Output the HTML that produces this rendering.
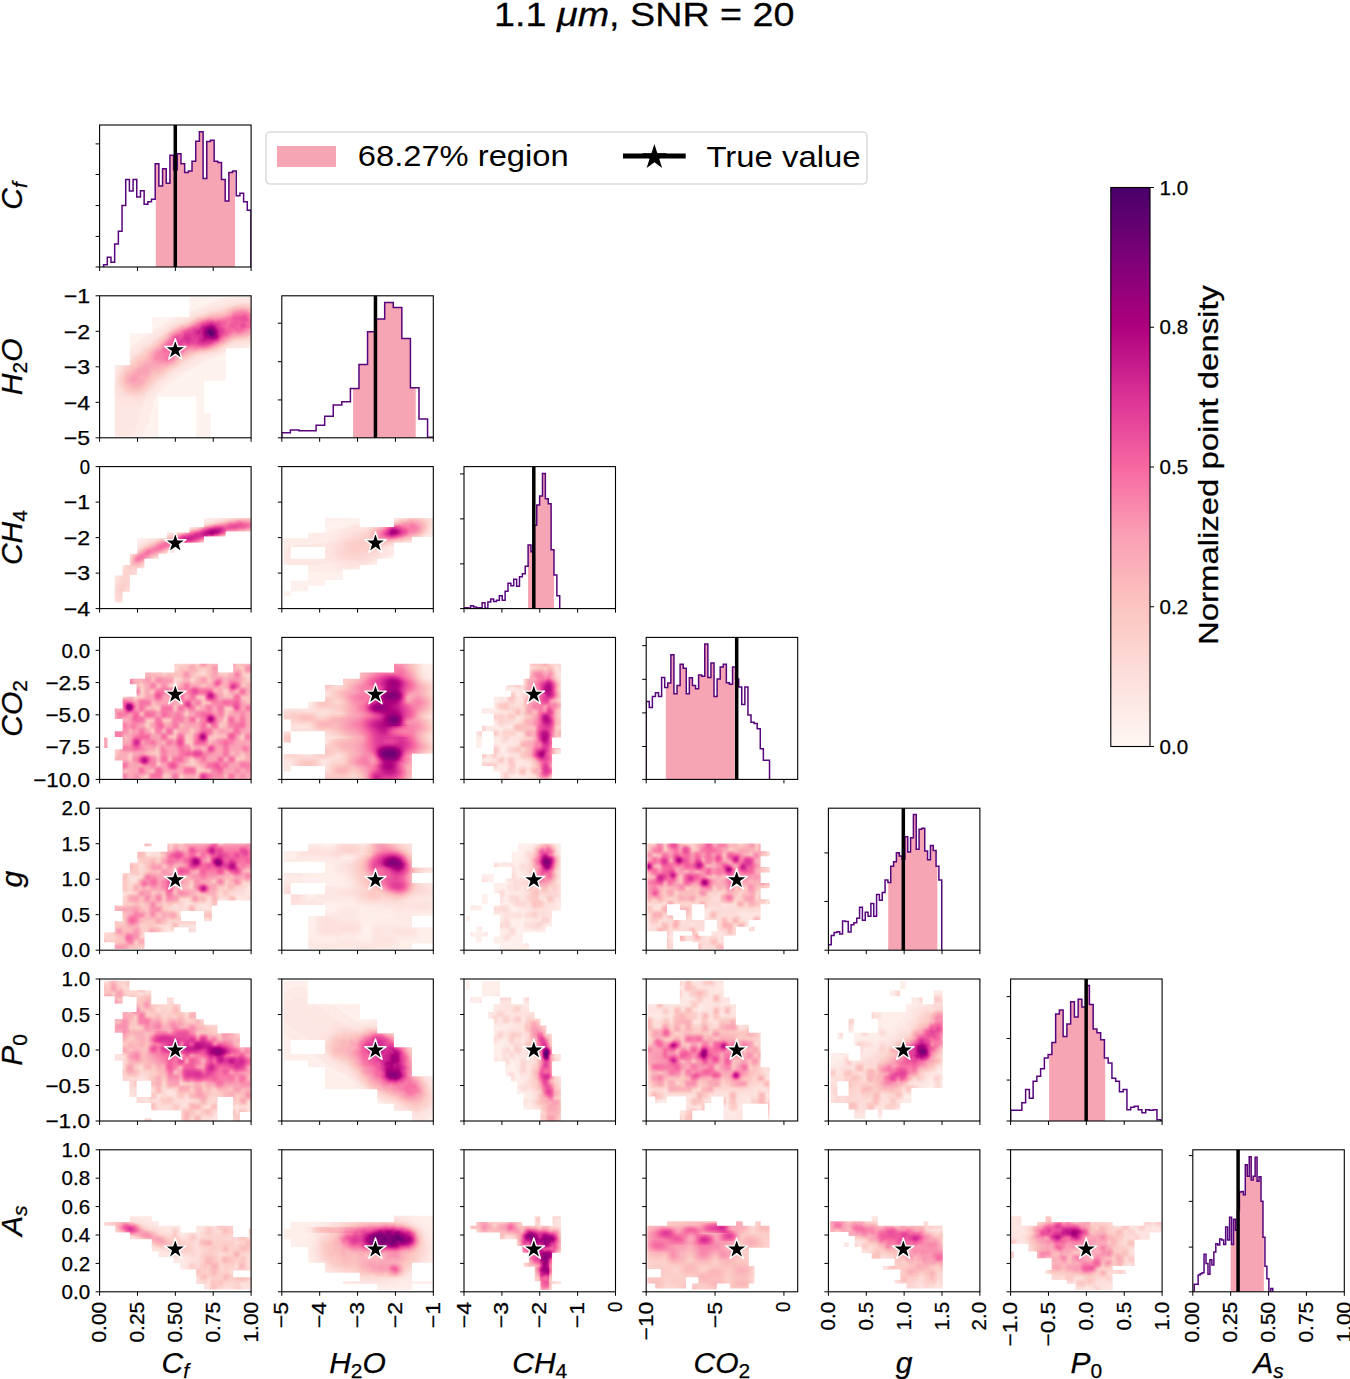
<!DOCTYPE html>
<html><head><meta charset="utf-8"><style>
html,body{margin:0;padding:0;background:#fff;width:1350px;height:1379px;overflow:hidden;}
svg{display:block;font-family:"Liberation Sans", sans-serif;}
</style></head><body>
<svg width="1350" height="1379" viewBox="0 0 1350 1379">
<defs><filter id="b1" x="-50%" y="-50%" width="200%" height="200%"><feGaussianBlur stdDeviation="1.5"/></filter>
<filter id="b2" x="-50%" y="-50%" width="200%" height="200%"><feGaussianBlur stdDeviation="3"/></filter>
<filter id="b3" x="-50%" y="-50%" width="200%" height="200%"><feGaussianBlur stdDeviation="5"/></filter>
<filter id="b5" x="-50%" y="-50%" width="200%" height="200%"><feGaussianBlur stdDeviation="2.2"/></filter>
<filter id="b4" x="-50%" y="-50%" width="200%" height="200%"><feGaussianBlur stdDeviation="8"/></filter>
<clipPath id="m10"><rect x="114.75" y="365.12" width="15.15" height="71.56"/><rect x="129.9" y="333.26" width="22.44" height="103.43"/><rect x="152.34" y="317.04" width="6.17" height="119.64"/><rect x="158.52" y="317.04" width="30.86" height="79.39"/><rect x="189.38" y="296.92" width="6.73" height="99.51"/><rect x="196.11" y="296.92" width="7.86" height="139.76"/><rect x="203.97" y="296.92" width="6.73" height="83.86"/><rect x="203.97" y="412.64" width="6.73" height="24.04"/><rect x="210.7" y="296.92" width="15.15" height="83.86"/><rect x="225.85" y="296.92" width="25.25" height="51.43"/></clipPath>
<filter id="cm10" filterUnits="userSpaceOnUse" x="97.6" y="293.8" width="155.5" height="146" color-interpolation-filters="sRGB"><feTurbulence type="fractalNoise" baseFrequency="0.12" numOctaves="2" seed="10" result="n"/><feColorMatrix in="n" type="matrix" values="1 0 0 0 0  1 0 0 0 0  1 0 0 0 0  0 0 0 0 1" result="ng0"/><feComponentTransfer in="ng0" result="ng"><feFuncR type="linear" slope="3" intercept="-1"/><feFuncG type="linear" slope="3" intercept="-1"/><feFuncB type="linear" slope="3" intercept="-1"/></feComponentTransfer><feComposite in="SourceGraphic" in2="ng" operator="arithmetic" k1="0.1" k2="0.95" k3="0" k4="0" result="m"/><feComponentTransfer in="m"><feFuncR type="table" tableValues="1.0000 0.9922 0.9882 0.9804 0.9686 0.8667 0.6824 0.4784 0.2863"/><feFuncG type="table" tableValues="0.9686 0.8784 0.7725 0.6235 0.4078 0.2039 0.0039 0.0039 0.0000"/><feFuncB type="table" tableValues="0.9529 0.8667 0.7529 0.7098 0.6314 0.5922 0.4941 0.4667 0.4157"/><feFuncA type="identity"/></feComponentTransfer></filter>
<clipPath id="m20"><rect x="114.75" y="575.62" width="7.86" height="26.83"/><rect x="122.61" y="564.99" width="7.29" height="26.83"/><rect x="129.9" y="553.81" width="7.29" height="21.24"/><rect x="137.19" y="538.16" width="7.29" height="30.19"/><rect x="144.49" y="538.16" width="14.03" height="20.69"/><rect x="158.52" y="538.16" width="8.42" height="15.65"/><rect x="166.93" y="532.57" width="6.73" height="20.13"/><rect x="173.67" y="532.57" width="15.71" height="10.06"/><rect x="189.38" y="526.98" width="14.59" height="15.65"/><rect x="203.97" y="518.03" width="21.88" height="18.45"/><rect x="225.85" y="518.03" width="25.25" height="13.42"/></clipPath>
<filter id="cm20" filterUnits="userSpaceOnUse" x="97.6" y="464.6" width="155.5" height="146" color-interpolation-filters="sRGB"><feTurbulence type="fractalNoise" baseFrequency="0.12" numOctaves="2" seed="20" result="n"/><feColorMatrix in="n" type="matrix" values="1 0 0 0 0  1 0 0 0 0  1 0 0 0 0  0 0 0 0 1" result="ng0"/><feComponentTransfer in="ng0" result="ng"><feFuncR type="linear" slope="3" intercept="-1"/><feFuncG type="linear" slope="3" intercept="-1"/><feFuncB type="linear" slope="3" intercept="-1"/></feComponentTransfer><feComposite in="SourceGraphic" in2="ng" operator="arithmetic" k1="0.1" k2="0.95" k3="0" k4="0" result="m"/><feComponentTransfer in="m"><feFuncR type="table" tableValues="1.0000 0.9922 0.9882 0.9804 0.9686 0.8667 0.6824 0.4784 0.2863"/><feFuncG type="table" tableValues="0.9686 0.8784 0.7725 0.6235 0.4078 0.2039 0.0039 0.0039 0.0000"/><feFuncB type="table" tableValues="0.9529 0.8667 0.7529 0.7098 0.6314 0.5922 0.4941 0.4667 0.4157"/><feFuncA type="identity"/></feComponentTransfer></filter>
<clipPath id="m21"><rect x="283.48" y="538.16" width="41.52" height="8.94"/><rect x="283.48" y="547.1" width="7.29" height="17.89"/><rect x="290.78" y="558.84" width="34.23" height="6.15"/><rect x="308.17" y="532.57" width="16.83" height="5.59"/><rect x="308.17" y="564.99" width="16.83" height="20.69"/><rect x="290.78" y="580.65" width="17.39" height="10.62"/><rect x="283.48" y="591.27" width="7.29" height="5.03"/><rect x="325.01" y="518.03" width="17.96" height="62.06"/><rect x="342.96" y="518.03" width="16.83" height="51.43"/><rect x="359.79" y="526.98" width="17.39" height="38.02"/><rect x="377.19" y="526.98" width="16.83" height="31.87"/><rect x="394.02" y="518.03" width="17.96" height="24.6"/><rect x="411.98" y="518.03" width="21.32" height="19.01"/></clipPath>
<filter id="cm21" filterUnits="userSpaceOnUse" x="279.8" y="464.6" width="155.5" height="146" color-interpolation-filters="sRGB"><feTurbulence type="fractalNoise" baseFrequency="0.12" numOctaves="2" seed="21" result="n"/><feColorMatrix in="n" type="matrix" values="1 0 0 0 0  1 0 0 0 0  1 0 0 0 0  0 0 0 0 1" result="ng0"/><feComponentTransfer in="ng0" result="ng"><feFuncR type="linear" slope="3" intercept="-1"/><feFuncG type="linear" slope="3" intercept="-1"/><feFuncB type="linear" slope="3" intercept="-1"/></feComponentTransfer><feComposite in="SourceGraphic" in2="ng" operator="arithmetic" k1="0.1" k2="0.95" k3="0" k4="0" result="m"/><feComponentTransfer in="m"><feFuncR type="table" tableValues="1.0000 0.9922 0.9882 0.9804 0.9686 0.8667 0.6824 0.4784 0.2863"/><feFuncG type="table" tableValues="0.9686 0.8784 0.7725 0.6235 0.4078 0.2039 0.0039 0.0039 0.0000"/><feFuncB type="table" tableValues="0.9529 0.8667 0.7529 0.7098 0.6314 0.5922 0.4941 0.4667 0.4157"/><feFuncA type="identity"/></feComponentTransfer></filter>
<clipPath id="m30"><rect x="174.23" y="663.68" width="43.77" height="9.5"/><rect x="233.14" y="663.68" width="17.96" height="9.5"/><rect x="145.05" y="672.62" width="106.05" height="106.78"/><rect x="129.9" y="678.77" width="15.15" height="5.59"/><rect x="136.63" y="684.36" width="8.42" height="95.04"/><rect x="122.61" y="696.66" width="14.03" height="82.74"/><rect x="114.75" y="708.4" width="7.86" height="10.62"/><rect x="114.75" y="731.32" width="7.86" height="5.59"/><rect x="104.09" y="737.47" width="3.37" height="10.62"/><rect x="114.75" y="749.21" width="7.86" height="11.18"/></clipPath>
<filter id="cm30" filterUnits="userSpaceOnUse" x="97.6" y="635.4" width="155.5" height="146" color-interpolation-filters="sRGB"><feComponentTransfer in="SourceGraphic"><feFuncR type="table" tableValues="1.0000 0.9922 0.9882 0.9804 0.9686 0.8667 0.6824 0.4784 0.2863"/><feFuncG type="table" tableValues="0.9686 0.8784 0.7725 0.6235 0.4078 0.2039 0.0039 0.0039 0.0000"/><feFuncB type="table" tableValues="0.9529 0.8667 0.7529 0.7098 0.6314 0.5922 0.4941 0.4667 0.4157"/><feFuncA type="identity"/></feComponentTransfer></filter>
<clipPath id="m31"><rect x="394.02" y="663.68" width="39.28" height="90.01"/><rect x="359.79" y="672.62" width="34.23" height="106.78"/><rect x="342.96" y="678.77" width="16.83" height="100.63"/><rect x="325.01" y="684.92" width="17.96" height="94.48"/><rect x="308.17" y="701.69" width="16.83" height="17.89"/><rect x="283.48" y="708.4" width="24.69" height="11.18"/><rect x="290.78" y="719.58" width="34.23" height="11.74"/><rect x="283.48" y="731.32" width="7.29" height="11.18"/><rect x="283.48" y="754.24" width="41.52" height="11.74"/><rect x="283.48" y="765.98" width="7.29" height="5.59"/><rect x="394.02" y="753.68" width="17.96" height="25.72"/></clipPath>
<filter id="cm31" filterUnits="userSpaceOnUse" x="279.8" y="635.4" width="155.5" height="146" color-interpolation-filters="sRGB"><feComponentTransfer in="SourceGraphic"><feFuncR type="table" tableValues="1.0000 0.9922 0.9882 0.9804 0.9686 0.8667 0.6824 0.4784 0.2863"/><feFuncG type="table" tableValues="0.9686 0.8784 0.7725 0.6235 0.4078 0.2039 0.0039 0.0039 0.0000"/><feFuncB type="table" tableValues="0.9529 0.8667 0.7529 0.7098 0.6314 0.5922 0.4941 0.4667 0.4157"/><feFuncA type="identity"/></feComponentTransfer></filter>
<clipPath id="m32"><rect x="529.65" y="663.68" width="31.42" height="73.8"/><rect x="523.48" y="678.77" width="6.17" height="100.63"/><rect x="505.52" y="684.92" width="17.96" height="6.15"/><rect x="511.13" y="691.07" width="12.34" height="88.33"/><rect x="493.74" y="696.66" width="17.39" height="74.91"/><rect x="499.91" y="771.57" width="11.22" height="7.83"/><rect x="481.96" y="708.4" width="11.78" height="5.03"/><rect x="481.96" y="725.73" width="11.78" height="5.59"/><rect x="476.34" y="731.32" width="5.61" height="16.77"/><rect x="481.96" y="754.24" width="11.78" height="11.74"/><rect x="529.65" y="737.47" width="22.44" height="41.93"/><rect x="552.09" y="748.09" width="8.98" height="6.15"/></clipPath>
<filter id="cm32" filterUnits="userSpaceOnUse" x="462" y="635.4" width="155.5" height="146" color-interpolation-filters="sRGB"><feComponentTransfer in="SourceGraphic"><feFuncR type="table" tableValues="1.0000 0.9922 0.9882 0.9804 0.9686 0.8667 0.6824 0.4784 0.2863"/><feFuncG type="table" tableValues="0.9686 0.8784 0.7725 0.6235 0.4078 0.2039 0.0039 0.0039 0.0000"/><feFuncB type="table" tableValues="0.9529 0.8667 0.7529 0.7098 0.6314 0.5922 0.4941 0.4667 0.4157"/><feFuncA type="identity"/></feComponentTransfer></filter>
<clipPath id="m40"><rect x="167.49" y="843.42" width="83.61" height="57.02"/><rect x="137.19" y="851.81" width="30.3" height="10.62"/><rect x="129.9" y="862.43" width="37.59" height="10.62"/><rect x="122.61" y="873.05" width="94.83" height="32.43"/><rect x="114.75" y="905.48" width="97.07" height="5.59"/><rect x="122.61" y="911.07" width="58.36" height="10.06"/><rect x="203.97" y="905.48" width="7.86" height="15.65"/><rect x="114.75" y="921.13" width="81.36" height="6.15"/><rect x="114.75" y="927.28" width="58.92" height="5.03"/><rect x="188.82" y="927.28" width="7.29" height="5.03"/><rect x="104.09" y="932.31" width="40.4" height="10.06"/><rect x="114.75" y="942.37" width="29.74" height="6.71"/><rect x="144.49" y="843.42" width="7.29" height="2.8"/></clipPath>
<filter id="cm40" filterUnits="userSpaceOnUse" x="97.6" y="806.2" width="155.5" height="146" color-interpolation-filters="sRGB"><feComponentTransfer in="SourceGraphic"><feFuncR type="table" tableValues="1.0000 0.9922 0.9882 0.9804 0.9686 0.8667 0.6824 0.4784 0.2863"/><feFuncG type="table" tableValues="0.9686 0.8784 0.7725 0.6235 0.4078 0.2039 0.0039 0.0039 0.0000"/><feFuncB type="table" tableValues="0.9529 0.8667 0.7529 0.7098 0.6314 0.5922 0.4941 0.4667 0.4157"/><feFuncA type="identity"/></feComponentTransfer></filter>
<clipPath id="m41"><rect x="325.01" y="843.42" width="86.97" height="105.66"/><rect x="308.17" y="843.42" width="16.83" height="18.45"/><rect x="283.48" y="851.25" width="24.69" height="10.62"/><rect x="283.48" y="873.05" width="41.52" height="10.06"/><rect x="283.48" y="883.11" width="7.29" height="11.18"/><rect x="290.78" y="894.29" width="34.23" height="10.62"/><rect x="308.17" y="916.1" width="16.83" height="32.98"/><rect x="411.98" y="867.46" width="21.32" height="5.59"/><rect x="411.98" y="883.11" width="21.32" height="32.98"/><rect x="411.98" y="927.28" width="21.32" height="16.21"/></clipPath>
<filter id="cm41" filterUnits="userSpaceOnUse" x="279.8" y="806.2" width="155.5" height="146" color-interpolation-filters="sRGB"><feComponentTransfer in="SourceGraphic"><feFuncR type="table" tableValues="1.0000 0.9922 0.9882 0.9804 0.9686 0.8667 0.6824 0.4784 0.2863"/><feFuncG type="table" tableValues="0.9686 0.8784 0.7725 0.6235 0.4078 0.2039 0.0039 0.0039 0.0000"/><feFuncB type="table" tableValues="0.9529 0.8667 0.7529 0.7098 0.6314 0.5922 0.4941 0.4667 0.4157"/><feFuncA type="identity"/></feComponentTransfer></filter>
<clipPath id="m42"><rect x="517.87" y="843.42" width="43.21" height="67.09"/><rect x="511.69" y="851.81" width="6.17" height="80.5"/><rect x="505.52" y="878.64" width="6.17" height="53.67"/><rect x="493.74" y="883.11" width="11.78" height="10.06"/><rect x="499.91" y="893.18" width="5.61" height="57.02"/><rect x="493.74" y="905.48" width="6.17" height="10.06"/><rect x="493.74" y="936.78" width="6.17" height="6.71"/><rect x="517.87" y="910.51" width="34.23" height="16.21"/><rect x="517.87" y="926.72" width="28.06" height="5.59"/><rect x="499.91" y="932.31" width="23.01" height="17.89"/><rect x="522.92" y="943.49" width="6.17" height="6.71"/><rect x="493.74" y="862.43" width="17.96" height="4.47"/><rect x="481.96" y="874.17" width="11.78" height="7.83"/><rect x="481.96" y="894.29" width="5.61" height="10.06"/><rect x="470.17" y="905.48" width="11.78" height="5.03"/><rect x="466.24" y="916.1" width="3.93" height="5.03"/><rect x="470.17" y="932.31" width="17.39" height="4.47"/><rect x="476.34" y="926.72" width="5.61" height="15.65"/></clipPath>
<filter id="cm42" filterUnits="userSpaceOnUse" x="462" y="806.2" width="155.5" height="146" color-interpolation-filters="sRGB"><feTurbulence type="fractalNoise" baseFrequency="0.12" numOctaves="2" seed="42" result="n"/><feColorMatrix in="n" type="matrix" values="1 0 0 0 0  1 0 0 0 0  1 0 0 0 0  0 0 0 0 1" result="ng0"/><feComponentTransfer in="ng0" result="ng"><feFuncR type="linear" slope="3" intercept="-1"/><feFuncG type="linear" slope="3" intercept="-1"/><feFuncB type="linear" slope="3" intercept="-1"/></feComponentTransfer><feComposite in="SourceGraphic" in2="ng" operator="arithmetic" k1="0.1" k2="0.95" k3="0" k4="0" result="m"/><feComponentTransfer in="m"><feFuncR type="table" tableValues="1.0000 0.9922 0.9882 0.9804 0.9686 0.8667 0.6824 0.4784 0.2863"/><feFuncG type="table" tableValues="0.9686 0.8784 0.7725 0.6235 0.4078 0.2039 0.0039 0.0039 0.0000"/><feFuncB type="table" tableValues="0.9529 0.8667 0.7529 0.7098 0.6314 0.5922 0.4941 0.4667 0.4157"/><feFuncA type="identity"/></feComponentTransfer></filter>
<clipPath id="m43"><rect x="647.32" y="843.42" width="113.34" height="60.94"/><rect x="760.67" y="851.25" width="8.98" height="5.03"/><rect x="760.67" y="866.9" width="8.98" height="5.59"/><rect x="760.67" y="883.11" width="8.98" height="5.03"/><rect x="760.67" y="899.33" width="8.98" height="5.03"/><rect x="647.32" y="904.36" width="19.64" height="26.83"/><rect x="666.96" y="915.54" width="6.17" height="15.65"/><rect x="673.13" y="920.01" width="31.42" height="11.18"/><rect x="679.87" y="904.36" width="6.17" height="5.59"/><rect x="686.04" y="904.36" width="6.17" height="15.65"/><rect x="704.56" y="904.36" width="56.11" height="15.65"/><rect x="716.9" y="920.01" width="31.98" height="6.71"/><rect x="716.9" y="926.72" width="19.08" height="8.94"/><rect x="711.29" y="931.19" width="5.61" height="4.47"/><rect x="666.96" y="931.19" width="6.17" height="18"/><rect x="679.87" y="935.66" width="12.34" height="5.59"/><rect x="692.21" y="931.19" width="6.17" height="11.18"/><rect x="698.38" y="935.66" width="25.25" height="13.53"/><rect x="748.88" y="926.72" width="5.61" height="4.47"/></clipPath>
<filter id="cm43" filterUnits="userSpaceOnUse" x="644.2" y="806.2" width="155.5" height="146" color-interpolation-filters="sRGB"><feComponentTransfer in="SourceGraphic"><feFuncR type="table" tableValues="1.0000 0.9922 0.9882 0.9804 0.9686 0.8667 0.6824 0.4784 0.2863"/><feFuncG type="table" tableValues="0.9686 0.8784 0.7725 0.6235 0.4078 0.2039 0.0039 0.0039 0.0000"/><feFuncB type="table" tableValues="0.9529 0.8667 0.7529 0.7098 0.6314 0.5922 0.4941 0.4667 0.4157"/><feFuncA type="identity"/></feComponentTransfer></filter>
<clipPath id="m50"><rect x="104.09" y="980.68" width="25.25" height="15.65"/><rect x="114.75" y="990.18" width="7.86" height="13.42"/><rect x="129.34" y="990.18" width="7.29" height="6.71"/><rect x="136.63" y="990.18" width="14.59" height="21.8"/><rect x="122.61" y="1011.98" width="28.62" height="7.27"/><rect x="114.75" y="1019.25" width="36.47" height="13.42"/><rect x="122.61" y="1032.67" width="28.62" height="21.24"/><rect x="114.75" y="1053.91" width="36.47" height="6.71"/><rect x="122.61" y="1060.62" width="28.62" height="20.13"/><rect x="129.34" y="1080.75" width="7.29" height="16.21"/><rect x="136.63" y="1096.96" width="14.59" height="6.15"/><rect x="151.22" y="1004.16" width="15.71" height="106.22"/><rect x="166.93" y="997.45" width="6.73" height="112.93"/><rect x="173.67" y="1004.16" width="7.29" height="106.22"/><rect x="180.96" y="1011.98" width="15.15" height="109.02"/><rect x="196.11" y="1019.25" width="7.86" height="101.75"/><rect x="203.97" y="1024.84" width="13.47" height="96.16"/><rect x="217.43" y="1033.23" width="15.71" height="63.73"/><rect x="233.14" y="1033.23" width="6.73" height="87.77"/><rect x="239.88" y="1047.2" width="11.22" height="64.85"/><rect x="144.49" y="1118.2" width="6.73" height="2.8"/></clipPath>
<filter id="cm50" filterUnits="userSpaceOnUse" x="97.6" y="977" width="155.5" height="146" color-interpolation-filters="sRGB"><feComponentTransfer in="SourceGraphic"><feFuncR type="table" tableValues="1.0000 0.9922 0.9882 0.9804 0.9686 0.8667 0.6824 0.4784 0.2863"/><feFuncG type="table" tableValues="0.9686 0.8784 0.7725 0.6235 0.4078 0.2039 0.0039 0.0039 0.0000"/><feFuncB type="table" tableValues="0.9529 0.8667 0.7529 0.7098 0.6314 0.5922 0.4941 0.4667 0.4157"/><feFuncA type="identity"/></feComponentTransfer></filter>
<clipPath id="m51"><rect x="283.48" y="980.68" width="24.13" height="59.26"/><rect x="283.48" y="1039.94" width="7.29" height="13.98"/><rect x="283.48" y="1053.91" width="41.52" height="6.71"/><rect x="308.17" y="1060.62" width="16.83" height="6.71"/><rect x="307.61" y="1004.16" width="17.39" height="35.78"/><rect x="325.01" y="1004.16" width="34.79" height="84.98"/><rect x="359.79" y="1019.25" width="17.39" height="69.88"/><rect x="377.19" y="1033.23" width="16.83" height="70.44"/><rect x="394.02" y="1047.2" width="17.96" height="63.73"/><rect x="411.98" y="1076.28" width="21.32" height="44.72"/></clipPath>
<filter id="cm51" filterUnits="userSpaceOnUse" x="279.8" y="977" width="155.5" height="146" color-interpolation-filters="sRGB"><feTurbulence type="fractalNoise" baseFrequency="0.12" numOctaves="2" seed="51" result="n"/><feColorMatrix in="n" type="matrix" values="1 0 0 0 0  1 0 0 0 0  1 0 0 0 0  0 0 0 0 1" result="ng0"/><feComponentTransfer in="ng0" result="ng"><feFuncR type="linear" slope="3" intercept="-1"/><feFuncG type="linear" slope="3" intercept="-1"/><feFuncB type="linear" slope="3" intercept="-1"/></feComponentTransfer><feComposite in="SourceGraphic" in2="ng" operator="arithmetic" k1="0.1" k2="0.95" k3="0" k4="0" result="m"/><feComponentTransfer in="m"><feFuncR type="table" tableValues="1.0000 0.9922 0.9882 0.9804 0.9686 0.8667 0.6824 0.4784 0.2863"/><feFuncG type="table" tableValues="0.9686 0.8784 0.7725 0.6235 0.4078 0.2039 0.0039 0.0039 0.0000"/><feFuncB type="table" tableValues="0.9529 0.8667 0.7529 0.7098 0.6314 0.5922 0.4941 0.4667 0.4157"/><feFuncA type="identity"/></feComponentTransfer></filter>
<clipPath id="m52"><rect x="488.13" y="1011.98" width="46.57" height="6.71"/><rect x="493.74" y="1004.16" width="35.35" height="7.83"/><rect x="499.91" y="997.45" width="11.22" height="6.71"/><rect x="523.48" y="997.45" width="5.61" height="6.71"/><rect x="493.74" y="1018.69" width="46.57" height="6.71"/><rect x="493.74" y="1025.4" width="52.74" height="8.39"/><rect x="493.74" y="1033.79" width="58.36" height="20.13"/><rect x="493.74" y="1053.91" width="67.33" height="7.27"/><rect x="505.52" y="1061.18" width="46.57" height="15.09"/><rect x="511.13" y="1076.28" width="49.94" height="5.59"/><rect x="516.74" y="1081.87" width="44.33" height="12.3"/><rect x="523.48" y="1094.17" width="37.59" height="15.65"/><rect x="540.31" y="1109.82" width="20.76" height="11.18"/><rect x="481.96" y="981.24" width="17.96" height="15.09"/><rect x="466.24" y="981.24" width="3.37" height="8.94"/><rect x="470.17" y="996.89" width="11.78" height="6.15"/></clipPath>
<filter id="cm52" filterUnits="userSpaceOnUse" x="462" y="977" width="155.5" height="146" color-interpolation-filters="sRGB"><feTurbulence type="fractalNoise" baseFrequency="0.12" numOctaves="2" seed="52" result="n"/><feColorMatrix in="n" type="matrix" values="1 0 0 0 0  1 0 0 0 0  1 0 0 0 0  0 0 0 0 1" result="ng0"/><feComponentTransfer in="ng0" result="ng"><feFuncR type="linear" slope="3" intercept="-1"/><feFuncG type="linear" slope="3" intercept="-1"/><feFuncB type="linear" slope="3" intercept="-1"/></feComponentTransfer><feComposite in="SourceGraphic" in2="ng" operator="arithmetic" k1="0.1" k2="0.95" k3="0" k4="0" result="m"/><feComponentTransfer in="m"><feFuncR type="table" tableValues="1.0000 0.9922 0.9882 0.9804 0.9686 0.8667 0.6824 0.4784 0.2863"/><feFuncG type="table" tableValues="0.9686 0.8784 0.7725 0.6235 0.4078 0.2039 0.0039 0.0039 0.0000"/><feFuncB type="table" tableValues="0.9529 0.8667 0.7529 0.7098 0.6314 0.5922 0.4941 0.4667 0.4157"/><feFuncA type="identity"/></feComponentTransfer></filter>
<clipPath id="m53"><rect x="679.87" y="980.68" width="43.77" height="23.48"/><rect x="723.63" y="997.45" width="6.17" height="6.71"/><rect x="647.88" y="1004.16" width="88.09" height="92.24"/><rect x="735.98" y="1024.84" width="12.91" height="71.56"/><rect x="748.88" y="1032.67" width="11.78" height="63.73"/><rect x="760.67" y="1067.33" width="8.98" height="36.34"/><rect x="742.71" y="1096.4" width="26.93" height="7.27"/><rect x="655.18" y="1096.4" width="11.78" height="6.71"/><rect x="686.04" y="1096.4" width="18.52" height="13.98"/><rect x="704.56" y="1096.4" width="6.73" height="6.71"/><rect x="723.63" y="1096.4" width="19.08" height="23.59"/><rect x="679.87" y="1110.38" width="12.34" height="9.62"/><rect x="767.96" y="1103.67" width="1.68" height="16.32"/></clipPath>
<filter id="cm53" filterUnits="userSpaceOnUse" x="644.2" y="977" width="155.5" height="146" color-interpolation-filters="sRGB"><feComponentTransfer in="SourceGraphic"><feFuncR type="table" tableValues="1.0000 0.9922 0.9882 0.9804 0.9686 0.8667 0.6824 0.4784 0.2863"/><feFuncG type="table" tableValues="0.9686 0.8784 0.7725 0.6235 0.4078 0.2039 0.0039 0.0039 0.0000"/><feFuncB type="table" tableValues="0.9529 0.8667 0.7529 0.7098 0.6314 0.5922 0.4941 0.4667 0.4157"/><feFuncA type="identity"/></feComponentTransfer></filter>
<clipPath id="m54"><rect x="933.89" y="990.18" width="8.98" height="13.98"/><rect x="911.44" y="997.45" width="11.22" height="6.71"/><rect x="905.83" y="1004.16" width="37.03" height="83.86"/><rect x="871.61" y="1011.98" width="34.23" height="6.71"/><rect x="877.78" y="1018.69" width="28.06" height="13.98"/><rect x="848.6" y="1018.69" width="5.61" height="13.98"/><rect x="837.38" y="1032.67" width="5.61" height="6.71"/><rect x="854.21" y="1032.67" width="51.62" height="13.42"/><rect x="860.38" y="1046.09" width="45.45" height="14.54"/><rect x="830.64" y="1053.35" width="17.96" height="7.27"/><rect x="830.64" y="1060.62" width="75.19" height="20.69"/><rect x="830.64" y="1081.31" width="6.73" height="21.8"/><rect x="848.6" y="1081.31" width="57.23" height="21.8"/><rect x="837.38" y="1095.84" width="11.22" height="7.27"/><rect x="905.83" y="1088.02" width="5.61" height="15.09"/><rect x="848.6" y="1103.11" width="51.62" height="6.71"/><rect x="854.21" y="1109.82" width="11.22" height="8.94"/><rect x="877.78" y="1109.82" width="4.49" height="8.94"/><rect x="889.56" y="990.18" width="10.66" height="6.15"/><rect x="900.22" y="981.24" width="5.61" height="7.83"/></clipPath>
<filter id="cm54" filterUnits="userSpaceOnUse" x="826.4" y="977" width="155.5" height="146" color-interpolation-filters="sRGB"><feTurbulence type="fractalNoise" baseFrequency="0.12" numOctaves="2" seed="54" result="n"/><feColorMatrix in="n" type="matrix" values="1 0 0 0 0  1 0 0 0 0  1 0 0 0 0  0 0 0 0 1" result="ng0"/><feComponentTransfer in="ng0" result="ng"><feFuncR type="linear" slope="3" intercept="-1"/><feFuncG type="linear" slope="3" intercept="-1"/><feFuncB type="linear" slope="3" intercept="-1"/></feComponentTransfer><feComposite in="SourceGraphic" in2="ng" operator="arithmetic" k1="0.1" k2="0.95" k3="0" k4="0" result="m"/><feComponentTransfer in="m"><feFuncR type="table" tableValues="1.0000 0.9922 0.9882 0.9804 0.9686 0.8667 0.6824 0.4784 0.2863"/><feFuncG type="table" tableValues="0.9686 0.8784 0.7725 0.6235 0.4078 0.2039 0.0039 0.0039 0.0000"/><feFuncB type="table" tableValues="0.9529 0.8667 0.7529 0.7098 0.6314 0.5922 0.4941 0.4667 0.4157"/><feFuncA type="identity"/></feComponentTransfer></filter>
<clipPath id="m60"><rect x="104.09" y="1221.92" width="11.22" height="3.91"/><rect x="115.31" y="1221.92" width="14.59" height="10.62"/><rect x="129.9" y="1216.33" width="21.88" height="22.92"/><rect x="151.78" y="1221.36" width="6.73" height="30.19"/><rect x="158.52" y="1225.83" width="21.88" height="31.31"/><rect x="180.4" y="1232.54" width="15.71" height="36.9"/><rect x="173.67" y="1257.14" width="6.73" height="5.59"/><rect x="196.11" y="1225.83" width="37.03" height="58.14"/><rect x="203.97" y="1283.97" width="29.18" height="5.59"/><rect x="233.14" y="1237.01" width="17.96" height="33.54"/><rect x="233.14" y="1277.26" width="17.96" height="12.3"/><rect x="248.86" y="1228.63" width="2.24" height="8.39"/></clipPath>
<filter id="cm60" filterUnits="userSpaceOnUse" x="97.6" y="1147.8" width="155.5" height="146" color-interpolation-filters="sRGB"><feTurbulence type="fractalNoise" baseFrequency="0.12" numOctaves="2" seed="60" result="n"/><feColorMatrix in="n" type="matrix" values="1 0 0 0 0  1 0 0 0 0  1 0 0 0 0  0 0 0 0 1" result="ng0"/><feComponentTransfer in="ng0" result="ng"><feFuncR type="linear" slope="3" intercept="-1"/><feFuncG type="linear" slope="3" intercept="-1"/><feFuncB type="linear" slope="3" intercept="-1"/></feComponentTransfer><feComposite in="SourceGraphic" in2="ng" operator="arithmetic" k1="0.1" k2="0.95" k3="0" k4="0" result="m"/><feComponentTransfer in="m"><feFuncR type="table" tableValues="1.0000 0.9922 0.9882 0.9804 0.9686 0.8667 0.6824 0.4784 0.2863"/><feFuncG type="table" tableValues="0.9686 0.8784 0.7725 0.6235 0.4078 0.2039 0.0039 0.0039 0.0000"/><feFuncB type="table" tableValues="0.9529 0.8667 0.7529 0.7098 0.6314 0.5922 0.4941 0.4667 0.4157"/><feFuncA type="identity"/></feComponentTransfer></filter>
<clipPath id="m61"><rect x="283.48" y="1228.63" width="7.29" height="10.62"/><rect x="290.78" y="1221.92" width="17.39" height="25.16"/><rect x="308.17" y="1221.92" width="16.83" height="40.81"/><rect x="325.01" y="1221.92" width="34.79" height="50.87"/><rect x="359.79" y="1221.92" width="34.23" height="59.26"/><rect x="394.02" y="1215.77" width="39.28" height="46.96"/><rect x="394.02" y="1262.73" width="17.96" height="18.45"/><rect x="342.96" y="1281.18" width="90.34" height="2.8"/><rect x="377.19" y="1283.97" width="34.79" height="6.15"/></clipPath>
<filter id="cm61" filterUnits="userSpaceOnUse" x="279.8" y="1147.8" width="155.5" height="146" color-interpolation-filters="sRGB"><feTurbulence type="fractalNoise" baseFrequency="0.12" numOctaves="2" seed="61" result="n"/><feColorMatrix in="n" type="matrix" values="1 0 0 0 0  1 0 0 0 0  1 0 0 0 0  0 0 0 0 1" result="ng0"/><feComponentTransfer in="ng0" result="ng"><feFuncR type="linear" slope="3" intercept="-1"/><feFuncG type="linear" slope="3" intercept="-1"/><feFuncB type="linear" slope="3" intercept="-1"/></feComponentTransfer><feComposite in="SourceGraphic" in2="ng" operator="arithmetic" k1="0.1" k2="0.95" k3="0" k4="0" result="m"/><feComponentTransfer in="m"><feFuncR type="table" tableValues="1.0000 0.9922 0.9882 0.9804 0.9686 0.8667 0.6824 0.4784 0.2863"/><feFuncG type="table" tableValues="0.9686 0.8784 0.7725 0.6235 0.4078 0.2039 0.0039 0.0039 0.0000"/><feFuncB type="table" tableValues="0.9529 0.8667 0.7529 0.7098 0.6314 0.5922 0.4941 0.4667 0.4157"/><feFuncA type="identity"/></feComponentTransfer></filter>
<clipPath id="m62"><rect x="470.17" y="1225.83" width="6.17" height="3.35"/><rect x="476.34" y="1221.92" width="46.01" height="10.62"/><rect x="499.91" y="1232.54" width="22.44" height="6.71"/><rect x="516.74" y="1239.25" width="5.61" height="6.71"/><rect x="522.36" y="1225.83" width="38.72" height="26.83"/><rect x="534.7" y="1216.33" width="5.61" height="9.5"/><rect x="552.66" y="1216.33" width="8.42" height="9.5"/><rect x="529.09" y="1252.67" width="23.01" height="13.98"/><rect x="523.48" y="1262.73" width="5.61" height="3.91"/><rect x="534.7" y="1266.64" width="17.39" height="14.54"/><rect x="540.31" y="1281.18" width="20.76" height="2.8"/><rect x="540.31" y="1283.97" width="11.78" height="6.15"/></clipPath>
<filter id="cm62" filterUnits="userSpaceOnUse" x="462" y="1147.8" width="155.5" height="146" color-interpolation-filters="sRGB"><feTurbulence type="fractalNoise" baseFrequency="0.12" numOctaves="2" seed="62" result="n"/><feColorMatrix in="n" type="matrix" values="1 0 0 0 0  1 0 0 0 0  1 0 0 0 0  0 0 0 0 1" result="ng0"/><feComponentTransfer in="ng0" result="ng"><feFuncR type="linear" slope="3" intercept="-1"/><feFuncG type="linear" slope="3" intercept="-1"/><feFuncB type="linear" slope="3" intercept="-1"/></feComponentTransfer><feComposite in="SourceGraphic" in2="ng" operator="arithmetic" k1="0.1" k2="0.95" k3="0" k4="0" result="m"/><feComponentTransfer in="m"><feFuncR type="table" tableValues="1.0000 0.9922 0.9882 0.9804 0.9686 0.8667 0.6824 0.4784 0.2863"/><feFuncG type="table" tableValues="0.9686 0.8784 0.7725 0.6235 0.4078 0.2039 0.0039 0.0039 0.0000"/><feFuncB type="table" tableValues="0.9529 0.8667 0.7529 0.7098 0.6314 0.5922 0.4941 0.4667 0.4157"/><feFuncA type="identity"/></feComponentTransfer></filter>
<clipPath id="m63"><rect x="666.96" y="1221.36" width="49.94" height="4.47"/><rect x="735.98" y="1221.36" width="6.73" height="4.47"/><rect x="755.06" y="1221.36" width="5.61" height="4.47"/><rect x="647.32" y="1225.83" width="122.32" height="21.8"/><rect x="647.32" y="1247.63" width="101.56" height="18.45"/><rect x="647.32" y="1266.08" width="107.17" height="2.8"/><rect x="660.79" y="1268.88" width="93.71" height="8.39"/><rect x="647.32" y="1277.26" width="38.72" height="6.15"/><rect x="698.38" y="1277.26" width="56.11" height="6.15"/><rect x="655.18" y="1283.41" width="30.86" height="5.03"/><rect x="692.21" y="1283.41" width="24.69" height="6.15"/><rect x="729.81" y="1283.41" width="19.08" height="5.03"/></clipPath>
<filter id="cm63" filterUnits="userSpaceOnUse" x="644.2" y="1147.8" width="155.5" height="146" color-interpolation-filters="sRGB"><feComponentTransfer in="SourceGraphic"><feFuncR type="table" tableValues="1.0000 0.9922 0.9882 0.9804 0.9686 0.8667 0.6824 0.4784 0.2863"/><feFuncG type="table" tableValues="0.9686 0.8784 0.7725 0.6235 0.4078 0.2039 0.0039 0.0039 0.0000"/><feFuncB type="table" tableValues="0.9529 0.8667 0.7529 0.7098 0.6314 0.5922 0.4941 0.4667 0.4157"/><feFuncA type="identity"/></feComponentTransfer></filter>
<clipPath id="m64"><rect x="830.08" y="1221.36" width="47.69" height="10.62"/><rect x="877.78" y="1225.83" width="65.09" height="6.15"/><rect x="848.6" y="1231.98" width="94.27" height="3.91"/><rect x="854.77" y="1235.89" width="88.09" height="11.18"/><rect x="844.11" y="1242.6" width="4.49" height="4.47"/><rect x="861.51" y="1247.08" width="81.36" height="6.15"/><rect x="871.61" y="1253.23" width="71.26" height="5.59"/><rect x="894.61" y="1258.82" width="48.26" height="7.27"/><rect x="882.83" y="1266.08" width="60.04" height="3.35"/><rect x="900.22" y="1269.44" width="42.64" height="10.62"/><rect x="894.61" y="1280.06" width="48.26" height="3.35"/><rect x="906.39" y="1283.41" width="36.47" height="5.03"/><rect x="871.61" y="1216.33" width="6.17" height="5.03"/><rect x="923.79" y="1221.36" width="4.49" height="4.47"/></clipPath>
<filter id="cm64" filterUnits="userSpaceOnUse" x="826.4" y="1147.8" width="155.5" height="146" color-interpolation-filters="sRGB"><feTurbulence type="fractalNoise" baseFrequency="0.12" numOctaves="2" seed="64" result="n"/><feColorMatrix in="n" type="matrix" values="1 0 0 0 0  1 0 0 0 0  1 0 0 0 0  0 0 0 0 1" result="ng0"/><feComponentTransfer in="ng0" result="ng"><feFuncR type="linear" slope="3" intercept="-1"/><feFuncG type="linear" slope="3" intercept="-1"/><feFuncB type="linear" slope="3" intercept="-1"/></feComponentTransfer><feComposite in="SourceGraphic" in2="ng" operator="arithmetic" k1="0.1" k2="0.95" k3="0" k4="0" result="m"/><feComponentTransfer in="m"><feFuncR type="table" tableValues="1.0000 0.9922 0.9882 0.9804 0.9686 0.8667 0.6824 0.4784 0.2863"/><feFuncG type="table" tableValues="0.9686 0.8784 0.7725 0.6235 0.4078 0.2039 0.0039 0.0039 0.0000"/><feFuncB type="table" tableValues="0.9529 0.8667 0.7529 0.7098 0.6314 0.5922 0.4941 0.4667 0.4157"/><feFuncA type="identity"/></feComponentTransfer></filter>
<clipPath id="m65"><rect x="1010.6" y="1216.33" width="10.66" height="9.5"/><rect x="1045.39" y="1216.33" width="6.17" height="5.59"/><rect x="1036.97" y="1221.92" width="75.75" height="3.91"/><rect x="1143.58" y="1221.92" width="18.52" height="3.91"/><rect x="1010.6" y="1225.83" width="151.5" height="6.71"/><rect x="1010.6" y="1232.54" width="139.16" height="7.27"/><rect x="1010.6" y="1239.81" width="124.01" height="3.91"/><rect x="1028.56" y="1243.72" width="106.05" height="7.83"/><rect x="1010.6" y="1251.55" width="3.37" height="6.71"/><rect x="1036.97" y="1251.55" width="97.63" height="6.71"/><rect x="1051.56" y="1258.26" width="83.04" height="7.83"/><rect x="1051.56" y="1266.08" width="61.16" height="3.91"/><rect x="1045.39" y="1270" width="80.8" height="3.91"/><rect x="1051.56" y="1273.91" width="61.16" height="6.15"/><rect x="1066.71" y="1280.06" width="46.01" height="3.91"/><rect x="1075.13" y="1283.97" width="37.59" height="6.15"/></clipPath>
<filter id="cm65" filterUnits="userSpaceOnUse" x="1008.6" y="1147.8" width="155.5" height="146" color-interpolation-filters="sRGB"><feTurbulence type="fractalNoise" baseFrequency="0.12" numOctaves="2" seed="65" result="n"/><feColorMatrix in="n" type="matrix" values="1 0 0 0 0  1 0 0 0 0  1 0 0 0 0  0 0 0 0 1" result="ng0"/><feComponentTransfer in="ng0" result="ng"><feFuncR type="linear" slope="3" intercept="-1"/><feFuncG type="linear" slope="3" intercept="-1"/><feFuncB type="linear" slope="3" intercept="-1"/></feComponentTransfer><feComposite in="SourceGraphic" in2="ng" operator="arithmetic" k1="0.1" k2="0.95" k3="0" k4="0" result="m"/><feComponentTransfer in="m"><feFuncR type="table" tableValues="1.0000 0.9922 0.9882 0.9804 0.9686 0.8667 0.6824 0.4784 0.2863"/><feFuncG type="table" tableValues="0.9686 0.8784 0.7725 0.6235 0.4078 0.2039 0.0039 0.0039 0.0000"/><feFuncB type="table" tableValues="0.9529 0.8667 0.7529 0.7098 0.6314 0.5922 0.4941 0.4667 0.4157"/><feFuncA type="identity"/></feComponentTransfer></filter>
<clipPath id="hc0"><rect x="99.6" y="125" width="151.5" height="142"/></clipPath>
<clipPath id="hc1"><rect x="281.8" y="295.8" width="151.5" height="142"/></clipPath>
<clipPath id="hc2"><rect x="464" y="466.6" width="151.5" height="142"/></clipPath>
<clipPath id="hc3"><rect x="646.2" y="637.4" width="151.5" height="142"/></clipPath>
<clipPath id="hc4"><rect x="828.4" y="808.2" width="151.5" height="142"/></clipPath>
<clipPath id="hc5"><rect x="1010.6" y="979" width="151.5" height="142"/></clipPath>
<clipPath id="hc6"><rect x="1192.8" y="1149.8" width="151.5" height="142"/></clipPath>
<linearGradient id="cbg" x1="0" y1="1" x2="0" y2="0"><stop offset="0" stop-color="#fff7f3"/><stop offset="0.12" stop-color="#fde0dd"/><stop offset="0.25" stop-color="#fcc5c0"/><stop offset="0.38" stop-color="#fa9fb5"/><stop offset="0.5" stop-color="#f768a1"/><stop offset="0.62" stop-color="#dd3497"/><stop offset="0.75" stop-color="#ae017e"/><stop offset="0.88" stop-color="#7a0177"/><stop offset="1" stop-color="#49006a"/></linearGradient></defs>
<rect width="1350" height="1379" fill="#fff"/>
<g clip-path="url(#m10)"><g filter="url(#cm10)">
<rect x="97.6" y="293.8" width="155.5" height="146" fill="#060606"/>
<path d="M119.8 424.38 L133.27 380.78 L150.1 365.12 L162.44 356.18 L175.91 347.23 L189.38 339.41 L206.21 332.7 L223.04 325.99 L251.1 318.16" fill="none" stroke="#191919" stroke-width="42.64" stroke-linecap="round" stroke-linejoin="round" filter="url(#b4)"/>
<path d="M133.27 380.78 L150.1 365.12 L162.44 356.18 L175.91 347.23 L189.38 339.41 L206.21 332.7 L223.04 325.99 L251.1 320.4" fill="none" stroke="#616161" stroke-width="23.57" stroke-linecap="round" stroke-linejoin="round" filter="url(#b4)"/>
<ellipse cx="135.51" cy="380.78" rx="7.86" ry="7.83" fill="#616161" filter="url(#b3)" transform="rotate(0 135.51 380.78)"/>
<ellipse cx="166.93" cy="353.94" rx="12.34" ry="8.94" fill="#808080" filter="url(#b3)" transform="rotate(-30 166.93 353.94)"/>
<ellipse cx="180.4" cy="340.52" rx="13.47" ry="10.06" fill="#999999" filter="url(#b3)" transform="rotate(-30 180.4 340.52)"/>
<ellipse cx="207.33" cy="333.82" rx="22.44" ry="13.42" fill="#a6a6a6" filter="url(#b3)" transform="rotate(-15 207.33 333.82)"/>
<ellipse cx="239.88" cy="322.63" rx="14.59" ry="12.3" fill="#8c8c8c" filter="url(#b3)" transform="rotate(-10 239.88 322.63)"/>
<ellipse cx="210.14" cy="332.7" rx="6.73" ry="6.15" fill="#f2f2f2" filter="url(#b2)" transform="rotate(0 210.14 332.7)"/>
</g></g>
<g clip-path="url(#m20)"><g filter="url(#cm20)">
<rect x="97.6" y="464.6" width="155.5" height="146" fill="#080808"/>
<path d="M118.68 595.18 L133.27 563.88 L150.1 550.46 L166.93 544.31 L194.99 537.04 L212.94 531.45 L234.27 526.42 L251.1 524.18" fill="none" stroke="#333333" stroke-width="17.96" stroke-linecap="round" stroke-linejoin="round" filter="url(#b3)"/>
<path d="M136.63 560.52 L150.1 551.58 L166.93 544.31 L194.99 536.48 L212.94 531.45 L234.27 525.86 L251.1 524.74" fill="none" stroke="#8c8c8c" stroke-width="7.86" stroke-linecap="round" stroke-linejoin="round" filter="url(#b2)"/>
<ellipse cx="191.62" cy="537.6" rx="14.59" ry="3.58" fill="#c7c7c7" filter="url(#b2)" transform="rotate(-12 191.62 537.6)"/>
<ellipse cx="214.07" cy="531.45" rx="12.34" ry="3.35" fill="#e6e6e6" filter="url(#b2)" transform="rotate(-8 214.07 531.45)"/>
<ellipse cx="237.63" cy="525.86" rx="10.1" ry="2.8" fill="#9e9e9e" filter="url(#b2)" transform="rotate(-5 237.63 525.86)"/>
</g></g>
<g clip-path="url(#m21)"><g filter="url(#cm21)">
<rect x="279.8" y="464.6" width="155.5" height="146" fill="#080808"/>
<path d="M293.02 556.05 L326.69 553.81 L360.36 544.87 L394.02 532.57 L427.69 524.74" fill="none" stroke="#151515" stroke-width="31.42" stroke-linecap="round" stroke-linejoin="round" filter="url(#b4)"/>
<ellipse cx="360.36" cy="547.1" rx="24.69" ry="14.54" fill="#383838" filter="url(#b4)" transform="rotate(-15 360.36 547.1)"/>
<ellipse cx="397.39" cy="531.45" rx="25.81" ry="6.71" fill="#9e9e9e" filter="url(#b3)" transform="rotate(-8 397.39 531.45)"/>
<ellipse cx="414.22" cy="525.86" rx="13.47" ry="5.03" fill="#737373" filter="url(#b3)" transform="rotate(-5 414.22 525.86)"/>
<ellipse cx="394.02" cy="532.01" rx="6.73" ry="3.91" fill="#e6e6e6" filter="url(#b2)" transform="rotate(-5 394.02 532.01)"/>
</g></g>
<g clip-path="url(#m30)"><g filter="url(#cm30)">
<rect x="97.6" y="635.4" width="155.5" height="146" fill="#4c4c4c"/>
<rect x="122.61" y="684.36" width="128.49" height="95.04" fill="#5c5c5c" filter="url(#b4)"/>
<ellipse cx="187.13" cy="670.94" rx="33.67" ry="6.71" fill="#404040" filter="url(#b3)" transform="rotate(0 187.13 670.94)"/>
<g filter="url(#b1)">
<path fill="#fff" fill-opacity="0.22" d="M110.82 637.4h5.61v5.68h-5.61zM116.43 637.4h5.61v5.68h-5.61zM122.04 637.4h5.61v5.68h-5.61zM138.88 637.4h5.61v5.68h-5.61zM200.6 637.4h5.61v5.68h-5.61zM155.71 643.08h5.61v5.68h-5.61zM194.99 643.08h5.61v5.68h-5.61zM155.71 648.76h5.61v5.68h-5.61zM217.43 648.76h5.61v5.68h-5.61zM245.49 648.76h5.61v5.68h-5.61zM161.32 654.44h5.61v5.68h-5.61zM172.54 654.44h5.61v5.68h-5.61zM200.6 660.12h5.61v5.68h-5.61zM110.82 665.8h5.61v5.68h-5.61zM133.27 671.48h5.61v5.68h-5.61zM183.77 671.48h5.61v5.68h-5.61zM234.27 671.48h5.61v5.68h-5.61zM116.43 677.16h5.61v5.68h-5.61zM183.77 682.84h5.61v5.68h-5.61zM234.27 682.84h5.61v5.68h-5.61zM189.38 688.52h5.61v5.68h-5.61zM200.6 688.52h5.61v5.68h-5.61zM206.21 688.52h5.61v5.68h-5.61zM239.88 688.52h5.61v5.68h-5.61zM99.6 694.2h5.61v5.68h-5.61zM178.16 694.2h5.61v5.68h-5.61zM206.21 694.2h5.61v5.68h-5.61zM211.82 694.2h5.61v5.68h-5.61zM234.27 694.2h5.61v5.68h-5.61zM116.43 699.88h5.61v5.68h-5.61zM223.04 699.88h5.61v5.68h-5.61zM234.27 699.88h5.61v5.68h-5.61zM245.49 705.56h5.61v5.68h-5.61zM116.43 711.24h5.61v5.68h-5.61zM133.27 711.24h5.61v5.68h-5.61zM144.49 711.24h5.61v5.68h-5.61zM161.32 711.24h5.61v5.68h-5.61zM200.6 711.24h5.61v5.68h-5.61zM189.38 716.92h5.61v5.68h-5.61zM228.66 716.92h5.61v5.68h-5.61zM105.21 722.6h5.61v5.68h-5.61zM110.82 722.6h5.61v5.68h-5.61zM239.88 722.6h5.61v5.68h-5.61zM110.82 728.28h5.61v5.68h-5.61zM166.93 728.28h5.61v5.68h-5.61zM234.27 728.28h5.61v5.68h-5.61zM116.43 733.96h5.61v5.68h-5.61zM138.88 733.96h5.61v5.68h-5.61zM144.49 733.96h5.61v5.68h-5.61zM161.32 733.96h5.61v5.68h-5.61zM178.16 733.96h5.61v5.68h-5.61zM200.6 733.96h5.61v5.68h-5.61zM228.66 733.96h5.61v5.68h-5.61zM178.16 739.64h5.61v5.68h-5.61zM194.99 739.64h5.61v5.68h-5.61zM223.04 739.64h5.61v5.68h-5.61zM133.27 745.32h5.61v5.68h-5.61zM194.99 751h5.61v5.68h-5.61zM105.21 756.68h5.61v5.68h-5.61zM138.88 756.68h5.61v5.68h-5.61zM161.32 756.68h5.61v5.68h-5.61zM178.16 756.68h5.61v5.68h-5.61zM217.43 756.68h5.61v5.68h-5.61zM228.66 756.68h5.61v5.68h-5.61zM116.43 762.36h5.61v5.68h-5.61zM122.04 762.36h5.61v5.68h-5.61zM211.82 762.36h5.61v5.68h-5.61zM110.82 768.04h5.61v5.68h-5.61zM138.88 768.04h5.61v5.68h-5.61zM183.77 768.04h5.61v5.68h-5.61zM189.38 768.04h5.61v5.68h-5.61zM217.43 768.04h5.61v5.68h-5.61zM150.1 773.72h5.61v5.68h-5.61zM155.71 773.72h5.61v5.68h-5.61zM172.54 773.72h5.61v5.68h-5.61zM206.21 773.72h5.61v5.68h-5.61zM228.66 773.72h5.61v5.68h-5.61z"/>
<path fill="#fff" fill-opacity="0.12" d="M127.66 637.4h5.61v5.68h-5.61zM150.1 637.4h5.61v5.68h-5.61zM183.77 637.4h5.61v5.68h-5.61zM223.04 637.4h5.61v5.68h-5.61zM234.27 643.08h5.61v5.68h-5.61zM245.49 643.08h5.61v5.68h-5.61zM144.49 648.76h5.61v5.68h-5.61zM150.1 648.76h5.61v5.68h-5.61zM228.66 648.76h5.61v5.68h-5.61zM99.6 654.44h5.61v5.68h-5.61zM110.82 654.44h5.61v5.68h-5.61zM150.1 654.44h5.61v5.68h-5.61zM166.93 654.44h5.61v5.68h-5.61zM133.27 660.12h5.61v5.68h-5.61zM138.88 660.12h5.61v5.68h-5.61zM138.88 665.8h5.61v5.68h-5.61zM144.49 665.8h5.61v5.68h-5.61zM189.38 665.8h5.61v5.68h-5.61zM99.6 671.48h5.61v5.68h-5.61zM110.82 671.48h5.61v5.68h-5.61zM211.82 671.48h5.61v5.68h-5.61zM144.49 677.16h5.61v5.68h-5.61zM161.32 677.16h5.61v5.68h-5.61zM166.93 677.16h5.61v5.68h-5.61zM200.6 677.16h5.61v5.68h-5.61zM217.43 677.16h5.61v5.68h-5.61zM228.66 677.16h5.61v5.68h-5.61zM234.27 677.16h5.61v5.68h-5.61zM122.04 682.84h5.61v5.68h-5.61zM161.32 682.84h5.61v5.68h-5.61zM122.04 688.52h5.61v5.68h-5.61zM155.71 688.52h5.61v5.68h-5.61zM178.16 688.52h5.61v5.68h-5.61zM183.77 688.52h5.61v5.68h-5.61zM194.99 688.52h5.61v5.68h-5.61zM155.71 694.2h5.61v5.68h-5.61zM105.21 699.88h5.61v5.68h-5.61zM183.77 699.88h5.61v5.68h-5.61zM194.99 699.88h5.61v5.68h-5.61zM211.82 699.88h5.61v5.68h-5.61zM217.43 699.88h5.61v5.68h-5.61zM189.38 705.56h5.61v5.68h-5.61zM166.93 711.24h5.61v5.68h-5.61zM194.99 711.24h5.61v5.68h-5.61zM206.21 711.24h5.61v5.68h-5.61zM217.43 711.24h5.61v5.68h-5.61zM239.88 711.24h5.61v5.68h-5.61zM116.43 716.92h5.61v5.68h-5.61zM172.54 716.92h5.61v5.68h-5.61zM178.16 716.92h5.61v5.68h-5.61zM200.6 716.92h5.61v5.68h-5.61zM206.21 716.92h5.61v5.68h-5.61zM211.82 716.92h5.61v5.68h-5.61zM228.66 722.6h5.61v5.68h-5.61zM122.04 728.28h5.61v5.68h-5.61zM155.71 728.28h5.61v5.68h-5.61zM133.27 733.96h5.61v5.68h-5.61zM194.99 733.96h5.61v5.68h-5.61zM105.21 739.64h5.61v5.68h-5.61zM116.43 739.64h5.61v5.68h-5.61zM144.49 739.64h5.61v5.68h-5.61zM217.43 739.64h5.61v5.68h-5.61zM228.66 739.64h5.61v5.68h-5.61zM127.66 745.32h5.61v5.68h-5.61zM138.88 745.32h5.61v5.68h-5.61zM183.77 745.32h5.61v5.68h-5.61zM161.32 751h5.61v5.68h-5.61zM178.16 751h5.61v5.68h-5.61zM133.27 756.68h5.61v5.68h-5.61zM150.1 756.68h5.61v5.68h-5.61zM150.1 762.36h5.61v5.68h-5.61zM172.54 762.36h5.61v5.68h-5.61zM211.82 768.04h5.61v5.68h-5.61zM234.27 768.04h5.61v5.68h-5.61zM245.49 768.04h5.61v5.68h-5.61zM133.27 773.72h5.61v5.68h-5.61zM200.6 773.72h5.61v5.68h-5.61zM211.82 773.72h5.61v5.68h-5.61zM217.43 773.72h5.61v5.68h-5.61zM239.88 773.72h5.61v5.68h-5.61z"/>
<path fill="#000" fill-opacity="0.45" d="M161.32 637.4h5.61v5.68h-5.61zM217.43 637.4h5.61v5.68h-5.61zM99.6 643.08h5.61v5.68h-5.61zM200.6 643.08h5.61v5.68h-5.61zM217.43 643.08h5.61v5.68h-5.61zM189.38 648.76h5.61v5.68h-5.61zM105.21 654.44h5.61v5.68h-5.61zM155.71 654.44h5.61v5.68h-5.61zM178.16 660.12h5.61v5.68h-5.61zM245.49 660.12h5.61v5.68h-5.61zM172.54 665.8h5.61v5.68h-5.61zM122.04 671.48h5.61v5.68h-5.61zM200.6 671.48h5.61v5.68h-5.61zM245.49 671.48h5.61v5.68h-5.61zM172.54 677.16h5.61v5.68h-5.61zM189.38 677.16h5.61v5.68h-5.61zM166.93 682.84h5.61v5.68h-5.61zM172.54 682.84h5.61v5.68h-5.61zM105.21 688.52h5.61v5.68h-5.61zM110.82 688.52h5.61v5.68h-5.61zM138.88 688.52h5.61v5.68h-5.61zM223.04 688.52h5.61v5.68h-5.61zM105.21 694.2h5.61v5.68h-5.61zM122.04 694.2h5.61v5.68h-5.61zM133.27 694.2h5.61v5.68h-5.61zM138.88 694.2h5.61v5.68h-5.61zM194.99 694.2h5.61v5.68h-5.61zM200.6 694.2h5.61v5.68h-5.61zM178.16 699.88h5.61v5.68h-5.61zM155.71 705.56h5.61v5.68h-5.61zM172.54 705.56h5.61v5.68h-5.61zM228.66 705.56h5.61v5.68h-5.61zM105.21 711.24h5.61v5.68h-5.61zM138.88 711.24h5.61v5.68h-5.61zM161.32 716.92h5.61v5.68h-5.61zM223.04 716.92h5.61v5.68h-5.61zM144.49 722.6h5.61v5.68h-5.61zM161.32 722.6h5.61v5.68h-5.61zM206.21 722.6h5.61v5.68h-5.61zM150.1 728.28h5.61v5.68h-5.61zM172.54 728.28h5.61v5.68h-5.61zM183.77 733.96h5.61v5.68h-5.61zM239.88 733.96h5.61v5.68h-5.61zM183.77 739.64h5.61v5.68h-5.61zM155.71 745.32h5.61v5.68h-5.61zM110.82 751h5.61v5.68h-5.61zM200.6 751h5.61v5.68h-5.61zM166.93 756.68h5.61v5.68h-5.61zM189.38 756.68h5.61v5.68h-5.61zM155.71 762.36h5.61v5.68h-5.61zM189.38 762.36h5.61v5.68h-5.61zM194.99 768.04h5.61v5.68h-5.61zM206.21 768.04h5.61v5.68h-5.61zM178.16 773.72h5.61v5.68h-5.61z"/>
<path fill="#000" fill-opacity="0.25" d="M172.54 637.4h5.61v5.68h-5.61zM105.21 643.08h5.61v5.68h-5.61zM178.16 643.08h5.61v5.68h-5.61zM138.88 648.76h5.61v5.68h-5.61zM194.99 654.44h5.61v5.68h-5.61zM239.88 654.44h5.61v5.68h-5.61zM166.93 660.12h5.61v5.68h-5.61zM172.54 660.12h5.61v5.68h-5.61zM211.82 660.12h5.61v5.68h-5.61zM217.43 660.12h5.61v5.68h-5.61zM223.04 660.12h5.61v5.68h-5.61zM234.27 660.12h5.61v5.68h-5.61zM99.6 665.8h5.61v5.68h-5.61zM122.04 665.8h5.61v5.68h-5.61zM133.27 665.8h5.61v5.68h-5.61zM161.32 665.8h5.61v5.68h-5.61zM200.6 665.8h5.61v5.68h-5.61zM239.88 665.8h5.61v5.68h-5.61zM155.71 671.48h5.61v5.68h-5.61zM161.32 671.48h5.61v5.68h-5.61zM194.99 671.48h5.61v5.68h-5.61zM217.43 671.48h5.61v5.68h-5.61zM223.04 671.48h5.61v5.68h-5.61zM239.88 671.48h5.61v5.68h-5.61zM150.1 677.16h5.61v5.68h-5.61zM206.21 677.16h5.61v5.68h-5.61zM116.43 682.84h5.61v5.68h-5.61zM217.43 682.84h5.61v5.68h-5.61zM228.66 682.84h5.61v5.68h-5.61zM211.82 688.52h5.61v5.68h-5.61zM116.43 694.2h5.61v5.68h-5.61zM223.04 694.2h5.61v5.68h-5.61zM228.66 694.2h5.61v5.68h-5.61zM245.49 694.2h5.61v5.68h-5.61zM150.1 699.88h5.61v5.68h-5.61zM189.38 699.88h5.61v5.68h-5.61zM245.49 699.88h5.61v5.68h-5.61zM144.49 705.56h5.61v5.68h-5.61zM150.1 705.56h5.61v5.68h-5.61zM183.77 705.56h5.61v5.68h-5.61zM99.6 716.92h5.61v5.68h-5.61zM133.27 716.92h5.61v5.68h-5.61zM178.16 722.6h5.61v5.68h-5.61zM223.04 722.6h5.61v5.68h-5.61zM127.66 728.28h5.61v5.68h-5.61zM211.82 728.28h5.61v5.68h-5.61zM122.04 733.96h5.61v5.68h-5.61zM189.38 733.96h5.61v5.68h-5.61zM217.43 733.96h5.61v5.68h-5.61zM223.04 733.96h5.61v5.68h-5.61zM138.88 739.64h5.61v5.68h-5.61zM161.32 739.64h5.61v5.68h-5.61zM206.21 739.64h5.61v5.68h-5.61zM110.82 745.32h5.61v5.68h-5.61zM161.32 745.32h5.61v5.68h-5.61zM189.38 745.32h5.61v5.68h-5.61zM200.6 745.32h5.61v5.68h-5.61zM144.49 751h5.61v5.68h-5.61zM228.66 751h5.61v5.68h-5.61zM155.71 756.68h5.61v5.68h-5.61zM183.77 762.36h5.61v5.68h-5.61zM194.99 762.36h5.61v5.68h-5.61zM138.88 773.72h5.61v5.68h-5.61zM166.93 773.72h5.61v5.68h-5.61zM194.99 773.72h5.61v5.68h-5.61zM223.04 773.72h5.61v5.68h-5.61z"/>
<path fill="#000" fill-opacity="0.36" d="M122.04 643.08h5.61v5.68h-5.61zM183.77 643.08h5.61v5.68h-5.61zM211.82 643.08h5.61v5.68h-5.61zM116.43 648.76h5.61v5.68h-5.61zM122.04 648.76h5.61v5.68h-5.61zM127.66 648.76h5.61v5.68h-5.61zM206.21 648.76h5.61v5.68h-5.61zM138.88 654.44h5.61v5.68h-5.61zM189.38 654.44h5.61v5.68h-5.61zM234.27 654.44h5.61v5.68h-5.61zM105.21 660.12h5.61v5.68h-5.61zM127.66 660.12h5.61v5.68h-5.61zM155.71 660.12h5.61v5.68h-5.61zM161.32 660.12h5.61v5.68h-5.61zM183.77 660.12h5.61v5.68h-5.61zM189.38 660.12h5.61v5.68h-5.61zM194.99 660.12h5.61v5.68h-5.61zM150.1 665.8h5.61v5.68h-5.61zM166.93 665.8h5.61v5.68h-5.61zM178.16 677.16h5.61v5.68h-5.61zM245.49 677.16h5.61v5.68h-5.61zM99.6 682.84h5.61v5.68h-5.61zM138.88 682.84h5.61v5.68h-5.61zM155.71 682.84h5.61v5.68h-5.61zM200.6 682.84h5.61v5.68h-5.61zM239.88 682.84h5.61v5.68h-5.61zM150.1 688.52h5.61v5.68h-5.61zM234.27 688.52h5.61v5.68h-5.61zM239.88 694.2h5.61v5.68h-5.61zM200.6 699.88h5.61v5.68h-5.61zM206.21 699.88h5.61v5.68h-5.61zM194.99 705.56h5.61v5.68h-5.61zM223.04 705.56h5.61v5.68h-5.61zM110.82 711.24h5.61v5.68h-5.61zM183.77 711.24h5.61v5.68h-5.61zM223.04 711.24h5.61v5.68h-5.61zM144.49 716.92h5.61v5.68h-5.61zM150.1 716.92h5.61v5.68h-5.61zM166.93 716.92h5.61v5.68h-5.61zM194.99 716.92h5.61v5.68h-5.61zM217.43 722.6h5.61v5.68h-5.61zM99.6 728.28h5.61v5.68h-5.61zM161.32 728.28h5.61v5.68h-5.61zM189.38 728.28h5.61v5.68h-5.61zM228.66 728.28h5.61v5.68h-5.61zM105.21 733.96h5.61v5.68h-5.61zM166.93 733.96h5.61v5.68h-5.61zM172.54 733.96h5.61v5.68h-5.61zM206.21 733.96h5.61v5.68h-5.61zM211.82 733.96h5.61v5.68h-5.61zM189.38 739.64h5.61v5.68h-5.61zM116.43 745.32h5.61v5.68h-5.61zM206.21 745.32h5.61v5.68h-5.61zM127.66 751h5.61v5.68h-5.61zM150.1 751h5.61v5.68h-5.61zM155.71 751h5.61v5.68h-5.61zM189.38 751h5.61v5.68h-5.61zM239.88 751h5.61v5.68h-5.61zM99.6 756.68h5.61v5.68h-5.61zM127.66 756.68h5.61v5.68h-5.61zM223.04 756.68h5.61v5.68h-5.61zM234.27 756.68h5.61v5.68h-5.61zM239.88 756.68h5.61v5.68h-5.61zM138.88 762.36h5.61v5.68h-5.61zM217.43 762.36h5.61v5.68h-5.61zM122.04 768.04h5.61v5.68h-5.61zM150.1 768.04h5.61v5.68h-5.61zM200.6 768.04h5.61v5.68h-5.61zM144.49 773.72h5.61v5.68h-5.61zM161.32 773.72h5.61v5.68h-5.61z"/>
<path fill="#fff" fill-opacity="0.18" d="M133.27 643.08h5.61v5.68h-5.61zM138.88 643.08h5.61v5.68h-5.61zM144.49 643.08h5.61v5.68h-5.61zM239.88 643.08h5.61v5.68h-5.61zM105.21 648.76h5.61v5.68h-5.61zM161.32 648.76h5.61v5.68h-5.61zM166.93 648.76h5.61v5.68h-5.61zM133.27 654.44h5.61v5.68h-5.61zM245.49 654.44h5.61v5.68h-5.61zM228.66 660.12h5.61v5.68h-5.61zM155.71 665.8h5.61v5.68h-5.61zM211.82 665.8h5.61v5.68h-5.61zM245.49 665.8h5.61v5.68h-5.61zM105.21 677.16h5.61v5.68h-5.61zM110.82 677.16h5.61v5.68h-5.61zM127.66 677.16h5.61v5.68h-5.61zM155.71 677.16h5.61v5.68h-5.61zM127.66 682.84h5.61v5.68h-5.61zM150.1 682.84h5.61v5.68h-5.61zM99.6 688.52h5.61v5.68h-5.61zM116.43 688.52h5.61v5.68h-5.61zM127.66 688.52h5.61v5.68h-5.61zM133.27 688.52h5.61v5.68h-5.61zM161.32 688.52h5.61v5.68h-5.61zM166.93 688.52h5.61v5.68h-5.61zM189.38 694.2h5.61v5.68h-5.61zM122.04 699.88h5.61v5.68h-5.61zM138.88 699.88h5.61v5.68h-5.61zM144.49 699.88h5.61v5.68h-5.61zM228.66 699.88h5.61v5.68h-5.61zM110.82 705.56h5.61v5.68h-5.61zM138.88 705.56h5.61v5.68h-5.61zM161.32 705.56h5.61v5.68h-5.61zM166.93 705.56h5.61v5.68h-5.61zM178.16 705.56h5.61v5.68h-5.61zM206.21 705.56h5.61v5.68h-5.61zM217.43 705.56h5.61v5.68h-5.61zM122.04 711.24h5.61v5.68h-5.61zM150.1 711.24h5.61v5.68h-5.61zM138.88 716.92h5.61v5.68h-5.61zM155.71 716.92h5.61v5.68h-5.61zM239.88 716.92h5.61v5.68h-5.61zM99.6 722.6h5.61v5.68h-5.61zM122.04 722.6h5.61v5.68h-5.61zM155.71 722.6h5.61v5.68h-5.61zM172.54 722.6h5.61v5.68h-5.61zM200.6 722.6h5.61v5.68h-5.61zM211.82 722.6h5.61v5.68h-5.61zM234.27 722.6h5.61v5.68h-5.61zM116.43 728.28h5.61v5.68h-5.61zM138.88 728.28h5.61v5.68h-5.61zM200.6 728.28h5.61v5.68h-5.61zM206.21 728.28h5.61v5.68h-5.61zM99.6 733.96h5.61v5.68h-5.61zM110.82 733.96h5.61v5.68h-5.61zM245.49 733.96h5.61v5.68h-5.61zM133.27 739.64h5.61v5.68h-5.61zM150.1 739.64h5.61v5.68h-5.61zM166.93 739.64h5.61v5.68h-5.61zM200.6 739.64h5.61v5.68h-5.61zM105.21 745.32h5.61v5.68h-5.61zM122.04 745.32h5.61v5.68h-5.61zM178.16 745.32h5.61v5.68h-5.61zM223.04 745.32h5.61v5.68h-5.61zM223.04 751h5.61v5.68h-5.61zM144.49 756.68h5.61v5.68h-5.61zM172.54 756.68h5.61v5.68h-5.61zM200.6 756.68h5.61v5.68h-5.61zM99.6 762.36h5.61v5.68h-5.61zM166.93 762.36h5.61v5.68h-5.61zM206.21 762.36h5.61v5.68h-5.61zM223.04 762.36h5.61v5.68h-5.61zM239.88 762.36h5.61v5.68h-5.61zM245.49 762.36h5.61v5.68h-5.61zM105.21 768.04h5.61v5.68h-5.61zM116.43 768.04h5.61v5.68h-5.61zM155.71 768.04h5.61v5.68h-5.61zM105.21 773.72h5.61v5.68h-5.61zM122.04 773.72h5.61v5.68h-5.61z"/>
</g>
<ellipse cx="129.34" cy="707.28" rx="4.49" ry="4.47" fill="#e6e6e6" filter="url(#b5)" transform="rotate(0 129.34 707.28)"/>
<ellipse cx="135.51" cy="719.58" rx="3.37" ry="3.35" fill="#999999" filter="url(#b5)" transform="rotate(0 135.51 719.58)"/>
<ellipse cx="158.52" cy="695.54" rx="3.37" ry="3.35" fill="#999999" filter="url(#b5)" transform="rotate(0 158.52 695.54)"/>
<ellipse cx="188.26" cy="704.49" rx="3.37" ry="3.35" fill="#b2b2b2" filter="url(#b5)" transform="rotate(0 188.26 704.49)"/>
<ellipse cx="195.55" cy="691.07" rx="3.37" ry="3.35" fill="#9e9e9e" filter="url(#b5)" transform="rotate(0 195.55 691.07)"/>
<ellipse cx="210.7" cy="695.54" rx="3.37" ry="3.35" fill="#cccccc" filter="url(#b5)" transform="rotate(0 210.7 695.54)"/>
<ellipse cx="217.43" cy="683.24" rx="3.37" ry="3.35" fill="#9e9e9e" filter="url(#b5)" transform="rotate(0 217.43 683.24)"/>
<ellipse cx="232.58" cy="686.6" rx="3.37" ry="3.35" fill="#bfbfbf" filter="url(#b5)" transform="rotate(0 232.58 686.6)"/>
<ellipse cx="236.51" cy="707.28" rx="3.37" ry="3.35" fill="#a6a6a6" filter="url(#b5)" transform="rotate(0 236.51 707.28)"/>
<ellipse cx="210.7" cy="719.02" rx="3.93" ry="3.91" fill="#d1d1d1" filter="url(#b5)" transform="rotate(0 210.7 719.02)"/>
<ellipse cx="162.44" cy="725.73" rx="3.37" ry="3.35" fill="#8c8c8c" filter="url(#b5)" transform="rotate(0 162.44 725.73)"/>
<ellipse cx="202.84" cy="736.91" rx="3.93" ry="3.91" fill="#cccccc" filter="url(#b5)" transform="rotate(0 202.84 736.91)"/>
<ellipse cx="136.63" cy="742.5" rx="3.93" ry="3.91" fill="#b2b2b2" filter="url(#b5)" transform="rotate(0 136.63 742.5)"/>
<ellipse cx="179.28" cy="742.5" rx="3.37" ry="3.35" fill="#999999" filter="url(#b5)" transform="rotate(0 179.28 742.5)"/>
<ellipse cx="210.7" cy="748.65" rx="3.37" ry="3.35" fill="#b8b8b8" filter="url(#b5)" transform="rotate(0 210.7 748.65)"/>
<ellipse cx="194.99" cy="753.68" rx="13.47" ry="2.8" fill="#999999" filter="url(#b5)" transform="rotate(0 194.99 753.68)"/>
<ellipse cx="144.49" cy="760.39" rx="3.93" ry="3.91" fill="#c7c7c7" filter="url(#b5)" transform="rotate(0 144.49 760.39)"/>
<ellipse cx="173.11" cy="765.98" rx="3.37" ry="3.35" fill="#999999" filter="url(#b5)" transform="rotate(0 173.11 765.98)"/>
<ellipse cx="218.56" cy="765.98" rx="3.37" ry="3.35" fill="#999999" filter="url(#b5)" transform="rotate(0 218.56 765.98)"/>
<ellipse cx="203.41" cy="777.16" rx="3.37" ry="3.35" fill="#b2b2b2" filter="url(#b5)" transform="rotate(0 203.41 777.16)"/>
<ellipse cx="232.02" cy="735.79" rx="3.37" ry="3.35" fill="#8c8c8c" filter="url(#b5)" transform="rotate(0 232.02 735.79)"/>
<ellipse cx="162.44" cy="748.09" rx="3.37" ry="3.35" fill="#808080" filter="url(#b5)" transform="rotate(0 162.44 748.09)"/>
<ellipse cx="159.08" cy="771.57" rx="3.37" ry="3.35" fill="#808080" filter="url(#b5)" transform="rotate(0 159.08 771.57)"/>
<ellipse cx="133.27" cy="726.85" rx="3.37" ry="3.35" fill="#808080" filter="url(#b5)" transform="rotate(0 133.27 726.85)"/>
<ellipse cx="178.16" cy="715.67" rx="3.37" ry="3.35" fill="#808080" filter="url(#b5)" transform="rotate(0 178.16 715.67)"/>
<ellipse cx="245.49" cy="749.21" rx="3.37" ry="3.35" fill="#808080" filter="url(#b5)" transform="rotate(0 245.49 749.21)"/>
</g></g>
<g clip-path="url(#m31)"><g filter="url(#cm31)">
<rect x="279.8" y="635.4" width="155.5" height="146" fill="#0c0c0c"/>
<rect x="283.48" y="704.49" width="76.87" height="74.91" fill="#1d1d1d" filter="url(#b4)"/>
<ellipse cx="385.04" cy="722.38" rx="42.64" ry="69.32" fill="#5c5c5c" filter="url(#b4)" transform="rotate(0 385.04 722.38)"/>
<ellipse cx="389.53" cy="726.85" rx="20.2" ry="62.61" fill="#a8a8a8" filter="url(#b4)" transform="rotate(0 389.53 726.85)"/>
<g filter="url(#b2)">
<path fill="#000" fill-opacity="0.32" d="M298.63 659.76h16.83v4.98h-16.83zM281.8 664.75h16.83v4.98h-16.83zM365.97 669.73h16.83v4.98h-16.83zM399.63 674.72h16.83v4.98h-16.83zM416.47 679.7h16.83v4.98h-16.83zM399.63 689.67h16.83v4.98h-16.83zM281.8 709.61h16.83v4.98h-16.83zM416.47 709.61h16.83v4.98h-16.83zM365.97 714.6h16.83v4.98h-16.83zM416.47 714.6h16.83v4.98h-16.83zM416.47 729.55h16.83v4.98h-16.83zM332.3 734.54h16.83v4.98h-16.83zM382.8 734.54h16.83v4.98h-16.83zM315.47 739.52h16.83v4.98h-16.83zM365.97 754.48h16.83v4.98h-16.83zM315.47 759.46h16.83v4.98h-16.83zM365.97 759.46h16.83v4.98h-16.83z"/>
<path fill="#fff" fill-opacity="0.25" d="M332.3 659.76h16.83v4.98h-16.83zM399.63 659.76h16.83v4.98h-16.83zM332.3 664.75h16.83v4.98h-16.83zM315.47 669.73h16.83v4.98h-16.83zM332.3 669.73h16.83v4.98h-16.83zM315.47 679.7h16.83v4.98h-16.83zM365.97 679.7h16.83v4.98h-16.83zM382.8 679.7h16.83v4.98h-16.83zM399.63 679.7h16.83v4.98h-16.83zM315.47 684.69h16.83v4.98h-16.83zM281.8 689.67h16.83v4.98h-16.83zM332.3 689.67h16.83v4.98h-16.83zM349.13 694.66h16.83v4.98h-16.83zM315.47 699.64h16.83v4.98h-16.83zM382.8 699.64h16.83v4.98h-16.83zM416.47 699.64h16.83v4.98h-16.83zM382.8 709.61h16.83v4.98h-16.83zM298.63 714.6h16.83v4.98h-16.83zM315.47 719.58h16.83v4.98h-16.83zM365.97 719.58h16.83v4.98h-16.83zM315.47 724.57h16.83v4.98h-16.83zM332.3 724.57h16.83v4.98h-16.83zM365.97 724.57h16.83v4.98h-16.83zM382.8 724.57h16.83v4.98h-16.83zM382.8 729.55h16.83v4.98h-16.83zM416.47 744.51h16.83v4.98h-16.83zM349.13 759.46h16.83v4.98h-16.83zM332.3 769.43h16.83v4.98h-16.83zM382.8 769.43h16.83v4.98h-16.83zM315.47 774.42h16.83v4.98h-16.83z"/>
<path fill="#000" fill-opacity="0.22" d="M365.97 659.76h16.83v4.98h-16.83zM349.13 669.73h16.83v4.98h-16.83zM315.47 674.72h16.83v4.98h-16.83zM298.63 679.7h16.83v4.98h-16.83zM416.47 689.67h16.83v4.98h-16.83zM281.8 694.66h16.83v4.98h-16.83zM365.97 694.66h16.83v4.98h-16.83zM399.63 699.64h16.83v4.98h-16.83zM332.3 704.63h16.83v4.98h-16.83zM365.97 709.61h16.83v4.98h-16.83zM349.13 714.6h16.83v4.98h-16.83zM281.8 719.58h16.83v4.98h-16.83zM349.13 734.54h16.83v4.98h-16.83zM332.3 739.52h16.83v4.98h-16.83zM399.63 749.49h16.83v4.98h-16.83zM315.47 754.48h16.83v4.98h-16.83zM399.63 754.48h16.83v4.98h-16.83zM281.8 759.46h16.83v4.98h-16.83z"/>
<path fill="#fff" fill-opacity="0.14" d="M349.13 664.75h16.83v4.98h-16.83zM365.97 664.75h16.83v4.98h-16.83zM399.63 669.73h16.83v4.98h-16.83zM332.3 674.72h16.83v4.98h-16.83zM332.3 679.7h16.83v4.98h-16.83zM399.63 684.69h16.83v4.98h-16.83zM332.3 694.66h16.83v4.98h-16.83zM416.47 694.66h16.83v4.98h-16.83zM281.8 699.64h16.83v4.98h-16.83zM315.47 704.63h16.83v4.98h-16.83zM365.97 704.63h16.83v4.98h-16.83zM416.47 704.63h16.83v4.98h-16.83zM399.63 709.61h16.83v4.98h-16.83zM281.8 714.6h16.83v4.98h-16.83zM349.13 719.58h16.83v4.98h-16.83zM349.13 724.57h16.83v4.98h-16.83zM416.47 724.57h16.83v4.98h-16.83zM298.63 734.54h16.83v4.98h-16.83zM399.63 739.52h16.83v4.98h-16.83zM298.63 744.51h16.83v4.98h-16.83zM332.3 744.51h16.83v4.98h-16.83zM298.63 764.45h16.83v4.98h-16.83zM298.63 769.43h16.83v4.98h-16.83zM416.47 769.43h16.83v4.98h-16.83zM332.3 774.42h16.83v4.98h-16.83zM416.47 774.42h16.83v4.98h-16.83z"/>
<path fill="#000" fill-opacity="0.4" d="M416.47 664.75h16.83v4.98h-16.83zM382.8 669.73h16.83v4.98h-16.83zM365.97 684.69h16.83v4.98h-16.83zM315.47 694.66h16.83v4.98h-16.83zM399.63 694.66h16.83v4.98h-16.83zM349.13 699.64h16.83v4.98h-16.83zM332.3 714.6h16.83v4.98h-16.83zM298.63 719.58h16.83v4.98h-16.83zM399.63 719.58h16.83v4.98h-16.83zM281.8 739.52h16.83v4.98h-16.83zM315.47 744.51h16.83v4.98h-16.83zM382.8 744.51h16.83v4.98h-16.83zM332.3 749.49h16.83v4.98h-16.83zM416.47 754.48h16.83v4.98h-16.83zM382.8 764.45h16.83v4.98h-16.83zM399.63 764.45h16.83v4.98h-16.83zM281.8 774.42h16.83v4.98h-16.83z"/>
<path fill="#fff" fill-opacity="0.2" d="M281.8 669.73h16.83v4.98h-16.83zM349.13 684.69h16.83v4.98h-16.83zM416.47 684.69h16.83v4.98h-16.83zM349.13 704.63h16.83v4.98h-16.83zM382.8 704.63h16.83v4.98h-16.83zM382.8 719.58h16.83v4.98h-16.83zM281.8 734.54h16.83v4.98h-16.83zM281.8 744.51h16.83v4.98h-16.83zM399.63 744.51h16.83v4.98h-16.83zM281.8 749.49h16.83v4.98h-16.83zM315.47 749.49h16.83v4.98h-16.83zM298.63 759.46h16.83v4.98h-16.83zM332.3 764.45h16.83v4.98h-16.83zM298.63 774.42h16.83v4.98h-16.83z"/>
</g>
<ellipse cx="394.02" cy="684.36" rx="7.86" ry="5.59" fill="#cccccc" filter="url(#b2)" transform="rotate(0 394.02 684.36)"/>
<ellipse cx="392.34" cy="695.54" rx="12.34" ry="4.47" fill="#e6e6e6" filter="url(#b2)" transform="rotate(0 392.34 695.54)"/>
<ellipse cx="378.31" cy="707.84" rx="10.1" ry="4.47" fill="#d9d9d9" filter="url(#b2)" transform="rotate(0 378.31 707.84)"/>
<ellipse cx="394.02" cy="719.58" rx="7.86" ry="5.03" fill="#ebebeb" filter="url(#b2)" transform="rotate(0 394.02 719.58)"/>
<ellipse cx="389.53" cy="753.68" rx="12.34" ry="7.83" fill="#e6e6e6" filter="url(#b2)" transform="rotate(0 389.53 753.68)"/>
<ellipse cx="388.41" cy="765.98" rx="8.98" ry="4.47" fill="#cccccc" filter="url(#b2)" transform="rotate(0 388.41 765.98)"/>
<ellipse cx="376.07" cy="777.16" rx="6.73" ry="3.35" fill="#cccccc" filter="url(#b2)" transform="rotate(0 376.07 777.16)"/>
<ellipse cx="342.4" cy="719.58" rx="15.71" ry="2.46" fill="#666666" filter="url(#b2)" transform="rotate(0 342.4 719.58)"/>
<ellipse cx="344.64" cy="707.84" rx="13.47" ry="2.24" fill="#4c4c4c" filter="url(#b2)" transform="rotate(0 344.64 707.84)"/>
<ellipse cx="342.4" cy="742.5" rx="15.71" ry="2.24" fill="#525252" filter="url(#b2)" transform="rotate(0 342.4 742.5)"/>
<ellipse cx="399.63" cy="731.32" rx="12.34" ry="2.46" fill="#4c4c4c" filter="url(#b2)" transform="rotate(0 399.63 731.32)"/>
</g></g>
<g clip-path="url(#m32)"><g filter="url(#cm32)">
<rect x="462" y="635.4" width="155.5" height="146" fill="#0b0b0b"/>
<rect x="493.74" y="691.07" width="37.59" height="88.33" fill="#171717" filter="url(#b4)"/>
<ellipse cx="542.56" cy="715.67" rx="16.83" ry="58.14" fill="#525252" filter="url(#b4)" transform="rotate(0 542.56 715.67)"/>
<ellipse cx="545.92" cy="726.85" rx="6.73" ry="52.55" fill="#949494" filter="url(#b3)" transform="rotate(0 545.92 726.85)"/>
<g filter="url(#b1)">
<path fill="#000" fill-opacity="0.3" d="M475.22 659.76h5.61v5.44h-5.61zM593.06 659.76h5.61v5.44h-5.61zM587.44 670.64h5.61v5.44h-5.61zM469.61 676.08h5.61v5.44h-5.61zM587.44 676.08h5.61v5.44h-5.61zM598.67 676.08h5.61v5.44h-5.61zM475.22 681.51h5.61v5.44h-5.61zM486.44 681.51h5.61v5.44h-5.61zM503.28 681.51h5.61v5.44h-5.61zM520.11 686.95h5.61v5.44h-5.61zM514.5 692.39h5.61v5.44h-5.61zM542.56 692.39h5.61v5.44h-5.61zM581.83 692.39h5.61v5.44h-5.61zM604.28 692.39h5.61v5.44h-5.61zM520.11 697.83h5.61v5.44h-5.61zM548.17 697.83h5.61v5.44h-5.61zM565 697.83h5.61v5.44h-5.61zM593.06 697.83h5.61v5.44h-5.61zM492.06 703.27h5.61v5.44h-5.61zM542.56 703.27h5.61v5.44h-5.61zM503.28 708.7h5.61v5.44h-5.61zM542.56 708.7h5.61v5.44h-5.61zM503.28 714.14h5.61v5.44h-5.61zM581.83 714.14h5.61v5.44h-5.61zM469.61 719.58h5.61v5.44h-5.61zM469.61 725.02h5.61v5.44h-5.61zM531.33 725.02h5.61v5.44h-5.61zM604.28 725.02h5.61v5.44h-5.61zM497.67 730.46h5.61v5.44h-5.61zM520.11 730.46h5.61v5.44h-5.61zM604.28 730.46h5.61v5.44h-5.61zM525.72 735.9h5.61v5.44h-5.61zM587.44 735.9h5.61v5.44h-5.61zM497.67 741.33h5.61v5.44h-5.61zM536.94 741.33h5.61v5.44h-5.61zM565 741.33h5.61v5.44h-5.61zM576.22 741.33h5.61v5.44h-5.61zM581.83 741.33h5.61v5.44h-5.61zM480.83 746.77h5.61v5.44h-5.61zM497.67 746.77h5.61v5.44h-5.61zM520.11 746.77h5.61v5.44h-5.61zM553.78 746.77h5.61v5.44h-5.61zM503.28 752.21h5.61v5.44h-5.61zM536.94 752.21h5.61v5.44h-5.61zM542.56 752.21h5.61v5.44h-5.61zM553.78 752.21h5.61v5.44h-5.61zM559.39 752.21h5.61v5.44h-5.61zM587.44 752.21h5.61v5.44h-5.61zM503.28 757.65h5.61v5.44h-5.61zM520.11 757.65h5.61v5.44h-5.61zM565 757.65h5.61v5.44h-5.61zM514.5 763.09h5.61v5.44h-5.61zM525.72 763.09h5.61v5.44h-5.61zM503.28 768.52h5.61v5.44h-5.61zM536.94 768.52h5.61v5.44h-5.61zM514.5 773.96h5.61v5.44h-5.61z"/>
<path fill="#fff" fill-opacity="0.16" d="M486.44 659.76h5.61v5.44h-5.61zM503.28 659.76h5.61v5.44h-5.61zM525.72 659.76h5.61v5.44h-5.61zM531.33 659.76h5.61v5.44h-5.61zM598.67 659.76h5.61v5.44h-5.61zM604.28 659.76h5.61v5.44h-5.61zM464 665.2h5.61v5.44h-5.61zM486.44 665.2h5.61v5.44h-5.61zM508.89 665.2h5.61v5.44h-5.61zM536.94 670.64h5.61v5.44h-5.61zM565 670.64h5.61v5.44h-5.61zM480.83 676.08h5.61v5.44h-5.61zM497.67 676.08h5.61v5.44h-5.61zM508.89 676.08h5.61v5.44h-5.61zM609.89 676.08h5.61v5.44h-5.61zM536.94 681.51h5.61v5.44h-5.61zM565 681.51h5.61v5.44h-5.61zM480.83 686.95h5.61v5.44h-5.61zM593.06 686.95h5.61v5.44h-5.61zM486.44 692.39h5.61v5.44h-5.61zM553.78 692.39h5.61v5.44h-5.61zM570.61 692.39h5.61v5.44h-5.61zM508.89 697.83h5.61v5.44h-5.61zM497.67 703.27h5.61v5.44h-5.61zM525.72 703.27h5.61v5.44h-5.61zM559.39 703.27h5.61v5.44h-5.61zM587.44 703.27h5.61v5.44h-5.61zM609.89 703.27h5.61v5.44h-5.61zM587.44 708.7h5.61v5.44h-5.61zM604.28 708.7h5.61v5.44h-5.61zM480.83 714.14h5.61v5.44h-5.61zM492.06 714.14h5.61v5.44h-5.61zM508.89 714.14h5.61v5.44h-5.61zM576.22 714.14h5.61v5.44h-5.61zM593.06 714.14h5.61v5.44h-5.61zM525.72 719.58h5.61v5.44h-5.61zM548.17 719.58h5.61v5.44h-5.61zM480.83 725.02h5.61v5.44h-5.61zM576.22 725.02h5.61v5.44h-5.61zM480.83 730.46h5.61v5.44h-5.61zM536.94 730.46h5.61v5.44h-5.61zM570.61 730.46h5.61v5.44h-5.61zM469.61 735.9h5.61v5.44h-5.61zM525.72 741.33h5.61v5.44h-5.61zM514.5 746.77h5.61v5.44h-5.61zM531.33 746.77h5.61v5.44h-5.61zM581.83 746.77h5.61v5.44h-5.61zM593.06 746.77h5.61v5.44h-5.61zM475.22 752.21h5.61v5.44h-5.61zM492.06 752.21h5.61v5.44h-5.61zM525.72 752.21h5.61v5.44h-5.61zM576.22 752.21h5.61v5.44h-5.61zM497.67 757.65h5.61v5.44h-5.61zM508.89 757.65h5.61v5.44h-5.61zM559.39 757.65h5.61v5.44h-5.61zM587.44 757.65h5.61v5.44h-5.61zM480.83 763.09h5.61v5.44h-5.61zM492.06 763.09h5.61v5.44h-5.61zM508.89 763.09h5.61v5.44h-5.61zM593.06 763.09h5.61v5.44h-5.61zM587.44 768.52h5.61v5.44h-5.61zM593.06 768.52h5.61v5.44h-5.61zM480.83 773.96h5.61v5.44h-5.61zM503.28 773.96h5.61v5.44h-5.61zM536.94 773.96h5.61v5.44h-5.61zM570.61 773.96h5.61v5.44h-5.61zM609.89 773.96h5.61v5.44h-5.61z"/>
<path fill="#000" fill-opacity="0.17" d="M492.06 659.76h5.61v5.44h-5.61zM565 659.76h5.61v5.44h-5.61zM514.5 665.2h5.61v5.44h-5.61zM525.72 665.2h5.61v5.44h-5.61zM581.83 665.2h5.61v5.44h-5.61zM593.06 665.2h5.61v5.44h-5.61zM542.56 681.51h5.61v5.44h-5.61zM587.44 681.51h5.61v5.44h-5.61zM598.67 681.51h5.61v5.44h-5.61zM464 692.39h5.61v5.44h-5.61zM475.22 692.39h5.61v5.44h-5.61zM492.06 692.39h5.61v5.44h-5.61zM525.72 692.39h5.61v5.44h-5.61zM565 692.39h5.61v5.44h-5.61zM469.61 697.83h5.61v5.44h-5.61zM480.83 697.83h5.61v5.44h-5.61zM559.39 697.83h5.61v5.44h-5.61zM576.22 697.83h5.61v5.44h-5.61zM587.44 697.83h5.61v5.44h-5.61zM598.67 697.83h5.61v5.44h-5.61zM497.67 708.7h5.61v5.44h-5.61zM565 708.7h5.61v5.44h-5.61zM559.39 714.14h5.61v5.44h-5.61zM480.83 719.58h5.61v5.44h-5.61zM514.5 719.58h5.61v5.44h-5.61zM565 719.58h5.61v5.44h-5.61zM587.44 719.58h5.61v5.44h-5.61zM559.39 725.02h5.61v5.44h-5.61zM553.78 730.46h5.61v5.44h-5.61zM576.22 730.46h5.61v5.44h-5.61zM480.83 735.9h5.61v5.44h-5.61zM486.44 735.9h5.61v5.44h-5.61zM531.33 735.9h5.61v5.44h-5.61zM570.61 735.9h5.61v5.44h-5.61zM464 741.33h5.61v5.44h-5.61zM536.94 746.77h5.61v5.44h-5.61zM514.5 752.21h5.61v5.44h-5.61zM565 752.21h5.61v5.44h-5.61zM593.06 752.21h5.61v5.44h-5.61zM464 757.65h5.61v5.44h-5.61zM480.83 757.65h5.61v5.44h-5.61zM492.06 757.65h5.61v5.44h-5.61zM581.83 757.65h5.61v5.44h-5.61zM469.61 763.09h5.61v5.44h-5.61zM565 763.09h5.61v5.44h-5.61zM581.83 763.09h5.61v5.44h-5.61zM475.22 768.52h5.61v5.44h-5.61zM514.5 768.52h5.61v5.44h-5.61zM570.61 768.52h5.61v5.44h-5.61zM576.22 768.52h5.61v5.44h-5.61zM464 773.96h5.61v5.44h-5.61zM469.61 773.96h5.61v5.44h-5.61zM475.22 773.96h5.61v5.44h-5.61zM486.44 773.96h5.61v5.44h-5.61z"/>
<path fill="#000" fill-opacity="0.24" d="M508.89 659.76h5.61v5.44h-5.61zM570.61 659.76h5.61v5.44h-5.61zM492.06 665.2h5.61v5.44h-5.61zM520.11 665.2h5.61v5.44h-5.61zM542.56 665.2h5.61v5.44h-5.61zM565 665.2h5.61v5.44h-5.61zM576.22 665.2h5.61v5.44h-5.61zM576.22 670.64h5.61v5.44h-5.61zM475.22 676.08h5.61v5.44h-5.61zM492.06 676.08h5.61v5.44h-5.61zM531.33 676.08h5.61v5.44h-5.61zM542.56 676.08h5.61v5.44h-5.61zM464 681.51h5.61v5.44h-5.61zM486.44 686.95h5.61v5.44h-5.61zM559.39 686.95h5.61v5.44h-5.61zM581.83 686.95h5.61v5.44h-5.61zM503.28 692.39h5.61v5.44h-5.61zM475.22 697.83h5.61v5.44h-5.61zM503.28 697.83h5.61v5.44h-5.61zM553.78 697.83h5.61v5.44h-5.61zM570.61 703.27h5.61v5.44h-5.61zM486.44 708.7h5.61v5.44h-5.61zM531.33 708.7h5.61v5.44h-5.61zM570.61 708.7h5.61v5.44h-5.61zM593.06 708.7h5.61v5.44h-5.61zM464 714.14h5.61v5.44h-5.61zM486.44 714.14h5.61v5.44h-5.61zM514.5 714.14h5.61v5.44h-5.61zM520.11 714.14h5.61v5.44h-5.61zM604.28 714.14h5.61v5.44h-5.61zM492.06 719.58h5.61v5.44h-5.61zM520.11 719.58h5.61v5.44h-5.61zM503.28 725.02h5.61v5.44h-5.61zM508.89 725.02h5.61v5.44h-5.61zM553.78 725.02h5.61v5.44h-5.61zM464 730.46h5.61v5.44h-5.61zM514.5 730.46h5.61v5.44h-5.61zM587.44 730.46h5.61v5.44h-5.61zM548.17 735.9h5.61v5.44h-5.61zM565 735.9h5.61v5.44h-5.61zM576.22 735.9h5.61v5.44h-5.61zM570.61 741.33h5.61v5.44h-5.61zM503.28 746.77h5.61v5.44h-5.61zM486.44 752.21h5.61v5.44h-5.61zM508.89 752.21h5.61v5.44h-5.61zM553.78 763.09h5.61v5.44h-5.61zM609.89 763.09h5.61v5.44h-5.61zM486.44 768.52h5.61v5.44h-5.61zM520.11 773.96h5.61v5.44h-5.61z"/>
<path fill="#fff" fill-opacity="0.2" d="M520.11 659.76h5.61v5.44h-5.61zM542.56 659.76h5.61v5.44h-5.61zM604.28 665.2h5.61v5.44h-5.61zM503.28 670.64h5.61v5.44h-5.61zM514.5 670.64h5.61v5.44h-5.61zM531.33 670.64h5.61v5.44h-5.61zM548.17 670.64h5.61v5.44h-5.61zM581.83 670.64h5.61v5.44h-5.61zM464 676.08h5.61v5.44h-5.61zM486.44 676.08h5.61v5.44h-5.61zM525.72 676.08h5.61v5.44h-5.61zM514.5 681.51h5.61v5.44h-5.61zM525.72 681.51h5.61v5.44h-5.61zM531.33 681.51h5.61v5.44h-5.61zM581.83 681.51h5.61v5.44h-5.61zM469.61 686.95h5.61v5.44h-5.61zM525.72 686.95h5.61v5.44h-5.61zM565 686.95h5.61v5.44h-5.61zM609.89 686.95h5.61v5.44h-5.61zM508.89 692.39h5.61v5.44h-5.61zM548.17 692.39h5.61v5.44h-5.61zM525.72 697.83h5.61v5.44h-5.61zM503.28 703.27h5.61v5.44h-5.61zM531.33 703.27h5.61v5.44h-5.61zM553.78 703.27h5.61v5.44h-5.61zM581.83 703.27h5.61v5.44h-5.61zM593.06 703.27h5.61v5.44h-5.61zM469.61 708.7h5.61v5.44h-5.61zM475.22 708.7h5.61v5.44h-5.61zM514.5 708.7h5.61v5.44h-5.61zM525.72 708.7h5.61v5.44h-5.61zM548.17 708.7h5.61v5.44h-5.61zM475.22 714.14h5.61v5.44h-5.61zM542.56 714.14h5.61v5.44h-5.61zM598.67 714.14h5.61v5.44h-5.61zM570.61 719.58h5.61v5.44h-5.61zM514.5 725.02h5.61v5.44h-5.61zM593.06 725.02h5.61v5.44h-5.61zM492.06 730.46h5.61v5.44h-5.61zM525.72 730.46h5.61v5.44h-5.61zM542.56 730.46h5.61v5.44h-5.61zM559.39 730.46h5.61v5.44h-5.61zM565 730.46h5.61v5.44h-5.61zM604.28 735.9h5.61v5.44h-5.61zM520.11 741.33h5.61v5.44h-5.61zM553.78 741.33h5.61v5.44h-5.61zM593.06 741.33h5.61v5.44h-5.61zM604.28 741.33h5.61v5.44h-5.61zM469.61 746.77h5.61v5.44h-5.61zM492.06 746.77h5.61v5.44h-5.61zM609.89 746.77h5.61v5.44h-5.61zM464 752.21h5.61v5.44h-5.61zM480.83 752.21h5.61v5.44h-5.61zM531.33 752.21h5.61v5.44h-5.61zM609.89 752.21h5.61v5.44h-5.61zM553.78 757.65h5.61v5.44h-5.61zM609.89 757.65h5.61v5.44h-5.61zM486.44 763.09h5.61v5.44h-5.61zM542.56 763.09h5.61v5.44h-5.61zM464 768.52h5.61v5.44h-5.61zM520.11 768.52h5.61v5.44h-5.61zM531.33 768.52h5.61v5.44h-5.61zM548.17 768.52h5.61v5.44h-5.61zM581.83 768.52h5.61v5.44h-5.61zM553.78 773.96h5.61v5.44h-5.61zM559.39 773.96h5.61v5.44h-5.61z"/>
<path fill="#fff" fill-opacity="0.11" d="M536.94 659.76h5.61v5.44h-5.61zM553.78 659.76h5.61v5.44h-5.61zM559.39 659.76h5.61v5.44h-5.61zM548.17 665.2h5.61v5.44h-5.61zM559.39 665.2h5.61v5.44h-5.61zM480.83 670.64h5.61v5.44h-5.61zM497.67 670.64h5.61v5.44h-5.61zM604.28 676.08h5.61v5.44h-5.61zM469.61 681.51h5.61v5.44h-5.61zM508.89 681.51h5.61v5.44h-5.61zM548.17 681.51h5.61v5.44h-5.61zM553.78 681.51h5.61v5.44h-5.61zM531.33 686.95h5.61v5.44h-5.61zM604.28 686.95h5.61v5.44h-5.61zM469.61 692.39h5.61v5.44h-5.61zM531.33 692.39h5.61v5.44h-5.61zM536.94 697.83h5.61v5.44h-5.61zM542.56 697.83h5.61v5.44h-5.61zM604.28 697.83h5.61v5.44h-5.61zM464 703.27h5.61v5.44h-5.61zM469.61 703.27h5.61v5.44h-5.61zM480.83 703.27h5.61v5.44h-5.61zM598.67 703.27h5.61v5.44h-5.61zM576.22 708.7h5.61v5.44h-5.61zM581.83 708.7h5.61v5.44h-5.61zM497.67 714.14h5.61v5.44h-5.61zM565 714.14h5.61v5.44h-5.61zM609.89 714.14h5.61v5.44h-5.61zM464 719.58h5.61v5.44h-5.61zM497.67 719.58h5.61v5.44h-5.61zM531.33 719.58h5.61v5.44h-5.61zM559.39 719.58h5.61v5.44h-5.61zM593.06 719.58h5.61v5.44h-5.61zM604.28 719.58h5.61v5.44h-5.61zM520.11 725.02h5.61v5.44h-5.61zM536.94 725.02h5.61v5.44h-5.61zM548.17 725.02h5.61v5.44h-5.61zM475.22 730.46h5.61v5.44h-5.61zM503.28 730.46h5.61v5.44h-5.61zM508.89 730.46h5.61v5.44h-5.61zM503.28 735.9h5.61v5.44h-5.61zM559.39 735.9h5.61v5.44h-5.61zM593.06 735.9h5.61v5.44h-5.61zM531.33 741.33h5.61v5.44h-5.61zM559.39 741.33h5.61v5.44h-5.61zM598.67 741.33h5.61v5.44h-5.61zM508.89 746.77h5.61v5.44h-5.61zM525.72 746.77h5.61v5.44h-5.61zM587.44 746.77h5.61v5.44h-5.61zM520.11 752.21h5.61v5.44h-5.61zM548.17 757.65h5.61v5.44h-5.61zM593.06 757.65h5.61v5.44h-5.61zM598.67 757.65h5.61v5.44h-5.61zM475.22 763.09h5.61v5.44h-5.61zM559.39 763.09h5.61v5.44h-5.61zM508.89 768.52h5.61v5.44h-5.61zM604.28 768.52h5.61v5.44h-5.61zM542.56 773.96h5.61v5.44h-5.61zM576.22 773.96h5.61v5.44h-5.61zM593.06 773.96h5.61v5.44h-5.61zM598.67 773.96h5.61v5.44h-5.61z"/>
</g>
<ellipse cx="548.17" cy="688.83" rx="6.73" ry="10.06" fill="#bfbfbf" filter="url(#b2)" transform="rotate(0 548.17 688.83)"/>
<ellipse cx="538.07" cy="677.65" rx="4.49" ry="4.47" fill="#808080" filter="url(#b2)" transform="rotate(0 538.07 677.65)"/>
<ellipse cx="546.48" cy="720.14" rx="4.49" ry="5.59" fill="#cccccc" filter="url(#b2)" transform="rotate(0 546.48 720.14)"/>
<ellipse cx="544.8" cy="738.03" rx="5.05" ry="7.83" fill="#c7c7c7" filter="url(#b2)" transform="rotate(0 544.8 738.03)"/>
<ellipse cx="541.43" cy="754.24" rx="5.05" ry="5.03" fill="#f2f2f2" filter="url(#b2)" transform="rotate(0 541.43 754.24)"/>
<ellipse cx="545.92" cy="771.57" rx="4.49" ry="5.59" fill="#b8b8b8" filter="url(#b2)" transform="rotate(0 545.92 771.57)"/>
<ellipse cx="526.84" cy="724.61" rx="4.49" ry="4.47" fill="#4c4c4c" filter="url(#b2)" transform="rotate(0 526.84 724.61)"/>
<ellipse cx="511.13" cy="708.96" rx="4.49" ry="4.47" fill="#383838" filter="url(#b2)" transform="rotate(0 511.13 708.96)"/>
<ellipse cx="506.64" cy="720.14" rx="4.49" ry="4.47" fill="#383838" filter="url(#b2)" transform="rotate(0 506.64 720.14)"/>
</g></g>
<g clip-path="url(#m40)"><g filter="url(#cm40)">
<rect x="97.6" y="806.2" width="155.5" height="146" fill="#1f1f1f"/>
<path d="M127.66 936.78 L144.49 908.83 L166.93 886.47 L200.6 869.7 L251.1 858.51" fill="none" stroke="#474747" stroke-width="39.28" stroke-linecap="round" stroke-linejoin="round" filter="url(#b4)"/>
<rect x="167.49" y="843.42" width="83.61" height="34.1" fill="#808080" filter="url(#b4)"/>
<ellipse cx="162.44" cy="880.88" rx="16.83" ry="12.3" fill="#737373" filter="url(#b3)" transform="rotate(0 162.44 880.88)"/>
<g filter="url(#b1)">
<path fill="#fff" fill-opacity="0.22" d="M99.6 841.74h5.61v5.42h-5.61zM127.66 841.74h5.61v5.42h-5.61zM144.49 841.74h5.61v5.42h-5.61zM211.82 841.74h5.61v5.42h-5.61zM138.88 847.17h5.61v5.42h-5.61zM189.38 847.17h5.61v5.42h-5.61zM217.43 847.17h5.61v5.42h-5.61zM239.88 847.17h5.61v5.42h-5.61zM172.54 852.59h5.61v5.42h-5.61zM217.43 852.59h5.61v5.42h-5.61zM127.66 863.43h5.61v5.42h-5.61zM150.1 863.43h5.61v5.42h-5.61zM178.16 868.86h5.61v5.42h-5.61zM234.27 868.86h5.61v5.42h-5.61zM144.49 874.28h5.61v5.42h-5.61zM116.43 879.7h5.61v5.42h-5.61zM217.43 879.7h5.61v5.42h-5.61zM234.27 879.7h5.61v5.42h-5.61zM105.21 885.13h5.61v5.42h-5.61zM166.93 885.13h5.61v5.42h-5.61zM194.99 885.13h5.61v5.42h-5.61zM138.88 890.55h5.61v5.42h-5.61zM166.93 890.55h5.61v5.42h-5.61zM178.16 890.55h5.61v5.42h-5.61zM183.77 890.55h5.61v5.42h-5.61zM105.21 895.97h5.61v5.42h-5.61zM110.82 895.97h5.61v5.42h-5.61zM144.49 895.97h5.61v5.42h-5.61zM155.71 895.97h5.61v5.42h-5.61zM166.93 895.97h5.61v5.42h-5.61zM211.82 895.97h5.61v5.42h-5.61zM105.21 901.39h5.61v5.42h-5.61zM110.82 901.39h5.61v5.42h-5.61zM150.1 901.39h5.61v5.42h-5.61zM228.66 901.39h5.61v5.42h-5.61zM155.71 906.82h5.61v5.42h-5.61zM189.38 906.82h5.61v5.42h-5.61zM223.04 906.82h5.61v5.42h-5.61zM105.21 912.24h5.61v5.42h-5.61zM133.27 912.24h5.61v5.42h-5.61zM138.88 912.24h5.61v5.42h-5.61zM150.1 912.24h5.61v5.42h-5.61zM245.49 912.24h5.61v5.42h-5.61zM211.82 917.66h5.61v5.42h-5.61zM245.49 917.66h5.61v5.42h-5.61zM172.54 923.09h5.61v5.42h-5.61zM116.43 928.51h5.61v5.42h-5.61zM206.21 928.51h5.61v5.42h-5.61zM211.82 933.93h5.61v5.42h-5.61zM99.6 939.35h5.61v5.42h-5.61zM127.66 939.35h5.61v5.42h-5.61zM144.49 939.35h5.61v5.42h-5.61zM166.93 939.35h5.61v5.42h-5.61zM200.6 939.35h5.61v5.42h-5.61zM206.21 939.35h5.61v5.42h-5.61zM223.04 939.35h5.61v5.42h-5.61zM239.88 939.35h5.61v5.42h-5.61zM110.82 944.78h5.61v5.42h-5.61zM116.43 944.78h5.61v5.42h-5.61zM150.1 944.78h5.61v5.42h-5.61zM172.54 944.78h5.61v5.42h-5.61zM206.21 944.78h5.61v5.42h-5.61zM223.04 944.78h5.61v5.42h-5.61z"/>
<path fill="#000" fill-opacity="0.19" d="M105.21 841.74h5.61v5.42h-5.61zM155.71 841.74h5.61v5.42h-5.61zM133.27 847.17h5.61v5.42h-5.61zM183.77 852.59h5.61v5.42h-5.61zM178.16 858.01h5.61v5.42h-5.61zM200.6 858.01h5.61v5.42h-5.61zM217.43 858.01h5.61v5.42h-5.61zM105.21 863.43h5.61v5.42h-5.61zM183.77 863.43h5.61v5.42h-5.61zM110.82 868.86h5.61v5.42h-5.61zM150.1 868.86h5.61v5.42h-5.61zM166.93 868.86h5.61v5.42h-5.61zM239.88 868.86h5.61v5.42h-5.61zM110.82 874.28h5.61v5.42h-5.61zM133.27 874.28h5.61v5.42h-5.61zM155.71 874.28h5.61v5.42h-5.61zM223.04 874.28h5.61v5.42h-5.61zM155.71 879.7h5.61v5.42h-5.61zM99.6 885.13h5.61v5.42h-5.61zM155.71 885.13h5.61v5.42h-5.61zM172.54 885.13h5.61v5.42h-5.61zM223.04 885.13h5.61v5.42h-5.61zM155.71 890.55h5.61v5.42h-5.61zM194.99 890.55h5.61v5.42h-5.61zM99.6 895.97h5.61v5.42h-5.61zM194.99 895.97h5.61v5.42h-5.61zM217.43 895.97h5.61v5.42h-5.61zM239.88 895.97h5.61v5.42h-5.61zM161.32 901.39h5.61v5.42h-5.61zM234.27 901.39h5.61v5.42h-5.61zM144.49 906.82h5.61v5.42h-5.61zM161.32 906.82h5.61v5.42h-5.61zM200.6 906.82h5.61v5.42h-5.61zM211.82 906.82h5.61v5.42h-5.61zM122.04 917.66h5.61v5.42h-5.61zM166.93 917.66h5.61v5.42h-5.61zM110.82 923.09h5.61v5.42h-5.61zM144.49 923.09h5.61v5.42h-5.61zM161.32 923.09h5.61v5.42h-5.61zM217.43 923.09h5.61v5.42h-5.61zM234.27 923.09h5.61v5.42h-5.61zM245.49 923.09h5.61v5.42h-5.61zM138.88 928.51h5.61v5.42h-5.61zM144.49 928.51h5.61v5.42h-5.61zM194.99 928.51h5.61v5.42h-5.61zM234.27 933.93h5.61v5.42h-5.61zM155.71 944.78h5.61v5.42h-5.61zM228.66 944.78h5.61v5.42h-5.61z"/>
<path fill="#fff" fill-opacity="0.12" d="M116.43 841.74h5.61v5.42h-5.61zM245.49 841.74h5.61v5.42h-5.61zM127.66 852.59h5.61v5.42h-5.61zM223.04 852.59h5.61v5.42h-5.61zM99.6 858.01h5.61v5.42h-5.61zM138.88 858.01h5.61v5.42h-5.61zM144.49 858.01h5.61v5.42h-5.61zM161.32 858.01h5.61v5.42h-5.61zM189.38 858.01h5.61v5.42h-5.61zM228.66 858.01h5.61v5.42h-5.61zM133.27 863.43h5.61v5.42h-5.61zM144.49 863.43h5.61v5.42h-5.61zM155.71 863.43h5.61v5.42h-5.61zM206.21 863.43h5.61v5.42h-5.61zM228.66 863.43h5.61v5.42h-5.61zM116.43 868.86h5.61v5.42h-5.61zM127.66 868.86h5.61v5.42h-5.61zM133.27 868.86h5.61v5.42h-5.61zM183.77 868.86h5.61v5.42h-5.61zM200.6 868.86h5.61v5.42h-5.61zM200.6 874.28h5.61v5.42h-5.61zM99.6 879.7h5.61v5.42h-5.61zM122.04 879.7h5.61v5.42h-5.61zM138.88 879.7h5.61v5.42h-5.61zM150.1 879.7h5.61v5.42h-5.61zM194.99 879.7h5.61v5.42h-5.61zM110.82 885.13h5.61v5.42h-5.61zM122.04 885.13h5.61v5.42h-5.61zM228.66 885.13h5.61v5.42h-5.61zM110.82 890.55h5.61v5.42h-5.61zM144.49 890.55h5.61v5.42h-5.61zM189.38 890.55h5.61v5.42h-5.61zM223.04 890.55h5.61v5.42h-5.61zM99.6 901.39h5.61v5.42h-5.61zM127.66 906.82h5.61v5.42h-5.61zM166.93 912.24h5.61v5.42h-5.61zM200.6 912.24h5.61v5.42h-5.61zM234.27 912.24h5.61v5.42h-5.61zM239.88 912.24h5.61v5.42h-5.61zM110.82 917.66h5.61v5.42h-5.61zM133.27 917.66h5.61v5.42h-5.61zM161.32 917.66h5.61v5.42h-5.61zM178.16 917.66h5.61v5.42h-5.61zM183.77 917.66h5.61v5.42h-5.61zM189.38 917.66h5.61v5.42h-5.61zM105.21 923.09h5.61v5.42h-5.61zM155.71 928.51h5.61v5.42h-5.61zM217.43 928.51h5.61v5.42h-5.61zM228.66 928.51h5.61v5.42h-5.61zM194.99 933.93h5.61v5.42h-5.61zM228.66 933.93h5.61v5.42h-5.61zM138.88 939.35h5.61v5.42h-5.61zM161.32 939.35h5.61v5.42h-5.61zM183.77 939.35h5.61v5.42h-5.61zM239.88 944.78h5.61v5.42h-5.61zM245.49 944.78h5.61v5.42h-5.61z"/>
<path fill="#000" fill-opacity="0.35" d="M133.27 841.74h5.61v5.42h-5.61zM166.93 841.74h5.61v5.42h-5.61zM116.43 847.17h5.61v5.42h-5.61zM178.16 847.17h5.61v5.42h-5.61zM110.82 852.59h5.61v5.42h-5.61zM122.04 852.59h5.61v5.42h-5.61zM144.49 852.59h5.61v5.42h-5.61zM155.71 852.59h5.61v5.42h-5.61zM178.16 852.59h5.61v5.42h-5.61zM206.21 858.01h5.61v5.42h-5.61zM161.32 863.43h5.61v5.42h-5.61zM172.54 863.43h5.61v5.42h-5.61zM155.71 868.86h5.61v5.42h-5.61zM172.54 868.86h5.61v5.42h-5.61zM245.49 868.86h5.61v5.42h-5.61zM138.88 874.28h5.61v5.42h-5.61zM110.82 879.7h5.61v5.42h-5.61zM133.27 879.7h5.61v5.42h-5.61zM189.38 879.7h5.61v5.42h-5.61zM211.82 879.7h5.61v5.42h-5.61zM144.49 885.13h5.61v5.42h-5.61zM189.38 885.13h5.61v5.42h-5.61zM245.49 885.13h5.61v5.42h-5.61zM150.1 890.55h5.61v5.42h-5.61zM172.54 890.55h5.61v5.42h-5.61zM245.49 890.55h5.61v5.42h-5.61zM116.43 895.97h5.61v5.42h-5.61zM161.32 895.97h5.61v5.42h-5.61zM178.16 895.97h5.61v5.42h-5.61zM234.27 895.97h5.61v5.42h-5.61zM172.54 901.39h5.61v5.42h-5.61zM183.77 901.39h5.61v5.42h-5.61zM178.16 912.24h5.61v5.42h-5.61zM211.82 912.24h5.61v5.42h-5.61zM223.04 912.24h5.61v5.42h-5.61zM99.6 917.66h5.61v5.42h-5.61zM155.71 923.09h5.61v5.42h-5.61zM105.21 928.51h5.61v5.42h-5.61zM166.93 928.51h5.61v5.42h-5.61zM178.16 928.51h5.61v5.42h-5.61zM234.27 928.51h5.61v5.42h-5.61zM122.04 933.93h5.61v5.42h-5.61zM138.88 933.93h5.61v5.42h-5.61zM178.16 933.93h5.61v5.42h-5.61zM239.88 933.93h5.61v5.42h-5.61zM133.27 939.35h5.61v5.42h-5.61zM150.1 939.35h5.61v5.42h-5.61zM245.49 939.35h5.61v5.42h-5.61zM161.32 944.78h5.61v5.42h-5.61zM194.99 944.78h5.61v5.42h-5.61z"/>
<path fill="#fff" fill-opacity="0.18" d="M138.88 841.74h5.61v5.42h-5.61zM161.32 841.74h5.61v5.42h-5.61zM161.32 847.17h5.61v5.42h-5.61zM99.6 852.59h5.61v5.42h-5.61zM116.43 852.59h5.61v5.42h-5.61zM133.27 852.59h5.61v5.42h-5.61zM138.88 852.59h5.61v5.42h-5.61zM166.93 852.59h5.61v5.42h-5.61zM234.27 852.59h5.61v5.42h-5.61zM116.43 858.01h5.61v5.42h-5.61zM150.1 858.01h5.61v5.42h-5.61zM166.93 858.01h5.61v5.42h-5.61zM211.82 858.01h5.61v5.42h-5.61zM245.49 858.01h5.61v5.42h-5.61zM189.38 863.43h5.61v5.42h-5.61zM223.04 863.43h5.61v5.42h-5.61zM217.43 868.86h5.61v5.42h-5.61zM99.6 874.28h5.61v5.42h-5.61zM122.04 874.28h5.61v5.42h-5.61zM245.49 874.28h5.61v5.42h-5.61zM166.93 879.7h5.61v5.42h-5.61zM133.27 885.13h5.61v5.42h-5.61zM200.6 885.13h5.61v5.42h-5.61zM206.21 885.13h5.61v5.42h-5.61zM211.82 885.13h5.61v5.42h-5.61zM206.21 890.55h5.61v5.42h-5.61zM211.82 890.55h5.61v5.42h-5.61zM127.66 895.97h5.61v5.42h-5.61zM133.27 895.97h5.61v5.42h-5.61zM172.54 895.97h5.61v5.42h-5.61zM200.6 895.97h5.61v5.42h-5.61zM228.66 895.97h5.61v5.42h-5.61zM211.82 901.39h5.61v5.42h-5.61zM110.82 906.82h5.61v5.42h-5.61zM116.43 906.82h5.61v5.42h-5.61zM122.04 906.82h5.61v5.42h-5.61zM133.27 906.82h5.61v5.42h-5.61zM150.1 906.82h5.61v5.42h-5.61zM228.66 906.82h5.61v5.42h-5.61zM116.43 912.24h5.61v5.42h-5.61zM161.32 912.24h5.61v5.42h-5.61zM189.38 912.24h5.61v5.42h-5.61zM194.99 912.24h5.61v5.42h-5.61zM206.21 912.24h5.61v5.42h-5.61zM155.71 917.66h5.61v5.42h-5.61zM133.27 928.51h5.61v5.42h-5.61zM150.1 928.51h5.61v5.42h-5.61zM183.77 928.51h5.61v5.42h-5.61zM127.66 933.93h5.61v5.42h-5.61zM133.27 933.93h5.61v5.42h-5.61zM189.38 933.93h5.61v5.42h-5.61zM245.49 933.93h5.61v5.42h-5.61zM122.04 944.78h5.61v5.42h-5.61zM144.49 944.78h5.61v5.42h-5.61zM166.93 944.78h5.61v5.42h-5.61z"/>
<path fill="#000" fill-opacity="0.28" d="M178.16 841.74h5.61v5.42h-5.61zM217.43 841.74h5.61v5.42h-5.61zM166.93 847.17h5.61v5.42h-5.61zM183.77 847.17h5.61v5.42h-5.61zM194.99 852.59h5.61v5.42h-5.61zM206.21 852.59h5.61v5.42h-5.61zM122.04 858.01h5.61v5.42h-5.61zM116.43 863.43h5.61v5.42h-5.61zM178.16 863.43h5.61v5.42h-5.61zM234.27 863.43h5.61v5.42h-5.61zM189.38 868.86h5.61v5.42h-5.61zM194.99 868.86h5.61v5.42h-5.61zM223.04 868.86h5.61v5.42h-5.61zM105.21 874.28h5.61v5.42h-5.61zM161.32 874.28h5.61v5.42h-5.61zM183.77 874.28h5.61v5.42h-5.61zM217.43 874.28h5.61v5.42h-5.61zM228.66 874.28h5.61v5.42h-5.61zM223.04 879.7h5.61v5.42h-5.61zM239.88 879.7h5.61v5.42h-5.61zM245.49 879.7h5.61v5.42h-5.61zM116.43 885.13h5.61v5.42h-5.61zM122.04 890.55h5.61v5.42h-5.61zM127.66 890.55h5.61v5.42h-5.61zM133.27 890.55h5.61v5.42h-5.61zM161.32 890.55h5.61v5.42h-5.61zM183.77 895.97h5.61v5.42h-5.61zM127.66 901.39h5.61v5.42h-5.61zM138.88 901.39h5.61v5.42h-5.61zM189.38 901.39h5.61v5.42h-5.61zM200.6 901.39h5.61v5.42h-5.61zM166.93 906.82h5.61v5.42h-5.61zM172.54 906.82h5.61v5.42h-5.61zM206.21 906.82h5.61v5.42h-5.61zM245.49 906.82h5.61v5.42h-5.61zM99.6 912.24h5.61v5.42h-5.61zM183.77 912.24h5.61v5.42h-5.61zM116.43 917.66h5.61v5.42h-5.61zM194.99 917.66h5.61v5.42h-5.61zM138.88 923.09h5.61v5.42h-5.61zM194.99 923.09h5.61v5.42h-5.61zM211.82 923.09h5.61v5.42h-5.61zM228.66 923.09h5.61v5.42h-5.61zM99.6 928.51h5.61v5.42h-5.61zM110.82 933.93h5.61v5.42h-5.61zM144.49 933.93h5.61v5.42h-5.61zM155.71 933.93h5.61v5.42h-5.61zM166.93 933.93h5.61v5.42h-5.61zM122.04 939.35h5.61v5.42h-5.61zM99.6 944.78h5.61v5.42h-5.61zM189.38 944.78h5.61v5.42h-5.61z"/>
</g>
<ellipse cx="218.56" cy="862.43" rx="4.49" ry="4.47" fill="#e0e0e0" filter="url(#b5)" transform="rotate(0 218.56 862.43)"/>
<ellipse cx="196.11" cy="861.87" rx="4.49" ry="4.47" fill="#cccccc" filter="url(#b5)" transform="rotate(0 196.11 861.87)"/>
<ellipse cx="211.82" cy="850.69" rx="4.49" ry="4.47" fill="#b8b8b8" filter="url(#b5)" transform="rotate(0 211.82 850.69)"/>
<ellipse cx="232.58" cy="866.34" rx="4.49" ry="4.47" fill="#bfbfbf" filter="url(#b5)" transform="rotate(0 232.58 866.34)"/>
<ellipse cx="203.41" cy="888.7" rx="3.93" ry="3.91" fill="#c7c7c7" filter="url(#b5)" transform="rotate(0 203.41 888.7)"/>
<ellipse cx="144.49" cy="883.67" rx="3.37" ry="3.35" fill="#8c8c8c" filter="url(#b5)" transform="rotate(0 144.49 883.67)"/>
<ellipse cx="132.14" cy="920.01" rx="5.61" ry="5.59" fill="#808080" filter="url(#b5)" transform="rotate(0 132.14 920.01)"/>
<ellipse cx="128.22" cy="937.9" rx="4.49" ry="4.47" fill="#808080" filter="url(#b5)" transform="rotate(0 128.22 937.9)"/>
<ellipse cx="173.67" cy="915.54" rx="3.93" ry="3.91" fill="#666666" filter="url(#b5)" transform="rotate(0 173.67 915.54)"/>
<ellipse cx="195.55" cy="898.77" rx="3.37" ry="3.35" fill="#808080" filter="url(#b5)" transform="rotate(0 195.55 898.77)"/>
<ellipse cx="245.49" cy="852.92" rx="4.49" ry="4.47" fill="#999999" filter="url(#b5)" transform="rotate(0 245.49 852.92)"/>
<ellipse cx="180.4" cy="855.16" rx="3.93" ry="3.91" fill="#999999" filter="url(#b5)" transform="rotate(0 180.4 855.16)"/>
</g></g>
<g clip-path="url(#m41)"><g filter="url(#cm41)">
<rect x="279.8" y="806.2" width="155.5" height="146" fill="#0c0c0c"/>
<ellipse cx="386.17" cy="873.05" rx="31.42" ry="27.95" fill="#474747" filter="url(#b4)" transform="rotate(0 386.17 873.05)"/>
<ellipse cx="389.53" cy="866.34" rx="21.32" ry="16.77" fill="#999999" filter="url(#b3)" transform="rotate(0 389.53 866.34)"/>
<ellipse cx="397.39" cy="886.47" rx="13.47" ry="6.71" fill="#a8a8a8" filter="url(#b3)" transform="rotate(0 397.39 886.47)"/>
<ellipse cx="394.02" cy="864.11" rx="11.22" ry="6.71" fill="#ebebeb" filter="url(#b2)" transform="rotate(-5 394.02 864.11)"/>
<ellipse cx="378.31" cy="846.22" rx="13.47" ry="3.35" fill="#808080" filter="url(#b3)" transform="rotate(0 378.31 846.22)"/>
<ellipse cx="349.13" cy="851.25" rx="16.83" ry="3.35" fill="#383838" filter="url(#b3)" transform="rotate(0 349.13 851.25)"/>
<g filter="url(#b2)">
<path fill="#fff" fill-opacity="0.1" d="M281.8 841.74h18.94v3.87h-18.94zM376.49 841.74h18.94v3.87h-18.94zM414.36 841.74h18.94v3.87h-18.94zM338.61 845.62h18.94v3.87h-18.94zM300.74 849.49h18.94v3.87h-18.94zM319.67 853.36h18.94v3.87h-18.94zM376.49 857.24h18.94v3.87h-18.94zM281.8 888.22h18.94v3.87h-18.94zM414.36 888.22h18.94v3.87h-18.94zM281.8 892.1h18.94v3.87h-18.94zM338.61 892.1h18.94v3.87h-18.94zM414.36 892.1h18.94v3.87h-18.94zM281.8 895.97h18.94v3.87h-18.94zM357.55 895.97h18.94v3.87h-18.94zM395.42 903.72h18.94v3.87h-18.94zM319.67 919.21h18.94v3.87h-18.94zM338.61 923.09h18.94v3.87h-18.94zM376.49 926.96h18.94v3.87h-18.94zM319.67 930.83h18.94v3.87h-18.94zM395.42 930.83h18.94v3.87h-18.94zM376.49 938.58h18.94v3.87h-18.94zM319.67 946.33h18.94v3.87h-18.94z"/>
<path fill="#000" fill-opacity="0.24" d="M338.61 841.74h18.94v3.87h-18.94zM357.55 845.62h18.94v3.87h-18.94zM376.49 849.49h18.94v3.87h-18.94zM281.8 857.24h18.94v3.87h-18.94zM338.61 857.24h18.94v3.87h-18.94zM395.42 857.24h18.94v3.87h-18.94zM319.67 864.98h18.94v3.87h-18.94zM376.49 864.98h18.94v3.87h-18.94zM376.49 868.86h18.94v3.87h-18.94zM300.74 876.6h18.94v3.87h-18.94zM319.67 876.6h18.94v3.87h-18.94zM357.55 892.1h18.94v3.87h-18.94zM319.67 899.85h18.94v3.87h-18.94zM319.67 903.72h18.94v3.87h-18.94zM338.61 903.72h18.94v3.87h-18.94zM357.55 903.72h18.94v3.87h-18.94zM414.36 907.59h18.94v3.87h-18.94zM414.36 915.34h18.94v3.87h-18.94zM357.55 926.96h18.94v3.87h-18.94zM395.42 926.96h18.94v3.87h-18.94zM357.55 934.71h18.94v3.87h-18.94zM338.61 938.58h18.94v3.87h-18.94zM414.36 938.58h18.94v3.87h-18.94zM376.49 946.33h18.94v3.87h-18.94z"/>
<path fill="#000" fill-opacity="0.3" d="M357.55 841.74h18.94v3.87h-18.94zM319.67 845.62h18.94v3.87h-18.94zM395.42 845.62h18.94v3.87h-18.94zM338.61 853.36h18.94v3.87h-18.94zM414.36 864.98h18.94v3.87h-18.94zM357.55 872.73h18.94v3.87h-18.94zM319.67 884.35h18.94v3.87h-18.94zM376.49 892.1h18.94v3.87h-18.94zM300.74 895.97h18.94v3.87h-18.94zM319.67 907.59h18.94v3.87h-18.94zM300.74 911.47h18.94v3.87h-18.94zM281.8 915.34h18.94v3.87h-18.94zM300.74 919.21h18.94v3.87h-18.94zM357.55 923.09h18.94v3.87h-18.94zM300.74 926.96h18.94v3.87h-18.94zM338.61 930.83h18.94v3.87h-18.94zM414.36 930.83h18.94v3.87h-18.94zM357.55 942.45h18.94v3.87h-18.94z"/>
<path fill="#fff" fill-opacity="0.06" d="M395.42 841.74h18.94v3.87h-18.94zM300.74 853.36h18.94v3.87h-18.94zM414.36 853.36h18.94v3.87h-18.94zM414.36 857.24h18.94v3.87h-18.94zM357.55 861.11h18.94v3.87h-18.94zM281.8 864.98h18.94v3.87h-18.94zM338.61 864.98h18.94v3.87h-18.94zM338.61 868.86h18.94v3.87h-18.94zM395.42 880.48h18.94v3.87h-18.94zM281.8 899.85h18.94v3.87h-18.94zM414.36 899.85h18.94v3.87h-18.94zM338.61 911.47h18.94v3.87h-18.94zM395.42 915.34h18.94v3.87h-18.94zM281.8 934.71h18.94v3.87h-18.94zM376.49 934.71h18.94v3.87h-18.94zM281.8 942.45h18.94v3.87h-18.94zM338.61 942.45h18.94v3.87h-18.94z"/>
<path fill="#000" fill-opacity="0.17" d="M300.74 845.62h18.94v3.87h-18.94zM319.67 849.49h18.94v3.87h-18.94zM338.61 849.49h18.94v3.87h-18.94zM281.8 853.36h18.94v3.87h-18.94zM357.55 853.36h18.94v3.87h-18.94zM338.61 861.11h18.94v3.87h-18.94zM414.36 861.11h18.94v3.87h-18.94zM300.74 864.98h18.94v3.87h-18.94zM395.42 864.98h18.94v3.87h-18.94zM376.49 872.73h18.94v3.87h-18.94zM414.36 876.6h18.94v3.87h-18.94zM300.74 880.48h18.94v3.87h-18.94zM300.74 884.35h18.94v3.87h-18.94zM338.61 888.22h18.94v3.87h-18.94zM357.55 888.22h18.94v3.87h-18.94zM376.49 895.97h18.94v3.87h-18.94zM300.74 907.59h18.94v3.87h-18.94zM319.67 911.47h18.94v3.87h-18.94zM376.49 911.47h18.94v3.87h-18.94zM300.74 915.34h18.94v3.87h-18.94zM319.67 915.34h18.94v3.87h-18.94zM338.61 915.34h18.94v3.87h-18.94zM319.67 923.09h18.94v3.87h-18.94zM281.8 926.96h18.94v3.87h-18.94zM357.55 930.83h18.94v3.87h-18.94zM281.8 938.58h18.94v3.87h-18.94zM395.42 942.45h18.94v3.87h-18.94z"/>
<path fill="#fff" fill-opacity="0.08" d="M376.49 853.36h18.94v3.87h-18.94zM281.8 868.86h18.94v3.87h-18.94zM395.42 868.86h18.94v3.87h-18.94zM414.36 868.86h18.94v3.87h-18.94zM281.8 884.35h18.94v3.87h-18.94zM414.36 884.35h18.94v3.87h-18.94zM319.67 892.1h18.94v3.87h-18.94zM281.8 903.72h18.94v3.87h-18.94zM300.74 903.72h18.94v3.87h-18.94zM414.36 903.72h18.94v3.87h-18.94zM281.8 907.59h18.94v3.87h-18.94zM319.67 926.96h18.94v3.87h-18.94zM338.61 926.96h18.94v3.87h-18.94zM300.74 942.45h18.94v3.87h-18.94zM357.55 946.33h18.94v3.87h-18.94z"/>
</g>
</g></g>
<g clip-path="url(#m42)"><g filter="url(#cm42)">
<rect x="462" y="806.2" width="155.5" height="146" fill="#0b0b0b"/>
<ellipse cx="541.43" cy="886.47" rx="16.83" ry="36.9" fill="#292929" filter="url(#b4)" transform="rotate(0 541.43 886.47)"/>
<ellipse cx="544.24" cy="866.34" rx="10.1" ry="22.36" fill="#737373" filter="url(#b3)" transform="rotate(0 544.24 866.34)"/>
<ellipse cx="547.04" cy="860.75" rx="6.17" ry="14.54" fill="#b2b2b2" filter="url(#b3)" transform="rotate(0 547.04 860.75)"/>
<ellipse cx="547.04" cy="861.87" rx="3.93" ry="6.15" fill="#e6e6e6" filter="url(#b2)" transform="rotate(0 547.04 861.87)"/>
<g filter="url(#b1)">
<path fill="#fff" fill-opacity="0.1" d="M469.61 841.74h5.61v5.42h-5.61zM480.83 841.74h5.61v5.42h-5.61zM609.89 841.74h5.61v5.42h-5.61zM587.44 847.17h5.61v5.42h-5.61zM464 852.59h5.61v5.42h-5.61zM486.44 852.59h5.61v5.42h-5.61zM542.56 858.01h5.61v5.42h-5.61zM548.17 858.01h5.61v5.42h-5.61zM553.78 858.01h5.61v5.42h-5.61zM587.44 858.01h5.61v5.42h-5.61zM475.22 863.43h5.61v5.42h-5.61zM598.67 868.86h5.61v5.42h-5.61zM536.94 874.28h5.61v5.42h-5.61zM570.61 879.7h5.61v5.42h-5.61zM514.5 885.13h5.61v5.42h-5.61zM525.72 885.13h5.61v5.42h-5.61zM565 885.13h5.61v5.42h-5.61zM531.33 895.97h5.61v5.42h-5.61zM548.17 895.97h5.61v5.42h-5.61zM565 895.97h5.61v5.42h-5.61zM570.61 895.97h5.61v5.42h-5.61zM587.44 895.97h5.61v5.42h-5.61zM593.06 895.97h5.61v5.42h-5.61zM514.5 901.39h5.61v5.42h-5.61zM520.11 901.39h5.61v5.42h-5.61zM497.67 906.82h5.61v5.42h-5.61zM475.22 912.24h5.61v5.42h-5.61zM514.5 912.24h5.61v5.42h-5.61zM531.33 912.24h5.61v5.42h-5.61zM587.44 912.24h5.61v5.42h-5.61zM531.33 923.09h5.61v5.42h-5.61zM536.94 923.09h5.61v5.42h-5.61zM553.78 923.09h5.61v5.42h-5.61zM565 923.09h5.61v5.42h-5.61zM593.06 923.09h5.61v5.42h-5.61zM486.44 928.51h5.61v5.42h-5.61zM508.89 928.51h5.61v5.42h-5.61zM503.28 933.93h5.61v5.42h-5.61zM604.28 933.93h5.61v5.42h-5.61zM570.61 939.35h5.61v5.42h-5.61zM531.33 944.78h5.61v5.42h-5.61z"/>
<path fill="#000" fill-opacity="0.3" d="M503.28 841.74h5.61v5.42h-5.61zM531.33 841.74h5.61v5.42h-5.61zM514.5 847.17h5.61v5.42h-5.61zM525.72 847.17h5.61v5.42h-5.61zM565 847.17h5.61v5.42h-5.61zM609.89 847.17h5.61v5.42h-5.61zM514.5 852.59h5.61v5.42h-5.61zM553.78 852.59h5.61v5.42h-5.61zM480.83 863.43h5.61v5.42h-5.61zM497.67 863.43h5.61v5.42h-5.61zM570.61 863.43h5.61v5.42h-5.61zM593.06 863.43h5.61v5.42h-5.61zM514.5 868.86h5.61v5.42h-5.61zM525.72 874.28h5.61v5.42h-5.61zM559.39 874.28h5.61v5.42h-5.61zM604.28 874.28h5.61v5.42h-5.61zM469.61 879.7h5.61v5.42h-5.61zM508.89 879.7h5.61v5.42h-5.61zM581.83 879.7h5.61v5.42h-5.61zM609.89 879.7h5.61v5.42h-5.61zM486.44 885.13h5.61v5.42h-5.61zM503.28 885.13h5.61v5.42h-5.61zM593.06 885.13h5.61v5.42h-5.61zM480.83 890.55h5.61v5.42h-5.61zM508.89 890.55h5.61v5.42h-5.61zM576.22 890.55h5.61v5.42h-5.61zM464 895.97h5.61v5.42h-5.61zM542.56 895.97h5.61v5.42h-5.61zM581.83 901.39h5.61v5.42h-5.61zM604.28 906.82h5.61v5.42h-5.61zM609.89 906.82h5.61v5.42h-5.61zM581.83 912.24h5.61v5.42h-5.61zM536.94 917.66h5.61v5.42h-5.61zM576.22 917.66h5.61v5.42h-5.61zM598.67 917.66h5.61v5.42h-5.61zM475.22 923.09h5.61v5.42h-5.61zM508.89 923.09h5.61v5.42h-5.61zM559.39 923.09h5.61v5.42h-5.61zM576.22 923.09h5.61v5.42h-5.61zM514.5 928.51h5.61v5.42h-5.61zM531.33 928.51h5.61v5.42h-5.61zM587.44 928.51h5.61v5.42h-5.61zM492.06 933.93h5.61v5.42h-5.61zM531.33 933.93h5.61v5.42h-5.61zM553.78 933.93h5.61v5.42h-5.61zM508.89 939.35h5.61v5.42h-5.61zM520.11 939.35h5.61v5.42h-5.61zM604.28 939.35h5.61v5.42h-5.61zM497.67 944.78h5.61v5.42h-5.61zM553.78 944.78h5.61v5.42h-5.61zM570.61 944.78h5.61v5.42h-5.61z"/>
<path fill="#fff" fill-opacity="0.07" d="M508.89 841.74h5.61v5.42h-5.61zM604.28 841.74h5.61v5.42h-5.61zM480.83 847.17h5.61v5.42h-5.61zM536.94 847.17h5.61v5.42h-5.61zM548.17 847.17h5.61v5.42h-5.61zM469.61 852.59h5.61v5.42h-5.61zM525.72 852.59h5.61v5.42h-5.61zM464 858.01h5.61v5.42h-5.61zM531.33 858.01h5.61v5.42h-5.61zM464 863.43h5.61v5.42h-5.61zM508.89 863.43h5.61v5.42h-5.61zM520.11 863.43h5.61v5.42h-5.61zM542.56 863.43h5.61v5.42h-5.61zM581.83 863.43h5.61v5.42h-5.61zM609.89 863.43h5.61v5.42h-5.61zM464 868.86h5.61v5.42h-5.61zM480.83 868.86h5.61v5.42h-5.61zM497.67 868.86h5.61v5.42h-5.61zM503.28 868.86h5.61v5.42h-5.61zM508.89 868.86h5.61v5.42h-5.61zM565 868.86h5.61v5.42h-5.61zM570.61 868.86h5.61v5.42h-5.61zM531.33 874.28h5.61v5.42h-5.61zM548.17 874.28h5.61v5.42h-5.61zM514.5 879.7h5.61v5.42h-5.61zM520.11 879.7h5.61v5.42h-5.61zM525.72 879.7h5.61v5.42h-5.61zM536.94 879.7h5.61v5.42h-5.61zM604.28 879.7h5.61v5.42h-5.61zM464 885.13h5.61v5.42h-5.61zM508.89 885.13h5.61v5.42h-5.61zM553.78 885.13h5.61v5.42h-5.61zM553.78 890.55h5.61v5.42h-5.61zM570.61 890.55h5.61v5.42h-5.61zM497.67 895.97h5.61v5.42h-5.61zM525.72 895.97h5.61v5.42h-5.61zM469.61 901.39h5.61v5.42h-5.61zM536.94 901.39h5.61v5.42h-5.61zM570.61 901.39h5.61v5.42h-5.61zM570.61 906.82h5.61v5.42h-5.61zM503.28 912.24h5.61v5.42h-5.61zM508.89 912.24h5.61v5.42h-5.61zM525.72 912.24h5.61v5.42h-5.61zM553.78 912.24h5.61v5.42h-5.61zM593.06 912.24h5.61v5.42h-5.61zM609.89 912.24h5.61v5.42h-5.61zM565 917.66h5.61v5.42h-5.61zM570.61 917.66h5.61v5.42h-5.61zM604.28 917.66h5.61v5.42h-5.61zM480.83 923.09h5.61v5.42h-5.61zM525.72 923.09h5.61v5.42h-5.61zM565 928.51h5.61v5.42h-5.61zM469.61 939.35h5.61v5.42h-5.61zM475.22 944.78h5.61v5.42h-5.61zM587.44 944.78h5.61v5.42h-5.61z"/>
<path fill="#000" fill-opacity="0.17" d="M520.11 841.74h5.61v5.42h-5.61zM587.44 841.74h5.61v5.42h-5.61zM503.28 847.17h5.61v5.42h-5.61zM542.56 847.17h5.61v5.42h-5.61zM553.78 847.17h5.61v5.42h-5.61zM581.83 847.17h5.61v5.42h-5.61zM598.67 847.17h5.61v5.42h-5.61zM503.28 852.59h5.61v5.42h-5.61zM508.89 852.59h5.61v5.42h-5.61zM598.67 852.59h5.61v5.42h-5.61zM565 858.01h5.61v5.42h-5.61zM576.22 858.01h5.61v5.42h-5.61zM536.94 863.43h5.61v5.42h-5.61zM559.39 863.43h5.61v5.42h-5.61zM576.22 863.43h5.61v5.42h-5.61zM475.22 868.86h5.61v5.42h-5.61zM475.22 874.28h5.61v5.42h-5.61zM503.28 874.28h5.61v5.42h-5.61zM570.61 874.28h5.61v5.42h-5.61zM576.22 874.28h5.61v5.42h-5.61zM587.44 874.28h5.61v5.42h-5.61zM475.22 879.7h5.61v5.42h-5.61zM548.17 885.13h5.61v5.42h-5.61zM576.22 885.13h5.61v5.42h-5.61zM536.94 890.55h5.61v5.42h-5.61zM475.22 895.97h5.61v5.42h-5.61zM609.89 895.97h5.61v5.42h-5.61zM475.22 901.39h5.61v5.42h-5.61zM503.28 901.39h5.61v5.42h-5.61zM508.89 901.39h5.61v5.42h-5.61zM542.56 901.39h5.61v5.42h-5.61zM548.17 901.39h5.61v5.42h-5.61zM559.39 901.39h5.61v5.42h-5.61zM565 901.39h5.61v5.42h-5.61zM576.22 901.39h5.61v5.42h-5.61zM536.94 906.82h5.61v5.42h-5.61zM553.78 906.82h5.61v5.42h-5.61zM492.06 912.24h5.61v5.42h-5.61zM559.39 912.24h5.61v5.42h-5.61zM520.11 917.66h5.61v5.42h-5.61zM486.44 923.09h5.61v5.42h-5.61zM581.83 923.09h5.61v5.42h-5.61zM604.28 923.09h5.61v5.42h-5.61zM469.61 928.51h5.61v5.42h-5.61zM480.83 928.51h5.61v5.42h-5.61zM520.11 928.51h5.61v5.42h-5.61zM536.94 928.51h5.61v5.42h-5.61zM542.56 928.51h5.61v5.42h-5.61zM559.39 928.51h5.61v5.42h-5.61zM486.44 933.93h5.61v5.42h-5.61zM508.89 933.93h5.61v5.42h-5.61zM525.72 933.93h5.61v5.42h-5.61zM565 933.93h5.61v5.42h-5.61zM587.44 933.93h5.61v5.42h-5.61zM486.44 939.35h5.61v5.42h-5.61zM553.78 939.35h5.61v5.42h-5.61zM464 944.78h5.61v5.42h-5.61zM469.61 944.78h5.61v5.42h-5.61zM480.83 944.78h5.61v5.42h-5.61z"/>
<path fill="#000" fill-opacity="0.24" d="M525.72 841.74h5.61v5.42h-5.61zM536.94 841.74h5.61v5.42h-5.61zM469.61 847.17h5.61v5.42h-5.61zM492.06 847.17h5.61v5.42h-5.61zM508.89 847.17h5.61v5.42h-5.61zM548.17 852.59h5.61v5.42h-5.61zM475.22 858.01h5.61v5.42h-5.61zM581.83 858.01h5.61v5.42h-5.61zM553.78 868.86h5.61v5.42h-5.61zM514.5 874.28h5.61v5.42h-5.61zM542.56 874.28h5.61v5.42h-5.61zM464 879.7h5.61v5.42h-5.61zM503.28 879.7h5.61v5.42h-5.61zM559.39 879.7h5.61v5.42h-5.61zM593.06 879.7h5.61v5.42h-5.61zM531.33 885.13h5.61v5.42h-5.61zM486.44 890.55h5.61v5.42h-5.61zM503.28 890.55h5.61v5.42h-5.61zM525.72 890.55h5.61v5.42h-5.61zM604.28 890.55h5.61v5.42h-5.61zM480.83 895.97h5.61v5.42h-5.61zM492.06 895.97h5.61v5.42h-5.61zM536.94 895.97h5.61v5.42h-5.61zM553.78 895.97h5.61v5.42h-5.61zM480.83 901.39h5.61v5.42h-5.61zM486.44 901.39h5.61v5.42h-5.61zM497.67 901.39h5.61v5.42h-5.61zM587.44 901.39h5.61v5.42h-5.61zM464 906.82h5.61v5.42h-5.61zM531.33 906.82h5.61v5.42h-5.61zM548.17 906.82h5.61v5.42h-5.61zM559.39 906.82h5.61v5.42h-5.61zM520.11 912.24h5.61v5.42h-5.61zM570.61 912.24h5.61v5.42h-5.61zM598.67 912.24h5.61v5.42h-5.61zM480.83 917.66h5.61v5.42h-5.61zM548.17 917.66h5.61v5.42h-5.61zM581.83 917.66h5.61v5.42h-5.61zM520.11 923.09h5.61v5.42h-5.61zM570.61 923.09h5.61v5.42h-5.61zM475.22 928.51h5.61v5.42h-5.61zM576.22 928.51h5.61v5.42h-5.61zM593.06 928.51h5.61v5.42h-5.61zM464 933.93h5.61v5.42h-5.61zM464 939.35h5.61v5.42h-5.61zM503.28 939.35h5.61v5.42h-5.61zM598.67 939.35h5.61v5.42h-5.61zM514.5 944.78h5.61v5.42h-5.61zM559.39 944.78h5.61v5.42h-5.61z"/>
<path fill="#fff" fill-opacity="0.12" d="M570.61 841.74h5.61v5.42h-5.61zM593.06 852.59h5.61v5.42h-5.61zM480.83 858.01h5.61v5.42h-5.61zM503.28 858.01h5.61v5.42h-5.61zM492.06 863.43h5.61v5.42h-5.61zM548.17 863.43h5.61v5.42h-5.61zM598.67 863.43h5.61v5.42h-5.61zM576.22 868.86h5.61v5.42h-5.61zM508.89 874.28h5.61v5.42h-5.61zM581.83 874.28h5.61v5.42h-5.61zM480.83 879.7h5.61v5.42h-5.61zM475.22 885.13h5.61v5.42h-5.61zM604.28 885.13h5.61v5.42h-5.61zM469.61 890.55h5.61v5.42h-5.61zM497.67 890.55h5.61v5.42h-5.61zM531.33 890.55h5.61v5.42h-5.61zM587.44 890.55h5.61v5.42h-5.61zM508.89 895.97h5.61v5.42h-5.61zM514.5 895.97h5.61v5.42h-5.61zM598.67 895.97h5.61v5.42h-5.61zM531.33 901.39h5.61v5.42h-5.61zM609.89 901.39h5.61v5.42h-5.61zM492.06 906.82h5.61v5.42h-5.61zM503.28 906.82h5.61v5.42h-5.61zM587.44 906.82h5.61v5.42h-5.61zM503.28 917.66h5.61v5.42h-5.61zM542.56 917.66h5.61v5.42h-5.61zM587.44 917.66h5.61v5.42h-5.61zM497.67 923.09h5.61v5.42h-5.61zM503.28 923.09h5.61v5.42h-5.61zM598.67 923.09h5.61v5.42h-5.61zM464 928.51h5.61v5.42h-5.61zM492.06 928.51h5.61v5.42h-5.61zM536.94 933.93h5.61v5.42h-5.61zM581.83 933.93h5.61v5.42h-5.61zM525.72 939.35h5.61v5.42h-5.61zM559.39 939.35h5.61v5.42h-5.61zM486.44 944.78h5.61v5.42h-5.61zM604.28 944.78h5.61v5.42h-5.61z"/>
</g>
</g></g>
<g clip-path="url(#m43)"><g filter="url(#cm43)">
<rect x="644.2" y="806.2" width="155.5" height="146" fill="#242424"/>
<rect x="647.32" y="843.42" width="113.34" height="49.76" fill="#666666" filter="url(#b4)"/>
<g filter="url(#b1)">
<path fill="#000" fill-opacity="0.32" d="M651.61 841.74h5.41v5.42h-5.41zM738.18 841.74h5.41v5.42h-5.41zM754.41 841.74h5.41v5.42h-5.41zM678.66 847.17h5.41v5.42h-5.41zM694.9 847.17h5.41v5.42h-5.41zM657.02 852.59h5.41v5.42h-5.41zM792.29 852.59h5.41v5.42h-5.41zM667.84 858.01h5.41v5.42h-5.41zM651.61 863.43h5.41v5.42h-5.41zM657.02 863.43h5.41v5.42h-5.41zM727.36 863.43h5.41v5.42h-5.41zM732.77 863.43h5.41v5.42h-5.41zM738.18 863.43h5.41v5.42h-5.41zM673.25 868.86h5.41v5.42h-5.41zM684.07 868.86h5.41v5.42h-5.41zM727.36 868.86h5.41v5.42h-5.41zM651.61 874.28h5.41v5.42h-5.41zM673.25 874.28h5.41v5.42h-5.41zM689.49 874.28h5.41v5.42h-5.41zM711.13 874.28h5.41v5.42h-5.41zM721.95 874.28h5.41v5.42h-5.41zM732.77 885.13h5.41v5.42h-5.41zM792.29 885.13h5.41v5.42h-5.41zM705.72 890.55h5.41v5.42h-5.41zM711.13 890.55h5.41v5.42h-5.41zM721.95 890.55h5.41v5.42h-5.41zM754.41 890.55h5.41v5.42h-5.41zM667.84 895.97h5.41v5.42h-5.41zM711.13 895.97h5.41v5.42h-5.41zM646.2 901.39h5.41v5.42h-5.41zM673.25 901.39h5.41v5.42h-5.41zM694.9 901.39h5.41v5.42h-5.41zM732.77 901.39h5.41v5.42h-5.41zM765.24 901.39h5.41v5.42h-5.41zM781.47 901.39h5.41v5.42h-5.41zM689.49 906.82h5.41v5.42h-5.41zM700.31 906.82h5.41v5.42h-5.41zM705.72 906.82h5.41v5.42h-5.41zM776.06 906.82h5.41v5.42h-5.41zM694.9 912.24h5.41v5.42h-5.41zM705.72 912.24h5.41v5.42h-5.41zM749 912.24h5.41v5.42h-5.41zM781.47 912.24h5.41v5.42h-5.41zM657.02 917.66h5.41v5.42h-5.41zM678.66 917.66h5.41v5.42h-5.41zM759.82 917.66h5.41v5.42h-5.41zM646.2 923.09h5.41v5.42h-5.41zM667.84 923.09h5.41v5.42h-5.41zM743.59 923.09h5.41v5.42h-5.41zM716.54 928.51h5.41v5.42h-5.41zM667.84 933.93h5.41v5.42h-5.41zM651.61 939.35h5.41v5.42h-5.41zM694.9 939.35h5.41v5.42h-5.41zM792.29 939.35h5.41v5.42h-5.41zM754.41 944.78h5.41v5.42h-5.41zM781.47 944.78h5.41v5.42h-5.41zM792.29 944.78h5.41v5.42h-5.41z"/>
<path fill="#fff" fill-opacity="0.22" d="M657.02 841.74h5.41v5.42h-5.41zM673.25 841.74h5.41v5.42h-5.41zM705.72 841.74h5.41v5.42h-5.41zM716.54 841.74h5.41v5.42h-5.41zM721.95 841.74h5.41v5.42h-5.41zM657.02 847.17h5.41v5.42h-5.41zM705.72 847.17h5.41v5.42h-5.41zM711.13 847.17h5.41v5.42h-5.41zM776.06 847.17h5.41v5.42h-5.41zM727.36 852.59h5.41v5.42h-5.41zM781.47 852.59h5.41v5.42h-5.41zM651.61 858.01h5.41v5.42h-5.41zM684.07 858.01h5.41v5.42h-5.41zM694.9 858.01h5.41v5.42h-5.41zM743.59 858.01h5.41v5.42h-5.41zM776.06 858.01h5.41v5.42h-5.41zM684.07 863.43h5.41v5.42h-5.41zM721.95 863.43h5.41v5.42h-5.41zM749 863.43h5.41v5.42h-5.41zM651.61 868.86h5.41v5.42h-5.41zM705.72 868.86h5.41v5.42h-5.41zM749 868.86h5.41v5.42h-5.41zM657.02 874.28h5.41v5.42h-5.41zM662.43 874.28h5.41v5.42h-5.41zM792.29 874.28h5.41v5.42h-5.41zM646.2 879.7h5.41v5.42h-5.41zM651.61 879.7h5.41v5.42h-5.41zM657.02 879.7h5.41v5.42h-5.41zM759.82 879.7h5.41v5.42h-5.41zM700.31 890.55h5.41v5.42h-5.41zM792.29 890.55h5.41v5.42h-5.41zM689.49 895.97h5.41v5.42h-5.41zM743.59 895.97h5.41v5.42h-5.41zM749 895.97h5.41v5.42h-5.41zM667.84 901.39h5.41v5.42h-5.41zM700.31 901.39h5.41v5.42h-5.41zM738.18 901.39h5.41v5.42h-5.41zM749 901.39h5.41v5.42h-5.41zM770.65 901.39h5.41v5.42h-5.41zM662.43 906.82h5.41v5.42h-5.41zM694.9 906.82h5.41v5.42h-5.41zM651.61 912.24h5.41v5.42h-5.41zM657.02 912.24h5.41v5.42h-5.41zM667.84 912.24h5.41v5.42h-5.41zM776.06 912.24h5.41v5.42h-5.41zM732.77 917.66h5.41v5.42h-5.41zM770.65 917.66h5.41v5.42h-5.41zM673.25 923.09h5.41v5.42h-5.41zM721.95 923.09h5.41v5.42h-5.41zM727.36 923.09h5.41v5.42h-5.41zM738.18 923.09h5.41v5.42h-5.41zM754.41 923.09h5.41v5.42h-5.41zM765.24 923.09h5.41v5.42h-5.41zM781.47 923.09h5.41v5.42h-5.41zM657.02 928.51h5.41v5.42h-5.41zM738.18 928.51h5.41v5.42h-5.41zM678.66 933.93h5.41v5.42h-5.41zM694.9 933.93h5.41v5.42h-5.41zM759.82 933.93h5.41v5.42h-5.41zM765.24 933.93h5.41v5.42h-5.41zM770.65 933.93h5.41v5.42h-5.41zM657.02 939.35h5.41v5.42h-5.41zM727.36 939.35h5.41v5.42h-5.41zM689.49 944.78h5.41v5.42h-5.41zM694.9 944.78h5.41v5.42h-5.41zM759.82 944.78h5.41v5.42h-5.41z"/>
<path fill="#000" fill-opacity="0.4" d="M662.43 841.74h5.41v5.42h-5.41zM684.07 841.74h5.41v5.42h-5.41zM689.49 841.74h5.41v5.42h-5.41zM792.29 841.74h5.41v5.42h-5.41zM662.43 847.17h5.41v5.42h-5.41zM689.49 847.17h5.41v5.42h-5.41zM727.36 847.17h5.41v5.42h-5.41zM765.24 847.17h5.41v5.42h-5.41zM651.61 852.59h5.41v5.42h-5.41zM721.95 852.59h5.41v5.42h-5.41zM749 852.59h5.41v5.42h-5.41zM786.88 852.59h5.41v5.42h-5.41zM700.31 858.01h5.41v5.42h-5.41zM705.72 863.43h5.41v5.42h-5.41zM694.9 868.86h5.41v5.42h-5.41zM792.29 868.86h5.41v5.42h-5.41zM678.66 874.28h5.41v5.42h-5.41zM705.72 874.28h5.41v5.42h-5.41zM776.06 874.28h5.41v5.42h-5.41zM662.43 879.7h5.41v5.42h-5.41zM678.66 879.7h5.41v5.42h-5.41zM732.77 879.7h5.41v5.42h-5.41zM684.07 885.13h5.41v5.42h-5.41zM711.13 885.13h5.41v5.42h-5.41zM743.59 885.13h5.41v5.42h-5.41zM673.25 890.55h5.41v5.42h-5.41zM716.54 890.55h5.41v5.42h-5.41zM738.18 890.55h5.41v5.42h-5.41zM716.54 895.97h5.41v5.42h-5.41zM754.41 895.97h5.41v5.42h-5.41zM765.24 895.97h5.41v5.42h-5.41zM662.43 901.39h5.41v5.42h-5.41zM721.95 901.39h5.41v5.42h-5.41zM786.88 901.39h5.41v5.42h-5.41zM657.02 906.82h5.41v5.42h-5.41zM792.29 906.82h5.41v5.42h-5.41zM678.66 912.24h5.41v5.42h-5.41zM700.31 912.24h5.41v5.42h-5.41zM738.18 912.24h5.41v5.42h-5.41zM743.59 912.24h5.41v5.42h-5.41zM754.41 912.24h5.41v5.42h-5.41zM786.88 912.24h5.41v5.42h-5.41zM749 917.66h5.41v5.42h-5.41zM786.88 917.66h5.41v5.42h-5.41zM711.13 928.51h5.41v5.42h-5.41zM781.47 928.51h5.41v5.42h-5.41zM657.02 933.93h5.41v5.42h-5.41zM673.25 933.93h5.41v5.42h-5.41zM705.72 933.93h5.41v5.42h-5.41zM749 933.93h5.41v5.42h-5.41zM684.07 939.35h5.41v5.42h-5.41zM738.18 939.35h5.41v5.42h-5.41zM749 939.35h5.41v5.42h-5.41zM759.82 939.35h5.41v5.42h-5.41zM657.02 944.78h5.41v5.42h-5.41zM732.77 944.78h5.41v5.42h-5.41zM765.24 944.78h5.41v5.42h-5.41z"/>
<path fill="#fff" fill-opacity="0.12" d="M667.84 841.74h5.41v5.42h-5.41zM700.31 841.74h5.41v5.42h-5.41zM786.88 841.74h5.41v5.42h-5.41zM684.07 847.17h5.41v5.42h-5.41zM716.54 847.17h5.41v5.42h-5.41zM770.65 847.17h5.41v5.42h-5.41zM662.43 852.59h5.41v5.42h-5.41zM662.43 858.01h5.41v5.42h-5.41zM705.72 858.01h5.41v5.42h-5.41zM662.43 863.43h5.41v5.42h-5.41zM743.59 863.43h5.41v5.42h-5.41zM754.41 863.43h5.41v5.42h-5.41zM776.06 863.43h5.41v5.42h-5.41zM786.88 863.43h5.41v5.42h-5.41zM716.54 868.86h5.41v5.42h-5.41zM684.07 874.28h5.41v5.42h-5.41zM727.36 874.28h5.41v5.42h-5.41zM754.41 874.28h5.41v5.42h-5.41zM759.82 874.28h5.41v5.42h-5.41zM765.24 874.28h5.41v5.42h-5.41zM705.72 879.7h5.41v5.42h-5.41zM765.24 879.7h5.41v5.42h-5.41zM770.65 879.7h5.41v5.42h-5.41zM678.66 885.13h5.41v5.42h-5.41zM705.72 885.13h5.41v5.42h-5.41zM749 885.13h5.41v5.42h-5.41zM667.84 890.55h5.41v5.42h-5.41zM749 890.55h5.41v5.42h-5.41zM770.65 890.55h5.41v5.42h-5.41zM786.88 890.55h5.41v5.42h-5.41zM684.07 895.97h5.41v5.42h-5.41zM721.95 895.97h5.41v5.42h-5.41zM727.36 895.97h5.41v5.42h-5.41zM759.82 895.97h5.41v5.42h-5.41zM786.88 895.97h5.41v5.42h-5.41zM754.41 901.39h5.41v5.42h-5.41zM646.2 906.82h5.41v5.42h-5.41zM765.24 906.82h5.41v5.42h-5.41zM684.07 912.24h5.41v5.42h-5.41zM651.61 917.66h5.41v5.42h-5.41zM759.82 923.09h5.41v5.42h-5.41zM792.29 923.09h5.41v5.42h-5.41zM662.43 928.51h5.41v5.42h-5.41zM770.65 928.51h5.41v5.42h-5.41zM776.06 928.51h5.41v5.42h-5.41zM786.88 928.51h5.41v5.42h-5.41zM781.47 933.93h5.41v5.42h-5.41zM678.66 939.35h5.41v5.42h-5.41zM673.25 944.78h5.41v5.42h-5.41z"/>
<path fill="#fff" fill-opacity="0.18" d="M749 841.74h5.41v5.42h-5.41zM759.82 841.74h5.41v5.42h-5.41zM651.61 847.17h5.41v5.42h-5.41zM673.25 847.17h5.41v5.42h-5.41zM700.31 847.17h5.41v5.42h-5.41zM759.82 847.17h5.41v5.42h-5.41zM792.29 847.17h5.41v5.42h-5.41zM646.2 852.59h5.41v5.42h-5.41zM673.25 852.59h5.41v5.42h-5.41zM684.07 852.59h5.41v5.42h-5.41zM694.9 852.59h5.41v5.42h-5.41zM705.72 852.59h5.41v5.42h-5.41zM754.41 852.59h5.41v5.42h-5.41zM678.66 858.01h5.41v5.42h-5.41zM749 858.01h5.41v5.42h-5.41zM667.84 863.43h5.41v5.42h-5.41zM689.49 863.43h5.41v5.42h-5.41zM694.9 863.43h5.41v5.42h-5.41zM662.43 868.86h5.41v5.42h-5.41zM667.84 868.86h5.41v5.42h-5.41zM743.59 868.86h5.41v5.42h-5.41zM770.65 868.86h5.41v5.42h-5.41zM786.88 868.86h5.41v5.42h-5.41zM694.9 874.28h5.41v5.42h-5.41zM770.65 874.28h5.41v5.42h-5.41zM781.47 874.28h5.41v5.42h-5.41zM667.84 879.7h5.41v5.42h-5.41zM684.07 879.7h5.41v5.42h-5.41zM727.36 879.7h5.41v5.42h-5.41zM646.2 885.13h5.41v5.42h-5.41zM651.61 885.13h5.41v5.42h-5.41zM727.36 885.13h5.41v5.42h-5.41zM646.2 890.55h5.41v5.42h-5.41zM776.06 890.55h5.41v5.42h-5.41zM646.2 895.97h5.41v5.42h-5.41zM657.02 895.97h5.41v5.42h-5.41zM678.66 895.97h5.41v5.42h-5.41zM792.29 901.39h5.41v5.42h-5.41zM667.84 906.82h5.41v5.42h-5.41zM678.66 906.82h5.41v5.42h-5.41zM684.07 906.82h5.41v5.42h-5.41zM711.13 912.24h5.41v5.42h-5.41zM673.25 917.66h5.41v5.42h-5.41zM721.95 917.66h5.41v5.42h-5.41zM754.41 917.66h5.41v5.42h-5.41zM781.47 917.66h5.41v5.42h-5.41zM662.43 923.09h5.41v5.42h-5.41zM786.88 923.09h5.41v5.42h-5.41zM689.49 928.51h5.41v5.42h-5.41zM727.36 928.51h5.41v5.42h-5.41zM765.24 928.51h5.41v5.42h-5.41zM776.06 933.93h5.41v5.42h-5.41zM662.43 939.35h5.41v5.42h-5.41zM711.13 939.35h5.41v5.42h-5.41zM786.88 939.35h5.41v5.42h-5.41zM651.61 944.78h5.41v5.42h-5.41zM662.43 944.78h5.41v5.42h-5.41zM716.54 944.78h5.41v5.42h-5.41zM721.95 944.78h5.41v5.42h-5.41zM743.59 944.78h5.41v5.42h-5.41zM749 944.78h5.41v5.42h-5.41zM776.06 944.78h5.41v5.42h-5.41z"/>
<path fill="#000" fill-opacity="0.22" d="M781.47 841.74h5.41v5.42h-5.41zM646.2 847.17h5.41v5.42h-5.41zM732.77 847.17h5.41v5.42h-5.41zM754.41 847.17h5.41v5.42h-5.41zM786.88 847.17h5.41v5.42h-5.41zM711.13 852.59h5.41v5.42h-5.41zM743.59 852.59h5.41v5.42h-5.41zM711.13 858.01h5.41v5.42h-5.41zM721.95 858.01h5.41v5.42h-5.41zM727.36 858.01h5.41v5.42h-5.41zM738.18 858.01h5.41v5.42h-5.41zM781.47 858.01h5.41v5.42h-5.41zM711.13 863.43h5.41v5.42h-5.41zM770.65 863.43h5.41v5.42h-5.41zM781.47 868.86h5.41v5.42h-5.41zM646.2 874.28h5.41v5.42h-5.41zM716.54 874.28h5.41v5.42h-5.41zM716.54 879.7h5.41v5.42h-5.41zM738.18 879.7h5.41v5.42h-5.41zM749 879.7h5.41v5.42h-5.41zM662.43 885.13h5.41v5.42h-5.41zM667.84 885.13h5.41v5.42h-5.41zM689.49 885.13h5.41v5.42h-5.41zM694.9 885.13h5.41v5.42h-5.41zM721.95 885.13h5.41v5.42h-5.41zM765.24 885.13h5.41v5.42h-5.41zM770.65 885.13h5.41v5.42h-5.41zM662.43 890.55h5.41v5.42h-5.41zM694.9 890.55h5.41v5.42h-5.41zM732.77 895.97h5.41v5.42h-5.41zM657.02 901.39h5.41v5.42h-5.41zM727.36 901.39h5.41v5.42h-5.41zM743.59 901.39h5.41v5.42h-5.41zM759.82 901.39h5.41v5.42h-5.41zM651.61 906.82h5.41v5.42h-5.41zM711.13 906.82h5.41v5.42h-5.41zM662.43 912.24h5.41v5.42h-5.41zM673.25 912.24h5.41v5.42h-5.41zM792.29 912.24h5.41v5.42h-5.41zM646.2 917.66h5.41v5.42h-5.41zM743.59 917.66h5.41v5.42h-5.41zM657.02 923.09h5.41v5.42h-5.41zM689.49 923.09h5.41v5.42h-5.41zM749 923.09h5.41v5.42h-5.41zM776.06 923.09h5.41v5.42h-5.41zM651.61 933.93h5.41v5.42h-5.41zM662.43 933.93h5.41v5.42h-5.41zM689.49 933.93h5.41v5.42h-5.41zM716.54 933.93h5.41v5.42h-5.41zM786.88 933.93h5.41v5.42h-5.41zM716.54 939.35h5.41v5.42h-5.41zM678.66 944.78h5.41v5.42h-5.41z"/>
</g>
<ellipse cx="648.44" cy="866.34" rx="3.93" ry="3.91" fill="#d9d9d9" filter="url(#b5)" transform="rotate(0 648.44 866.34)"/>
<ellipse cx="678.74" cy="860.19" rx="3.93" ry="3.91" fill="#cccccc" filter="url(#b5)" transform="rotate(0 678.74 860.19)"/>
<ellipse cx="664.16" cy="861.31" rx="3.93" ry="3.91" fill="#a6a6a6" filter="url(#b5)" transform="rotate(0 664.16 861.31)"/>
<ellipse cx="673.13" cy="875.29" rx="3.93" ry="3.91" fill="#bfbfbf" filter="url(#b5)" transform="rotate(0 673.13 875.29)"/>
<ellipse cx="660.79" cy="878.08" rx="3.93" ry="3.91" fill="#b2b2b2" filter="url(#b5)" transform="rotate(0 660.79 878.08)"/>
<ellipse cx="691.09" cy="878.08" rx="3.93" ry="3.91" fill="#b2b2b2" filter="url(#b5)" transform="rotate(0 691.09 878.08)"/>
<ellipse cx="704.56" cy="882.55" rx="3.93" ry="3.91" fill="#d9d9d9" filter="url(#b5)" transform="rotate(0 704.56 882.55)"/>
<ellipse cx="699.51" cy="865.22" rx="3.93" ry="3.91" fill="#bfbfbf" filter="url(#b5)" transform="rotate(0 699.51 865.22)"/>
<ellipse cx="729.24" cy="869.7" rx="3.93" ry="3.91" fill="#d9d9d9" filter="url(#b5)" transform="rotate(0 729.24 869.7)"/>
<ellipse cx="735.98" cy="859.07" rx="3.93" ry="3.91" fill="#bfbfbf" filter="url(#b5)" transform="rotate(0 735.98 859.07)"/>
<ellipse cx="742.71" cy="866.9" rx="3.93" ry="3.91" fill="#bfbfbf" filter="url(#b5)" transform="rotate(0 742.71 866.9)"/>
<ellipse cx="748.32" cy="861.87" rx="3.93" ry="3.91" fill="#a6a6a6" filter="url(#b5)" transform="rotate(0 748.32 861.87)"/>
<ellipse cx="655.18" cy="893.18" rx="3.93" ry="3.91" fill="#999999" filter="url(#b5)" transform="rotate(0 655.18 893.18)"/>
<ellipse cx="685.48" cy="850.13" rx="3.93" ry="3.91" fill="#999999" filter="url(#b5)" transform="rotate(0 685.48 850.13)"/>
<ellipse cx="673.13" cy="845.1" rx="3.93" ry="3.91" fill="#999999" filter="url(#b5)" transform="rotate(0 673.13 845.1)"/>
<ellipse cx="729.24" cy="897.65" rx="3.93" ry="3.91" fill="#808080" filter="url(#b5)" transform="rotate(0 729.24 897.65)"/>
<ellipse cx="709.04" cy="845.1" rx="3.93" ry="3.91" fill="#8c8c8c" filter="url(#b5)" transform="rotate(0 709.04 845.1)"/>
<ellipse cx="718.02" cy="858.51" rx="3.93" ry="3.91" fill="#999999" filter="url(#b5)" transform="rotate(0 718.02 858.51)"/>
</g></g>
<g clip-path="url(#m50)"><g filter="url(#cm50)">
<rect x="97.6" y="977" width="155.5" height="146" fill="#242424"/>
<path d="M116.43 1012.54 L155.71 1040.5 L194.99 1057.27 L251.1 1074.04" fill="none" stroke="#575757" stroke-width="50.5" stroke-linecap="round" stroke-linejoin="round" filter="url(#b4)"/>
<ellipse cx="200.6" cy="1056.15" rx="47.13" ry="25.72" fill="#7a7a7a" filter="url(#b4)" transform="rotate(8 200.6 1056.15)"/>
<path d="M157.96 1041.61 L194.99 1047.2 L217.43 1052.8 L239.88 1061.74" fill="none" stroke="#a8a8a8" stroke-width="14.59" stroke-linecap="round" stroke-linejoin="round" filter="url(#b3)"/>
<g filter="url(#b1)">
<path fill="#000" fill-opacity="0.28" d="M99.6 979h5.61v5.68h-5.61zM183.77 979h5.61v5.68h-5.61zM194.99 979h5.61v5.68h-5.61zM150.1 984.68h5.61v5.68h-5.61zM211.82 984.68h5.61v5.68h-5.61zM110.82 990.36h5.61v5.68h-5.61zM122.04 990.36h5.61v5.68h-5.61zM194.99 990.36h5.61v5.68h-5.61zM223.04 990.36h5.61v5.68h-5.61zM228.66 990.36h5.61v5.68h-5.61zM245.49 990.36h5.61v5.68h-5.61zM116.43 996.04h5.61v5.68h-5.61zM155.71 996.04h5.61v5.68h-5.61zM183.77 996.04h5.61v5.68h-5.61zM189.38 996.04h5.61v5.68h-5.61zM194.99 1001.72h5.61v5.68h-5.61zM239.88 1001.72h5.61v5.68h-5.61zM138.88 1007.4h5.61v5.68h-5.61zM178.16 1007.4h5.61v5.68h-5.61zM189.38 1007.4h5.61v5.68h-5.61zM150.1 1013.08h5.61v5.68h-5.61zM161.32 1013.08h5.61v5.68h-5.61zM172.54 1013.08h5.61v5.68h-5.61zM200.6 1013.08h5.61v5.68h-5.61zM211.82 1018.76h5.61v5.68h-5.61zM228.66 1018.76h5.61v5.68h-5.61zM166.93 1024.44h5.61v5.68h-5.61zM144.49 1030.12h5.61v5.68h-5.61zM206.21 1030.12h5.61v5.68h-5.61zM99.6 1035.8h5.61v5.68h-5.61zM127.66 1035.8h5.61v5.68h-5.61zM144.49 1035.8h5.61v5.68h-5.61zM116.43 1041.48h5.61v5.68h-5.61zM122.04 1041.48h5.61v5.68h-5.61zM155.71 1041.48h5.61v5.68h-5.61zM234.27 1041.48h5.61v5.68h-5.61zM110.82 1047.16h5.61v5.68h-5.61zM127.66 1047.16h5.61v5.68h-5.61zM138.88 1047.16h5.61v5.68h-5.61zM144.49 1047.16h5.61v5.68h-5.61zM228.66 1052.84h5.61v5.68h-5.61zM211.82 1058.52h5.61v5.68h-5.61zM116.43 1064.2h5.61v5.68h-5.61zM122.04 1064.2h5.61v5.68h-5.61zM138.88 1064.2h5.61v5.68h-5.61zM200.6 1064.2h5.61v5.68h-5.61zM99.6 1069.88h5.61v5.68h-5.61zM200.6 1069.88h5.61v5.68h-5.61zM178.16 1075.56h5.61v5.68h-5.61zM116.43 1081.24h5.61v5.68h-5.61zM138.88 1081.24h5.61v5.68h-5.61zM200.6 1081.24h5.61v5.68h-5.61zM211.82 1081.24h5.61v5.68h-5.61zM200.6 1086.92h5.61v5.68h-5.61zM127.66 1092.6h5.61v5.68h-5.61zM172.54 1092.6h5.61v5.68h-5.61zM183.77 1092.6h5.61v5.68h-5.61zM122.04 1098.28h5.61v5.68h-5.61zM127.66 1098.28h5.61v5.68h-5.61zM144.49 1098.28h5.61v5.68h-5.61zM150.1 1098.28h5.61v5.68h-5.61zM189.38 1098.28h5.61v5.68h-5.61zM105.21 1103.96h5.61v5.68h-5.61zM200.6 1103.96h5.61v5.68h-5.61zM110.82 1109.64h5.61v5.68h-5.61zM155.71 1109.64h5.61v5.68h-5.61zM166.93 1115.32h5.61v5.68h-5.61zM178.16 1115.32h5.61v5.68h-5.61zM223.04 1115.32h5.61v5.68h-5.61z"/>
<path fill="#000" fill-opacity="0.19" d="M105.21 979h5.61v5.68h-5.61zM239.88 979h5.61v5.68h-5.61zM200.6 984.68h5.61v5.68h-5.61zM239.88 984.68h5.61v5.68h-5.61zM133.27 990.36h5.61v5.68h-5.61zM144.49 990.36h5.61v5.68h-5.61zM178.16 990.36h5.61v5.68h-5.61zM133.27 996.04h5.61v5.68h-5.61zM228.66 996.04h5.61v5.68h-5.61zM138.88 1001.72h5.61v5.68h-5.61zM178.16 1001.72h5.61v5.68h-5.61zM183.77 1001.72h5.61v5.68h-5.61zM217.43 1001.72h5.61v5.68h-5.61zM234.27 1001.72h5.61v5.68h-5.61zM245.49 1001.72h5.61v5.68h-5.61zM144.49 1007.4h5.61v5.68h-5.61zM245.49 1007.4h5.61v5.68h-5.61zM245.49 1013.08h5.61v5.68h-5.61zM110.82 1018.76h5.61v5.68h-5.61zM127.66 1018.76h5.61v5.68h-5.61zM166.93 1018.76h5.61v5.68h-5.61zM161.32 1024.44h5.61v5.68h-5.61zM183.77 1024.44h5.61v5.68h-5.61zM206.21 1024.44h5.61v5.68h-5.61zM211.82 1024.44h5.61v5.68h-5.61zM99.6 1030.12h5.61v5.68h-5.61zM150.1 1030.12h5.61v5.68h-5.61zM166.93 1030.12h5.61v5.68h-5.61zM178.16 1030.12h5.61v5.68h-5.61zM206.21 1035.8h5.61v5.68h-5.61zM99.6 1041.48h5.61v5.68h-5.61zM150.1 1041.48h5.61v5.68h-5.61zM105.21 1047.16h5.61v5.68h-5.61zM133.27 1047.16h5.61v5.68h-5.61zM155.71 1047.16h5.61v5.68h-5.61zM194.99 1047.16h5.61v5.68h-5.61zM200.6 1047.16h5.61v5.68h-5.61zM239.88 1047.16h5.61v5.68h-5.61zM110.82 1052.84h5.61v5.68h-5.61zM194.99 1052.84h5.61v5.68h-5.61zM234.27 1052.84h5.61v5.68h-5.61zM245.49 1052.84h5.61v5.68h-5.61zM116.43 1058.52h5.61v5.68h-5.61zM150.1 1064.2h5.61v5.68h-5.61zM161.32 1064.2h5.61v5.68h-5.61zM194.99 1064.2h5.61v5.68h-5.61zM245.49 1064.2h5.61v5.68h-5.61zM178.16 1069.88h5.61v5.68h-5.61zM133.27 1075.56h5.61v5.68h-5.61zM138.88 1075.56h5.61v5.68h-5.61zM245.49 1075.56h5.61v5.68h-5.61zM110.82 1081.24h5.61v5.68h-5.61zM144.49 1081.24h5.61v5.68h-5.61zM161.32 1081.24h5.61v5.68h-5.61zM189.38 1081.24h5.61v5.68h-5.61zM138.88 1086.92h5.61v5.68h-5.61zM228.66 1086.92h5.61v5.68h-5.61zM239.88 1086.92h5.61v5.68h-5.61zM166.93 1092.6h5.61v5.68h-5.61zM234.27 1092.6h5.61v5.68h-5.61zM110.82 1098.28h5.61v5.68h-5.61zM183.77 1098.28h5.61v5.68h-5.61zM223.04 1098.28h5.61v5.68h-5.61zM144.49 1103.96h5.61v5.68h-5.61zM178.16 1103.96h5.61v5.68h-5.61zM228.66 1103.96h5.61v5.68h-5.61zM234.27 1103.96h5.61v5.68h-5.61zM245.49 1103.96h5.61v5.68h-5.61zM144.49 1109.64h5.61v5.68h-5.61zM245.49 1109.64h5.61v5.68h-5.61zM99.6 1115.32h5.61v5.68h-5.61zM189.38 1115.32h5.61v5.68h-5.61z"/>
<path fill="#fff" fill-opacity="0.16" d="M110.82 979h5.61v5.68h-5.61zM127.66 979h5.61v5.68h-5.61zM211.82 979h5.61v5.68h-5.61zM178.16 984.68h5.61v5.68h-5.61zM217.43 984.68h5.61v5.68h-5.61zM228.66 984.68h5.61v5.68h-5.61zM161.32 990.36h5.61v5.68h-5.61zM234.27 990.36h5.61v5.68h-5.61zM245.49 996.04h5.61v5.68h-5.61zM127.66 1001.72h5.61v5.68h-5.61zM133.27 1007.4h5.61v5.68h-5.61zM172.54 1007.4h5.61v5.68h-5.61zM194.99 1007.4h5.61v5.68h-5.61zM200.6 1007.4h5.61v5.68h-5.61zM234.27 1007.4h5.61v5.68h-5.61zM116.43 1013.08h5.61v5.68h-5.61zM194.99 1013.08h5.61v5.68h-5.61zM206.21 1013.08h5.61v5.68h-5.61zM138.88 1018.76h5.61v5.68h-5.61zM245.49 1018.76h5.61v5.68h-5.61zM99.6 1024.44h5.61v5.68h-5.61zM189.38 1024.44h5.61v5.68h-5.61zM122.04 1030.12h5.61v5.68h-5.61zM183.77 1030.12h5.61v5.68h-5.61zM223.04 1030.12h5.61v5.68h-5.61zM228.66 1030.12h5.61v5.68h-5.61zM166.93 1035.8h5.61v5.68h-5.61zM239.88 1035.8h5.61v5.68h-5.61zM200.6 1041.48h5.61v5.68h-5.61zM206.21 1041.48h5.61v5.68h-5.61zM245.49 1041.48h5.61v5.68h-5.61zM211.82 1047.16h5.61v5.68h-5.61zM223.04 1047.16h5.61v5.68h-5.61zM127.66 1052.84h5.61v5.68h-5.61zM206.21 1052.84h5.61v5.68h-5.61zM99.6 1058.52h5.61v5.68h-5.61zM206.21 1058.52h5.61v5.68h-5.61zM239.88 1058.52h5.61v5.68h-5.61zM127.66 1064.2h5.61v5.68h-5.61zM234.27 1064.2h5.61v5.68h-5.61zM189.38 1069.88h5.61v5.68h-5.61zM194.99 1069.88h5.61v5.68h-5.61zM223.04 1069.88h5.61v5.68h-5.61zM172.54 1075.56h5.61v5.68h-5.61zM183.77 1075.56h5.61v5.68h-5.61zM211.82 1075.56h5.61v5.68h-5.61zM150.1 1081.24h5.61v5.68h-5.61zM99.6 1086.92h5.61v5.68h-5.61zM110.82 1086.92h5.61v5.68h-5.61zM116.43 1086.92h5.61v5.68h-5.61zM183.77 1086.92h5.61v5.68h-5.61zM194.99 1086.92h5.61v5.68h-5.61zM189.38 1092.6h5.61v5.68h-5.61zM116.43 1098.28h5.61v5.68h-5.61zM200.6 1098.28h5.61v5.68h-5.61zM228.66 1098.28h5.61v5.68h-5.61zM116.43 1103.96h5.61v5.68h-5.61zM138.88 1103.96h5.61v5.68h-5.61zM150.1 1103.96h5.61v5.68h-5.61zM211.82 1103.96h5.61v5.68h-5.61zM122.04 1109.64h5.61v5.68h-5.61zM206.21 1109.64h5.61v5.68h-5.61zM239.88 1109.64h5.61v5.68h-5.61zM105.21 1115.32h5.61v5.68h-5.61zM122.04 1115.32h5.61v5.68h-5.61zM155.71 1115.32h5.61v5.68h-5.61zM161.32 1115.32h5.61v5.68h-5.61z"/>
<path fill="#fff" fill-opacity="0.2" d="M133.27 979h5.61v5.68h-5.61zM144.49 979h5.61v5.68h-5.61zM110.82 984.68h5.61v5.68h-5.61zM138.88 984.68h5.61v5.68h-5.61zM155.71 984.68h5.61v5.68h-5.61zM161.32 984.68h5.61v5.68h-5.61zM245.49 984.68h5.61v5.68h-5.61zM166.93 990.36h5.61v5.68h-5.61zM200.6 990.36h5.61v5.68h-5.61zM206.21 990.36h5.61v5.68h-5.61zM217.43 990.36h5.61v5.68h-5.61zM99.6 996.04h5.61v5.68h-5.61zM105.21 996.04h5.61v5.68h-5.61zM110.82 1001.72h5.61v5.68h-5.61zM144.49 1001.72h5.61v5.68h-5.61zM110.82 1013.08h5.61v5.68h-5.61zM138.88 1013.08h5.61v5.68h-5.61zM189.38 1013.08h5.61v5.68h-5.61zM223.04 1013.08h5.61v5.68h-5.61zM228.66 1013.08h5.61v5.68h-5.61zM239.88 1013.08h5.61v5.68h-5.61zM144.49 1018.76h5.61v5.68h-5.61zM105.21 1024.44h5.61v5.68h-5.61zM161.32 1035.8h5.61v5.68h-5.61zM200.6 1035.8h5.61v5.68h-5.61zM127.66 1041.48h5.61v5.68h-5.61zM172.54 1041.48h5.61v5.68h-5.61zM122.04 1047.16h5.61v5.68h-5.61zM150.1 1047.16h5.61v5.68h-5.61zM217.43 1047.16h5.61v5.68h-5.61zM178.16 1058.52h5.61v5.68h-5.61zM217.43 1058.52h5.61v5.68h-5.61zM228.66 1058.52h5.61v5.68h-5.61zM110.82 1064.2h5.61v5.68h-5.61zM166.93 1064.2h5.61v5.68h-5.61zM105.21 1069.88h5.61v5.68h-5.61zM116.43 1069.88h5.61v5.68h-5.61zM166.93 1069.88h5.61v5.68h-5.61zM183.77 1069.88h5.61v5.68h-5.61zM99.6 1075.56h5.61v5.68h-5.61zM155.71 1075.56h5.61v5.68h-5.61zM166.93 1075.56h5.61v5.68h-5.61zM239.88 1075.56h5.61v5.68h-5.61zM105.21 1081.24h5.61v5.68h-5.61zM122.04 1081.24h5.61v5.68h-5.61zM155.71 1081.24h5.61v5.68h-5.61zM166.93 1081.24h5.61v5.68h-5.61zM172.54 1081.24h5.61v5.68h-5.61zM155.71 1086.92h5.61v5.68h-5.61zM178.16 1086.92h5.61v5.68h-5.61zM194.99 1092.6h5.61v5.68h-5.61zM245.49 1092.6h5.61v5.68h-5.61zM105.21 1098.28h5.61v5.68h-5.61zM239.88 1098.28h5.61v5.68h-5.61zM133.27 1103.96h5.61v5.68h-5.61zM189.38 1103.96h5.61v5.68h-5.61zM194.99 1103.96h5.61v5.68h-5.61zM183.77 1109.64h5.61v5.68h-5.61zM228.66 1109.64h5.61v5.68h-5.61zM116.43 1115.32h5.61v5.68h-5.61zM127.66 1115.32h5.61v5.68h-5.61zM183.77 1115.32h5.61v5.68h-5.61zM194.99 1115.32h5.61v5.68h-5.61z"/>
<path fill="#fff" fill-opacity="0.11" d="M166.93 979h5.61v5.68h-5.61zM178.16 979h5.61v5.68h-5.61zM228.66 979h5.61v5.68h-5.61zM99.6 984.68h5.61v5.68h-5.61zM172.54 984.68h5.61v5.68h-5.61zM194.99 984.68h5.61v5.68h-5.61zM116.43 990.36h5.61v5.68h-5.61zM183.77 990.36h5.61v5.68h-5.61zM239.88 990.36h5.61v5.68h-5.61zM144.49 996.04h5.61v5.68h-5.61zM150.1 996.04h5.61v5.68h-5.61zM194.99 996.04h5.61v5.68h-5.61zM217.43 996.04h5.61v5.68h-5.61zM99.6 1001.72h5.61v5.68h-5.61zM105.21 1001.72h5.61v5.68h-5.61zM172.54 1001.72h5.61v5.68h-5.61zM206.21 1001.72h5.61v5.68h-5.61zM178.16 1013.08h5.61v5.68h-5.61zM122.04 1018.76h5.61v5.68h-5.61zM178.16 1018.76h5.61v5.68h-5.61zM194.99 1018.76h5.61v5.68h-5.61zM223.04 1018.76h5.61v5.68h-5.61zM116.43 1024.44h5.61v5.68h-5.61zM122.04 1024.44h5.61v5.68h-5.61zM144.49 1024.44h5.61v5.68h-5.61zM110.82 1030.12h5.61v5.68h-5.61zM122.04 1035.8h5.61v5.68h-5.61zM155.71 1035.8h5.61v5.68h-5.61zM189.38 1035.8h5.61v5.68h-5.61zM105.21 1041.48h5.61v5.68h-5.61zM110.82 1041.48h5.61v5.68h-5.61zM161.32 1047.16h5.61v5.68h-5.61zM166.93 1047.16h5.61v5.68h-5.61zM183.77 1047.16h5.61v5.68h-5.61zM206.21 1047.16h5.61v5.68h-5.61zM245.49 1047.16h5.61v5.68h-5.61zM99.6 1052.84h5.61v5.68h-5.61zM105.21 1052.84h5.61v5.68h-5.61zM127.66 1058.52h5.61v5.68h-5.61zM166.93 1058.52h5.61v5.68h-5.61zM189.38 1058.52h5.61v5.68h-5.61zM194.99 1058.52h5.61v5.68h-5.61zM245.49 1058.52h5.61v5.68h-5.61zM144.49 1064.2h5.61v5.68h-5.61zM183.77 1064.2h5.61v5.68h-5.61zM189.38 1064.2h5.61v5.68h-5.61zM206.21 1064.2h5.61v5.68h-5.61zM239.88 1064.2h5.61v5.68h-5.61zM133.27 1069.88h5.61v5.68h-5.61zM150.1 1075.56h5.61v5.68h-5.61zM194.99 1075.56h5.61v5.68h-5.61zM133.27 1081.24h5.61v5.68h-5.61zM217.43 1081.24h5.61v5.68h-5.61zM239.88 1081.24h5.61v5.68h-5.61zM245.49 1081.24h5.61v5.68h-5.61zM105.21 1086.92h5.61v5.68h-5.61zM234.27 1086.92h5.61v5.68h-5.61zM122.04 1092.6h5.61v5.68h-5.61zM150.1 1092.6h5.61v5.68h-5.61zM178.16 1092.6h5.61v5.68h-5.61zM223.04 1092.6h5.61v5.68h-5.61zM228.66 1092.6h5.61v5.68h-5.61zM161.32 1098.28h5.61v5.68h-5.61zM166.93 1098.28h5.61v5.68h-5.61zM217.43 1098.28h5.61v5.68h-5.61zM172.54 1103.96h5.61v5.68h-5.61zM116.43 1109.64h5.61v5.68h-5.61zM189.38 1109.64h5.61v5.68h-5.61zM200.6 1109.64h5.61v5.68h-5.61zM133.27 1115.32h5.61v5.68h-5.61zM150.1 1115.32h5.61v5.68h-5.61zM234.27 1115.32h5.61v5.68h-5.61z"/>
<path fill="#000" fill-opacity="0.35" d="M122.04 984.68h5.61v5.68h-5.61zM144.49 984.68h5.61v5.68h-5.61zM189.38 984.68h5.61v5.68h-5.61zM127.66 990.36h5.61v5.68h-5.61zM138.88 990.36h5.61v5.68h-5.61zM155.71 990.36h5.61v5.68h-5.61zM211.82 996.04h5.61v5.68h-5.61zM211.82 1001.72h5.61v5.68h-5.61zM127.66 1007.4h5.61v5.68h-5.61zM155.71 1007.4h5.61v5.68h-5.61zM183.77 1007.4h5.61v5.68h-5.61zM239.88 1007.4h5.61v5.68h-5.61zM133.27 1013.08h5.61v5.68h-5.61zM144.49 1013.08h5.61v5.68h-5.61zM183.77 1013.08h5.61v5.68h-5.61zM217.43 1013.08h5.61v5.68h-5.61zM116.43 1018.76h5.61v5.68h-5.61zM133.27 1018.76h5.61v5.68h-5.61zM161.32 1018.76h5.61v5.68h-5.61zM206.21 1018.76h5.61v5.68h-5.61zM217.43 1018.76h5.61v5.68h-5.61zM127.66 1024.44h5.61v5.68h-5.61zM133.27 1024.44h5.61v5.68h-5.61zM138.88 1024.44h5.61v5.68h-5.61zM178.16 1024.44h5.61v5.68h-5.61zM245.49 1024.44h5.61v5.68h-5.61zM194.99 1030.12h5.61v5.68h-5.61zM200.6 1030.12h5.61v5.68h-5.61zM211.82 1030.12h5.61v5.68h-5.61zM217.43 1030.12h5.61v5.68h-5.61zM116.43 1035.8h5.61v5.68h-5.61zM194.99 1035.8h5.61v5.68h-5.61zM217.43 1035.8h5.61v5.68h-5.61zM245.49 1035.8h5.61v5.68h-5.61zM144.49 1041.48h5.61v5.68h-5.61zM161.32 1041.48h5.61v5.68h-5.61zM178.16 1041.48h5.61v5.68h-5.61zM189.38 1041.48h5.61v5.68h-5.61zM211.82 1041.48h5.61v5.68h-5.61zM239.88 1041.48h5.61v5.68h-5.61zM99.6 1047.16h5.61v5.68h-5.61zM116.43 1052.84h5.61v5.68h-5.61zM122.04 1052.84h5.61v5.68h-5.61zM138.88 1052.84h5.61v5.68h-5.61zM178.16 1052.84h5.61v5.68h-5.61zM189.38 1052.84h5.61v5.68h-5.61zM211.82 1052.84h5.61v5.68h-5.61zM217.43 1052.84h5.61v5.68h-5.61zM223.04 1052.84h5.61v5.68h-5.61zM183.77 1058.52h5.61v5.68h-5.61zM200.6 1058.52h5.61v5.68h-5.61zM178.16 1064.2h5.61v5.68h-5.61zM122.04 1069.88h5.61v5.68h-5.61zM172.54 1069.88h5.61v5.68h-5.61zM228.66 1069.88h5.61v5.68h-5.61zM127.66 1075.56h5.61v5.68h-5.61zM234.27 1075.56h5.61v5.68h-5.61zM99.6 1081.24h5.61v5.68h-5.61zM178.16 1081.24h5.61v5.68h-5.61zM183.77 1081.24h5.61v5.68h-5.61zM166.93 1086.92h5.61v5.68h-5.61zM211.82 1086.92h5.61v5.68h-5.61zM99.6 1092.6h5.61v5.68h-5.61zM155.71 1092.6h5.61v5.68h-5.61zM200.6 1092.6h5.61v5.68h-5.61zM245.49 1098.28h5.61v5.68h-5.61zM99.6 1103.96h5.61v5.68h-5.61zM122.04 1103.96h5.61v5.68h-5.61zM206.21 1103.96h5.61v5.68h-5.61zM105.21 1109.64h5.61v5.68h-5.61zM234.27 1109.64h5.61v5.68h-5.61zM211.82 1115.32h5.61v5.68h-5.61zM239.88 1115.32h5.61v5.68h-5.61z"/>
</g>
<ellipse cx="217.43" cy="1052.8" rx="8.98" ry="4.47" fill="#e0e0e0" filter="url(#b2)" transform="rotate(15 217.43 1052.8)"/>
<ellipse cx="197.23" cy="1047.2" rx="6.73" ry="5.59" fill="#bfbfbf" filter="url(#b2)" transform="rotate(0 197.23 1047.2)"/>
<ellipse cx="197.23" cy="1075.16" rx="15.71" ry="3.35" fill="#adadad" filter="url(#b2)" transform="rotate(0 197.23 1075.16)"/>
<ellipse cx="210.7" cy="1067.33" rx="4.49" ry="4.47" fill="#cccccc" filter="url(#b2)" transform="rotate(0 210.7 1067.33)"/>
<ellipse cx="136.63" cy="1056.15" rx="4.49" ry="6.71" fill="#808080" filter="url(#b2)" transform="rotate(0 136.63 1056.15)"/>
<ellipse cx="129.9" cy="1070.69" rx="3.93" ry="5.59" fill="#737373" filter="url(#b2)" transform="rotate(0 129.9 1070.69)"/>
<ellipse cx="157.96" cy="1025.96" rx="4.49" ry="4.47" fill="#808080" filter="url(#b2)" transform="rotate(0 157.96 1025.96)"/>
<ellipse cx="172.54" cy="1024.84" rx="4.49" ry="4.47" fill="#808080" filter="url(#b2)" transform="rotate(0 172.54 1024.84)"/>
<ellipse cx="180.4" cy="1033.79" rx="5.61" ry="5.59" fill="#999999" filter="url(#b2)" transform="rotate(0 180.4 1033.79)"/>
<ellipse cx="165.81" cy="1042.73" rx="5.61" ry="4.47" fill="#999999" filter="url(#b2)" transform="rotate(0 165.81 1042.73)"/>
<ellipse cx="202.84" cy="1095.28" rx="4.49" ry="4.47" fill="#737373" filter="url(#b2)" transform="rotate(0 202.84 1095.28)"/>
<ellipse cx="232.02" cy="1077.39" rx="6.73" ry="4.47" fill="#808080" filter="url(#b2)" transform="rotate(0 232.02 1077.39)"/>
<ellipse cx="218.56" cy="1081.87" rx="5.61" ry="4.47" fill="#808080" filter="url(#b2)" transform="rotate(0 218.56 1081.87)"/>
<ellipse cx="129.9" cy="1041.61" rx="6.73" ry="6.71" fill="#333333" filter="url(#b3)" transform="rotate(0 129.9 1041.61)"/>
<ellipse cx="202.84" cy="1060.62" rx="5.61" ry="5.59" fill="#4c4c4c" filter="url(#b3)" transform="rotate(0 202.84 1060.62)"/>
</g></g>
<g clip-path="url(#m51)"><g filter="url(#cm51)">
<rect x="279.8" y="977" width="155.5" height="146" fill="#0b0b0b"/>
<path d="M298.63 1012.54 L337.91 1040.5 L377.19 1062.86 L416.47 1096.4" fill="none" stroke="#191919" stroke-width="42.64" stroke-linecap="round" stroke-linejoin="round" filter="url(#b4)"/>
<path d="M343.52 1046.09 L377.19 1055.03 L394.02 1074.04 L416.47 1096.4" fill="none" stroke="#595959" stroke-width="24.69" stroke-linecap="round" stroke-linejoin="round" filter="url(#b4)"/>
<ellipse cx="385.83" cy="1062.19" rx="25.81" ry="32.43" fill="#808080" filter="url(#b4)" transform="rotate(-40 385.83 1062.19)"/>
<ellipse cx="377.19" cy="1046.09" rx="13.47" ry="11.18" fill="#a6a6a6" filter="url(#b3)" transform="rotate(0 377.19 1046.09)"/>
<ellipse cx="392.9" cy="1060.62" rx="11.22" ry="14.54" fill="#bfbfbf" filter="url(#b3)" transform="rotate(0 392.9 1060.62)"/>
<ellipse cx="394.58" cy="1074.6" rx="8.98" ry="5.03" fill="#e6e6e6" filter="url(#b2)" transform="rotate(0 394.58 1074.6)"/>
<ellipse cx="410.86" cy="1088.57" rx="10.1" ry="8.94" fill="#808080" filter="url(#b3)" transform="rotate(0 410.86 1088.57)"/>
<ellipse cx="340.16" cy="1048.32" rx="11.22" ry="5.59" fill="#4c4c4c" filter="url(#b3)" transform="rotate(0 340.16 1048.32)"/>
</g></g>
<g clip-path="url(#m52)"><g filter="url(#cm52)">
<rect x="462" y="977" width="155.5" height="146" fill="#0c0c0c"/>
<path d="M508.89 1012.54 L531.33 1040.5 L548.17 1079.63 L553.78 1118.76" fill="none" stroke="#1f1f1f" stroke-width="35.91" stroke-linecap="round" stroke-linejoin="round" filter="url(#b4)"/>
<path d="M533.58 1025.96 L544.8 1048.32 L545.92 1074.04 L551.53 1101.99 L552.66 1118.76" fill="none" stroke="#525252" stroke-width="17.96" stroke-linecap="round" stroke-linejoin="round" filter="url(#b3)"/>
<path d="M541.43 1037.14 L546.48 1055.03 L545.36 1079.63 L549.29 1096.4" fill="none" stroke="#adadad" stroke-width="6.73" stroke-linecap="round" stroke-linejoin="round" filter="url(#b2)"/>
<ellipse cx="546.48" cy="1053.91" rx="3.14" ry="5.59" fill="#f2f2f2" filter="url(#b1)" transform="rotate(0 546.48 1053.91)"/>
<ellipse cx="544.8" cy="1075.16" rx="4.49" ry="5.59" fill="#b8b8b8" filter="url(#b2)" transform="rotate(0 544.8 1075.16)"/>
<g filter="url(#b1)">
<path fill="#fff" fill-opacity="0.1" d="M464 995.77h5.61v5.22h-5.61zM548.17 995.77h5.61v5.22h-5.61zM598.67 1000.99h5.61v5.22h-5.61zM553.78 1006.21h5.61v5.22h-5.61zM475.22 1011.43h5.61v5.22h-5.61zM497.67 1011.43h5.61v5.22h-5.61zM542.56 1011.43h5.61v5.22h-5.61zM570.61 1011.43h5.61v5.22h-5.61zM503.28 1016.64h5.61v5.22h-5.61zM604.28 1016.64h5.61v5.22h-5.61zM587.44 1021.86h5.61v5.22h-5.61zM514.5 1032.3h5.61v5.22h-5.61zM531.33 1032.3h5.61v5.22h-5.61zM469.61 1037.51h5.61v5.22h-5.61zM480.83 1037.51h5.61v5.22h-5.61zM492.06 1037.51h5.61v5.22h-5.61zM570.61 1037.51h5.61v5.22h-5.61zM598.67 1037.51h5.61v5.22h-5.61zM469.61 1042.73h5.61v5.22h-5.61zM514.5 1042.73h5.61v5.22h-5.61zM536.94 1042.73h5.61v5.22h-5.61zM542.56 1042.73h5.61v5.22h-5.61zM587.44 1042.73h5.61v5.22h-5.61zM548.17 1047.95h5.61v5.22h-5.61zM508.89 1053.17h5.61v5.22h-5.61zM604.28 1053.17h5.61v5.22h-5.61zM480.83 1058.39h5.61v5.22h-5.61zM576.22 1058.39h5.61v5.22h-5.61zM492.06 1068.82h5.61v5.22h-5.61zM565 1068.82h5.61v5.22h-5.61zM581.83 1068.82h5.61v5.22h-5.61zM508.89 1074.04h5.61v5.22h-5.61zM520.11 1084.48h5.61v5.22h-5.61zM531.33 1084.48h5.61v5.22h-5.61zM469.61 1089.69h5.61v5.22h-5.61zM464 1100.13h5.61v5.22h-5.61zM503.28 1100.13h5.61v5.22h-5.61zM609.89 1100.13h5.61v5.22h-5.61zM469.61 1105.35h5.61v5.22h-5.61z"/>
<path fill="#000" fill-opacity="0.24" d="M469.61 995.77h5.61v5.22h-5.61zM464 1000.99h5.61v5.22h-5.61zM492.06 1000.99h5.61v5.22h-5.61zM559.39 1000.99h5.61v5.22h-5.61zM609.89 1000.99h5.61v5.22h-5.61zM469.61 1006.21h5.61v5.22h-5.61zM570.61 1006.21h5.61v5.22h-5.61zM604.28 1011.43h5.61v5.22h-5.61zM548.17 1016.64h5.61v5.22h-5.61zM609.89 1016.64h5.61v5.22h-5.61zM570.61 1021.86h5.61v5.22h-5.61zM503.28 1027.08h5.61v5.22h-5.61zM559.39 1027.08h5.61v5.22h-5.61zM475.22 1032.3h5.61v5.22h-5.61zM492.06 1032.3h5.61v5.22h-5.61zM565 1032.3h5.61v5.22h-5.61zM609.89 1032.3h5.61v5.22h-5.61zM464 1037.51h5.61v5.22h-5.61zM475.22 1037.51h5.61v5.22h-5.61zM497.67 1037.51h5.61v5.22h-5.61zM464 1042.73h5.61v5.22h-5.61zM508.89 1042.73h5.61v5.22h-5.61zM548.17 1042.73h5.61v5.22h-5.61zM492.06 1047.95h5.61v5.22h-5.61zM508.89 1047.95h5.61v5.22h-5.61zM576.22 1047.95h5.61v5.22h-5.61zM469.61 1053.17h5.61v5.22h-5.61zM475.22 1053.17h5.61v5.22h-5.61zM497.67 1053.17h5.61v5.22h-5.61zM531.33 1053.17h5.61v5.22h-5.61zM576.22 1053.17h5.61v5.22h-5.61zM581.83 1053.17h5.61v5.22h-5.61zM508.89 1063.6h5.61v5.22h-5.61zM570.61 1063.6h5.61v5.22h-5.61zM475.22 1068.82h5.61v5.22h-5.61zM508.89 1068.82h5.61v5.22h-5.61zM542.56 1068.82h5.61v5.22h-5.61zM604.28 1074.04h5.61v5.22h-5.61zM508.89 1079.26h5.61v5.22h-5.61zM576.22 1079.26h5.61v5.22h-5.61zM593.06 1079.26h5.61v5.22h-5.61zM565 1084.48h5.61v5.22h-5.61zM581.83 1084.48h5.61v5.22h-5.61zM570.61 1089.69h5.61v5.22h-5.61zM570.61 1094.91h5.61v5.22h-5.61zM576.22 1100.13h5.61v5.22h-5.61zM581.83 1100.13h5.61v5.22h-5.61zM464 1105.35h5.61v5.22h-5.61zM497.67 1105.35h5.61v5.22h-5.61zM469.61 1110.56h5.61v5.22h-5.61zM486.44 1110.56h5.61v5.22h-5.61zM497.67 1110.56h5.61v5.22h-5.61zM520.11 1110.56h5.61v5.22h-5.61zM531.33 1110.56h5.61v5.22h-5.61zM536.94 1110.56h5.61v5.22h-5.61zM570.61 1110.56h5.61v5.22h-5.61zM593.06 1110.56h5.61v5.22h-5.61zM531.33 1115.78h5.61v5.22h-5.61zM542.56 1115.78h5.61v5.22h-5.61zM581.83 1115.78h5.61v5.22h-5.61z"/>
<path fill="#fff" fill-opacity="0.07" d="M497.67 995.77h5.61v5.22h-5.61zM503.28 995.77h5.61v5.22h-5.61zM508.89 995.77h5.61v5.22h-5.61zM593.06 995.77h5.61v5.22h-5.61zM531.33 1000.99h5.61v5.22h-5.61zM565 1000.99h5.61v5.22h-5.61zM486.44 1006.21h5.61v5.22h-5.61zM542.56 1006.21h5.61v5.22h-5.61zM492.06 1016.64h5.61v5.22h-5.61zM570.61 1016.64h5.61v5.22h-5.61zM581.83 1016.64h5.61v5.22h-5.61zM475.22 1021.86h5.61v5.22h-5.61zM531.33 1021.86h5.61v5.22h-5.61zM542.56 1021.86h5.61v5.22h-5.61zM581.83 1021.86h5.61v5.22h-5.61zM486.44 1027.08h5.61v5.22h-5.61zM536.94 1027.08h5.61v5.22h-5.61zM593.06 1027.08h5.61v5.22h-5.61zM553.78 1032.3h5.61v5.22h-5.61zM587.44 1032.3h5.61v5.22h-5.61zM531.33 1037.51h5.61v5.22h-5.61zM536.94 1037.51h5.61v5.22h-5.61zM604.28 1037.51h5.61v5.22h-5.61zM480.83 1042.73h5.61v5.22h-5.61zM559.39 1042.73h5.61v5.22h-5.61zM565 1042.73h5.61v5.22h-5.61zM480.83 1047.95h5.61v5.22h-5.61zM593.06 1047.95h5.61v5.22h-5.61zM503.28 1053.17h5.61v5.22h-5.61zM565 1053.17h5.61v5.22h-5.61zM587.44 1053.17h5.61v5.22h-5.61zM492.06 1058.39h5.61v5.22h-5.61zM520.11 1058.39h5.61v5.22h-5.61zM469.61 1063.6h5.61v5.22h-5.61zM497.67 1063.6h5.61v5.22h-5.61zM531.33 1074.04h5.61v5.22h-5.61zM587.44 1074.04h5.61v5.22h-5.61zM598.67 1074.04h5.61v5.22h-5.61zM486.44 1079.26h5.61v5.22h-5.61zM492.06 1079.26h5.61v5.22h-5.61zM503.28 1079.26h5.61v5.22h-5.61zM525.72 1079.26h5.61v5.22h-5.61zM531.33 1079.26h5.61v5.22h-5.61zM525.72 1084.48h5.61v5.22h-5.61zM548.17 1084.48h5.61v5.22h-5.61zM542.56 1089.69h5.61v5.22h-5.61zM548.17 1089.69h5.61v5.22h-5.61zM553.78 1089.69h5.61v5.22h-5.61zM609.89 1089.69h5.61v5.22h-5.61zM536.94 1094.91h5.61v5.22h-5.61zM531.33 1100.13h5.61v5.22h-5.61zM548.17 1105.35h5.61v5.22h-5.61zM553.78 1105.35h5.61v5.22h-5.61zM570.61 1105.35h5.61v5.22h-5.61zM609.89 1105.35h5.61v5.22h-5.61zM492.06 1110.56h5.61v5.22h-5.61zM469.61 1115.78h5.61v5.22h-5.61zM536.94 1115.78h5.61v5.22h-5.61zM576.22 1115.78h5.61v5.22h-5.61z"/>
<path fill="#fff" fill-opacity="0.12" d="M525.72 995.77h5.61v5.22h-5.61zM604.28 995.77h5.61v5.22h-5.61zM480.83 1000.99h5.61v5.22h-5.61zM486.44 1000.99h5.61v5.22h-5.61zM475.22 1006.21h5.61v5.22h-5.61zM514.5 1006.21h5.61v5.22h-5.61zM604.28 1006.21h5.61v5.22h-5.61zM464 1011.43h5.61v5.22h-5.61zM469.61 1011.43h5.61v5.22h-5.61zM536.94 1011.43h5.61v5.22h-5.61zM514.5 1016.64h5.61v5.22h-5.61zM565 1021.86h5.61v5.22h-5.61zM598.67 1021.86h5.61v5.22h-5.61zM531.33 1027.08h5.61v5.22h-5.61zM553.78 1027.08h5.61v5.22h-5.61zM497.67 1032.3h5.61v5.22h-5.61zM508.89 1032.3h5.61v5.22h-5.61zM536.94 1032.3h5.61v5.22h-5.61zM576.22 1032.3h5.61v5.22h-5.61zM486.44 1037.51h5.61v5.22h-5.61zM508.89 1037.51h5.61v5.22h-5.61zM525.72 1042.73h5.61v5.22h-5.61zM503.28 1047.95h5.61v5.22h-5.61zM514.5 1047.95h5.61v5.22h-5.61zM542.56 1047.95h5.61v5.22h-5.61zM559.39 1047.95h5.61v5.22h-5.61zM609.89 1047.95h5.61v5.22h-5.61zM503.28 1058.39h5.61v5.22h-5.61zM598.67 1058.39h5.61v5.22h-5.61zM520.11 1063.6h5.61v5.22h-5.61zM609.89 1063.6h5.61v5.22h-5.61zM520.11 1068.82h5.61v5.22h-5.61zM531.33 1068.82h5.61v5.22h-5.61zM576.22 1068.82h5.61v5.22h-5.61zM464 1074.04h5.61v5.22h-5.61zM469.61 1084.48h5.61v5.22h-5.61zM480.83 1089.69h5.61v5.22h-5.61zM520.11 1100.13h5.61v5.22h-5.61zM536.94 1100.13h5.61v5.22h-5.61zM553.78 1100.13h5.61v5.22h-5.61zM604.28 1105.35h5.61v5.22h-5.61zM492.06 1115.78h5.61v5.22h-5.61zM508.89 1115.78h5.61v5.22h-5.61zM548.17 1115.78h5.61v5.22h-5.61z"/>
<path fill="#000" fill-opacity="0.17" d="M536.94 995.77h5.61v5.22h-5.61zM553.78 995.77h5.61v5.22h-5.61zM570.61 995.77h5.61v5.22h-5.61zM520.11 1000.99h5.61v5.22h-5.61zM570.61 1000.99h5.61v5.22h-5.61zM480.83 1006.21h5.61v5.22h-5.61zM536.94 1006.21h5.61v5.22h-5.61zM508.89 1011.43h5.61v5.22h-5.61zM576.22 1011.43h5.61v5.22h-5.61zM565 1016.64h5.61v5.22h-5.61zM492.06 1021.86h5.61v5.22h-5.61zM536.94 1021.86h5.61v5.22h-5.61zM553.78 1021.86h5.61v5.22h-5.61zM593.06 1021.86h5.61v5.22h-5.61zM464 1027.08h5.61v5.22h-5.61zM497.67 1027.08h5.61v5.22h-5.61zM520.11 1032.3h5.61v5.22h-5.61zM559.39 1032.3h5.61v5.22h-5.61zM593.06 1032.3h5.61v5.22h-5.61zM520.11 1037.51h5.61v5.22h-5.61zM609.89 1037.51h5.61v5.22h-5.61zM475.22 1042.73h5.61v5.22h-5.61zM464 1053.17h5.61v5.22h-5.61zM486.44 1053.17h5.61v5.22h-5.61zM548.17 1053.17h5.61v5.22h-5.61zM469.61 1058.39h5.61v5.22h-5.61zM497.67 1058.39h5.61v5.22h-5.61zM525.72 1058.39h5.61v5.22h-5.61zM559.39 1058.39h5.61v5.22h-5.61zM581.83 1058.39h5.61v5.22h-5.61zM587.44 1058.39h5.61v5.22h-5.61zM503.28 1063.6h5.61v5.22h-5.61zM587.44 1068.82h5.61v5.22h-5.61zM492.06 1074.04h5.61v5.22h-5.61zM553.78 1074.04h5.61v5.22h-5.61zM593.06 1074.04h5.61v5.22h-5.61zM553.78 1079.26h5.61v5.22h-5.61zM609.89 1079.26h5.61v5.22h-5.61zM514.5 1084.48h5.61v5.22h-5.61zM508.89 1089.69h5.61v5.22h-5.61zM587.44 1089.69h5.61v5.22h-5.61zM598.67 1089.69h5.61v5.22h-5.61zM492.06 1094.91h5.61v5.22h-5.61zM497.67 1094.91h5.61v5.22h-5.61zM542.56 1094.91h5.61v5.22h-5.61zM548.17 1100.13h5.61v5.22h-5.61zM514.5 1105.35h5.61v5.22h-5.61zM576.22 1105.35h5.61v5.22h-5.61zM581.83 1105.35h5.61v5.22h-5.61zM542.56 1110.56h5.61v5.22h-5.61zM598.67 1110.56h5.61v5.22h-5.61zM559.39 1115.78h5.61v5.22h-5.61zM604.28 1115.78h5.61v5.22h-5.61z"/>
<path fill="#000" fill-opacity="0.3" d="M542.56 995.77h5.61v5.22h-5.61zM598.67 995.77h5.61v5.22h-5.61zM469.61 1000.99h5.61v5.22h-5.61zM548.17 1000.99h5.61v5.22h-5.61zM492.06 1006.21h5.61v5.22h-5.61zM548.17 1006.21h5.61v5.22h-5.61zM581.83 1006.21h5.61v5.22h-5.61zM609.89 1006.21h5.61v5.22h-5.61zM492.06 1011.43h5.61v5.22h-5.61zM503.28 1011.43h5.61v5.22h-5.61zM565 1011.43h5.61v5.22h-5.61zM520.11 1016.64h5.61v5.22h-5.61zM531.33 1016.64h5.61v5.22h-5.61zM542.56 1016.64h5.61v5.22h-5.61zM593.06 1016.64h5.61v5.22h-5.61zM486.44 1021.86h5.61v5.22h-5.61zM503.28 1021.86h5.61v5.22h-5.61zM508.89 1021.86h5.61v5.22h-5.61zM548.17 1021.86h5.61v5.22h-5.61zM570.61 1027.08h5.61v5.22h-5.61zM525.72 1032.3h5.61v5.22h-5.61zM542.56 1032.3h5.61v5.22h-5.61zM570.61 1042.73h5.61v5.22h-5.61zM581.83 1042.73h5.61v5.22h-5.61zM604.28 1042.73h5.61v5.22h-5.61zM520.11 1047.95h5.61v5.22h-5.61zM553.78 1047.95h5.61v5.22h-5.61zM587.44 1047.95h5.61v5.22h-5.61zM604.28 1047.95h5.61v5.22h-5.61zM553.78 1053.17h5.61v5.22h-5.61zM593.06 1053.17h5.61v5.22h-5.61zM598.67 1053.17h5.61v5.22h-5.61zM464 1058.39h5.61v5.22h-5.61zM486.44 1058.39h5.61v5.22h-5.61zM531.33 1058.39h5.61v5.22h-5.61zM609.89 1058.39h5.61v5.22h-5.61zM565 1063.6h5.61v5.22h-5.61zM480.83 1068.82h5.61v5.22h-5.61zM497.67 1068.82h5.61v5.22h-5.61zM593.06 1068.82h5.61v5.22h-5.61zM464 1079.26h5.61v5.22h-5.61zM548.17 1079.26h5.61v5.22h-5.61zM565 1079.26h5.61v5.22h-5.61zM492.06 1084.48h5.61v5.22h-5.61zM497.67 1084.48h5.61v5.22h-5.61zM576.22 1084.48h5.61v5.22h-5.61zM598.67 1084.48h5.61v5.22h-5.61zM497.67 1089.69h5.61v5.22h-5.61zM520.11 1089.69h5.61v5.22h-5.61zM536.94 1089.69h5.61v5.22h-5.61zM593.06 1089.69h5.61v5.22h-5.61zM464 1094.91h5.61v5.22h-5.61zM525.72 1094.91h5.61v5.22h-5.61zM553.78 1094.91h5.61v5.22h-5.61zM576.22 1094.91h5.61v5.22h-5.61zM604.28 1094.91h5.61v5.22h-5.61zM492.06 1100.13h5.61v5.22h-5.61zM559.39 1100.13h5.61v5.22h-5.61zM565 1100.13h5.61v5.22h-5.61zM593.06 1100.13h5.61v5.22h-5.61zM525.72 1110.56h5.61v5.22h-5.61zM581.83 1110.56h5.61v5.22h-5.61zM587.44 1110.56h5.61v5.22h-5.61zM609.89 1110.56h5.61v5.22h-5.61zM464 1115.78h5.61v5.22h-5.61zM598.67 1115.78h5.61v5.22h-5.61z"/>
</g>
</g></g>
<g clip-path="url(#m53)"><g filter="url(#cm53)">
<rect x="644.2" y="977" width="155.5" height="146" fill="#1a1a1a"/>
<rect x="647.88" y="1029.31" width="110.54" height="55.91" fill="#4c4c4c" filter="url(#b4)"/>
<ellipse cx="696.7" cy="1057.27" rx="56.11" ry="20.13" fill="#666666" filter="url(#b4)" transform="rotate(0 696.7 1057.27)"/>
<g filter="url(#b1)">
<path fill="#fff" fill-opacity="0.22" d="M657.42 979h5.61v5.68h-5.61zM730.37 979h5.61v5.68h-5.61zM747.2 984.68h5.61v5.68h-5.61zM758.42 984.68h5.61v5.68h-5.61zM792.09 984.68h5.61v5.68h-5.61zM696.7 990.36h5.61v5.68h-5.61zM769.64 990.36h5.61v5.68h-5.61zM792.09 990.36h5.61v5.68h-5.61zM668.64 996.04h5.61v5.68h-5.61zM713.53 996.04h5.61v5.68h-5.61zM735.98 996.04h5.61v5.68h-5.61zM657.42 1001.72h5.61v5.68h-5.61zM747.2 1001.72h5.61v5.68h-5.61zM792.09 1001.72h5.61v5.68h-5.61zM674.26 1007.4h5.61v5.68h-5.61zM685.48 1007.4h5.61v5.68h-5.61zM713.53 1007.4h5.61v5.68h-5.61zM724.76 1007.4h5.61v5.68h-5.61zM769.64 1007.4h5.61v5.68h-5.61zM775.26 1007.4h5.61v5.68h-5.61zM780.87 1007.4h5.61v5.68h-5.61zM679.87 1013.08h5.61v5.68h-5.61zM702.31 1013.08h5.61v5.68h-5.61zM741.59 1013.08h5.61v5.68h-5.61zM646.2 1018.76h5.61v5.68h-5.61zM679.87 1018.76h5.61v5.68h-5.61zM685.48 1018.76h5.61v5.68h-5.61zM730.37 1018.76h5.61v5.68h-5.61zM769.64 1018.76h5.61v5.68h-5.61zM780.87 1018.76h5.61v5.68h-5.61zM786.48 1018.76h5.61v5.68h-5.61zM663.03 1024.44h5.61v5.68h-5.61zM719.14 1024.44h5.61v5.68h-5.61zM724.76 1024.44h5.61v5.68h-5.61zM730.37 1024.44h5.61v5.68h-5.61zM663.03 1030.12h5.61v5.68h-5.61zM685.48 1035.8h5.61v5.68h-5.61zM696.7 1035.8h5.61v5.68h-5.61zM657.42 1041.48h5.61v5.68h-5.61zM713.53 1041.48h5.61v5.68h-5.61zM780.87 1041.48h5.61v5.68h-5.61zM691.09 1047.16h5.61v5.68h-5.61zM702.31 1047.16h5.61v5.68h-5.61zM769.64 1047.16h5.61v5.68h-5.61zM679.87 1052.84h5.61v5.68h-5.61zM696.7 1052.84h5.61v5.68h-5.61zM702.31 1058.52h5.61v5.68h-5.61zM724.76 1058.52h5.61v5.68h-5.61zM651.81 1064.2h5.61v5.68h-5.61zM674.26 1064.2h5.61v5.68h-5.61zM741.59 1064.2h5.61v5.68h-5.61zM786.48 1069.88h5.61v5.68h-5.61zM657.42 1075.56h5.61v5.68h-5.61zM758.42 1075.56h5.61v5.68h-5.61zM685.48 1081.24h5.61v5.68h-5.61zM691.09 1081.24h5.61v5.68h-5.61zM735.98 1081.24h5.61v5.68h-5.61zM741.59 1081.24h5.61v5.68h-5.61zM764.03 1081.24h5.61v5.68h-5.61zM668.64 1086.92h5.61v5.68h-5.61zM707.92 1086.92h5.61v5.68h-5.61zM651.81 1092.6h5.61v5.68h-5.61zM696.7 1092.6h5.61v5.68h-5.61zM730.37 1092.6h5.61v5.68h-5.61zM758.42 1092.6h5.61v5.68h-5.61zM713.53 1098.28h5.61v5.68h-5.61zM719.14 1098.28h5.61v5.68h-5.61zM758.42 1098.28h5.61v5.68h-5.61zM651.81 1103.96h5.61v5.68h-5.61zM707.92 1103.96h5.61v5.68h-5.61zM758.42 1103.96h5.61v5.68h-5.61zM780.87 1103.96h5.61v5.68h-5.61zM651.81 1109.64h5.61v5.68h-5.61zM691.09 1109.64h5.61v5.68h-5.61zM702.31 1109.64h5.61v5.68h-5.61zM691.09 1115.32h5.61v5.68h-5.61zM780.87 1115.32h5.61v5.68h-5.61z"/>
<path fill="#000" fill-opacity="0.28" d="M663.03 979h5.61v5.68h-5.61zM735.98 979h5.61v5.68h-5.61zM741.59 979h5.61v5.68h-5.61zM758.42 979h5.61v5.68h-5.61zM775.26 979h5.61v5.68h-5.61zM780.87 979h5.61v5.68h-5.61zM685.48 990.36h5.61v5.68h-5.61zM741.59 990.36h5.61v5.68h-5.61zM752.81 990.36h5.61v5.68h-5.61zM786.48 990.36h5.61v5.68h-5.61zM685.48 996.04h5.61v5.68h-5.61zM775.26 996.04h5.61v5.68h-5.61zM780.87 996.04h5.61v5.68h-5.61zM651.81 1001.72h5.61v5.68h-5.61zM691.09 1007.4h5.61v5.68h-5.61zM758.42 1007.4h5.61v5.68h-5.61zM651.81 1013.08h5.61v5.68h-5.61zM663.03 1013.08h5.61v5.68h-5.61zM691.09 1018.76h5.61v5.68h-5.61zM696.7 1018.76h5.61v5.68h-5.61zM747.2 1018.76h5.61v5.68h-5.61zM758.42 1024.44h5.61v5.68h-5.61zM651.81 1035.8h5.61v5.68h-5.61zM735.98 1035.8h5.61v5.68h-5.61zM747.2 1035.8h5.61v5.68h-5.61zM769.64 1035.8h5.61v5.68h-5.61zM646.2 1041.48h5.61v5.68h-5.61zM668.64 1041.48h5.61v5.68h-5.61zM679.87 1058.52h5.61v5.68h-5.61zM735.98 1058.52h5.61v5.68h-5.61zM747.2 1058.52h5.61v5.68h-5.61zM764.03 1058.52h5.61v5.68h-5.61zM646.2 1069.88h5.61v5.68h-5.61zM707.92 1069.88h5.61v5.68h-5.61zM646.2 1075.56h5.61v5.68h-5.61zM668.64 1075.56h5.61v5.68h-5.61zM679.87 1075.56h5.61v5.68h-5.61zM707.92 1075.56h5.61v5.68h-5.61zM719.14 1075.56h5.61v5.68h-5.61zM769.64 1075.56h5.61v5.68h-5.61zM663.03 1081.24h5.61v5.68h-5.61zM646.2 1086.92h5.61v5.68h-5.61zM651.81 1098.28h5.61v5.68h-5.61zM663.03 1098.28h5.61v5.68h-5.61zM747.2 1098.28h5.61v5.68h-5.61zM674.26 1103.96h5.61v5.68h-5.61zM719.14 1103.96h5.61v5.68h-5.61zM735.98 1103.96h5.61v5.68h-5.61zM696.7 1115.32h5.61v5.68h-5.61z"/>
<path fill="#fff" fill-opacity="0.18" d="M674.26 979h5.61v5.68h-5.61zM685.48 979h5.61v5.68h-5.61zM707.92 979h5.61v5.68h-5.61zM786.48 979h5.61v5.68h-5.61zM685.48 984.68h5.61v5.68h-5.61zM764.03 984.68h5.61v5.68h-5.61zM651.81 990.36h5.61v5.68h-5.61zM674.26 990.36h5.61v5.68h-5.61zM747.2 990.36h5.61v5.68h-5.61zM764.03 990.36h5.61v5.68h-5.61zM657.42 996.04h5.61v5.68h-5.61zM769.64 996.04h5.61v5.68h-5.61zM786.48 1007.4h5.61v5.68h-5.61zM674.26 1013.08h5.61v5.68h-5.61zM713.53 1013.08h5.61v5.68h-5.61zM752.81 1013.08h5.61v5.68h-5.61zM775.26 1013.08h5.61v5.68h-5.61zM786.48 1013.08h5.61v5.68h-5.61zM674.26 1018.76h5.61v5.68h-5.61zM719.14 1018.76h5.61v5.68h-5.61zM752.81 1018.76h5.61v5.68h-5.61zM646.2 1024.44h5.61v5.68h-5.61zM674.26 1024.44h5.61v5.68h-5.61zM685.48 1024.44h5.61v5.68h-5.61zM702.31 1024.44h5.61v5.68h-5.61zM651.81 1030.12h5.61v5.68h-5.61zM713.53 1030.12h5.61v5.68h-5.61zM691.09 1035.8h5.61v5.68h-5.61zM674.26 1041.48h5.61v5.68h-5.61zM730.37 1041.48h5.61v5.68h-5.61zM741.59 1041.48h5.61v5.68h-5.61zM775.26 1041.48h5.61v5.68h-5.61zM646.2 1047.16h5.61v5.68h-5.61zM663.03 1047.16h5.61v5.68h-5.61zM713.53 1047.16h5.61v5.68h-5.61zM663.03 1052.84h5.61v5.68h-5.61zM707.92 1052.84h5.61v5.68h-5.61zM758.42 1052.84h5.61v5.68h-5.61zM780.87 1052.84h5.61v5.68h-5.61zM752.81 1058.52h5.61v5.68h-5.61zM657.42 1064.2h5.61v5.68h-5.61zM769.64 1064.2h5.61v5.68h-5.61zM668.64 1069.88h5.61v5.68h-5.61zM702.31 1069.88h5.61v5.68h-5.61zM651.81 1075.56h5.61v5.68h-5.61zM691.09 1075.56h5.61v5.68h-5.61zM657.42 1081.24h5.61v5.68h-5.61zM713.53 1081.24h5.61v5.68h-5.61zM674.26 1086.92h5.61v5.68h-5.61zM679.87 1086.92h5.61v5.68h-5.61zM685.48 1086.92h5.61v5.68h-5.61zM702.31 1086.92h5.61v5.68h-5.61zM769.64 1086.92h5.61v5.68h-5.61zM646.2 1098.28h5.61v5.68h-5.61zM691.09 1098.28h5.61v5.68h-5.61zM696.7 1098.28h5.61v5.68h-5.61zM730.37 1098.28h5.61v5.68h-5.61zM786.48 1098.28h5.61v5.68h-5.61zM702.31 1103.96h5.61v5.68h-5.61zM713.53 1103.96h5.61v5.68h-5.61zM764.03 1103.96h5.61v5.68h-5.61zM769.64 1103.96h5.61v5.68h-5.61zM646.2 1115.32h5.61v5.68h-5.61zM674.26 1115.32h5.61v5.68h-5.61zM685.48 1115.32h5.61v5.68h-5.61z"/>
<path fill="#fff" fill-opacity="0.12" d="M702.31 979h5.61v5.68h-5.61zM691.09 984.68h5.61v5.68h-5.61zM769.64 984.68h5.61v5.68h-5.61zM775.26 984.68h5.61v5.68h-5.61zM657.42 990.36h5.61v5.68h-5.61zM691.09 990.36h5.61v5.68h-5.61zM702.31 990.36h5.61v5.68h-5.61zM724.76 990.36h5.61v5.68h-5.61zM780.87 990.36h5.61v5.68h-5.61zM663.03 996.04h5.61v5.68h-5.61zM696.7 996.04h5.61v5.68h-5.61zM764.03 996.04h5.61v5.68h-5.61zM691.09 1001.72h5.61v5.68h-5.61zM764.03 1001.72h5.61v5.68h-5.61zM663.03 1007.4h5.61v5.68h-5.61zM685.48 1013.08h5.61v5.68h-5.61zM691.09 1013.08h5.61v5.68h-5.61zM780.87 1013.08h5.61v5.68h-5.61zM792.09 1013.08h5.61v5.68h-5.61zM663.03 1018.76h5.61v5.68h-5.61zM702.31 1018.76h5.61v5.68h-5.61zM724.76 1018.76h5.61v5.68h-5.61zM764.03 1024.44h5.61v5.68h-5.61zM657.42 1030.12h5.61v5.68h-5.61zM747.2 1030.12h5.61v5.68h-5.61zM752.81 1030.12h5.61v5.68h-5.61zM775.26 1030.12h5.61v5.68h-5.61zM786.48 1035.8h5.61v5.68h-5.61zM702.31 1041.48h5.61v5.68h-5.61zM747.2 1041.48h5.61v5.68h-5.61zM668.64 1047.16h5.61v5.68h-5.61zM707.92 1047.16h5.61v5.68h-5.61zM735.98 1047.16h5.61v5.68h-5.61zM752.81 1047.16h5.61v5.68h-5.61zM775.26 1047.16h5.61v5.68h-5.61zM685.48 1052.84h5.61v5.68h-5.61zM724.76 1052.84h5.61v5.68h-5.61zM747.2 1052.84h5.61v5.68h-5.61zM769.64 1058.52h5.61v5.68h-5.61zM775.26 1058.52h5.61v5.68h-5.61zM663.03 1064.2h5.61v5.68h-5.61zM668.64 1064.2h5.61v5.68h-5.61zM691.09 1064.2h5.61v5.68h-5.61zM707.92 1064.2h5.61v5.68h-5.61zM724.76 1064.2h5.61v5.68h-5.61zM674.26 1069.88h5.61v5.68h-5.61zM685.48 1069.88h5.61v5.68h-5.61zM741.59 1069.88h5.61v5.68h-5.61zM651.81 1081.24h5.61v5.68h-5.61zM668.64 1081.24h5.61v5.68h-5.61zM707.92 1081.24h5.61v5.68h-5.61zM730.37 1081.24h5.61v5.68h-5.61zM792.09 1081.24h5.61v5.68h-5.61zM657.42 1092.6h5.61v5.68h-5.61zM702.31 1092.6h5.61v5.68h-5.61zM752.81 1098.28h5.61v5.68h-5.61zM769.64 1098.28h5.61v5.68h-5.61zM646.2 1103.96h5.61v5.68h-5.61zM730.37 1103.96h5.61v5.68h-5.61zM685.48 1109.64h5.61v5.68h-5.61zM758.42 1109.64h5.61v5.68h-5.61zM764.03 1109.64h5.61v5.68h-5.61zM651.81 1115.32h5.61v5.68h-5.61zM668.64 1115.32h5.61v5.68h-5.61zM702.31 1115.32h5.61v5.68h-5.61zM747.2 1115.32h5.61v5.68h-5.61zM775.26 1115.32h5.61v5.68h-5.61zM792.09 1115.32h5.61v5.68h-5.61z"/>
<path fill="#000" fill-opacity="0.35" d="M752.81 979h5.61v5.68h-5.61zM792.09 979h5.61v5.68h-5.61zM668.64 984.68h5.61v5.68h-5.61zM674.26 984.68h5.61v5.68h-5.61zM679.87 984.68h5.61v5.68h-5.61zM719.14 984.68h5.61v5.68h-5.61zM730.37 984.68h5.61v5.68h-5.61zM780.87 984.68h5.61v5.68h-5.61zM646.2 990.36h5.61v5.68h-5.61zM758.42 990.36h5.61v5.68h-5.61zM646.2 996.04h5.61v5.68h-5.61zM792.09 996.04h5.61v5.68h-5.61zM696.7 1001.72h5.61v5.68h-5.61zM758.42 1001.72h5.61v5.68h-5.61zM696.7 1007.4h5.61v5.68h-5.61zM741.59 1007.4h5.61v5.68h-5.61zM764.03 1007.4h5.61v5.68h-5.61zM646.2 1013.08h5.61v5.68h-5.61zM668.64 1018.76h5.61v5.68h-5.61zM775.26 1018.76h5.61v5.68h-5.61zM657.42 1024.44h5.61v5.68h-5.61zM735.98 1024.44h5.61v5.68h-5.61zM786.48 1024.44h5.61v5.68h-5.61zM674.26 1030.12h5.61v5.68h-5.61zM707.92 1030.12h5.61v5.68h-5.61zM769.64 1030.12h5.61v5.68h-5.61zM646.2 1035.8h5.61v5.68h-5.61zM663.03 1035.8h5.61v5.68h-5.61zM668.64 1035.8h5.61v5.68h-5.61zM679.87 1035.8h5.61v5.68h-5.61zM713.53 1035.8h5.61v5.68h-5.61zM780.87 1035.8h5.61v5.68h-5.61zM679.87 1041.48h5.61v5.68h-5.61zM685.48 1041.48h5.61v5.68h-5.61zM696.7 1041.48h5.61v5.68h-5.61zM752.81 1041.48h5.61v5.68h-5.61zM674.26 1047.16h5.61v5.68h-5.61zM685.48 1047.16h5.61v5.68h-5.61zM741.59 1047.16h5.61v5.68h-5.61zM758.42 1047.16h5.61v5.68h-5.61zM764.03 1052.84h5.61v5.68h-5.61zM792.09 1052.84h5.61v5.68h-5.61zM668.64 1058.52h5.61v5.68h-5.61zM691.09 1058.52h5.61v5.68h-5.61zM730.37 1058.52h5.61v5.68h-5.61zM758.42 1058.52h5.61v5.68h-5.61zM713.53 1064.2h5.61v5.68h-5.61zM730.37 1064.2h5.61v5.68h-5.61zM747.2 1064.2h5.61v5.68h-5.61zM657.42 1069.88h5.61v5.68h-5.61zM679.87 1069.88h5.61v5.68h-5.61zM691.09 1069.88h5.61v5.68h-5.61zM730.37 1069.88h5.61v5.68h-5.61zM775.26 1069.88h5.61v5.68h-5.61zM780.87 1069.88h5.61v5.68h-5.61zM674.26 1081.24h5.61v5.68h-5.61zM696.7 1086.92h5.61v5.68h-5.61zM786.48 1086.92h5.61v5.68h-5.61zM764.03 1092.6h5.61v5.68h-5.61zM775.26 1092.6h5.61v5.68h-5.61zM657.42 1098.28h5.61v5.68h-5.61zM674.26 1098.28h5.61v5.68h-5.61zM724.76 1098.28h5.61v5.68h-5.61zM764.03 1098.28h5.61v5.68h-5.61zM775.26 1098.28h5.61v5.68h-5.61zM792.09 1098.28h5.61v5.68h-5.61zM657.42 1103.96h5.61v5.68h-5.61zM663.03 1103.96h5.61v5.68h-5.61zM691.09 1103.96h5.61v5.68h-5.61zM724.76 1103.96h5.61v5.68h-5.61zM741.59 1103.96h5.61v5.68h-5.61zM775.26 1103.96h5.61v5.68h-5.61zM674.26 1109.64h5.61v5.68h-5.61zM724.76 1109.64h5.61v5.68h-5.61zM730.37 1109.64h5.61v5.68h-5.61zM657.42 1115.32h5.61v5.68h-5.61zM679.87 1115.32h5.61v5.68h-5.61z"/>
<path fill="#000" fill-opacity="0.19" d="M769.64 979h5.61v5.68h-5.61zM702.31 984.68h5.61v5.68h-5.61zM713.53 984.68h5.61v5.68h-5.61zM735.98 984.68h5.61v5.68h-5.61zM786.48 984.68h5.61v5.68h-5.61zM679.87 990.36h5.61v5.68h-5.61zM713.53 990.36h5.61v5.68h-5.61zM674.26 996.04h5.61v5.68h-5.61zM679.87 996.04h5.61v5.68h-5.61zM691.09 996.04h5.61v5.68h-5.61zM702.31 996.04h5.61v5.68h-5.61zM741.59 996.04h5.61v5.68h-5.61zM752.81 996.04h5.61v5.68h-5.61zM758.42 996.04h5.61v5.68h-5.61zM679.87 1001.72h5.61v5.68h-5.61zM702.31 1001.72h5.61v5.68h-5.61zM719.14 1001.72h5.61v5.68h-5.61zM724.76 1001.72h5.61v5.68h-5.61zM752.81 1001.72h5.61v5.68h-5.61zM786.48 1001.72h5.61v5.68h-5.61zM679.87 1007.4h5.61v5.68h-5.61zM657.42 1013.08h5.61v5.68h-5.61zM707.92 1013.08h5.61v5.68h-5.61zM724.76 1013.08h5.61v5.68h-5.61zM735.98 1013.08h5.61v5.68h-5.61zM769.64 1013.08h5.61v5.68h-5.61zM713.53 1018.76h5.61v5.68h-5.61zM758.42 1018.76h5.61v5.68h-5.61zM651.81 1024.44h5.61v5.68h-5.61zM741.59 1024.44h5.61v5.68h-5.61zM679.87 1030.12h5.61v5.68h-5.61zM691.09 1030.12h5.61v5.68h-5.61zM696.7 1030.12h5.61v5.68h-5.61zM702.31 1030.12h5.61v5.68h-5.61zM657.42 1035.8h5.61v5.68h-5.61zM702.31 1035.8h5.61v5.68h-5.61zM741.59 1035.8h5.61v5.68h-5.61zM707.92 1041.48h5.61v5.68h-5.61zM696.7 1047.16h5.61v5.68h-5.61zM724.76 1047.16h5.61v5.68h-5.61zM792.09 1047.16h5.61v5.68h-5.61zM719.14 1052.84h5.61v5.68h-5.61zM741.59 1052.84h5.61v5.68h-5.61zM752.81 1052.84h5.61v5.68h-5.61zM713.53 1058.52h5.61v5.68h-5.61zM719.14 1058.52h5.61v5.68h-5.61zM792.09 1058.52h5.61v5.68h-5.61zM646.2 1064.2h5.61v5.68h-5.61zM685.48 1064.2h5.61v5.68h-5.61zM792.09 1064.2h5.61v5.68h-5.61zM713.53 1069.88h5.61v5.68h-5.61zM719.14 1069.88h5.61v5.68h-5.61zM735.98 1069.88h5.61v5.68h-5.61zM764.03 1069.88h5.61v5.68h-5.61zM674.26 1075.56h5.61v5.68h-5.61zM685.48 1075.56h5.61v5.68h-5.61zM696.7 1075.56h5.61v5.68h-5.61zM752.81 1075.56h5.61v5.68h-5.61zM786.48 1075.56h5.61v5.68h-5.61zM696.7 1081.24h5.61v5.68h-5.61zM719.14 1081.24h5.61v5.68h-5.61zM769.64 1081.24h5.61v5.68h-5.61zM775.26 1081.24h5.61v5.68h-5.61zM780.87 1081.24h5.61v5.68h-5.61zM651.81 1086.92h5.61v5.68h-5.61zM663.03 1086.92h5.61v5.68h-5.61zM691.09 1086.92h5.61v5.68h-5.61zM752.81 1086.92h5.61v5.68h-5.61zM775.26 1086.92h5.61v5.68h-5.61zM792.09 1086.92h5.61v5.68h-5.61zM646.2 1092.6h5.61v5.68h-5.61zM724.76 1092.6h5.61v5.68h-5.61zM741.59 1092.6h5.61v5.68h-5.61zM702.31 1098.28h5.61v5.68h-5.61zM786.48 1103.96h5.61v5.68h-5.61zM668.64 1109.64h5.61v5.68h-5.61zM696.7 1109.64h5.61v5.68h-5.61zM747.2 1109.64h5.61v5.68h-5.61zM775.26 1109.64h5.61v5.68h-5.61zM780.87 1109.64h5.61v5.68h-5.61zM724.76 1115.32h5.61v5.68h-5.61zM730.37 1115.32h5.61v5.68h-5.61zM764.03 1115.32h5.61v5.68h-5.61zM769.64 1115.32h5.61v5.68h-5.61z"/>
</g>
<ellipse cx="673.13" cy="1046.09" rx="3.93" ry="3.91" fill="#d1d1d1" filter="url(#b5)" transform="rotate(0 673.13 1046.09)"/>
<ellipse cx="673.13" cy="1059.5" rx="3.93" ry="3.91" fill="#c7c7c7" filter="url(#b5)" transform="rotate(0 673.13 1059.5)"/>
<ellipse cx="703.99" cy="1053.91" rx="3.37" ry="5.59" fill="#e6e6e6" filter="url(#b5)" transform="rotate(0 703.99 1053.91)"/>
<ellipse cx="723.63" cy="1046.09" rx="3.93" ry="3.91" fill="#cccccc" filter="url(#b5)" transform="rotate(0 723.63 1046.09)"/>
<ellipse cx="735.98" cy="1075.16" rx="3.93" ry="3.91" fill="#d1d1d1" filter="url(#b5)" transform="rotate(0 735.98 1075.16)"/>
<ellipse cx="715.78" cy="1059.5" rx="3.93" ry="3.91" fill="#999999" filter="url(#b5)" transform="rotate(0 715.78 1059.5)"/>
<ellipse cx="666.4" cy="1032.67" rx="3.37" ry="3.35" fill="#8c8c8c" filter="url(#b5)" transform="rotate(0 666.4 1032.67)"/>
<ellipse cx="657.42" cy="1041.61" rx="3.37" ry="3.35" fill="#8c8c8c" filter="url(#b5)" transform="rotate(0 657.42 1041.61)"/>
<ellipse cx="696.7" cy="1075.16" rx="5.61" ry="2.8" fill="#999999" filter="url(#b5)" transform="rotate(0 696.7 1075.16)"/>
<ellipse cx="715.78" cy="1075.16" rx="6.73" ry="2.8" fill="#999999" filter="url(#b5)" transform="rotate(0 715.78 1075.16)"/>
<ellipse cx="685.48" cy="1052.8" rx="3.37" ry="3.35" fill="#8c8c8c" filter="url(#b5)" transform="rotate(0 685.48 1052.8)"/>
<ellipse cx="709.04" cy="1071.8" rx="6.73" ry="2.24" fill="#8c8c8c" filter="url(#b5)" transform="rotate(0 709.04 1071.8)"/>
<ellipse cx="673.13" cy="1052.8" rx="3.37" ry="3.35" fill="#333333" filter="url(#b3)" transform="rotate(0 673.13 1052.8)"/>
<ellipse cx="716.9" cy="1023.72" rx="4.49" ry="4.47" fill="#1f1f1f" filter="url(#b3)" transform="rotate(0 716.9 1023.72)"/>
</g></g>
<g clip-path="url(#m54)"><g filter="url(#cm54)">
<rect x="826.4" y="977" width="155.5" height="146" fill="#0c0c0c"/>
<path d="M850.84 1090.81 L890.12 1074.04 L918.18 1051.68 L940.62 1023.72" fill="none" stroke="#333333" stroke-width="47.13" stroke-linecap="round" stroke-linejoin="round" filter="url(#b4)"/>
<path d="M890.12 1077.39 L906.96 1062.86 L923.79 1048.32 L940.62 1025.96" fill="none" stroke="#737373" stroke-width="24.69" stroke-linecap="round" stroke-linejoin="round" filter="url(#b3)"/>
<g filter="url(#b1)">
<path fill="#000" fill-opacity="0.3" d="M834.01 979h5.61v5.68h-5.61zM839.62 979h5.61v5.68h-5.61zM873.29 979h5.61v5.68h-5.61zM906.96 979h5.61v5.68h-5.61zM923.79 979h5.61v5.68h-5.61zM839.62 990.36h5.61v5.68h-5.61zM862.07 990.36h5.61v5.68h-5.61zM923.79 990.36h5.61v5.68h-5.61zM963.07 990.36h5.61v5.68h-5.61zM929.4 996.04h5.61v5.68h-5.61zM968.68 996.04h5.61v5.68h-5.61zM845.23 1001.72h5.61v5.68h-5.61zM878.9 1001.72h5.61v5.68h-5.61zM923.79 1001.72h5.61v5.68h-5.61zM957.46 1001.72h5.61v5.68h-5.61zM862.07 1007.4h5.61v5.68h-5.61zM895.73 1007.4h5.61v5.68h-5.61zM929.4 1007.4h5.61v5.68h-5.61zM957.46 1007.4h5.61v5.68h-5.61zM974.29 1007.4h5.61v5.68h-5.61zM834.01 1013.08h5.61v5.68h-5.61zM906.96 1013.08h5.61v5.68h-5.61zM873.29 1018.76h5.61v5.68h-5.61zM946.23 1018.76h5.61v5.68h-5.61zM963.07 1018.76h5.61v5.68h-5.61zM890.12 1024.44h5.61v5.68h-5.61zM828.4 1030.12h5.61v5.68h-5.61zM951.84 1030.12h5.61v5.68h-5.61zM974.29 1030.12h5.61v5.68h-5.61zM845.23 1035.8h5.61v5.68h-5.61zM940.62 1035.8h5.61v5.68h-5.61zM929.4 1041.48h5.61v5.68h-5.61zM946.23 1041.48h5.61v5.68h-5.61zM912.57 1047.16h5.61v5.68h-5.61zM834.01 1052.84h5.61v5.68h-5.61zM839.62 1052.84h5.61v5.68h-5.61zM940.62 1058.52h5.61v5.68h-5.61zM963.07 1058.52h5.61v5.68h-5.61zM850.84 1064.2h5.61v5.68h-5.61zM957.46 1064.2h5.61v5.68h-5.61zM834.01 1069.88h5.61v5.68h-5.61zM856.46 1069.88h5.61v5.68h-5.61zM940.62 1069.88h5.61v5.68h-5.61zM839.62 1075.56h5.61v5.68h-5.61zM862.07 1075.56h5.61v5.68h-5.61zM834.01 1081.24h5.61v5.68h-5.61zM906.96 1081.24h5.61v5.68h-5.61zM912.57 1081.24h5.61v5.68h-5.61zM929.4 1086.92h5.61v5.68h-5.61zM839.62 1092.6h5.61v5.68h-5.61zM856.46 1092.6h5.61v5.68h-5.61zM878.9 1092.6h5.61v5.68h-5.61zM901.34 1092.6h5.61v5.68h-5.61zM918.18 1092.6h5.61v5.68h-5.61zM946.23 1092.6h5.61v5.68h-5.61zM906.96 1103.96h5.61v5.68h-5.61zM968.68 1103.96h5.61v5.68h-5.61zM923.79 1109.64h5.61v5.68h-5.61zM974.29 1109.64h5.61v5.68h-5.61zM923.79 1115.32h5.61v5.68h-5.61zM968.68 1115.32h5.61v5.68h-5.61z"/>
<path fill="#000" fill-opacity="0.24" d="M850.84 979h5.61v5.68h-5.61zM862.07 979h5.61v5.68h-5.61zM974.29 979h5.61v5.68h-5.61zM912.57 984.68h5.61v5.68h-5.61zM845.23 990.36h5.61v5.68h-5.61zM850.84 990.36h5.61v5.68h-5.61zM873.29 990.36h5.61v5.68h-5.61zM906.96 990.36h5.61v5.68h-5.61zM912.57 990.36h5.61v5.68h-5.61zM940.62 990.36h5.61v5.68h-5.61zM957.46 990.36h5.61v5.68h-5.61zM856.46 996.04h5.61v5.68h-5.61zM935.01 1007.4h5.61v5.68h-5.61zM946.23 1007.4h5.61v5.68h-5.61zM878.9 1013.08h5.61v5.68h-5.61zM856.46 1018.76h5.61v5.68h-5.61zM867.68 1018.76h5.61v5.68h-5.61zM890.12 1018.76h5.61v5.68h-5.61zM901.34 1018.76h5.61v5.68h-5.61zM923.79 1018.76h5.61v5.68h-5.61zM929.4 1018.76h5.61v5.68h-5.61zM839.62 1024.44h5.61v5.68h-5.61zM867.68 1024.44h5.61v5.68h-5.61zM873.29 1024.44h5.61v5.68h-5.61zM906.96 1030.12h5.61v5.68h-5.61zM935.01 1030.12h5.61v5.68h-5.61zM839.62 1035.8h5.61v5.68h-5.61zM968.68 1035.8h5.61v5.68h-5.61zM963.07 1041.48h5.61v5.68h-5.61zM946.23 1052.84h5.61v5.68h-5.61zM828.4 1058.52h5.61v5.68h-5.61zM951.84 1058.52h5.61v5.68h-5.61zM957.46 1058.52h5.61v5.68h-5.61zM968.68 1058.52h5.61v5.68h-5.61zM862.07 1064.2h5.61v5.68h-5.61zM867.68 1064.2h5.61v5.68h-5.61zM873.29 1064.2h5.61v5.68h-5.61zM884.51 1069.88h5.61v5.68h-5.61zM895.73 1069.88h5.61v5.68h-5.61zM935.01 1069.88h5.61v5.68h-5.61zM957.46 1069.88h5.61v5.68h-5.61zM828.4 1075.56h5.61v5.68h-5.61zM895.73 1075.56h5.61v5.68h-5.61zM912.57 1075.56h5.61v5.68h-5.61zM929.4 1075.56h5.61v5.68h-5.61zM974.29 1075.56h5.61v5.68h-5.61zM839.62 1081.24h5.61v5.68h-5.61zM867.68 1081.24h5.61v5.68h-5.61zM935.01 1086.92h5.61v5.68h-5.61zM828.4 1092.6h5.61v5.68h-5.61zM906.96 1092.6h5.61v5.68h-5.61zM940.62 1092.6h5.61v5.68h-5.61zM850.84 1098.28h5.61v5.68h-5.61zM895.73 1098.28h5.61v5.68h-5.61zM918.18 1098.28h5.61v5.68h-5.61zM929.4 1098.28h5.61v5.68h-5.61zM968.68 1098.28h5.61v5.68h-5.61zM839.62 1103.96h5.61v5.68h-5.61zM856.46 1103.96h5.61v5.68h-5.61zM873.29 1103.96h5.61v5.68h-5.61zM935.01 1103.96h5.61v5.68h-5.61zM834.01 1109.64h5.61v5.68h-5.61zM940.62 1109.64h5.61v5.68h-5.61zM828.4 1115.32h5.61v5.68h-5.61zM963.07 1115.32h5.61v5.68h-5.61z"/>
<path fill="#000" fill-opacity="0.17" d="M884.51 979h5.61v5.68h-5.61zM963.07 979h5.61v5.68h-5.61zM968.68 979h5.61v5.68h-5.61zM895.73 984.68h5.61v5.68h-5.61zM946.23 984.68h5.61v5.68h-5.61zM828.4 990.36h5.61v5.68h-5.61zM856.46 990.36h5.61v5.68h-5.61zM974.29 990.36h5.61v5.68h-5.61zM845.23 996.04h5.61v5.68h-5.61zM878.9 996.04h5.61v5.68h-5.61zM923.79 996.04h5.61v5.68h-5.61zM940.62 996.04h5.61v5.68h-5.61zM946.23 996.04h5.61v5.68h-5.61zM963.07 996.04h5.61v5.68h-5.61zM974.29 996.04h5.61v5.68h-5.61zM862.07 1001.72h5.61v5.68h-5.61zM884.51 1001.72h5.61v5.68h-5.61zM850.84 1007.4h5.61v5.68h-5.61zM901.34 1007.4h5.61v5.68h-5.61zM940.62 1007.4h5.61v5.68h-5.61zM884.51 1013.08h5.61v5.68h-5.61zM946.23 1013.08h5.61v5.68h-5.61zM901.34 1024.44h5.61v5.68h-5.61zM906.96 1024.44h5.61v5.68h-5.61zM923.79 1024.44h5.61v5.68h-5.61zM968.68 1024.44h5.61v5.68h-5.61zM884.51 1030.12h5.61v5.68h-5.61zM946.23 1030.12h5.61v5.68h-5.61zM957.46 1030.12h5.61v5.68h-5.61zM912.57 1035.8h5.61v5.68h-5.61zM929.4 1035.8h5.61v5.68h-5.61zM957.46 1035.8h5.61v5.68h-5.61zM918.18 1041.48h5.61v5.68h-5.61zM828.4 1047.16h5.61v5.68h-5.61zM884.51 1047.16h5.61v5.68h-5.61zM923.79 1047.16h5.61v5.68h-5.61zM862.07 1052.84h5.61v5.68h-5.61zM895.73 1052.84h5.61v5.68h-5.61zM901.34 1052.84h5.61v5.68h-5.61zM873.29 1058.52h5.61v5.68h-5.61zM918.18 1058.52h5.61v5.68h-5.61zM923.79 1058.52h5.61v5.68h-5.61zM890.12 1064.2h5.61v5.68h-5.61zM940.62 1064.2h5.61v5.68h-5.61zM951.84 1064.2h5.61v5.68h-5.61zM839.62 1069.88h5.61v5.68h-5.61zM862.07 1069.88h5.61v5.68h-5.61zM873.29 1069.88h5.61v5.68h-5.61zM878.9 1069.88h5.61v5.68h-5.61zM890.12 1069.88h5.61v5.68h-5.61zM923.79 1069.88h5.61v5.68h-5.61zM968.68 1069.88h5.61v5.68h-5.61zM878.9 1075.56h5.61v5.68h-5.61zM968.68 1075.56h5.61v5.68h-5.61zM856.46 1086.92h5.61v5.68h-5.61zM901.34 1086.92h5.61v5.68h-5.61zM923.79 1086.92h5.61v5.68h-5.61zM957.46 1086.92h5.61v5.68h-5.61zM850.84 1092.6h5.61v5.68h-5.61zM884.51 1092.6h5.61v5.68h-5.61zM839.62 1098.28h5.61v5.68h-5.61zM845.23 1098.28h5.61v5.68h-5.61zM856.46 1098.28h5.61v5.68h-5.61zM862.07 1098.28h5.61v5.68h-5.61zM867.68 1098.28h5.61v5.68h-5.61zM912.57 1098.28h5.61v5.68h-5.61zM929.4 1103.96h5.61v5.68h-5.61zM918.18 1109.64h5.61v5.68h-5.61zM912.57 1115.32h5.61v5.68h-5.61z"/>
<path fill="#fff" fill-opacity="0.08" d="M890.12 979h5.61v5.68h-5.61zM935.01 979h5.61v5.68h-5.61zM929.4 984.68h5.61v5.68h-5.61zM963.07 984.68h5.61v5.68h-5.61zM974.29 984.68h5.61v5.68h-5.61zM834.01 990.36h5.61v5.68h-5.61zM839.62 996.04h5.61v5.68h-5.61zM867.68 996.04h5.61v5.68h-5.61zM906.96 996.04h5.61v5.68h-5.61zM839.62 1001.72h5.61v5.68h-5.61zM968.68 1001.72h5.61v5.68h-5.61zM862.07 1013.08h5.61v5.68h-5.61zM873.29 1013.08h5.61v5.68h-5.61zM935.01 1013.08h5.61v5.68h-5.61zM940.62 1013.08h5.61v5.68h-5.61zM963.07 1013.08h5.61v5.68h-5.61zM968.68 1013.08h5.61v5.68h-5.61zM839.62 1018.76h5.61v5.68h-5.61zM862.07 1024.44h5.61v5.68h-5.61zM935.01 1035.8h5.61v5.68h-5.61zM963.07 1035.8h5.61v5.68h-5.61zM867.68 1041.48h5.61v5.68h-5.61zM878.9 1041.48h5.61v5.68h-5.61zM895.73 1041.48h5.61v5.68h-5.61zM901.34 1041.48h5.61v5.68h-5.61zM935.01 1041.48h5.61v5.68h-5.61zM940.62 1041.48h5.61v5.68h-5.61zM878.9 1047.16h5.61v5.68h-5.61zM929.4 1047.16h5.61v5.68h-5.61zM878.9 1064.2h5.61v5.68h-5.61zM884.51 1064.2h5.61v5.68h-5.61zM912.57 1064.2h5.61v5.68h-5.61zM850.84 1075.56h5.61v5.68h-5.61zM918.18 1075.56h5.61v5.68h-5.61zM957.46 1075.56h5.61v5.68h-5.61zM845.23 1081.24h5.61v5.68h-5.61zM867.68 1086.92h5.61v5.68h-5.61zM912.57 1086.92h5.61v5.68h-5.61zM940.62 1086.92h5.61v5.68h-5.61zM968.68 1086.92h5.61v5.68h-5.61zM935.01 1098.28h5.61v5.68h-5.61zM828.4 1103.96h5.61v5.68h-5.61zM895.73 1103.96h5.61v5.68h-5.61zM839.62 1109.64h5.61v5.68h-5.61zM878.9 1109.64h5.61v5.68h-5.61zM906.96 1109.64h5.61v5.68h-5.61zM834.01 1115.32h5.61v5.68h-5.61zM845.23 1115.32h5.61v5.68h-5.61zM929.4 1115.32h5.61v5.68h-5.61zM935.01 1115.32h5.61v5.68h-5.61zM940.62 1115.32h5.61v5.68h-5.61zM951.84 1115.32h5.61v5.68h-5.61z"/>
<path fill="#fff" fill-opacity="0.12" d="M929.4 979h5.61v5.68h-5.61zM951.84 979h5.61v5.68h-5.61zM862.07 984.68h5.61v5.68h-5.61zM878.9 984.68h5.61v5.68h-5.61zM923.79 984.68h5.61v5.68h-5.61zM828.4 996.04h5.61v5.68h-5.61zM901.34 996.04h5.61v5.68h-5.61zM918.18 996.04h5.61v5.68h-5.61zM951.84 996.04h5.61v5.68h-5.61zM946.23 1001.72h5.61v5.68h-5.61zM951.84 1001.72h5.61v5.68h-5.61zM856.46 1007.4h5.61v5.68h-5.61zM850.84 1018.76h5.61v5.68h-5.61zM957.46 1018.76h5.61v5.68h-5.61zM935.01 1024.44h5.61v5.68h-5.61zM839.62 1030.12h5.61v5.68h-5.61zM878.9 1030.12h5.61v5.68h-5.61zM912.57 1030.12h5.61v5.68h-5.61zM923.79 1030.12h5.61v5.68h-5.61zM918.18 1035.8h5.61v5.68h-5.61zM828.4 1041.48h5.61v5.68h-5.61zM862.07 1041.48h5.61v5.68h-5.61zM923.79 1041.48h5.61v5.68h-5.61zM839.62 1047.16h5.61v5.68h-5.61zM856.46 1047.16h5.61v5.68h-5.61zM895.73 1047.16h5.61v5.68h-5.61zM918.18 1047.16h5.61v5.68h-5.61zM951.84 1047.16h5.61v5.68h-5.61zM957.46 1047.16h5.61v5.68h-5.61zM974.29 1047.16h5.61v5.68h-5.61zM923.79 1052.84h5.61v5.68h-5.61zM951.84 1052.84h5.61v5.68h-5.61zM968.68 1052.84h5.61v5.68h-5.61zM929.4 1058.52h5.61v5.68h-5.61zM974.29 1058.52h5.61v5.68h-5.61zM923.79 1064.2h5.61v5.68h-5.61zM929.4 1064.2h5.61v5.68h-5.61zM845.23 1069.88h5.61v5.68h-5.61zM867.68 1069.88h5.61v5.68h-5.61zM890.12 1075.56h5.61v5.68h-5.61zM901.34 1075.56h5.61v5.68h-5.61zM935.01 1075.56h5.61v5.68h-5.61zM935.01 1081.24h5.61v5.68h-5.61zM862.07 1086.92h5.61v5.68h-5.61zM906.96 1086.92h5.61v5.68h-5.61zM873.29 1092.6h5.61v5.68h-5.61zM951.84 1092.6h5.61v5.68h-5.61zM951.84 1098.28h5.61v5.68h-5.61zM845.23 1103.96h5.61v5.68h-5.61zM850.84 1103.96h5.61v5.68h-5.61zM884.51 1103.96h5.61v5.68h-5.61zM940.62 1103.96h5.61v5.68h-5.61zM951.84 1103.96h5.61v5.68h-5.61zM963.07 1103.96h5.61v5.68h-5.61zM974.29 1103.96h5.61v5.68h-5.61zM890.12 1109.64h5.61v5.68h-5.61z"/>
<path fill="#fff" fill-opacity="0.15" d="M946.23 979h5.61v5.68h-5.61zM867.68 984.68h5.61v5.68h-5.61zM873.29 984.68h5.61v5.68h-5.61zM895.73 990.36h5.61v5.68h-5.61zM850.84 996.04h5.61v5.68h-5.61zM895.73 996.04h5.61v5.68h-5.61zM935.01 996.04h5.61v5.68h-5.61zM856.46 1001.72h5.61v5.68h-5.61zM867.68 1007.4h5.61v5.68h-5.61zM850.84 1013.08h5.61v5.68h-5.61zM856.46 1013.08h5.61v5.68h-5.61zM867.68 1013.08h5.61v5.68h-5.61zM834.01 1018.76h5.61v5.68h-5.61zM845.23 1018.76h5.61v5.68h-5.61zM974.29 1018.76h5.61v5.68h-5.61zM845.23 1024.44h5.61v5.68h-5.61zM862.07 1030.12h5.61v5.68h-5.61zM968.68 1030.12h5.61v5.68h-5.61zM951.84 1035.8h5.61v5.68h-5.61zM856.46 1041.48h5.61v5.68h-5.61zM890.12 1047.16h5.61v5.68h-5.61zM906.96 1047.16h5.61v5.68h-5.61zM906.96 1052.84h5.61v5.68h-5.61zM845.23 1058.52h5.61v5.68h-5.61zM935.01 1058.52h5.61v5.68h-5.61zM856.46 1064.2h5.61v5.68h-5.61zM946.23 1064.2h5.61v5.68h-5.61zM968.68 1064.2h5.61v5.68h-5.61zM828.4 1069.88h5.61v5.68h-5.61zM912.57 1069.88h5.61v5.68h-5.61zM867.68 1075.56h5.61v5.68h-5.61zM957.46 1081.24h5.61v5.68h-5.61zM895.73 1092.6h5.61v5.68h-5.61zM923.79 1092.6h5.61v5.68h-5.61zM968.68 1092.6h5.61v5.68h-5.61zM873.29 1098.28h5.61v5.68h-5.61zM890.12 1098.28h5.61v5.68h-5.61zM923.79 1098.28h5.61v5.68h-5.61zM867.68 1103.96h5.61v5.68h-5.61zM890.12 1103.96h5.61v5.68h-5.61zM867.68 1109.64h5.61v5.68h-5.61zM912.57 1109.64h5.61v5.68h-5.61zM935.01 1109.64h5.61v5.68h-5.61zM946.23 1109.64h5.61v5.68h-5.61zM839.62 1115.32h5.61v5.68h-5.61zM867.68 1115.32h5.61v5.68h-5.61zM918.18 1115.32h5.61v5.68h-5.61z"/>
</g>
<ellipse cx="918.18" cy="1051.68" rx="13.47" ry="10.06" fill="#a6a6a6" filter="url(#b3)" transform="rotate(-45 918.18 1051.68)"/>
<ellipse cx="922.67" cy="1050.56" rx="3.93" ry="7.83" fill="#f2f2f2" filter="url(#b2)" transform="rotate(0 922.67 1050.56)"/>
<ellipse cx="899.1" cy="1074.04" rx="8.98" ry="3.35" fill="#b2b2b2" filter="url(#b2)" transform="rotate(0 899.1 1074.04)"/>
<ellipse cx="933.89" cy="1032.67" rx="5.61" ry="6.71" fill="#9e9e9e" filter="url(#b2)" transform="rotate(0 933.89 1032.67)"/>
</g></g>
<g clip-path="url(#m60)"><g filter="url(#cm60)">
<rect x="97.6" y="1147.8" width="155.5" height="146" fill="#141414"/>
<rect x="196.11" y="1228.07" width="54.99" height="61.5" fill="#333333" filter="url(#b4)"/>
<g filter="url(#b1)">
<path fill="#000" fill-opacity="0.17" d="M194.99 1222.48h5.61v5.78h-5.61zM211.82 1222.48h5.61v5.78h-5.61zM217.43 1228.25h5.61v5.78h-5.61zM194.99 1234.03h5.61v5.78h-5.61zM189.38 1239.81h5.61v5.78h-5.61zM194.99 1239.81h5.61v5.78h-5.61zM183.77 1245.58h5.61v5.78h-5.61zM166.93 1262.92h5.61v5.78h-5.61zM217.43 1262.92h5.61v5.78h-5.61zM178.16 1268.69h5.61v5.78h-5.61zM183.77 1268.69h5.61v5.78h-5.61zM206.21 1268.69h5.61v5.78h-5.61zM194.99 1274.47h5.61v5.78h-5.61zM206.21 1274.47h5.61v5.78h-5.61zM166.93 1280.25h5.61v5.78h-5.61zM178.16 1280.25h5.61v5.78h-5.61zM194.99 1286.02h5.61v5.78h-5.61zM239.88 1286.02h5.61v5.78h-5.61z"/>
<path fill="#000" fill-opacity="0.24" d="M200.6 1222.48h5.61v5.78h-5.61zM206.21 1222.48h5.61v5.78h-5.61zM194.99 1228.25h5.61v5.78h-5.61zM234.27 1228.25h5.61v5.78h-5.61zM178.16 1239.81h5.61v5.78h-5.61zM183.77 1239.81h5.61v5.78h-5.61zM166.93 1245.58h5.61v5.78h-5.61zM189.38 1245.58h5.61v5.78h-5.61zM194.99 1245.58h5.61v5.78h-5.61zM223.04 1251.36h5.61v5.78h-5.61zM228.66 1268.69h5.61v5.78h-5.61zM166.93 1274.47h5.61v5.78h-5.61zM189.38 1274.47h5.61v5.78h-5.61zM239.88 1280.25h5.61v5.78h-5.61z"/>
<path fill="#fff" fill-opacity="0.12" d="M217.43 1222.48h5.61v5.78h-5.61zM206.21 1228.25h5.61v5.78h-5.61zM245.49 1228.25h5.61v5.78h-5.61zM189.38 1234.03h5.61v5.78h-5.61zM223.04 1245.58h5.61v5.78h-5.61zM239.88 1245.58h5.61v5.78h-5.61zM245.49 1245.58h5.61v5.78h-5.61zM223.04 1257.14h5.61v5.78h-5.61zM189.38 1262.92h5.61v5.78h-5.61zM194.99 1268.69h5.61v5.78h-5.61zM211.82 1268.69h5.61v5.78h-5.61zM183.77 1274.47h5.61v5.78h-5.61zM200.6 1274.47h5.61v5.78h-5.61zM223.04 1274.47h5.61v5.78h-5.61zM239.88 1274.47h5.61v5.78h-5.61zM245.49 1274.47h5.61v5.78h-5.61zM217.43 1280.25h5.61v5.78h-5.61zM211.82 1286.02h5.61v5.78h-5.61z"/>
<path fill="#fff" fill-opacity="0.08" d="M223.04 1222.48h5.61v5.78h-5.61zM228.66 1222.48h5.61v5.78h-5.61zM228.66 1228.25h5.61v5.78h-5.61zM166.93 1239.81h5.61v5.78h-5.61zM172.54 1251.36h5.61v5.78h-5.61zM228.66 1257.14h5.61v5.78h-5.61zM239.88 1257.14h5.61v5.78h-5.61zM200.6 1262.92h5.61v5.78h-5.61zM234.27 1274.47h5.61v5.78h-5.61zM183.77 1280.25h5.61v5.78h-5.61zM211.82 1280.25h5.61v5.78h-5.61zM166.93 1286.02h5.61v5.78h-5.61zM234.27 1286.02h5.61v5.78h-5.61z"/>
<path fill="#000" fill-opacity="0.3" d="M239.88 1222.48h5.61v5.78h-5.61zM234.27 1239.81h5.61v5.78h-5.61zM178.16 1251.36h5.61v5.78h-5.61zM194.99 1251.36h5.61v5.78h-5.61zM211.82 1251.36h5.61v5.78h-5.61zM217.43 1251.36h5.61v5.78h-5.61zM217.43 1257.14h5.61v5.78h-5.61zM206.21 1262.92h5.61v5.78h-5.61zM234.27 1262.92h5.61v5.78h-5.61zM206.21 1280.25h5.61v5.78h-5.61zM200.6 1286.02h5.61v5.78h-5.61zM206.21 1286.02h5.61v5.78h-5.61z"/>
<path fill="#fff" fill-opacity="0.15" d="M172.54 1228.25h5.61v5.78h-5.61zM223.04 1228.25h5.61v5.78h-5.61zM172.54 1234.03h5.61v5.78h-5.61zM239.88 1234.03h5.61v5.78h-5.61zM200.6 1239.81h5.61v5.78h-5.61zM206.21 1239.81h5.61v5.78h-5.61zM245.49 1239.81h5.61v5.78h-5.61zM172.54 1245.58h5.61v5.78h-5.61zM234.27 1251.36h5.61v5.78h-5.61zM166.93 1257.14h5.61v5.78h-5.61zM206.21 1257.14h5.61v5.78h-5.61zM172.54 1262.92h5.61v5.78h-5.61zM211.82 1262.92h5.61v5.78h-5.61zM239.88 1262.92h5.61v5.78h-5.61zM178.16 1286.02h5.61v5.78h-5.61zM183.77 1286.02h5.61v5.78h-5.61z"/>
</g>
<path d="M110.82 1224.15 L129.9 1228.63 L150.1 1235.89 L166.93 1242.6 L189.38 1248.19" fill="none" stroke="#4c4c4c" stroke-width="10.1" stroke-linecap="round" stroke-linejoin="round" filter="url(#b3)"/>
<ellipse cx="129.9" cy="1228.63" rx="11.22" ry="3.13" fill="#d9d9d9" filter="url(#b2)" transform="rotate(12 129.9 1228.63)"/>
<ellipse cx="146.73" cy="1235.34" rx="6.73" ry="2.24" fill="#9e9e9e" filter="url(#b2)" transform="rotate(10 146.73 1235.34)"/>
<ellipse cx="159.08" cy="1241.49" rx="6.73" ry="2.8" fill="#808080" filter="url(#b2)" transform="rotate(10 159.08 1241.49)"/>
<ellipse cx="210.7" cy="1258.26" rx="6.73" ry="5.59" fill="#4c4c4c" filter="url(#b3)" transform="rotate(0 210.7 1258.26)"/>
<ellipse cx="211.82" cy="1269.44" rx="4.49" ry="4.47" fill="#4c4c4c" filter="url(#b3)" transform="rotate(0 211.82 1269.44)"/>
</g></g>
<g clip-path="url(#m61)"><g filter="url(#cm61)">
<rect x="279.8" y="1147.8" width="155.5" height="146" fill="#0b0b0b"/>
<ellipse cx="371.58" cy="1248.19" rx="53.87" ry="29.07" fill="#474747" filter="url(#b4)" transform="rotate(0 371.58 1248.19)"/>
<path d="M315.47 1228.63 L365.97 1231.42" fill="none" stroke="#6b6b6b" stroke-width="6.73" stroke-linecap="round" stroke-linejoin="round" filter="url(#b3)"/>
<ellipse cx="377.19" cy="1238.13" rx="37.03" ry="10.06" fill="#9e9e9e" filter="url(#b3)" transform="rotate(-3 377.19 1238.13)"/>
<ellipse cx="390.66" cy="1239.25" rx="25.81" ry="8.39" fill="#e6e6e6" filter="url(#b3)" transform="rotate(0 390.66 1239.25)"/>
<ellipse cx="382.8" cy="1267.2" rx="20.2" ry="4.47" fill="#737373" filter="url(#b3)" transform="rotate(5 382.8 1267.2)"/>
<ellipse cx="395.14" cy="1270" rx="4.49" ry="3.35" fill="#b2b2b2" filter="url(#b2)" transform="rotate(0 395.14 1270)"/>
<ellipse cx="394.02" cy="1257.14" rx="11.22" ry="2.8" fill="#737373" filter="url(#b2)" transform="rotate(0 394.02 1257.14)"/>
</g></g>
<g clip-path="url(#m62)"><g filter="url(#cm62)">
<rect x="462" y="1147.8" width="155.5" height="146" fill="#1a1a1a"/>
<path d="M480.83 1226.95 L511.13 1228.07 L533.58 1237.01" fill="none" stroke="#6b6b6b" stroke-width="10.1" stroke-linecap="round" stroke-linejoin="round" filter="url(#b3)"/>
<ellipse cx="540.31" cy="1244.84" rx="19.08" ry="14.54" fill="#808080" filter="url(#b3)" transform="rotate(0 540.31 1244.84)"/>
<path d="M526.84 1237.01 L553.78 1237.01 L544.8 1278.38 L526.84 1237.01" fill="none" stroke="#b8b8b8" stroke-width="6.73" stroke-linecap="round" stroke-linejoin="round" filter="url(#b3)"/>
<path d="M531.33 1238.13 L549.29 1239.25 L544.8 1261.61" fill="none" stroke="#cccccc" stroke-width="8.98" stroke-linecap="round" stroke-linejoin="round" filter="url(#b2)"/>
<path d="M542.56 1250.43 L545.36 1267.2 L546.48 1283.97" fill="none" stroke="#b8b8b8" stroke-width="10.1" stroke-linecap="round" stroke-linejoin="round" filter="url(#b2)"/>
<g filter="url(#b1)">
<path fill="#000" fill-opacity="0.24" d="M469.61 1211.3h5.61v5.75h-5.61zM486.44 1217.05h5.61v5.75h-5.61zM576.22 1217.05h5.61v5.75h-5.61zM514.5 1222.8h5.61v5.75h-5.61zM536.94 1222.8h5.61v5.75h-5.61zM587.44 1222.8h5.61v5.75h-5.61zM609.89 1222.8h5.61v5.75h-5.61zM486.44 1234.3h5.61v5.75h-5.61zM508.89 1234.3h5.61v5.75h-5.61zM598.67 1234.3h5.61v5.75h-5.61zM604.28 1234.3h5.61v5.75h-5.61zM525.72 1240.05h5.61v5.75h-5.61zM548.17 1240.05h5.61v5.75h-5.61zM553.78 1240.05h5.61v5.75h-5.61zM508.89 1245.8h5.61v5.75h-5.61zM604.28 1245.8h5.61v5.75h-5.61zM503.28 1251.55h5.61v5.75h-5.61zM553.78 1251.55h5.61v5.75h-5.61zM565 1251.55h5.61v5.75h-5.61zM598.67 1251.55h5.61v5.75h-5.61zM469.61 1257.3h5.61v5.75h-5.61zM548.17 1257.3h5.61v5.75h-5.61zM559.39 1257.3h5.61v5.75h-5.61zM604.28 1257.3h5.61v5.75h-5.61zM531.33 1263.05h5.61v5.75h-5.61zM536.94 1263.05h5.61v5.75h-5.61zM570.61 1263.05h5.61v5.75h-5.61zM593.06 1263.05h5.61v5.75h-5.61zM480.83 1268.8h5.61v5.75h-5.61zM520.11 1268.8h5.61v5.75h-5.61zM609.89 1274.55h5.61v5.75h-5.61zM469.61 1280.3h5.61v5.75h-5.61zM508.89 1280.3h5.61v5.75h-5.61zM548.17 1280.3h5.61v5.75h-5.61zM598.67 1286.05h5.61v5.75h-5.61z"/>
<path fill="#000" fill-opacity="0.17" d="M492.06 1211.3h5.61v5.75h-5.61zM503.28 1211.3h5.61v5.75h-5.61zM536.94 1211.3h5.61v5.75h-5.61zM548.17 1211.3h5.61v5.75h-5.61zM559.39 1211.3h5.61v5.75h-5.61zM525.72 1217.05h5.61v5.75h-5.61zM559.39 1217.05h5.61v5.75h-5.61zM593.06 1217.05h5.61v5.75h-5.61zM548.17 1222.8h5.61v5.75h-5.61zM508.89 1228.55h5.61v5.75h-5.61zM548.17 1228.55h5.61v5.75h-5.61zM469.61 1234.3h5.61v5.75h-5.61zM536.94 1234.3h5.61v5.75h-5.61zM480.83 1240.05h5.61v5.75h-5.61zM486.44 1240.05h5.61v5.75h-5.61zM492.06 1245.8h5.61v5.75h-5.61zM593.06 1245.8h5.61v5.75h-5.61zM609.89 1245.8h5.61v5.75h-5.61zM525.72 1251.55h5.61v5.75h-5.61zM531.33 1251.55h5.61v5.75h-5.61zM486.44 1263.05h5.61v5.75h-5.61zM497.67 1263.05h5.61v5.75h-5.61zM475.22 1268.8h5.61v5.75h-5.61zM486.44 1268.8h5.61v5.75h-5.61zM514.5 1274.55h5.61v5.75h-5.61zM492.06 1280.3h5.61v5.75h-5.61zM497.67 1280.3h5.61v5.75h-5.61zM581.83 1280.3h5.61v5.75h-5.61zM486.44 1286.05h5.61v5.75h-5.61zM525.72 1286.05h5.61v5.75h-5.61zM542.56 1286.05h5.61v5.75h-5.61zM548.17 1286.05h5.61v5.75h-5.61zM559.39 1286.05h5.61v5.75h-5.61z"/>
<path fill="#000" fill-opacity="0.3" d="M497.67 1211.3h5.61v5.75h-5.61zM514.5 1211.3h5.61v5.75h-5.61zM503.28 1217.05h5.61v5.75h-5.61zM520.11 1217.05h5.61v5.75h-5.61zM531.33 1217.05h5.61v5.75h-5.61zM570.61 1217.05h5.61v5.75h-5.61zM464 1222.8h5.61v5.75h-5.61zM492.06 1222.8h5.61v5.75h-5.61zM598.67 1222.8h5.61v5.75h-5.61zM520.11 1228.55h5.61v5.75h-5.61zM587.44 1228.55h5.61v5.75h-5.61zM503.28 1234.3h5.61v5.75h-5.61zM570.61 1234.3h5.61v5.75h-5.61zM581.83 1234.3h5.61v5.75h-5.61zM492.06 1240.05h5.61v5.75h-5.61zM604.28 1240.05h5.61v5.75h-5.61zM480.83 1245.8h5.61v5.75h-5.61zM542.56 1245.8h5.61v5.75h-5.61zM548.17 1245.8h5.61v5.75h-5.61zM492.06 1251.55h5.61v5.75h-5.61zM492.06 1257.3h5.61v5.75h-5.61zM492.06 1263.05h5.61v5.75h-5.61zM548.17 1263.05h5.61v5.75h-5.61zM581.83 1263.05h5.61v5.75h-5.61zM587.44 1263.05h5.61v5.75h-5.61zM565 1268.8h5.61v5.75h-5.61zM593.06 1268.8h5.61v5.75h-5.61zM609.89 1268.8h5.61v5.75h-5.61zM525.72 1274.55h5.61v5.75h-5.61zM542.56 1274.55h5.61v5.75h-5.61zM565 1274.55h5.61v5.75h-5.61zM570.61 1274.55h5.61v5.75h-5.61zM576.22 1274.55h5.61v5.75h-5.61zM587.44 1274.55h5.61v5.75h-5.61zM609.89 1280.3h5.61v5.75h-5.61zM520.11 1286.05h5.61v5.75h-5.61zM604.28 1286.05h5.61v5.75h-5.61z"/>
<path fill="#fff" fill-opacity="0.12" d="M553.78 1211.3h5.61v5.75h-5.61zM581.83 1211.3h5.61v5.75h-5.61zM480.83 1217.05h5.61v5.75h-5.61zM536.94 1217.05h5.61v5.75h-5.61zM565 1217.05h5.61v5.75h-5.61zM480.83 1222.8h5.61v5.75h-5.61zM525.72 1222.8h5.61v5.75h-5.61zM581.83 1222.8h5.61v5.75h-5.61zM480.83 1228.55h5.61v5.75h-5.61zM531.33 1228.55h5.61v5.75h-5.61zM576.22 1228.55h5.61v5.75h-5.61zM492.06 1234.3h5.61v5.75h-5.61zM497.67 1234.3h5.61v5.75h-5.61zM525.72 1234.3h5.61v5.75h-5.61zM565 1234.3h5.61v5.75h-5.61zM520.11 1240.05h5.61v5.75h-5.61zM464 1245.8h5.61v5.75h-5.61zM598.67 1245.8h5.61v5.75h-5.61zM464 1251.55h5.61v5.75h-5.61zM469.61 1251.55h5.61v5.75h-5.61zM514.5 1251.55h5.61v5.75h-5.61zM604.28 1251.55h5.61v5.75h-5.61zM514.5 1257.3h5.61v5.75h-5.61zM531.33 1257.3h5.61v5.75h-5.61zM553.78 1257.3h5.61v5.75h-5.61zM593.06 1257.3h5.61v5.75h-5.61zM480.83 1263.05h5.61v5.75h-5.61zM503.28 1263.05h5.61v5.75h-5.61zM525.72 1263.05h5.61v5.75h-5.61zM536.94 1268.8h5.61v5.75h-5.61zM553.78 1268.8h5.61v5.75h-5.61zM464 1274.55h5.61v5.75h-5.61zM486.44 1274.55h5.61v5.75h-5.61zM553.78 1274.55h5.61v5.75h-5.61zM593.06 1274.55h5.61v5.75h-5.61zM598.67 1274.55h5.61v5.75h-5.61zM475.22 1280.3h5.61v5.75h-5.61zM520.11 1280.3h5.61v5.75h-5.61zM531.33 1280.3h5.61v5.75h-5.61zM576.22 1280.3h5.61v5.75h-5.61zM536.94 1286.05h5.61v5.75h-5.61zM570.61 1286.05h5.61v5.75h-5.61zM576.22 1286.05h5.61v5.75h-5.61zM587.44 1286.05h5.61v5.75h-5.61z"/>
<path fill="#fff" fill-opacity="0.08" d="M570.61 1211.3h5.61v5.75h-5.61zM587.44 1211.3h5.61v5.75h-5.61zM609.89 1211.3h5.61v5.75h-5.61zM475.22 1217.05h5.61v5.75h-5.61zM514.5 1217.05h5.61v5.75h-5.61zM475.22 1222.8h5.61v5.75h-5.61zM604.28 1222.8h5.61v5.75h-5.61zM548.17 1234.3h5.61v5.75h-5.61zM576.22 1234.3h5.61v5.75h-5.61zM570.61 1240.05h5.61v5.75h-5.61zM587.44 1245.8h5.61v5.75h-5.61zM480.83 1251.55h5.61v5.75h-5.61zM497.67 1251.55h5.61v5.75h-5.61zM508.89 1251.55h5.61v5.75h-5.61zM520.11 1251.55h5.61v5.75h-5.61zM576.22 1251.55h5.61v5.75h-5.61zM581.83 1251.55h5.61v5.75h-5.61zM475.22 1257.3h5.61v5.75h-5.61zM525.72 1257.3h5.61v5.75h-5.61zM553.78 1263.05h5.61v5.75h-5.61zM565 1263.05h5.61v5.75h-5.61zM609.89 1263.05h5.61v5.75h-5.61zM492.06 1268.8h5.61v5.75h-5.61zM497.67 1268.8h5.61v5.75h-5.61zM525.72 1268.8h5.61v5.75h-5.61zM576.22 1268.8h5.61v5.75h-5.61zM497.67 1274.55h5.61v5.75h-5.61zM464 1280.3h5.61v5.75h-5.61zM486.44 1280.3h5.61v5.75h-5.61zM598.67 1280.3h5.61v5.75h-5.61zM464 1286.05h5.61v5.75h-5.61zM492.06 1286.05h5.61v5.75h-5.61zM514.5 1286.05h5.61v5.75h-5.61z"/>
<path fill="#fff" fill-opacity="0.15" d="M548.17 1217.05h5.61v5.75h-5.61zM581.83 1217.05h5.61v5.75h-5.61zM469.61 1222.8h5.61v5.75h-5.61zM508.89 1222.8h5.61v5.75h-5.61zM542.56 1222.8h5.61v5.75h-5.61zM570.61 1222.8h5.61v5.75h-5.61zM525.72 1228.55h5.61v5.75h-5.61zM553.78 1228.55h5.61v5.75h-5.61zM565 1228.55h5.61v5.75h-5.61zM593.06 1228.55h5.61v5.75h-5.61zM598.67 1228.55h5.61v5.75h-5.61zM464 1234.3h5.61v5.75h-5.61zM497.67 1240.05h5.61v5.75h-5.61zM531.33 1240.05h5.61v5.75h-5.61zM542.56 1240.05h5.61v5.75h-5.61zM576.22 1240.05h5.61v5.75h-5.61zM593.06 1240.05h5.61v5.75h-5.61zM609.89 1240.05h5.61v5.75h-5.61zM486.44 1245.8h5.61v5.75h-5.61zM497.67 1245.8h5.61v5.75h-5.61zM520.11 1245.8h5.61v5.75h-5.61zM565 1245.8h5.61v5.75h-5.61zM581.83 1245.8h5.61v5.75h-5.61zM548.17 1251.55h5.61v5.75h-5.61zM609.89 1251.55h5.61v5.75h-5.61zM520.11 1257.3h5.61v5.75h-5.61zM581.83 1257.3h5.61v5.75h-5.61zM609.89 1257.3h5.61v5.75h-5.61zM508.89 1263.05h5.61v5.75h-5.61zM576.22 1263.05h5.61v5.75h-5.61zM480.83 1274.55h5.61v5.75h-5.61zM492.06 1274.55h5.61v5.75h-5.61zM514.5 1280.3h5.61v5.75h-5.61zM587.44 1280.3h5.61v5.75h-5.61z"/>
</g>
<ellipse cx="529.09" cy="1236.45" rx="3.93" ry="3.35" fill="#e6e6e6" filter="url(#b2)" transform="rotate(0 529.09 1236.45)"/>
<ellipse cx="546.48" cy="1258.26" rx="3.37" ry="3.91" fill="#e6e6e6" filter="url(#b2)" transform="rotate(0 546.48 1258.26)"/>
<ellipse cx="546.48" cy="1270" rx="3.37" ry="3.91" fill="#e6e6e6" filter="url(#b2)" transform="rotate(0 546.48 1270)"/>
<ellipse cx="552.66" cy="1239.25" rx="3.93" ry="4.47" fill="#d9d9d9" filter="url(#b2)" transform="rotate(0 552.66 1239.25)"/>
<ellipse cx="511.13" cy="1228.07" rx="6.73" ry="3.35" fill="#8c8c8c" filter="url(#b2)" transform="rotate(0 511.13 1228.07)"/>
<ellipse cx="545.92" cy="1285.09" rx="4.49" ry="4.47" fill="#808080" filter="url(#b2)" transform="rotate(0 545.92 1285.09)"/>
</g></g>
<g clip-path="url(#m63)"><g filter="url(#cm63)">
<rect x="644.2" y="1147.8" width="155.5" height="146" fill="#242424"/>
<rect x="647.32" y="1225.83" width="122.32" height="64.96" fill="#383838" filter="url(#b4)"/>
<rect x="647.32" y="1228.07" width="94.27" height="20.13" fill="#6b6b6b" filter="url(#b4)"/>
<g filter="url(#b2)">
<path fill="#fff" fill-opacity="0.11" d="M646.2 1219.12h12.62v5.19h-12.62zM696.7 1219.12h12.62v5.19h-12.62zM721.95 1219.12h12.62v5.19h-12.62zM772.45 1219.12h12.62v5.19h-12.62zM684.07 1224.31h12.62v5.19h-12.62zM734.57 1224.31h12.62v5.19h-12.62zM646.2 1234.7h12.62v5.19h-12.62zM721.95 1234.7h12.62v5.19h-12.62zM785.07 1234.7h12.62v5.19h-12.62zM646.2 1239.89h12.62v5.19h-12.62zM671.45 1245.08h12.62v5.19h-12.62zM646.2 1250.27h12.62v5.19h-12.62zM721.95 1255.46h12.62v5.19h-12.62zM721.95 1260.65h12.62v5.19h-12.62zM684.07 1265.84h12.62v5.19h-12.62zM734.57 1271.04h12.62v5.19h-12.62zM785.07 1271.04h12.62v5.19h-12.62zM772.45 1276.23h12.62v5.19h-12.62zM785.07 1281.42h12.62v5.19h-12.62zM759.82 1286.61h12.62v5.19h-12.62zM785.07 1286.61h12.62v5.19h-12.62z"/>
<path fill="#000" fill-opacity="0.19" d="M658.82 1219.12h12.62v5.19h-12.62zM658.82 1229.51h12.62v5.19h-12.62zM709.32 1234.7h12.62v5.19h-12.62zM658.82 1239.89h12.62v5.19h-12.62zM772.45 1239.89h12.62v5.19h-12.62zM684.07 1245.08h12.62v5.19h-12.62zM721.95 1245.08h12.62v5.19h-12.62zM734.57 1250.27h12.62v5.19h-12.62zM747.2 1250.27h12.62v5.19h-12.62zM759.82 1250.27h12.62v5.19h-12.62zM785.07 1250.27h12.62v5.19h-12.62zM684.07 1255.46h12.62v5.19h-12.62zM658.82 1260.65h12.62v5.19h-12.62zM671.45 1260.65h12.62v5.19h-12.62zM759.82 1260.65h12.62v5.19h-12.62zM671.45 1265.84h12.62v5.19h-12.62zM709.32 1265.84h12.62v5.19h-12.62zM671.45 1271.04h12.62v5.19h-12.62zM684.07 1271.04h12.62v5.19h-12.62zM696.7 1271.04h12.62v5.19h-12.62zM747.2 1271.04h12.62v5.19h-12.62zM658.82 1276.23h12.62v5.19h-12.62zM671.45 1286.61h12.62v5.19h-12.62zM772.45 1286.61h12.62v5.19h-12.62z"/>
<path fill="#000" fill-opacity="0.35" d="M684.07 1219.12h12.62v5.19h-12.62zM747.2 1219.12h12.62v5.19h-12.62zM734.57 1229.51h12.62v5.19h-12.62zM759.82 1229.51h12.62v5.19h-12.62zM696.7 1234.7h12.62v5.19h-12.62zM684.07 1260.65h12.62v5.19h-12.62zM696.7 1265.84h12.62v5.19h-12.62zM759.82 1265.84h12.62v5.19h-12.62zM721.95 1276.23h12.62v5.19h-12.62zM747.2 1276.23h12.62v5.19h-12.62zM747.2 1281.42h12.62v5.19h-12.62z"/>
<path fill="#fff" fill-opacity="0.2" d="M709.32 1219.12h12.62v5.19h-12.62zM734.57 1219.12h12.62v5.19h-12.62zM759.82 1224.31h12.62v5.19h-12.62zM658.82 1234.7h12.62v5.19h-12.62zM772.45 1234.7h12.62v5.19h-12.62zM747.2 1239.89h12.62v5.19h-12.62zM658.82 1245.08h12.62v5.19h-12.62zM696.7 1245.08h12.62v5.19h-12.62zM709.32 1245.08h12.62v5.19h-12.62zM696.7 1255.46h12.62v5.19h-12.62zM646.2 1281.42h12.62v5.19h-12.62zM709.32 1281.42h12.62v5.19h-12.62zM734.57 1281.42h12.62v5.19h-12.62z"/>
<path fill="#000" fill-opacity="0.28" d="M785.07 1219.12h12.62v5.19h-12.62zM721.95 1224.31h12.62v5.19h-12.62zM747.2 1224.31h12.62v5.19h-12.62zM747.2 1229.51h12.62v5.19h-12.62zM785.07 1229.51h12.62v5.19h-12.62zM734.57 1234.7h12.62v5.19h-12.62zM709.32 1239.89h12.62v5.19h-12.62zM734.57 1239.89h12.62v5.19h-12.62zM734.57 1245.08h12.62v5.19h-12.62zM785.07 1245.08h12.62v5.19h-12.62zM658.82 1250.27h12.62v5.19h-12.62zM709.32 1250.27h12.62v5.19h-12.62zM709.32 1255.46h12.62v5.19h-12.62zM772.45 1260.65h12.62v5.19h-12.62zM747.2 1265.84h12.62v5.19h-12.62zM658.82 1286.61h12.62v5.19h-12.62zM721.95 1286.61h12.62v5.19h-12.62z"/>
<path fill="#fff" fill-opacity="0.16" d="M646.2 1229.51h12.62v5.19h-12.62zM696.7 1239.89h12.62v5.19h-12.62zM785.07 1239.89h12.62v5.19h-12.62zM696.7 1250.27h12.62v5.19h-12.62zM772.45 1250.27h12.62v5.19h-12.62zM671.45 1255.46h12.62v5.19h-12.62zM759.82 1255.46h12.62v5.19h-12.62zM785.07 1255.46h12.62v5.19h-12.62zM734.57 1265.84h12.62v5.19h-12.62zM709.32 1271.04h12.62v5.19h-12.62zM696.7 1276.23h12.62v5.19h-12.62zM684.07 1286.61h12.62v5.19h-12.62z"/>
</g>
<ellipse cx="666.4" cy="1232.54" rx="8.98" ry="2.8" fill="#c7c7c7" filter="url(#b2)" transform="rotate(0 666.4 1232.54)"/>
<ellipse cx="691.09" cy="1231.98" rx="8.98" ry="2.8" fill="#bfbfbf" filter="url(#b2)" transform="rotate(0 691.09 1231.98)"/>
<ellipse cx="713.53" cy="1228.07" rx="12.34" ry="2.46" fill="#d1d1d1" filter="url(#b2)" transform="rotate(0 713.53 1228.07)"/>
<ellipse cx="723.63" cy="1228.07" rx="5.61" ry="2.46" fill="#e0e0e0" filter="url(#b2)" transform="rotate(0 723.63 1228.07)"/>
<ellipse cx="704.56" cy="1239.25" rx="8.98" ry="2.46" fill="#d9d9d9" filter="url(#b2)" transform="rotate(0 704.56 1239.25)"/>
<ellipse cx="729.24" cy="1235.89" rx="7.86" ry="2.46" fill="#cccccc" filter="url(#b2)" transform="rotate(0 729.24 1235.89)"/>
<ellipse cx="656.3" cy="1245.96" rx="8.98" ry="2.8" fill="#999999" filter="url(#b2)" transform="rotate(0 656.3 1245.96)"/>
<ellipse cx="677.62" cy="1239.25" rx="8.98" ry="2.8" fill="#a6a6a6" filter="url(#b2)" transform="rotate(0 677.62 1239.25)"/>
<ellipse cx="673.13" cy="1254.9" rx="3.37" ry="4.47" fill="#808080" filter="url(#b2)" transform="rotate(0 673.13 1254.9)"/>
<ellipse cx="704.56" cy="1253.78" rx="6.73" ry="2.8" fill="#737373" filter="url(#b2)" transform="rotate(0 704.56 1253.78)"/>
<ellipse cx="723.63" cy="1254.34" rx="6.73" ry="2.8" fill="#808080" filter="url(#b2)" transform="rotate(0 723.63 1254.34)"/>
<ellipse cx="691.09" cy="1235.89" rx="4.49" ry="2.8" fill="#404040" filter="url(#b2)" transform="rotate(0 691.09 1235.89)"/>
</g></g>
<g clip-path="url(#m64)"><g filter="url(#cm64)">
<rect x="826.4" y="1147.8" width="155.5" height="146" fill="#1a1a1a"/>
<rect x="895.73" y="1250.43" width="47.13" height="38.02" fill="#383838" filter="url(#b4)"/>
<ellipse cx="906.96" cy="1244.84" rx="33.67" ry="16.77" fill="#595959" filter="url(#b4)" transform="rotate(10 906.96 1244.84)"/>
<path d="M832.89 1224.71 L862.07 1228.63 L895.73 1235.89 L929.4 1241.49" fill="none" stroke="#737373" stroke-width="12.34" stroke-linecap="round" stroke-linejoin="round" filter="url(#b3)"/>
<g filter="url(#b1)">
<path fill="#fff" fill-opacity="0.15" d="M828.4 1216.89h5.61v5.35h-5.61zM918.18 1222.24h5.61v5.35h-5.61zM951.84 1222.24h5.61v5.35h-5.61zM918.18 1227.59h5.61v5.35h-5.61zM845.23 1232.94h5.61v5.35h-5.61zM901.34 1232.94h5.61v5.35h-5.61zM940.62 1232.94h5.61v5.35h-5.61zM850.84 1243.64h5.61v5.35h-5.61zM862.07 1243.64h5.61v5.35h-5.61zM884.51 1243.64h5.61v5.35h-5.61zM935.01 1243.64h5.61v5.35h-5.61zM963.07 1243.64h5.61v5.35h-5.61zM845.23 1254.34h5.61v5.35h-5.61zM867.68 1254.34h5.61v5.35h-5.61zM873.29 1254.34h5.61v5.35h-5.61zM906.96 1254.34h5.61v5.35h-5.61zM946.23 1254.34h5.61v5.35h-5.61zM856.46 1259.69h5.61v5.35h-5.61zM828.4 1265.05h5.61v5.35h-5.61zM856.46 1270.4h5.61v5.35h-5.61zM884.51 1270.4h5.61v5.35h-5.61zM856.46 1281.1h5.61v5.35h-5.61zM850.84 1286.45h5.61v5.35h-5.61z"/>
<path fill="#000" fill-opacity="0.24" d="M834.01 1216.89h5.61v5.35h-5.61zM845.23 1216.89h5.61v5.35h-5.61zM873.29 1216.89h5.61v5.35h-5.61zM963.07 1216.89h5.61v5.35h-5.61zM845.23 1222.24h5.61v5.35h-5.61zM895.73 1222.24h5.61v5.35h-5.61zM946.23 1222.24h5.61v5.35h-5.61zM968.68 1222.24h5.61v5.35h-5.61zM845.23 1227.59h5.61v5.35h-5.61zM895.73 1227.59h5.61v5.35h-5.61zM901.34 1227.59h5.61v5.35h-5.61zM912.57 1232.94h5.61v5.35h-5.61zM845.23 1238.29h5.61v5.35h-5.61zM912.57 1238.29h5.61v5.35h-5.61zM923.79 1238.29h5.61v5.35h-5.61zM839.62 1243.64h5.61v5.35h-5.61zM901.34 1243.64h5.61v5.35h-5.61zM895.73 1248.99h5.61v5.35h-5.61zM884.51 1254.34h5.61v5.35h-5.61zM834.01 1259.69h5.61v5.35h-5.61zM845.23 1259.69h5.61v5.35h-5.61zM912.57 1259.69h5.61v5.35h-5.61zM906.96 1265.05h5.61v5.35h-5.61zM828.4 1270.4h5.61v5.35h-5.61zM850.84 1270.4h5.61v5.35h-5.61zM862.07 1270.4h5.61v5.35h-5.61zM951.84 1270.4h5.61v5.35h-5.61zM834.01 1275.75h5.61v5.35h-5.61zM856.46 1275.75h5.61v5.35h-5.61zM850.84 1281.1h5.61v5.35h-5.61zM878.9 1281.1h5.61v5.35h-5.61zM912.57 1281.1h5.61v5.35h-5.61zM918.18 1281.1h5.61v5.35h-5.61zM839.62 1286.45h5.61v5.35h-5.61zM867.68 1286.45h5.61v5.35h-5.61zM935.01 1286.45h5.61v5.35h-5.61z"/>
<path fill="#fff" fill-opacity="0.12" d="M856.46 1216.89h5.61v5.35h-5.61zM895.73 1216.89h5.61v5.35h-5.61zM901.34 1216.89h5.61v5.35h-5.61zM912.57 1222.24h5.61v5.35h-5.61zM906.96 1227.59h5.61v5.35h-5.61zM946.23 1227.59h5.61v5.35h-5.61zM974.29 1227.59h5.61v5.35h-5.61zM862.07 1232.94h5.61v5.35h-5.61zM867.68 1238.29h5.61v5.35h-5.61zM878.9 1238.29h5.61v5.35h-5.61zM895.73 1238.29h5.61v5.35h-5.61zM901.34 1238.29h5.61v5.35h-5.61zM968.68 1238.29h5.61v5.35h-5.61zM946.23 1243.64h5.61v5.35h-5.61zM912.57 1248.99h5.61v5.35h-5.61zM957.46 1248.99h5.61v5.35h-5.61zM834.01 1254.34h5.61v5.35h-5.61zM856.46 1254.34h5.61v5.35h-5.61zM923.79 1254.34h5.61v5.35h-5.61zM890.12 1265.05h5.61v5.35h-5.61zM940.62 1265.05h5.61v5.35h-5.61zM957.46 1265.05h5.61v5.35h-5.61zM929.4 1270.4h5.61v5.35h-5.61zM963.07 1270.4h5.61v5.35h-5.61zM850.84 1275.75h5.61v5.35h-5.61zM901.34 1275.75h5.61v5.35h-5.61zM929.4 1275.75h5.61v5.35h-5.61zM963.07 1275.75h5.61v5.35h-5.61zM884.51 1281.1h5.61v5.35h-5.61zM895.73 1286.45h5.61v5.35h-5.61zM968.68 1286.45h5.61v5.35h-5.61z"/>
<path fill="#000" fill-opacity="0.3" d="M867.68 1216.89h5.61v5.35h-5.61zM946.23 1216.89h5.61v5.35h-5.61zM968.68 1216.89h5.61v5.35h-5.61zM862.07 1222.24h5.61v5.35h-5.61zM878.9 1222.24h5.61v5.35h-5.61zM890.12 1222.24h5.61v5.35h-5.61zM906.96 1222.24h5.61v5.35h-5.61zM834.01 1227.59h5.61v5.35h-5.61zM923.79 1227.59h5.61v5.35h-5.61zM929.4 1227.59h5.61v5.35h-5.61zM946.23 1232.94h5.61v5.35h-5.61zM828.4 1243.64h5.61v5.35h-5.61zM974.29 1243.64h5.61v5.35h-5.61zM923.79 1248.99h5.61v5.35h-5.61zM963.07 1248.99h5.61v5.35h-5.61zM878.9 1254.34h5.61v5.35h-5.61zM890.12 1254.34h5.61v5.35h-5.61zM884.51 1259.69h5.61v5.35h-5.61zM901.34 1259.69h5.61v5.35h-5.61zM935.01 1259.69h5.61v5.35h-5.61zM968.68 1265.05h5.61v5.35h-5.61zM974.29 1265.05h5.61v5.35h-5.61zM918.18 1270.4h5.61v5.35h-5.61zM828.4 1275.75h5.61v5.35h-5.61zM878.9 1275.75h5.61v5.35h-5.61zM918.18 1275.75h5.61v5.35h-5.61zM946.23 1275.75h5.61v5.35h-5.61zM957.46 1275.75h5.61v5.35h-5.61zM867.68 1281.1h5.61v5.35h-5.61zM890.12 1281.1h5.61v5.35h-5.61zM901.34 1281.1h5.61v5.35h-5.61zM935.01 1281.1h5.61v5.35h-5.61zM918.18 1286.45h5.61v5.35h-5.61zM940.62 1286.45h5.61v5.35h-5.61z"/>
<path fill="#000" fill-opacity="0.17" d="M884.51 1216.89h5.61v5.35h-5.61zM929.4 1216.89h5.61v5.35h-5.61zM839.62 1222.24h5.61v5.35h-5.61zM873.29 1227.59h5.61v5.35h-5.61zM878.9 1227.59h5.61v5.35h-5.61zM935.01 1227.59h5.61v5.35h-5.61zM951.84 1227.59h5.61v5.35h-5.61zM873.29 1232.94h5.61v5.35h-5.61zM951.84 1232.94h5.61v5.35h-5.61zM834.01 1238.29h5.61v5.35h-5.61zM906.96 1238.29h5.61v5.35h-5.61zM929.4 1238.29h5.61v5.35h-5.61zM951.84 1238.29h5.61v5.35h-5.61zM974.29 1238.29h5.61v5.35h-5.61zM940.62 1243.64h5.61v5.35h-5.61zM834.01 1248.99h5.61v5.35h-5.61zM839.62 1248.99h5.61v5.35h-5.61zM929.4 1248.99h5.61v5.35h-5.61zM828.4 1254.34h5.61v5.35h-5.61zM912.57 1254.34h5.61v5.35h-5.61zM957.46 1254.34h5.61v5.35h-5.61zM918.18 1259.69h5.61v5.35h-5.61zM963.07 1259.69h5.61v5.35h-5.61zM834.01 1265.05h5.61v5.35h-5.61zM845.23 1265.05h5.61v5.35h-5.61zM884.51 1265.05h5.61v5.35h-5.61zM912.57 1265.05h5.61v5.35h-5.61zM845.23 1270.4h5.61v5.35h-5.61zM867.68 1270.4h5.61v5.35h-5.61zM895.73 1270.4h5.61v5.35h-5.61zM935.01 1270.4h5.61v5.35h-5.61zM957.46 1270.4h5.61v5.35h-5.61zM968.68 1270.4h5.61v5.35h-5.61zM839.62 1275.75h5.61v5.35h-5.61zM845.23 1275.75h5.61v5.35h-5.61zM946.23 1281.1h5.61v5.35h-5.61zM834.01 1286.45h5.61v5.35h-5.61zM862.07 1286.45h5.61v5.35h-5.61zM929.4 1286.45h5.61v5.35h-5.61zM946.23 1286.45h5.61v5.35h-5.61zM974.29 1286.45h5.61v5.35h-5.61z"/>
<path fill="#fff" fill-opacity="0.08" d="M834.01 1222.24h5.61v5.35h-5.61zM901.34 1222.24h5.61v5.35h-5.61zM929.4 1222.24h5.61v5.35h-5.61zM935.01 1222.24h5.61v5.35h-5.61zM940.62 1222.24h5.61v5.35h-5.61zM974.29 1222.24h5.61v5.35h-5.61zM828.4 1227.59h5.61v5.35h-5.61zM867.68 1227.59h5.61v5.35h-5.61zM890.12 1227.59h5.61v5.35h-5.61zM957.46 1227.59h5.61v5.35h-5.61zM828.4 1232.94h5.61v5.35h-5.61zM850.84 1232.94h5.61v5.35h-5.61zM856.46 1232.94h5.61v5.35h-5.61zM884.51 1232.94h5.61v5.35h-5.61zM890.12 1232.94h5.61v5.35h-5.61zM974.29 1232.94h5.61v5.35h-5.61zM935.01 1238.29h5.61v5.35h-5.61zM951.84 1243.64h5.61v5.35h-5.61zM968.68 1243.64h5.61v5.35h-5.61zM828.4 1248.99h5.61v5.35h-5.61zM873.29 1248.99h5.61v5.35h-5.61zM940.62 1248.99h5.61v5.35h-5.61zM946.23 1248.99h5.61v5.35h-5.61zM839.62 1254.34h5.61v5.35h-5.61zM862.07 1254.34h5.61v5.35h-5.61zM968.68 1254.34h5.61v5.35h-5.61zM923.79 1259.69h5.61v5.35h-5.61zM929.4 1259.69h5.61v5.35h-5.61zM906.96 1270.4h5.61v5.35h-5.61zM862.07 1275.75h5.61v5.35h-5.61zM968.68 1275.75h5.61v5.35h-5.61zM974.29 1281.1h5.61v5.35h-5.61zM957.46 1286.45h5.61v5.35h-5.61z"/>
</g>
<ellipse cx="897.98" cy="1235.89" rx="22.44" ry="5.03" fill="#9e9e9e" filter="url(#b3)" transform="rotate(5 897.98 1235.89)"/>
<ellipse cx="917.06" cy="1239.25" rx="4.49" ry="3.35" fill="#e0e0e0" filter="url(#b2)" transform="rotate(0 917.06 1239.25)"/>
<ellipse cx="840.74" cy="1224.71" rx="4.49" ry="3.35" fill="#808080" filter="url(#b2)" transform="rotate(0 840.74 1224.71)"/>
<ellipse cx="860.94" cy="1229.19" rx="6.73" ry="3.35" fill="#8c8c8c" filter="url(#b2)" transform="rotate(0 860.94 1229.19)"/>
<ellipse cx="929.4" cy="1250.43" rx="14.59" ry="11.18" fill="#6b6b6b" filter="url(#b3)" transform="rotate(0 929.4 1250.43)"/>
<ellipse cx="940.62" cy="1258.26" rx="4.49" ry="4.47" fill="#9e9e9e" filter="url(#b2)" transform="rotate(0 940.62 1258.26)"/>
<ellipse cx="917.06" cy="1267.2" rx="6.73" ry="4.47" fill="#6b6b6b" filter="url(#b3)" transform="rotate(0 917.06 1267.2)"/>
</g></g>
<g clip-path="url(#m65)"><g filter="url(#cm65)">
<rect x="1008.6" y="1147.8" width="155.5" height="146" fill="#1a1a1a"/>
<ellipse cx="1077.93" cy="1248.19" rx="47.13" ry="26.83" fill="#595959" filter="url(#b4)" transform="rotate(0 1077.93 1248.19)"/>
<ellipse cx="1061.1" cy="1233.1" rx="29.18" ry="7.83" fill="#a6a6a6" filter="url(#b3)" transform="rotate(0 1061.1 1233.1)"/>
<g filter="url(#b1)">
<path fill="#fff" fill-opacity="0.12" d="M1033.04 1214.65h5.61v5.14h-5.61zM1044.27 1214.65h5.61v5.14h-5.61zM1077.93 1214.65h5.61v5.14h-5.61zM1145.27 1214.65h5.61v5.14h-5.61zM1021.82 1219.79h5.61v5.14h-5.61zM1134.04 1219.79h5.61v5.14h-5.61zM1145.27 1219.79h5.61v5.14h-5.61zM1139.66 1224.94h5.61v5.14h-5.61zM1117.21 1230.08h5.61v5.14h-5.61zM1100.38 1245.51h5.61v5.14h-5.61zM1010.6 1250.65h5.61v5.14h-5.61zM1021.82 1250.65h5.61v5.14h-5.61zM1044.27 1250.65h5.61v5.14h-5.61zM1100.38 1250.65h5.61v5.14h-5.61zM1105.99 1250.65h5.61v5.14h-5.61zM1122.82 1250.65h5.61v5.14h-5.61zM1033.04 1255.8h5.61v5.14h-5.61zM1061.1 1255.8h5.61v5.14h-5.61zM1072.32 1255.8h5.61v5.14h-5.61zM1077.93 1255.8h5.61v5.14h-5.61zM1128.43 1255.8h5.61v5.14h-5.61zM1033.04 1260.94h5.61v5.14h-5.61zM1094.77 1260.94h5.61v5.14h-5.61zM1134.04 1260.94h5.61v5.14h-5.61zM1072.32 1266.08h5.61v5.14h-5.61zM1016.21 1276.37h5.61v5.14h-5.61zM1077.93 1281.51h5.61v5.14h-5.61zM1145.27 1281.51h5.61v5.14h-5.61zM1094.77 1286.66h5.61v5.14h-5.61z"/>
<path fill="#000" fill-opacity="0.17" d="M1049.88 1214.65h5.61v5.14h-5.61zM1105.99 1214.65h5.61v5.14h-5.61zM1156.49 1214.65h5.61v5.14h-5.61zM1150.88 1219.79h5.61v5.14h-5.61zM1049.88 1224.94h5.61v5.14h-5.61zM1089.16 1224.94h5.61v5.14h-5.61zM1021.82 1230.08h5.61v5.14h-5.61zM1033.04 1230.08h5.61v5.14h-5.61zM1105.99 1230.08h5.61v5.14h-5.61zM1156.49 1230.08h5.61v5.14h-5.61zM1010.6 1235.22h5.61v5.14h-5.61zM1016.21 1235.22h5.61v5.14h-5.61zM1038.66 1235.22h5.61v5.14h-5.61zM1049.88 1240.37h5.61v5.14h-5.61zM1077.93 1245.51h5.61v5.14h-5.61zM1117.21 1245.51h5.61v5.14h-5.61zM1134.04 1245.51h5.61v5.14h-5.61zM1049.88 1250.65h5.61v5.14h-5.61zM1117.21 1250.65h5.61v5.14h-5.61zM1016.21 1260.94h5.61v5.14h-5.61zM1066.71 1260.94h5.61v5.14h-5.61zM1111.6 1260.94h5.61v5.14h-5.61zM1134.04 1266.08h5.61v5.14h-5.61zM1016.21 1271.23h5.61v5.14h-5.61zM1033.04 1271.23h5.61v5.14h-5.61zM1038.66 1271.23h5.61v5.14h-5.61zM1139.66 1271.23h5.61v5.14h-5.61zM1117.21 1276.37h5.61v5.14h-5.61zM1128.43 1276.37h5.61v5.14h-5.61zM1134.04 1276.37h5.61v5.14h-5.61zM1089.16 1281.51h5.61v5.14h-5.61zM1156.49 1281.51h5.61v5.14h-5.61zM1038.66 1286.66h5.61v5.14h-5.61zM1072.32 1286.66h5.61v5.14h-5.61zM1139.66 1286.66h5.61v5.14h-5.61z"/>
<path fill="#000" fill-opacity="0.24" d="M1055.49 1214.65h5.61v5.14h-5.61zM1083.54 1214.65h5.61v5.14h-5.61zM1134.04 1214.65h5.61v5.14h-5.61zM1010.6 1219.79h5.61v5.14h-5.61zM1049.88 1219.79h5.61v5.14h-5.61zM1010.6 1224.94h5.61v5.14h-5.61zM1055.49 1224.94h5.61v5.14h-5.61zM1077.93 1224.94h5.61v5.14h-5.61zM1094.77 1224.94h5.61v5.14h-5.61zM1150.88 1224.94h5.61v5.14h-5.61zM1049.88 1230.08h5.61v5.14h-5.61zM1055.49 1230.08h5.61v5.14h-5.61zM1111.6 1230.08h5.61v5.14h-5.61zM1066.71 1235.22h5.61v5.14h-5.61zM1083.54 1235.22h5.61v5.14h-5.61zM1122.82 1235.22h5.61v5.14h-5.61zM1117.21 1240.37h5.61v5.14h-5.61zM1010.6 1245.51h5.61v5.14h-5.61zM1027.43 1245.51h5.61v5.14h-5.61zM1111.6 1245.51h5.61v5.14h-5.61zM1111.6 1250.65h5.61v5.14h-5.61zM1089.16 1255.8h5.61v5.14h-5.61zM1105.99 1255.8h5.61v5.14h-5.61zM1111.6 1255.8h5.61v5.14h-5.61zM1122.82 1255.8h5.61v5.14h-5.61zM1021.82 1260.94h5.61v5.14h-5.61zM1128.43 1260.94h5.61v5.14h-5.61zM1016.21 1266.08h5.61v5.14h-5.61zM1044.27 1266.08h5.61v5.14h-5.61zM1044.27 1271.23h5.61v5.14h-5.61zM1128.43 1271.23h5.61v5.14h-5.61zM1156.49 1271.23h5.61v5.14h-5.61zM1038.66 1276.37h5.61v5.14h-5.61zM1061.1 1276.37h5.61v5.14h-5.61zM1089.16 1276.37h5.61v5.14h-5.61zM1033.04 1281.51h5.61v5.14h-5.61zM1083.54 1281.51h5.61v5.14h-5.61zM1111.6 1281.51h5.61v5.14h-5.61zM1083.54 1286.66h5.61v5.14h-5.61z"/>
<path fill="#fff" fill-opacity="0.15" d="M1066.71 1214.65h5.61v5.14h-5.61zM1100.38 1214.65h5.61v5.14h-5.61zM1139.66 1214.65h5.61v5.14h-5.61zM1083.54 1219.79h5.61v5.14h-5.61zM1156.49 1219.79h5.61v5.14h-5.61zM1044.27 1224.94h5.61v5.14h-5.61zM1122.82 1224.94h5.61v5.14h-5.61zM1100.38 1235.22h5.61v5.14h-5.61zM1010.6 1240.37h5.61v5.14h-5.61zM1128.43 1240.37h5.61v5.14h-5.61zM1134.04 1240.37h5.61v5.14h-5.61zM1021.82 1245.51h5.61v5.14h-5.61zM1139.66 1245.51h5.61v5.14h-5.61zM1038.66 1250.65h5.61v5.14h-5.61zM1038.66 1255.8h5.61v5.14h-5.61zM1117.21 1255.8h5.61v5.14h-5.61zM1105.99 1260.94h5.61v5.14h-5.61zM1117.21 1260.94h5.61v5.14h-5.61zM1055.49 1266.08h5.61v5.14h-5.61zM1089.16 1266.08h5.61v5.14h-5.61zM1100.38 1271.23h5.61v5.14h-5.61zM1027.43 1276.37h5.61v5.14h-5.61zM1010.6 1281.51h5.61v5.14h-5.61zM1122.82 1281.51h5.61v5.14h-5.61zM1010.6 1286.66h5.61v5.14h-5.61zM1150.88 1286.66h5.61v5.14h-5.61z"/>
<path fill="#fff" fill-opacity="0.08" d="M1111.6 1214.65h5.61v5.14h-5.61zM1128.43 1214.65h5.61v5.14h-5.61zM1066.71 1219.79h5.61v5.14h-5.61zM1033.04 1224.94h5.61v5.14h-5.61zM1072.32 1224.94h5.61v5.14h-5.61zM1100.38 1224.94h5.61v5.14h-5.61zM1072.32 1230.08h5.61v5.14h-5.61zM1128.43 1230.08h5.61v5.14h-5.61zM1072.32 1235.22h5.61v5.14h-5.61zM1134.04 1235.22h5.61v5.14h-5.61zM1083.54 1240.37h5.61v5.14h-5.61zM1145.27 1245.51h5.61v5.14h-5.61zM1150.88 1245.51h5.61v5.14h-5.61zM1010.6 1255.8h5.61v5.14h-5.61zM1016.21 1255.8h5.61v5.14h-5.61zM1134.04 1255.8h5.61v5.14h-5.61zM1027.43 1260.94h5.61v5.14h-5.61zM1049.88 1266.08h5.61v5.14h-5.61zM1066.71 1266.08h5.61v5.14h-5.61zM1117.21 1266.08h5.61v5.14h-5.61zM1139.66 1266.08h5.61v5.14h-5.61zM1117.21 1271.23h5.61v5.14h-5.61zM1066.71 1276.37h5.61v5.14h-5.61zM1105.99 1276.37h5.61v5.14h-5.61zM1156.49 1276.37h5.61v5.14h-5.61zM1021.82 1286.66h5.61v5.14h-5.61zM1049.88 1286.66h5.61v5.14h-5.61zM1145.27 1286.66h5.61v5.14h-5.61z"/>
<path fill="#000" fill-opacity="0.3" d="M1061.1 1219.79h5.61v5.14h-5.61zM1072.32 1219.79h5.61v5.14h-5.61zM1089.16 1219.79h5.61v5.14h-5.61zM1117.21 1219.79h5.61v5.14h-5.61zM1128.43 1219.79h5.61v5.14h-5.61zM1117.21 1224.94h5.61v5.14h-5.61zM1128.43 1224.94h5.61v5.14h-5.61zM1134.04 1224.94h5.61v5.14h-5.61zM1027.43 1230.08h5.61v5.14h-5.61zM1089.16 1230.08h5.61v5.14h-5.61zM1134.04 1230.08h5.61v5.14h-5.61zM1044.27 1235.22h5.61v5.14h-5.61zM1061.1 1235.22h5.61v5.14h-5.61zM1021.82 1240.37h5.61v5.14h-5.61zM1105.99 1240.37h5.61v5.14h-5.61zM1122.82 1240.37h5.61v5.14h-5.61zM1027.43 1250.65h5.61v5.14h-5.61zM1055.49 1250.65h5.61v5.14h-5.61zM1072.32 1250.65h5.61v5.14h-5.61zM1077.93 1250.65h5.61v5.14h-5.61zM1139.66 1250.65h5.61v5.14h-5.61zM1150.88 1250.65h5.61v5.14h-5.61zM1027.43 1255.8h5.61v5.14h-5.61zM1044.27 1255.8h5.61v5.14h-5.61zM1066.71 1255.8h5.61v5.14h-5.61zM1156.49 1255.8h5.61v5.14h-5.61zM1100.38 1260.94h5.61v5.14h-5.61zM1139.66 1260.94h5.61v5.14h-5.61zM1145.27 1260.94h5.61v5.14h-5.61zM1094.77 1266.08h5.61v5.14h-5.61zM1100.38 1266.08h5.61v5.14h-5.61zM1021.82 1271.23h5.61v5.14h-5.61zM1033.04 1276.37h5.61v5.14h-5.61zM1072.32 1276.37h5.61v5.14h-5.61zM1077.93 1276.37h5.61v5.14h-5.61zM1083.54 1276.37h5.61v5.14h-5.61zM1016.21 1281.51h5.61v5.14h-5.61zM1072.32 1281.51h5.61v5.14h-5.61zM1156.49 1286.66h5.61v5.14h-5.61z"/>
</g>
<ellipse cx="1057.73" cy="1226.95" rx="6.73" ry="3.35" fill="#bfbfbf" filter="url(#b2)" transform="rotate(0 1057.73 1226.95)"/>
<ellipse cx="1073.44" cy="1232.54" rx="7.86" ry="3.91" fill="#d9d9d9" filter="url(#b2)" transform="rotate(10 1073.44 1232.54)"/>
<ellipse cx="1058.86" cy="1236.45" rx="5.61" ry="2.8" fill="#cccccc" filter="url(#b2)" transform="rotate(0 1058.86 1236.45)"/>
<path d="M1066.71 1239.81 L1113.84 1239.81" fill="none" stroke="#a6a6a6" stroke-width="2.81" stroke-linecap="round" stroke-linejoin="round" filter="url(#b1)"/>
<ellipse cx="1058.86" cy="1247.08" rx="3.37" ry="3.35" fill="#b2b2b2" filter="url(#b2)" transform="rotate(0 1058.86 1247.08)"/>
<ellipse cx="1097.01" cy="1261.61" rx="4.49" ry="3.35" fill="#999999" filter="url(#b2)" transform="rotate(0 1097.01 1261.61)"/>
<ellipse cx="1086.91" cy="1268.32" rx="7.86" ry="3.35" fill="#adadad" filter="url(#b2)" transform="rotate(0 1086.91 1268.32)"/>
<ellipse cx="1089.16" cy="1280.62" rx="3.37" ry="2.8" fill="#808080" filter="url(#b2)" transform="rotate(0 1089.16 1280.62)"/>
</g></g>
<path d="M175.29 338.71 L172.75 346.52 L164.54 346.52 L171.18 351.34 L168.65 359.15 L175.29 354.32 L181.93 359.15 L179.39 351.34 L186.04 346.52 L177.83 346.52 Z" fill="#000" stroke="#fff" stroke-width="1.4" stroke-linejoin="round"/>
<path d="M175.29 531.87 L172.75 539.68 L164.54 539.68 L171.18 544.51 L168.65 552.32 L175.29 547.49 L181.93 552.32 L179.39 544.51 L186.04 539.68 L177.83 539.68 Z" fill="#000" stroke="#fff" stroke-width="1.4" stroke-linejoin="round"/>
<path d="M375.46 531.87 L372.93 539.68 L364.72 539.68 L371.36 544.51 L368.82 552.32 L375.46 547.49 L382.11 552.32 L379.57 544.51 L386.21 539.68 L378 539.68 Z" fill="#000" stroke="#fff" stroke-width="1.4" stroke-linejoin="round"/>
<path d="M175.29 683.29 L172.75 691.1 L164.54 691.1 L171.18 695.92 L168.65 703.73 L175.29 698.9 L181.93 703.73 L179.39 695.92 L186.04 691.1 L177.83 691.1 Z" fill="#000" stroke="#fff" stroke-width="1.4" stroke-linejoin="round"/>
<path d="M375.46 683.29 L372.93 691.1 L364.72 691.1 L371.36 695.92 L368.82 703.73 L375.46 698.9 L382.11 703.73 L379.57 695.92 L386.21 691.1 L378 691.1 Z" fill="#000" stroke="#fff" stroke-width="1.4" stroke-linejoin="round"/>
<path d="M533.8 683.29 L531.27 691.1 L523.06 691.1 L529.7 695.92 L527.16 703.73 L533.8 698.9 L540.45 703.73 L537.91 695.92 L544.55 691.1 L536.34 691.1 Z" fill="#000" stroke="#fff" stroke-width="1.4" stroke-linejoin="round"/>
<path d="M175.29 868.68 L172.75 876.49 L164.54 876.49 L171.18 881.31 L168.65 889.12 L175.29 884.3 L181.93 889.12 L179.39 881.31 L186.04 876.49 L177.83 876.49 Z" fill="#000" stroke="#fff" stroke-width="1.4" stroke-linejoin="round"/>
<path d="M375.46 868.68 L372.93 876.49 L364.72 876.49 L371.36 881.31 L368.82 889.12 L375.46 884.3 L382.11 889.12 L379.57 881.31 L386.21 876.49 L378 876.49 Z" fill="#000" stroke="#fff" stroke-width="1.4" stroke-linejoin="round"/>
<path d="M533.8 868.68 L531.27 876.49 L523.06 876.49 L529.7 881.31 L527.16 889.12 L533.8 884.3 L540.45 889.12 L537.91 881.31 L544.55 876.49 L536.34 876.49 Z" fill="#000" stroke="#fff" stroke-width="1.4" stroke-linejoin="round"/>
<path d="M736.69 868.68 L734.15 876.49 L725.94 876.49 L732.58 881.31 L730.04 889.12 L736.69 884.3 L743.33 889.12 L740.79 881.31 L747.43 876.49 L739.22 876.49 Z" fill="#000" stroke="#fff" stroke-width="1.4" stroke-linejoin="round"/>
<path d="M175.29 1038.88 L172.75 1046.69 L164.54 1046.69 L171.18 1051.51 L168.65 1059.32 L175.29 1054.49 L181.93 1059.32 L179.39 1051.51 L186.04 1046.69 L177.83 1046.69 Z" fill="#000" stroke="#fff" stroke-width="1.4" stroke-linejoin="round"/>
<path d="M375.46 1038.88 L372.93 1046.69 L364.72 1046.69 L371.36 1051.51 L368.82 1059.32 L375.46 1054.49 L382.11 1059.32 L379.57 1051.51 L386.21 1046.69 L378 1046.69 Z" fill="#000" stroke="#fff" stroke-width="1.4" stroke-linejoin="round"/>
<path d="M533.8 1038.88 L531.27 1046.69 L523.06 1046.69 L529.7 1051.51 L527.16 1059.32 L533.8 1054.49 L540.45 1059.32 L537.91 1051.51 L544.55 1046.69 L536.34 1046.69 Z" fill="#000" stroke="#fff" stroke-width="1.4" stroke-linejoin="round"/>
<path d="M736.69 1038.88 L734.15 1046.69 L725.94 1046.69 L732.58 1051.51 L730.04 1059.32 L736.69 1054.49 L743.33 1059.32 L740.79 1051.51 L747.43 1046.69 L739.22 1046.69 Z" fill="#000" stroke="#fff" stroke-width="1.4" stroke-linejoin="round"/>
<path d="M903.32 1038.88 L900.78 1046.69 L892.57 1046.69 L899.21 1051.51 L896.67 1059.32 L903.32 1054.49 L909.96 1059.32 L907.42 1051.51 L914.06 1046.69 L905.85 1046.69 Z" fill="#000" stroke="#fff" stroke-width="1.4" stroke-linejoin="round"/>
<path d="M175.29 1238.04 L172.75 1245.85 L164.54 1245.85 L171.18 1250.68 L168.65 1258.48 L175.29 1253.66 L181.93 1258.48 L179.39 1250.68 L186.04 1245.85 L177.83 1245.85 Z" fill="#000" stroke="#fff" stroke-width="1.4" stroke-linejoin="round"/>
<path d="M375.46 1238.04 L372.93 1245.85 L364.72 1245.85 L371.36 1250.68 L368.82 1258.48 L375.46 1253.66 L382.11 1258.48 L379.57 1250.68 L386.21 1245.85 L378 1245.85 Z" fill="#000" stroke="#fff" stroke-width="1.4" stroke-linejoin="round"/>
<path d="M533.8 1238.04 L531.27 1245.85 L523.06 1245.85 L529.7 1250.68 L527.16 1258.48 L533.8 1253.66 L540.45 1258.48 L537.91 1250.68 L544.55 1245.85 L536.34 1245.85 Z" fill="#000" stroke="#fff" stroke-width="1.4" stroke-linejoin="round"/>
<path d="M736.69 1238.04 L734.15 1245.85 L725.94 1245.85 L732.58 1250.68 L730.04 1258.48 L736.69 1253.66 L743.33 1258.48 L740.79 1250.68 L747.43 1245.85 L739.22 1245.85 Z" fill="#000" stroke="#fff" stroke-width="1.4" stroke-linejoin="round"/>
<path d="M903.32 1238.04 L900.78 1245.85 L892.57 1245.85 L899.21 1250.68 L896.67 1258.48 L903.32 1253.66 L909.96 1258.48 L907.42 1250.68 L914.06 1245.85 L905.85 1245.85 Z" fill="#000" stroke="#fff" stroke-width="1.4" stroke-linejoin="round"/>
<path d="M1086.16 1238.04 L1083.62 1245.85 L1075.41 1245.85 L1082.06 1250.68 L1079.52 1258.48 L1086.16 1253.66 L1092.8 1258.48 L1090.27 1250.68 L1096.91 1245.85 L1088.7 1245.85 Z" fill="#000" stroke="#fff" stroke-width="1.4" stroke-linejoin="round"/>
<g clip-path="url(#hc0)">
<path d="M155.8 267 L155.8 163.65 L158.88 163.65 L158.88 186.05 L162.56 186.05 L162.56 168.68 L166.25 168.68 L166.25 183.29 L169.93 183.29 L169.93 155.21 L173.61 155.21 L173.61 169.69 L177.3 169.69 L177.3 153.7 L180.98 153.7 L180.98 163.65 L184.67 163.65 L184.67 172.59 L188.35 172.59 L188.35 170.95 L192.03 170.95 L192.03 161.13 L195.72 161.13 L195.72 141.37 L199.4 141.37 L199.4 131.67 L203.09 131.67 L203.09 178.5 L206.77 178.5 L206.77 141.62 L210.45 141.62 L210.45 140.36 L214.14 140.36 L214.14 161.13 L217.82 161.13 L217.82 162.39 L221.5 162.39 L221.5 179.51 L225.19 179.51 L225.19 200.91 L228.87 200.91 L228.87 172.46 L232.56 172.46 L232.56 170.95 L235.01 170.95 L235.01 267 Z" fill="#f5a5b4"/>
<path d="M103.62 267 L103.62 264.73 L107.31 264.73 L107.31 257.18 L110.99 257.18 L110.99 262.22 L114.67 262.22 L114.67 243.96 L118.36 243.96 L118.36 231.37 L122.04 231.37 L122.04 205.57 L125.73 205.57 L125.73 179.51 L129.41 179.51 L129.41 191.09 L133.09 191.09 L133.09 179.51 L136.78 179.51 L136.78 197.01 L140.46 197.01 L140.46 190.71 L144.14 190.71 L144.14 204.31 L147.83 204.31 L147.83 201.79 L151.51 201.79 L151.51 199.27 L155.2 199.27 L155.2 163.65 L158.88 163.65 L158.88 186.05 L162.56 186.05 L162.56 168.68 L166.25 168.68 L166.25 183.29 L169.93 183.29 L169.93 155.21 L173.61 155.21 L173.61 169.69 L177.3 169.69 L177.3 153.7 L180.98 153.7 L180.98 163.65 L184.67 163.65 L184.67 172.59 L188.35 172.59 L188.35 170.95 L192.03 170.95 L192.03 161.13 L195.72 161.13 L195.72 141.37 L199.4 141.37 L199.4 131.67 L203.09 131.67 L203.09 178.5 L206.77 178.5 L206.77 141.62 L210.45 141.62 L210.45 140.36 L214.14 140.36 L214.14 161.13 L217.82 161.13 L217.82 162.39 L221.5 162.39 L221.5 179.51 L225.19 179.51 L225.19 200.91 L228.87 200.91 L228.87 172.46 L232.56 172.46 L232.56 170.95 L236.24 170.95 L236.24 195.87 L239.92 195.87 L239.92 193.23 L243.61 193.23 L243.61 201.79 L247.29 201.79 L247.29 210.35 L250.97 210.35 L250.97 267" fill="none" stroke="#57057c" stroke-width="1.5" stroke-linejoin="miter"/>
</g>
<line x1="175.29" y1="125" x2="175.29" y2="267" stroke="#000" stroke-width="3.5"/>
<line x1="95.6" y1="143.88" x2="99.6" y2="143.88" stroke="#000" stroke-width="1"/>
<line x1="95.6" y1="174.47" x2="99.6" y2="174.47" stroke="#000" stroke-width="1"/>
<line x1="95.6" y1="205.57" x2="99.6" y2="205.57" stroke="#000" stroke-width="1"/>
<line x1="95.6" y1="236.41" x2="99.6" y2="236.41" stroke="#000" stroke-width="1"/>
<line x1="95.6" y1="267" x2="99.6" y2="267" stroke="#000" stroke-width="1"/>
<g clip-path="url(#hc1)">
<path d="M353.09 437.8 L353.09 388.57 L358.97 388.57 L358.97 364.59 L367.55 364.59 L367.55 331.77 L376.12 331.77 L376.12 318.9 L384.69 318.9 L384.69 302.49 L393.27 302.49 L393.27 307.54 L401.84 307.54 L401.84 338.46 L410.42 338.46 L410.42 387.69 L415.7 387.69 L415.7 437.8 Z" fill="#f5a5b4"/>
<path d="M281.8 437.8 L281.8 432.75 L290.37 432.75 L290.37 429.97 L298.95 429.97 L298.95 430.86 L307.52 430.86 L307.52 430.86 L316.1 430.86 L316.1 425.18 L324.67 425.18 L324.67 416.34 L333.25 416.34 L333.25 404.98 L341.82 404.98 L341.82 401.83 L350.4 401.83 L350.4 388.57 L358.97 388.57 L358.97 364.59 L367.55 364.59 L367.55 331.77 L376.12 331.77 L376.12 318.9 L384.69 318.9 L384.69 302.49 L393.27 302.49 L393.27 307.54 L401.84 307.54 L401.84 338.46 L410.42 338.46 L410.42 387.69 L418.99 387.69 L418.99 419.12 L427.57 419.12 L427.57 437.17 L436.14 437.17 L436.14 437.8" fill="none" stroke="#57057c" stroke-width="1.5" stroke-linejoin="miter"/>
</g>
<line x1="375.46" y1="295.8" x2="375.46" y2="437.8" stroke="#000" stroke-width="3.5"/>
<line x1="277.8" y1="323.19" x2="281.8" y2="323.19" stroke="#000" stroke-width="1"/>
<line x1="277.8" y1="361.69" x2="281.8" y2="361.69" stroke="#000" stroke-width="1"/>
<line x1="277.8" y1="399.93" x2="281.8" y2="399.93" stroke="#000" stroke-width="1"/>
<line x1="277.8" y1="437.8" x2="281.8" y2="437.8" stroke="#000" stroke-width="1"/>
<g clip-path="url(#hc2)">
<path d="M528.01 608.6 L528.01 566.14 L528.11 566.14 L528.11 544.97 L530.99 544.97 L530.99 551.65 L533.86 551.65 L533.86 525.19 L536.74 525.19 L536.74 505.03 L539.61 505.03 L539.61 495.96 L542.49 495.96 L542.49 473.53 L545.36 473.53 L545.36 498.73 L548.24 498.73 L548.24 503.77 L551.11 503.77 L551.11 549.76 L553.98 549.76 L553.98 574.96 L554 574.96 L554 608.6 Z" fill="#f5a5b4"/>
<path d="M464.88 608.6 L464.88 607.72 L467.75 607.72 L467.75 607.97 L470.63 607.97 L470.63 605.83 L473.5 605.83 L473.5 607.09 L476.38 607.09 L476.38 607.72 L479.25 607.72 L479.25 607.72 L482.12 607.72 L482.12 602.68 L485 602.68 L485 608.35 L487.87 608.35 L487.87 602.05 L490.75 602.05 L490.75 598.9 L493.62 598.9 L493.62 601.42 L496.5 601.42 L496.5 600.16 L499.37 600.16 L499.37 595.75 L502.25 595.75 L502.25 600.16 L505.12 600.16 L505.12 591.34 L507.99 591.34 L507.99 583.15 L510.87 583.15 L510.87 585.67 L513.74 585.67 L513.74 579.37 L516.62 579.37 L516.62 586.3 L519.49 586.3 L519.49 576.85 L522.37 576.85 L522.37 573.7 L525.24 573.7 L525.24 566.14 L528.11 566.14 L528.11 544.97 L530.99 544.97 L530.99 551.65 L533.86 551.65 L533.86 525.19 L536.74 525.19 L536.74 505.03 L539.61 505.03 L539.61 495.96 L542.49 495.96 L542.49 473.53 L545.36 473.53 L545.36 498.73 L548.24 498.73 L548.24 503.77 L551.11 503.77 L551.11 549.76 L553.98 549.76 L553.98 574.96 L556.86 574.96 L556.86 595.75 L559.73 595.75 L559.73 608.6" fill="none" stroke="#57057c" stroke-width="1.5" stroke-linejoin="miter"/>
</g>
<line x1="533.8" y1="466.6" x2="533.8" y2="608.6" stroke="#000" stroke-width="3.5"/>
<line x1="460" y1="473.91" x2="464" y2="473.91" stroke="#000" stroke-width="1"/>
<line x1="460" y1="518.89" x2="464" y2="518.89" stroke="#000" stroke-width="1"/>
<line x1="460" y1="563.87" x2="464" y2="563.87" stroke="#000" stroke-width="1"/>
<line x1="460" y1="608.6" x2="464" y2="608.6" stroke="#000" stroke-width="1"/>
<g clip-path="url(#hc3)">
<path d="M665.87 779.4 L665.87 687.57 L667.78 687.57 L667.78 682.91 L670.87 682.91 L670.87 654.7 L673.95 654.7 L673.95 693.83 L677.03 693.83 L677.03 685.58 L680.11 685.58 L680.11 664.28 L683.2 664.28 L683.2 668.28 L686.28 668.28 L686.28 693.83 L689.36 693.83 L689.36 677.86 L692.45 677.86 L692.45 685.58 L695.53 685.58 L695.53 688.64 L698.61 688.64 L698.61 674.93 L701.7 674.93 L701.7 676.26 L704.78 676.26 L704.78 644.05 L707.86 644.05 L707.86 677.59 L710.95 677.59 L710.95 662.95 L714.03 662.95 L714.03 696.62 L717.11 696.62 L717.11 678.92 L720.2 678.92 L720.2 666.94 L723.28 666.94 L723.28 664.28 L726.36 664.28 L726.36 682.65 L729.45 682.65 L729.45 684.25 L732.53 684.25 L732.53 666.94 L734.71 666.94 L734.71 779.4 Z" fill="#f5a5b4"/>
<path d="M646.2 779.4 L646.2 701.55 L649.28 701.55 L649.28 707.53 L652.37 707.53 L652.37 696.49 L655.45 696.49 L655.45 692.63 L658.53 692.63 L658.53 696.49 L661.62 696.49 L661.62 677.59 L664.7 677.59 L664.7 687.57 L667.78 687.57 L667.78 682.91 L670.87 682.91 L670.87 654.7 L673.95 654.7 L673.95 693.83 L677.03 693.83 L677.03 685.58 L680.11 685.58 L680.11 664.28 L683.2 664.28 L683.2 668.28 L686.28 668.28 L686.28 693.83 L689.36 693.83 L689.36 677.86 L692.45 677.86 L692.45 685.58 L695.53 685.58 L695.53 688.64 L698.61 688.64 L698.61 674.93 L701.7 674.93 L701.7 676.26 L704.78 676.26 L704.78 644.05 L707.86 644.05 L707.86 677.59 L710.95 677.59 L710.95 662.95 L714.03 662.95 L714.03 696.62 L717.11 696.62 L717.11 678.92 L720.2 678.92 L720.2 666.94 L723.28 666.94 L723.28 664.28 L726.36 664.28 L726.36 682.65 L729.45 682.65 L729.45 684.25 L732.53 684.25 L732.53 666.94 L735.61 666.94 L735.61 678.92 L738.69 678.92 L738.69 686.91 L741.78 686.91 L741.78 704.47 L744.86 704.47 L744.86 686.91 L747.94 686.91 L747.94 715.12 L751.03 715.12 L751.03 722.17 L754.11 722.17 L754.11 723.5 L757.19 723.5 L757.19 728.83 L760.28 728.83 L760.28 748.79 L763.36 748.79 L763.36 760.37 L766.44 760.37 L766.44 760.37 L769.53 760.37 L769.53 779.4" fill="none" stroke="#57057c" stroke-width="1.5" stroke-linejoin="miter"/>
</g>
<line x1="736.69" y1="637.4" x2="736.69" y2="779.4" stroke="#000" stroke-width="3.5"/>
<line x1="642.2" y1="645.65" x2="646.2" y2="645.65" stroke="#000" stroke-width="1"/>
<line x1="642.2" y1="679.32" x2="646.2" y2="679.32" stroke="#000" stroke-width="1"/>
<line x1="642.2" y1="712.86" x2="646.2" y2="712.86" stroke="#000" stroke-width="1"/>
<line x1="642.2" y1="746.53" x2="646.2" y2="746.53" stroke="#000" stroke-width="1"/>
<line x1="642.2" y1="779.4" x2="646.2" y2="779.4" stroke="#000" stroke-width="1"/>
<g clip-path="url(#hc4)">
<path d="M888.22 950.2 L888.22 882.54 L890.74 882.54 L890.74 866.16 L893.57 866.16 L893.57 861.75 L896.4 861.75 L896.4 852.68 L899.24 852.68 L899.24 856.08 L902.07 856.08 L902.07 859.23 L904.91 859.23 L904.91 836.8 L907.74 836.8 L907.74 851.92 L910.57 851.92 L910.57 837.81 L913.41 837.81 L913.41 814.5 L916.24 814.5 L916.24 849.15 L919.07 849.15 L919.07 829.24 L921.91 829.24 L921.91 828.36 L924.74 828.36 L924.74 851.04 L927.57 851.04 L927.57 859.86 L930.41 859.86 L930.41 845.62 L933.24 845.62 L933.24 850.41 L936.07 850.41 L936.07 866.16 L937.33 866.16 L937.33 950.2 Z" fill="#f5a5b4"/>
<path d="M828.4 950.2 L828.4 944.66 L831.23 944.66 L831.23 935.46 L834.07 935.46 L834.07 932.56 L836.9 932.56 L836.9 931.68 L839.73 931.68 L839.73 933.95 L842.57 933.95 L842.57 920.97 L845.4 920.97 L845.4 921.6 L848.23 921.6 L848.23 932.06 L851.07 932.06 L851.07 924.75 L853.9 924.75 L853.9 922.86 L856.74 922.86 L856.74 918.2 L859.57 918.2 L859.57 907.36 L862.4 907.36 L862.4 920.34 L865.24 920.34 L865.24 912.15 L868.07 912.15 L868.07 916.18 L870.9 916.18 L870.9 903.58 L873.74 903.58 L873.74 916.18 L876.57 916.18 L876.57 894.51 L879.4 894.51 L879.4 900.18 L882.24 900.18 L882.24 892.62 L885.07 892.62 L885.07 880.02 L887.9 880.02 L887.9 882.54 L890.74 882.54 L890.74 866.16 L893.57 866.16 L893.57 861.75 L896.4 861.75 L896.4 852.68 L899.24 852.68 L899.24 856.08 L902.07 856.08 L902.07 859.23 L904.91 859.23 L904.91 836.8 L907.74 836.8 L907.74 851.92 L910.57 851.92 L910.57 837.81 L913.41 837.81 L913.41 814.5 L916.24 814.5 L916.24 849.15 L919.07 849.15 L919.07 829.24 L921.91 829.24 L921.91 828.36 L924.74 828.36 L924.74 851.04 L927.57 851.04 L927.57 859.86 L930.41 859.86 L930.41 845.62 L933.24 845.62 L933.24 850.41 L936.07 850.41 L936.07 866.16 L938.91 866.16 L938.91 880.02 L941.74 880.02 L941.74 950.2" fill="none" stroke="#57057c" stroke-width="1.5" stroke-linejoin="miter"/>
</g>
<line x1="903.32" y1="808.2" x2="903.32" y2="950.2" stroke="#000" stroke-width="3.5"/>
<line x1="824.4" y1="852.93" x2="828.4" y2="852.93" stroke="#000" stroke-width="1"/>
<line x1="824.4" y1="901.44" x2="828.4" y2="901.44" stroke="#000" stroke-width="1"/>
<line x1="824.4" y1="950.2" x2="828.4" y2="950.2" stroke="#000" stroke-width="1"/>
<g clip-path="url(#hc5)">
<path d="M1049.13 1121 L1049.13 1054.6 L1051.88 1054.6 L1051.88 1042.5 L1055.64 1042.5 L1055.64 1013.9 L1059.39 1013.9 L1059.39 1010.12 L1063.14 1010.12 L1063.14 1036.58 L1066.89 1036.58 L1066.89 1023.98 L1070.65 1023.98 L1070.65 1001.68 L1074.4 1001.68 L1074.4 1017.05 L1078.15 1017.05 L1078.15 999.16 L1081.91 999.16 L1081.91 1006.97 L1085.66 1006.97 L1085.66 985.55 L1089.41 985.55 L1089.41 1004.45 L1093.17 1004.45 L1093.17 1029.02 L1096.92 1029.02 L1096.92 1032.8 L1100.67 1032.8 L1100.67 1039.73 L1104.42 1039.73 L1104.42 1058 L1105.24 1058 L1105.24 1121 Z" fill="#f5a5b4"/>
<path d="M1010.6 1121 L1010.6 1110.29 L1014.35 1110.29 L1014.35 1110.29 L1018.11 1110.29 L1018.11 1110.29 L1021.86 1110.29 L1021.86 1102.73 L1025.61 1102.73 L1025.61 1089.5 L1029.36 1089.5 L1029.36 1098.32 L1033.12 1098.32 L1033.12 1081.31 L1036.87 1081.31 L1036.87 1076.27 L1040.62 1076.27 L1040.62 1068.71 L1044.38 1068.71 L1044.38 1058 L1048.13 1058 L1048.13 1054.6 L1051.88 1054.6 L1051.88 1042.5 L1055.64 1042.5 L1055.64 1013.9 L1059.39 1013.9 L1059.39 1010.12 L1063.14 1010.12 L1063.14 1036.58 L1066.89 1036.58 L1066.89 1023.98 L1070.65 1023.98 L1070.65 1001.68 L1074.4 1001.68 L1074.4 1017.05 L1078.15 1017.05 L1078.15 999.16 L1081.91 999.16 L1081.91 1006.97 L1085.66 1006.97 L1085.66 985.55 L1089.41 985.55 L1089.41 1004.45 L1093.17 1004.45 L1093.17 1029.02 L1096.92 1029.02 L1096.92 1032.8 L1100.67 1032.8 L1100.67 1039.73 L1104.42 1039.73 L1104.42 1058 L1108.18 1058 L1108.18 1063.04 L1111.93 1063.04 L1111.93 1078.16 L1115.68 1078.16 L1115.68 1081.31 L1119.44 1081.31 L1119.44 1091.64 L1123.19 1091.64 L1123.19 1089.5 L1126.94 1089.5 L1126.94 1109.66 L1130.7 1109.66 L1130.7 1107.14 L1134.45 1107.14 L1134.45 1106.26 L1138.2 1106.26 L1138.2 1109.66 L1141.95 1109.66 L1141.95 1112.81 L1145.71 1112.81 L1145.71 1109.66 L1149.46 1109.66 L1149.46 1110.29 L1153.21 1110.29 L1153.21 1109.66 L1156.97 1109.66 L1156.97 1119.74 L1160.72 1119.74 L1160.72 1121" fill="none" stroke="#57057c" stroke-width="1.5" stroke-linejoin="miter"/>
</g>
<line x1="1086.16" y1="979" x2="1086.16" y2="1121" stroke="#000" stroke-width="3.5"/>
<line x1="1006.6" y1="996.64" x2="1010.6" y2="996.64" stroke="#000" stroke-width="1"/>
<line x1="1006.6" y1="1038.47" x2="1010.6" y2="1038.47" stroke="#000" stroke-width="1"/>
<line x1="1006.6" y1="1080.05" x2="1010.6" y2="1080.05" stroke="#000" stroke-width="1"/>
<line x1="1006.6" y1="1121" x2="1010.6" y2="1121" stroke="#000" stroke-width="1"/>
<g clip-path="url(#hc6)">
<path d="M1230.57 1291.8 L1230.57 1217.15 L1231.54 1217.15 L1231.54 1244.39 L1233.5 1244.39 L1233.5 1219.33 L1235.47 1219.33 L1235.47 1230.23 L1237.43 1230.23 L1237.43 1210.61 L1239.4 1210.61 L1239.4 1192.08 L1241.36 1192.08 L1241.36 1191.54 L1243.33 1191.54 L1243.33 1194.81 L1245.29 1194.81 L1245.29 1164.84 L1247.26 1164.84 L1247.26 1176.28 L1249.22 1176.28 L1249.22 1156.67 L1251.19 1156.67 L1251.19 1180.1 L1253.15 1180.1 L1253.15 1176.28 L1255.11 1176.28 L1255.11 1157.21 L1257.08 1157.21 L1257.08 1181.19 L1259.04 1181.19 L1259.04 1176.83 L1261.01 1176.83 L1261.01 1201.35 L1262.97 1201.35 L1262.97 1237.31 L1263.87 1237.31 L1263.87 1291.8 Z" fill="#f5a5b4"/>
<path d="M1194.21 1291.8 L1194.21 1284.17 L1196.18 1284.17 L1196.18 1284.17 L1198.14 1284.17 L1198.14 1274.91 L1200.11 1274.91 L1200.11 1273.82 L1202.07 1273.82 L1202.07 1272.73 L1204.04 1272.73 L1204.04 1254.2 L1206 1254.2 L1206 1263.47 L1207.97 1263.47 L1207.97 1274.36 L1209.93 1274.36 L1209.93 1259.65 L1211.9 1259.65 L1211.9 1265.1 L1213.86 1265.1 L1213.86 1252.02 L1215.82 1252.02 L1215.82 1243.85 L1217.79 1243.85 L1217.79 1244.94 L1219.75 1244.94 L1219.75 1238.95 L1221.72 1238.95 L1221.72 1240.03 L1223.68 1240.03 L1223.68 1244.39 L1225.65 1244.39 L1225.65 1226.96 L1227.61 1226.96 L1227.61 1240.03 L1229.58 1240.03 L1229.58 1217.15 L1231.54 1217.15 L1231.54 1244.39 L1233.5 1244.39 L1233.5 1219.33 L1235.47 1219.33 L1235.47 1230.23 L1237.43 1230.23 L1237.43 1210.61 L1239.4 1210.61 L1239.4 1192.08 L1241.36 1192.08 L1241.36 1191.54 L1243.33 1191.54 L1243.33 1194.81 L1245.29 1194.81 L1245.29 1164.84 L1247.26 1164.84 L1247.26 1176.28 L1249.22 1176.28 L1249.22 1156.67 L1251.19 1156.67 L1251.19 1180.1 L1253.15 1180.1 L1253.15 1176.28 L1255.11 1176.28 L1255.11 1157.21 L1257.08 1157.21 L1257.08 1181.19 L1259.04 1181.19 L1259.04 1176.83 L1261.01 1176.83 L1261.01 1201.35 L1262.97 1201.35 L1262.97 1237.31 L1264.94 1237.31 L1264.94 1266.19 L1266.9 1266.19 L1266.9 1278.72 L1268.87 1278.72 L1268.87 1291.8 L1270.83 1291.8 L1270.83 1288.53 L1272.79 1288.53 L1272.79 1291.8" fill="none" stroke="#57057c" stroke-width="1.5" stroke-linejoin="miter"/>
</g>
<line x1="1238.1" y1="1149.8" x2="1238.1" y2="1291.8" stroke="#000" stroke-width="3.5"/>
<line x1="1188.8" y1="1155.58" x2="1192.8" y2="1155.58" stroke="#000" stroke-width="1"/>
<line x1="1188.8" y1="1201.35" x2="1192.8" y2="1201.35" stroke="#000" stroke-width="1"/>
<line x1="1188.8" y1="1247.12" x2="1192.8" y2="1247.12" stroke="#000" stroke-width="1"/>
<line x1="1188.8" y1="1291.8" x2="1192.8" y2="1291.8" stroke="#000" stroke-width="1"/>
<rect x="99.6" y="125" width="151.5" height="142" fill="none" stroke="#000" stroke-width="1.1"/>
<line x1="99.6" y1="267" x2="99.6" y2="271" stroke="#000" stroke-width="1"/>
<line x1="137.47" y1="267" x2="137.47" y2="271" stroke="#000" stroke-width="1"/>
<line x1="175.35" y1="267" x2="175.35" y2="271" stroke="#000" stroke-width="1"/>
<line x1="213.22" y1="267" x2="213.22" y2="271" stroke="#000" stroke-width="1"/>
<line x1="251.1" y1="267" x2="251.1" y2="271" stroke="#000" stroke-width="1"/>
<rect x="99.6" y="295.8" width="151.5" height="142" fill="none" stroke="#000" stroke-width="1.1"/>
<line x1="99.6" y1="437.8" x2="99.6" y2="441.8" stroke="#000" stroke-width="1"/>
<line x1="137.47" y1="437.8" x2="137.47" y2="441.8" stroke="#000" stroke-width="1"/>
<line x1="175.35" y1="437.8" x2="175.35" y2="441.8" stroke="#000" stroke-width="1"/>
<line x1="213.22" y1="437.8" x2="213.22" y2="441.8" stroke="#000" stroke-width="1"/>
<line x1="251.1" y1="437.8" x2="251.1" y2="441.8" stroke="#000" stroke-width="1"/>
<line x1="95.6" y1="437.8" x2="99.6" y2="437.8" stroke="#000" stroke-width="1"/>
<line x1="95.6" y1="402.3" x2="99.6" y2="402.3" stroke="#000" stroke-width="1"/>
<line x1="95.6" y1="366.8" x2="99.6" y2="366.8" stroke="#000" stroke-width="1"/>
<line x1="95.6" y1="331.3" x2="99.6" y2="331.3" stroke="#000" stroke-width="1"/>
<line x1="95.6" y1="295.8" x2="99.6" y2="295.8" stroke="#000" stroke-width="1"/>
<rect x="281.8" y="295.8" width="151.5" height="142" fill="none" stroke="#000" stroke-width="1.1"/>
<line x1="281.8" y1="437.8" x2="281.8" y2="441.8" stroke="#000" stroke-width="1"/>
<line x1="319.67" y1="437.8" x2="319.67" y2="441.8" stroke="#000" stroke-width="1"/>
<line x1="357.55" y1="437.8" x2="357.55" y2="441.8" stroke="#000" stroke-width="1"/>
<line x1="395.42" y1="437.8" x2="395.42" y2="441.8" stroke="#000" stroke-width="1"/>
<line x1="433.3" y1="437.8" x2="433.3" y2="441.8" stroke="#000" stroke-width="1"/>
<rect x="99.6" y="466.6" width="151.5" height="142" fill="none" stroke="#000" stroke-width="1.1"/>
<line x1="99.6" y1="608.6" x2="99.6" y2="612.6" stroke="#000" stroke-width="1"/>
<line x1="137.47" y1="608.6" x2="137.47" y2="612.6" stroke="#000" stroke-width="1"/>
<line x1="175.35" y1="608.6" x2="175.35" y2="612.6" stroke="#000" stroke-width="1"/>
<line x1="213.22" y1="608.6" x2="213.22" y2="612.6" stroke="#000" stroke-width="1"/>
<line x1="251.1" y1="608.6" x2="251.1" y2="612.6" stroke="#000" stroke-width="1"/>
<line x1="95.6" y1="608.6" x2="99.6" y2="608.6" stroke="#000" stroke-width="1"/>
<line x1="95.6" y1="573.1" x2="99.6" y2="573.1" stroke="#000" stroke-width="1"/>
<line x1="95.6" y1="537.6" x2="99.6" y2="537.6" stroke="#000" stroke-width="1"/>
<line x1="95.6" y1="502.1" x2="99.6" y2="502.1" stroke="#000" stroke-width="1"/>
<line x1="95.6" y1="466.6" x2="99.6" y2="466.6" stroke="#000" stroke-width="1"/>
<rect x="281.8" y="466.6" width="151.5" height="142" fill="none" stroke="#000" stroke-width="1.1"/>
<line x1="281.8" y1="608.6" x2="281.8" y2="612.6" stroke="#000" stroke-width="1"/>
<line x1="319.67" y1="608.6" x2="319.67" y2="612.6" stroke="#000" stroke-width="1"/>
<line x1="357.55" y1="608.6" x2="357.55" y2="612.6" stroke="#000" stroke-width="1"/>
<line x1="395.42" y1="608.6" x2="395.42" y2="612.6" stroke="#000" stroke-width="1"/>
<line x1="433.3" y1="608.6" x2="433.3" y2="612.6" stroke="#000" stroke-width="1"/>
<line x1="277.8" y1="608.6" x2="281.8" y2="608.6" stroke="#000" stroke-width="1"/>
<line x1="277.8" y1="573.1" x2="281.8" y2="573.1" stroke="#000" stroke-width="1"/>
<line x1="277.8" y1="537.6" x2="281.8" y2="537.6" stroke="#000" stroke-width="1"/>
<line x1="277.8" y1="502.1" x2="281.8" y2="502.1" stroke="#000" stroke-width="1"/>
<line x1="277.8" y1="466.6" x2="281.8" y2="466.6" stroke="#000" stroke-width="1"/>
<rect x="464" y="466.6" width="151.5" height="142" fill="none" stroke="#000" stroke-width="1.1"/>
<line x1="464" y1="608.6" x2="464" y2="612.6" stroke="#000" stroke-width="1"/>
<line x1="501.88" y1="608.6" x2="501.88" y2="612.6" stroke="#000" stroke-width="1"/>
<line x1="539.75" y1="608.6" x2="539.75" y2="612.6" stroke="#000" stroke-width="1"/>
<line x1="577.62" y1="608.6" x2="577.62" y2="612.6" stroke="#000" stroke-width="1"/>
<line x1="615.5" y1="608.6" x2="615.5" y2="612.6" stroke="#000" stroke-width="1"/>
<rect x="99.6" y="637.4" width="151.5" height="142" fill="none" stroke="#000" stroke-width="1.1"/>
<line x1="99.6" y1="779.4" x2="99.6" y2="783.4" stroke="#000" stroke-width="1"/>
<line x1="137.47" y1="779.4" x2="137.47" y2="783.4" stroke="#000" stroke-width="1"/>
<line x1="175.35" y1="779.4" x2="175.35" y2="783.4" stroke="#000" stroke-width="1"/>
<line x1="213.22" y1="779.4" x2="213.22" y2="783.4" stroke="#000" stroke-width="1"/>
<line x1="251.1" y1="779.4" x2="251.1" y2="783.4" stroke="#000" stroke-width="1"/>
<line x1="95.6" y1="779.4" x2="99.6" y2="779.4" stroke="#000" stroke-width="1"/>
<line x1="95.6" y1="747.13" x2="99.6" y2="747.13" stroke="#000" stroke-width="1"/>
<line x1="95.6" y1="714.85" x2="99.6" y2="714.85" stroke="#000" stroke-width="1"/>
<line x1="95.6" y1="682.58" x2="99.6" y2="682.58" stroke="#000" stroke-width="1"/>
<line x1="95.6" y1="650.31" x2="99.6" y2="650.31" stroke="#000" stroke-width="1"/>
<rect x="281.8" y="637.4" width="151.5" height="142" fill="none" stroke="#000" stroke-width="1.1"/>
<line x1="281.8" y1="779.4" x2="281.8" y2="783.4" stroke="#000" stroke-width="1"/>
<line x1="319.67" y1="779.4" x2="319.67" y2="783.4" stroke="#000" stroke-width="1"/>
<line x1="357.55" y1="779.4" x2="357.55" y2="783.4" stroke="#000" stroke-width="1"/>
<line x1="395.42" y1="779.4" x2="395.42" y2="783.4" stroke="#000" stroke-width="1"/>
<line x1="433.3" y1="779.4" x2="433.3" y2="783.4" stroke="#000" stroke-width="1"/>
<line x1="277.8" y1="779.4" x2="281.8" y2="779.4" stroke="#000" stroke-width="1"/>
<line x1="277.8" y1="747.13" x2="281.8" y2="747.13" stroke="#000" stroke-width="1"/>
<line x1="277.8" y1="714.85" x2="281.8" y2="714.85" stroke="#000" stroke-width="1"/>
<line x1="277.8" y1="682.58" x2="281.8" y2="682.58" stroke="#000" stroke-width="1"/>
<line x1="277.8" y1="650.31" x2="281.8" y2="650.31" stroke="#000" stroke-width="1"/>
<rect x="464" y="637.4" width="151.5" height="142" fill="none" stroke="#000" stroke-width="1.1"/>
<line x1="464" y1="779.4" x2="464" y2="783.4" stroke="#000" stroke-width="1"/>
<line x1="501.88" y1="779.4" x2="501.88" y2="783.4" stroke="#000" stroke-width="1"/>
<line x1="539.75" y1="779.4" x2="539.75" y2="783.4" stroke="#000" stroke-width="1"/>
<line x1="577.62" y1="779.4" x2="577.62" y2="783.4" stroke="#000" stroke-width="1"/>
<line x1="615.5" y1="779.4" x2="615.5" y2="783.4" stroke="#000" stroke-width="1"/>
<line x1="460" y1="779.4" x2="464" y2="779.4" stroke="#000" stroke-width="1"/>
<line x1="460" y1="747.13" x2="464" y2="747.13" stroke="#000" stroke-width="1"/>
<line x1="460" y1="714.85" x2="464" y2="714.85" stroke="#000" stroke-width="1"/>
<line x1="460" y1="682.58" x2="464" y2="682.58" stroke="#000" stroke-width="1"/>
<line x1="460" y1="650.31" x2="464" y2="650.31" stroke="#000" stroke-width="1"/>
<rect x="646.2" y="637.4" width="151.5" height="142" fill="none" stroke="#000" stroke-width="1.1"/>
<line x1="646.2" y1="779.4" x2="646.2" y2="783.4" stroke="#000" stroke-width="1"/>
<line x1="715.06" y1="779.4" x2="715.06" y2="783.4" stroke="#000" stroke-width="1"/>
<line x1="783.93" y1="779.4" x2="783.93" y2="783.4" stroke="#000" stroke-width="1"/>
<rect x="99.6" y="808.2" width="151.5" height="142" fill="none" stroke="#000" stroke-width="1.1"/>
<line x1="99.6" y1="950.2" x2="99.6" y2="954.2" stroke="#000" stroke-width="1"/>
<line x1="137.47" y1="950.2" x2="137.47" y2="954.2" stroke="#000" stroke-width="1"/>
<line x1="175.35" y1="950.2" x2="175.35" y2="954.2" stroke="#000" stroke-width="1"/>
<line x1="213.22" y1="950.2" x2="213.22" y2="954.2" stroke="#000" stroke-width="1"/>
<line x1="251.1" y1="950.2" x2="251.1" y2="954.2" stroke="#000" stroke-width="1"/>
<line x1="95.6" y1="950.2" x2="99.6" y2="950.2" stroke="#000" stroke-width="1"/>
<line x1="95.6" y1="914.7" x2="99.6" y2="914.7" stroke="#000" stroke-width="1"/>
<line x1="95.6" y1="879.2" x2="99.6" y2="879.2" stroke="#000" stroke-width="1"/>
<line x1="95.6" y1="843.7" x2="99.6" y2="843.7" stroke="#000" stroke-width="1"/>
<line x1="95.6" y1="808.2" x2="99.6" y2="808.2" stroke="#000" stroke-width="1"/>
<rect x="281.8" y="808.2" width="151.5" height="142" fill="none" stroke="#000" stroke-width="1.1"/>
<line x1="281.8" y1="950.2" x2="281.8" y2="954.2" stroke="#000" stroke-width="1"/>
<line x1="319.67" y1="950.2" x2="319.67" y2="954.2" stroke="#000" stroke-width="1"/>
<line x1="357.55" y1="950.2" x2="357.55" y2="954.2" stroke="#000" stroke-width="1"/>
<line x1="395.42" y1="950.2" x2="395.42" y2="954.2" stroke="#000" stroke-width="1"/>
<line x1="433.3" y1="950.2" x2="433.3" y2="954.2" stroke="#000" stroke-width="1"/>
<line x1="277.8" y1="950.2" x2="281.8" y2="950.2" stroke="#000" stroke-width="1"/>
<line x1="277.8" y1="914.7" x2="281.8" y2="914.7" stroke="#000" stroke-width="1"/>
<line x1="277.8" y1="879.2" x2="281.8" y2="879.2" stroke="#000" stroke-width="1"/>
<line x1="277.8" y1="843.7" x2="281.8" y2="843.7" stroke="#000" stroke-width="1"/>
<line x1="277.8" y1="808.2" x2="281.8" y2="808.2" stroke="#000" stroke-width="1"/>
<rect x="464" y="808.2" width="151.5" height="142" fill="none" stroke="#000" stroke-width="1.1"/>
<line x1="464" y1="950.2" x2="464" y2="954.2" stroke="#000" stroke-width="1"/>
<line x1="501.88" y1="950.2" x2="501.88" y2="954.2" stroke="#000" stroke-width="1"/>
<line x1="539.75" y1="950.2" x2="539.75" y2="954.2" stroke="#000" stroke-width="1"/>
<line x1="577.62" y1="950.2" x2="577.62" y2="954.2" stroke="#000" stroke-width="1"/>
<line x1="615.5" y1="950.2" x2="615.5" y2="954.2" stroke="#000" stroke-width="1"/>
<line x1="460" y1="950.2" x2="464" y2="950.2" stroke="#000" stroke-width="1"/>
<line x1="460" y1="914.7" x2="464" y2="914.7" stroke="#000" stroke-width="1"/>
<line x1="460" y1="879.2" x2="464" y2="879.2" stroke="#000" stroke-width="1"/>
<line x1="460" y1="843.7" x2="464" y2="843.7" stroke="#000" stroke-width="1"/>
<line x1="460" y1="808.2" x2="464" y2="808.2" stroke="#000" stroke-width="1"/>
<rect x="646.2" y="808.2" width="151.5" height="142" fill="none" stroke="#000" stroke-width="1.1"/>
<line x1="646.2" y1="950.2" x2="646.2" y2="954.2" stroke="#000" stroke-width="1"/>
<line x1="715.06" y1="950.2" x2="715.06" y2="954.2" stroke="#000" stroke-width="1"/>
<line x1="783.93" y1="950.2" x2="783.93" y2="954.2" stroke="#000" stroke-width="1"/>
<line x1="642.2" y1="950.2" x2="646.2" y2="950.2" stroke="#000" stroke-width="1"/>
<line x1="642.2" y1="914.7" x2="646.2" y2="914.7" stroke="#000" stroke-width="1"/>
<line x1="642.2" y1="879.2" x2="646.2" y2="879.2" stroke="#000" stroke-width="1"/>
<line x1="642.2" y1="843.7" x2="646.2" y2="843.7" stroke="#000" stroke-width="1"/>
<line x1="642.2" y1="808.2" x2="646.2" y2="808.2" stroke="#000" stroke-width="1"/>
<rect x="828.4" y="808.2" width="151.5" height="142" fill="none" stroke="#000" stroke-width="1.1"/>
<line x1="828.4" y1="950.2" x2="828.4" y2="954.2" stroke="#000" stroke-width="1"/>
<line x1="866.27" y1="950.2" x2="866.27" y2="954.2" stroke="#000" stroke-width="1"/>
<line x1="904.15" y1="950.2" x2="904.15" y2="954.2" stroke="#000" stroke-width="1"/>
<line x1="942.02" y1="950.2" x2="942.02" y2="954.2" stroke="#000" stroke-width="1"/>
<line x1="979.9" y1="950.2" x2="979.9" y2="954.2" stroke="#000" stroke-width="1"/>
<rect x="99.6" y="979" width="151.5" height="142" fill="none" stroke="#000" stroke-width="1.1"/>
<line x1="99.6" y1="1121" x2="99.6" y2="1125" stroke="#000" stroke-width="1"/>
<line x1="137.47" y1="1121" x2="137.47" y2="1125" stroke="#000" stroke-width="1"/>
<line x1="175.35" y1="1121" x2="175.35" y2="1125" stroke="#000" stroke-width="1"/>
<line x1="213.22" y1="1121" x2="213.22" y2="1125" stroke="#000" stroke-width="1"/>
<line x1="251.1" y1="1121" x2="251.1" y2="1125" stroke="#000" stroke-width="1"/>
<line x1="95.6" y1="1121" x2="99.6" y2="1121" stroke="#000" stroke-width="1"/>
<line x1="95.6" y1="1085.5" x2="99.6" y2="1085.5" stroke="#000" stroke-width="1"/>
<line x1="95.6" y1="1050" x2="99.6" y2="1050" stroke="#000" stroke-width="1"/>
<line x1="95.6" y1="1014.5" x2="99.6" y2="1014.5" stroke="#000" stroke-width="1"/>
<line x1="95.6" y1="979" x2="99.6" y2="979" stroke="#000" stroke-width="1"/>
<rect x="281.8" y="979" width="151.5" height="142" fill="none" stroke="#000" stroke-width="1.1"/>
<line x1="281.8" y1="1121" x2="281.8" y2="1125" stroke="#000" stroke-width="1"/>
<line x1="319.67" y1="1121" x2="319.67" y2="1125" stroke="#000" stroke-width="1"/>
<line x1="357.55" y1="1121" x2="357.55" y2="1125" stroke="#000" stroke-width="1"/>
<line x1="395.42" y1="1121" x2="395.42" y2="1125" stroke="#000" stroke-width="1"/>
<line x1="433.3" y1="1121" x2="433.3" y2="1125" stroke="#000" stroke-width="1"/>
<line x1="277.8" y1="1121" x2="281.8" y2="1121" stroke="#000" stroke-width="1"/>
<line x1="277.8" y1="1085.5" x2="281.8" y2="1085.5" stroke="#000" stroke-width="1"/>
<line x1="277.8" y1="1050" x2="281.8" y2="1050" stroke="#000" stroke-width="1"/>
<line x1="277.8" y1="1014.5" x2="281.8" y2="1014.5" stroke="#000" stroke-width="1"/>
<line x1="277.8" y1="979" x2="281.8" y2="979" stroke="#000" stroke-width="1"/>
<rect x="464" y="979" width="151.5" height="142" fill="none" stroke="#000" stroke-width="1.1"/>
<line x1="464" y1="1121" x2="464" y2="1125" stroke="#000" stroke-width="1"/>
<line x1="501.88" y1="1121" x2="501.88" y2="1125" stroke="#000" stroke-width="1"/>
<line x1="539.75" y1="1121" x2="539.75" y2="1125" stroke="#000" stroke-width="1"/>
<line x1="577.62" y1="1121" x2="577.62" y2="1125" stroke="#000" stroke-width="1"/>
<line x1="615.5" y1="1121" x2="615.5" y2="1125" stroke="#000" stroke-width="1"/>
<line x1="460" y1="1121" x2="464" y2="1121" stroke="#000" stroke-width="1"/>
<line x1="460" y1="1085.5" x2="464" y2="1085.5" stroke="#000" stroke-width="1"/>
<line x1="460" y1="1050" x2="464" y2="1050" stroke="#000" stroke-width="1"/>
<line x1="460" y1="1014.5" x2="464" y2="1014.5" stroke="#000" stroke-width="1"/>
<line x1="460" y1="979" x2="464" y2="979" stroke="#000" stroke-width="1"/>
<rect x="646.2" y="979" width="151.5" height="142" fill="none" stroke="#000" stroke-width="1.1"/>
<line x1="646.2" y1="1121" x2="646.2" y2="1125" stroke="#000" stroke-width="1"/>
<line x1="715.06" y1="1121" x2="715.06" y2="1125" stroke="#000" stroke-width="1"/>
<line x1="783.93" y1="1121" x2="783.93" y2="1125" stroke="#000" stroke-width="1"/>
<line x1="642.2" y1="1121" x2="646.2" y2="1121" stroke="#000" stroke-width="1"/>
<line x1="642.2" y1="1085.5" x2="646.2" y2="1085.5" stroke="#000" stroke-width="1"/>
<line x1="642.2" y1="1050" x2="646.2" y2="1050" stroke="#000" stroke-width="1"/>
<line x1="642.2" y1="1014.5" x2="646.2" y2="1014.5" stroke="#000" stroke-width="1"/>
<line x1="642.2" y1="979" x2="646.2" y2="979" stroke="#000" stroke-width="1"/>
<rect x="828.4" y="979" width="151.5" height="142" fill="none" stroke="#000" stroke-width="1.1"/>
<line x1="828.4" y1="1121" x2="828.4" y2="1125" stroke="#000" stroke-width="1"/>
<line x1="866.27" y1="1121" x2="866.27" y2="1125" stroke="#000" stroke-width="1"/>
<line x1="904.15" y1="1121" x2="904.15" y2="1125" stroke="#000" stroke-width="1"/>
<line x1="942.02" y1="1121" x2="942.02" y2="1125" stroke="#000" stroke-width="1"/>
<line x1="979.9" y1="1121" x2="979.9" y2="1125" stroke="#000" stroke-width="1"/>
<line x1="824.4" y1="1121" x2="828.4" y2="1121" stroke="#000" stroke-width="1"/>
<line x1="824.4" y1="1085.5" x2="828.4" y2="1085.5" stroke="#000" stroke-width="1"/>
<line x1="824.4" y1="1050" x2="828.4" y2="1050" stroke="#000" stroke-width="1"/>
<line x1="824.4" y1="1014.5" x2="828.4" y2="1014.5" stroke="#000" stroke-width="1"/>
<line x1="824.4" y1="979" x2="828.4" y2="979" stroke="#000" stroke-width="1"/>
<rect x="1010.6" y="979" width="151.5" height="142" fill="none" stroke="#000" stroke-width="1.1"/>
<line x1="1010.6" y1="1121" x2="1010.6" y2="1125" stroke="#000" stroke-width="1"/>
<line x1="1048.47" y1="1121" x2="1048.47" y2="1125" stroke="#000" stroke-width="1"/>
<line x1="1086.35" y1="1121" x2="1086.35" y2="1125" stroke="#000" stroke-width="1"/>
<line x1="1124.22" y1="1121" x2="1124.22" y2="1125" stroke="#000" stroke-width="1"/>
<line x1="1162.1" y1="1121" x2="1162.1" y2="1125" stroke="#000" stroke-width="1"/>
<rect x="99.6" y="1149.8" width="151.5" height="142" fill="none" stroke="#000" stroke-width="1.1"/>
<line x1="99.6" y1="1291.8" x2="99.6" y2="1295.8" stroke="#000" stroke-width="1"/>
<line x1="137.47" y1="1291.8" x2="137.47" y2="1295.8" stroke="#000" stroke-width="1"/>
<line x1="175.35" y1="1291.8" x2="175.35" y2="1295.8" stroke="#000" stroke-width="1"/>
<line x1="213.22" y1="1291.8" x2="213.22" y2="1295.8" stroke="#000" stroke-width="1"/>
<line x1="251.1" y1="1291.8" x2="251.1" y2="1295.8" stroke="#000" stroke-width="1"/>
<line x1="95.6" y1="1291.8" x2="99.6" y2="1291.8" stroke="#000" stroke-width="1"/>
<line x1="95.6" y1="1263.4" x2="99.6" y2="1263.4" stroke="#000" stroke-width="1"/>
<line x1="95.6" y1="1235" x2="99.6" y2="1235" stroke="#000" stroke-width="1"/>
<line x1="95.6" y1="1206.6" x2="99.6" y2="1206.6" stroke="#000" stroke-width="1"/>
<line x1="95.6" y1="1178.2" x2="99.6" y2="1178.2" stroke="#000" stroke-width="1"/>
<line x1="95.6" y1="1149.8" x2="99.6" y2="1149.8" stroke="#000" stroke-width="1"/>
<rect x="281.8" y="1149.8" width="151.5" height="142" fill="none" stroke="#000" stroke-width="1.1"/>
<line x1="281.8" y1="1291.8" x2="281.8" y2="1295.8" stroke="#000" stroke-width="1"/>
<line x1="319.67" y1="1291.8" x2="319.67" y2="1295.8" stroke="#000" stroke-width="1"/>
<line x1="357.55" y1="1291.8" x2="357.55" y2="1295.8" stroke="#000" stroke-width="1"/>
<line x1="395.42" y1="1291.8" x2="395.42" y2="1295.8" stroke="#000" stroke-width="1"/>
<line x1="433.3" y1="1291.8" x2="433.3" y2="1295.8" stroke="#000" stroke-width="1"/>
<line x1="277.8" y1="1291.8" x2="281.8" y2="1291.8" stroke="#000" stroke-width="1"/>
<line x1="277.8" y1="1263.4" x2="281.8" y2="1263.4" stroke="#000" stroke-width="1"/>
<line x1="277.8" y1="1235" x2="281.8" y2="1235" stroke="#000" stroke-width="1"/>
<line x1="277.8" y1="1206.6" x2="281.8" y2="1206.6" stroke="#000" stroke-width="1"/>
<line x1="277.8" y1="1178.2" x2="281.8" y2="1178.2" stroke="#000" stroke-width="1"/>
<line x1="277.8" y1="1149.8" x2="281.8" y2="1149.8" stroke="#000" stroke-width="1"/>
<rect x="464" y="1149.8" width="151.5" height="142" fill="none" stroke="#000" stroke-width="1.1"/>
<line x1="464" y1="1291.8" x2="464" y2="1295.8" stroke="#000" stroke-width="1"/>
<line x1="501.88" y1="1291.8" x2="501.88" y2="1295.8" stroke="#000" stroke-width="1"/>
<line x1="539.75" y1="1291.8" x2="539.75" y2="1295.8" stroke="#000" stroke-width="1"/>
<line x1="577.62" y1="1291.8" x2="577.62" y2="1295.8" stroke="#000" stroke-width="1"/>
<line x1="615.5" y1="1291.8" x2="615.5" y2="1295.8" stroke="#000" stroke-width="1"/>
<line x1="460" y1="1291.8" x2="464" y2="1291.8" stroke="#000" stroke-width="1"/>
<line x1="460" y1="1263.4" x2="464" y2="1263.4" stroke="#000" stroke-width="1"/>
<line x1="460" y1="1235" x2="464" y2="1235" stroke="#000" stroke-width="1"/>
<line x1="460" y1="1206.6" x2="464" y2="1206.6" stroke="#000" stroke-width="1"/>
<line x1="460" y1="1178.2" x2="464" y2="1178.2" stroke="#000" stroke-width="1"/>
<line x1="460" y1="1149.8" x2="464" y2="1149.8" stroke="#000" stroke-width="1"/>
<rect x="646.2" y="1149.8" width="151.5" height="142" fill="none" stroke="#000" stroke-width="1.1"/>
<line x1="646.2" y1="1291.8" x2="646.2" y2="1295.8" stroke="#000" stroke-width="1"/>
<line x1="715.06" y1="1291.8" x2="715.06" y2="1295.8" stroke="#000" stroke-width="1"/>
<line x1="783.93" y1="1291.8" x2="783.93" y2="1295.8" stroke="#000" stroke-width="1"/>
<line x1="642.2" y1="1291.8" x2="646.2" y2="1291.8" stroke="#000" stroke-width="1"/>
<line x1="642.2" y1="1263.4" x2="646.2" y2="1263.4" stroke="#000" stroke-width="1"/>
<line x1="642.2" y1="1235" x2="646.2" y2="1235" stroke="#000" stroke-width="1"/>
<line x1="642.2" y1="1206.6" x2="646.2" y2="1206.6" stroke="#000" stroke-width="1"/>
<line x1="642.2" y1="1178.2" x2="646.2" y2="1178.2" stroke="#000" stroke-width="1"/>
<line x1="642.2" y1="1149.8" x2="646.2" y2="1149.8" stroke="#000" stroke-width="1"/>
<rect x="828.4" y="1149.8" width="151.5" height="142" fill="none" stroke="#000" stroke-width="1.1"/>
<line x1="828.4" y1="1291.8" x2="828.4" y2="1295.8" stroke="#000" stroke-width="1"/>
<line x1="866.27" y1="1291.8" x2="866.27" y2="1295.8" stroke="#000" stroke-width="1"/>
<line x1="904.15" y1="1291.8" x2="904.15" y2="1295.8" stroke="#000" stroke-width="1"/>
<line x1="942.02" y1="1291.8" x2="942.02" y2="1295.8" stroke="#000" stroke-width="1"/>
<line x1="979.9" y1="1291.8" x2="979.9" y2="1295.8" stroke="#000" stroke-width="1"/>
<line x1="824.4" y1="1291.8" x2="828.4" y2="1291.8" stroke="#000" stroke-width="1"/>
<line x1="824.4" y1="1263.4" x2="828.4" y2="1263.4" stroke="#000" stroke-width="1"/>
<line x1="824.4" y1="1235" x2="828.4" y2="1235" stroke="#000" stroke-width="1"/>
<line x1="824.4" y1="1206.6" x2="828.4" y2="1206.6" stroke="#000" stroke-width="1"/>
<line x1="824.4" y1="1178.2" x2="828.4" y2="1178.2" stroke="#000" stroke-width="1"/>
<line x1="824.4" y1="1149.8" x2="828.4" y2="1149.8" stroke="#000" stroke-width="1"/>
<rect x="1010.6" y="1149.8" width="151.5" height="142" fill="none" stroke="#000" stroke-width="1.1"/>
<line x1="1010.6" y1="1291.8" x2="1010.6" y2="1295.8" stroke="#000" stroke-width="1"/>
<line x1="1048.47" y1="1291.8" x2="1048.47" y2="1295.8" stroke="#000" stroke-width="1"/>
<line x1="1086.35" y1="1291.8" x2="1086.35" y2="1295.8" stroke="#000" stroke-width="1"/>
<line x1="1124.22" y1="1291.8" x2="1124.22" y2="1295.8" stroke="#000" stroke-width="1"/>
<line x1="1162.1" y1="1291.8" x2="1162.1" y2="1295.8" stroke="#000" stroke-width="1"/>
<line x1="1006.6" y1="1291.8" x2="1010.6" y2="1291.8" stroke="#000" stroke-width="1"/>
<line x1="1006.6" y1="1263.4" x2="1010.6" y2="1263.4" stroke="#000" stroke-width="1"/>
<line x1="1006.6" y1="1235" x2="1010.6" y2="1235" stroke="#000" stroke-width="1"/>
<line x1="1006.6" y1="1206.6" x2="1010.6" y2="1206.6" stroke="#000" stroke-width="1"/>
<line x1="1006.6" y1="1178.2" x2="1010.6" y2="1178.2" stroke="#000" stroke-width="1"/>
<line x1="1006.6" y1="1149.8" x2="1010.6" y2="1149.8" stroke="#000" stroke-width="1"/>
<rect x="1192.8" y="1149.8" width="151.5" height="142" fill="none" stroke="#000" stroke-width="1.1"/>
<line x1="1192.8" y1="1291.8" x2="1192.8" y2="1295.8" stroke="#000" stroke-width="1"/>
<line x1="1230.67" y1="1291.8" x2="1230.67" y2="1295.8" stroke="#000" stroke-width="1"/>
<line x1="1268.55" y1="1291.8" x2="1268.55" y2="1295.8" stroke="#000" stroke-width="1"/>
<line x1="1306.42" y1="1291.8" x2="1306.42" y2="1295.8" stroke="#000" stroke-width="1"/>
<line x1="1344.3" y1="1291.8" x2="1344.3" y2="1295.8" stroke="#000" stroke-width="1"/>
<g font-family="Liberation Sans, sans-serif" fill="#000" stroke="#000" stroke-width="0.25">
<text x="90.1" y="445" font-size="20.2" text-anchor="end" textLength="26.38" lengthAdjust="spacingAndGlyphs" >−5</text>
<text x="90.1" y="409.5" font-size="20.2" text-anchor="end" textLength="26.38" lengthAdjust="spacingAndGlyphs" >−4</text>
<text x="90.1" y="374" font-size="20.2" text-anchor="end" textLength="26.38" lengthAdjust="spacingAndGlyphs" >−3</text>
<text x="90.1" y="338.5" font-size="20.2" text-anchor="end" textLength="26.38" lengthAdjust="spacingAndGlyphs" >−2</text>
<text x="90.1" y="303" font-size="20.2" text-anchor="end" textLength="26.38" lengthAdjust="spacingAndGlyphs" >−1</text>
<text x="90.1" y="615.8" font-size="20.2" text-anchor="end" textLength="26.38" lengthAdjust="spacingAndGlyphs" >−4</text>
<text x="90.1" y="580.3" font-size="20.2" text-anchor="end" textLength="26.38" lengthAdjust="spacingAndGlyphs" >−3</text>
<text x="90.1" y="544.8" font-size="20.2" text-anchor="end" textLength="26.38" lengthAdjust="spacingAndGlyphs" >−2</text>
<text x="90.1" y="509.3" font-size="20.2" text-anchor="end" textLength="26.38" lengthAdjust="spacingAndGlyphs" >−1</text>
<text x="90.1" y="473.8" font-size="20.2" text-anchor="end" textLength="10.29" lengthAdjust="spacingAndGlyphs" >0</text>
<text x="90.1" y="786.6" font-size="20.2" text-anchor="end" textLength="56.91" lengthAdjust="spacingAndGlyphs" >−10.0</text>
<text x="90.1" y="754.33" font-size="20.2" text-anchor="end" textLength="44.7" lengthAdjust="spacingAndGlyphs" >−7.5</text>
<text x="90.1" y="722.05" font-size="20.2" text-anchor="end" textLength="44.7" lengthAdjust="spacingAndGlyphs" >−5.0</text>
<text x="90.1" y="689.78" font-size="20.2" text-anchor="end" textLength="44.7" lengthAdjust="spacingAndGlyphs" >−2.5</text>
<text x="90.1" y="657.51" font-size="20.2" text-anchor="end" textLength="28.61" lengthAdjust="spacingAndGlyphs" >0.0</text>
<text x="90.1" y="957.4" font-size="20.2" text-anchor="end" textLength="28.61" lengthAdjust="spacingAndGlyphs" >0.0</text>
<text x="90.1" y="921.9" font-size="20.2" text-anchor="end" textLength="28.61" lengthAdjust="spacingAndGlyphs" >0.5</text>
<text x="90.1" y="886.4" font-size="20.2" text-anchor="end" textLength="28.61" lengthAdjust="spacingAndGlyphs" >1.0</text>
<text x="90.1" y="850.9" font-size="20.2" text-anchor="end" textLength="28.61" lengthAdjust="spacingAndGlyphs" >1.5</text>
<text x="90.1" y="815.4" font-size="20.2" text-anchor="end" textLength="28.61" lengthAdjust="spacingAndGlyphs" >2.0</text>
<text x="90.1" y="1128.2" font-size="20.2" text-anchor="end" textLength="44.7" lengthAdjust="spacingAndGlyphs" >−1.0</text>
<text x="90.1" y="1092.7" font-size="20.2" text-anchor="end" textLength="44.7" lengthAdjust="spacingAndGlyphs" >−0.5</text>
<text x="90.1" y="1057.2" font-size="20.2" text-anchor="end" textLength="28.61" lengthAdjust="spacingAndGlyphs" >0.0</text>
<text x="90.1" y="1021.7" font-size="20.2" text-anchor="end" textLength="28.61" lengthAdjust="spacingAndGlyphs" >0.5</text>
<text x="90.1" y="986.2" font-size="20.2" text-anchor="end" textLength="28.61" lengthAdjust="spacingAndGlyphs" >1.0</text>
<text x="90.1" y="1299" font-size="20.2" text-anchor="end" textLength="28.61" lengthAdjust="spacingAndGlyphs" >0.0</text>
<text x="90.1" y="1270.6" font-size="20.2" text-anchor="end" textLength="28.61" lengthAdjust="spacingAndGlyphs" >0.2</text>
<text x="90.1" y="1242.2" font-size="20.2" text-anchor="end" textLength="28.61" lengthAdjust="spacingAndGlyphs" >0.4</text>
<text x="90.1" y="1213.8" font-size="20.2" text-anchor="end" textLength="28.61" lengthAdjust="spacingAndGlyphs" >0.6</text>
<text x="90.1" y="1185.4" font-size="20.2" text-anchor="end" textLength="28.61" lengthAdjust="spacingAndGlyphs" >0.8</text>
<text x="90.1" y="1157" font-size="20.2" text-anchor="end" textLength="28.61" lengthAdjust="spacingAndGlyphs" >1.0</text>
<g transform="translate(106.1 1301.8) rotate(-90)">
<text x="0" y="0" font-size="20.2" text-anchor="end" textLength="40.82" lengthAdjust="spacingAndGlyphs" >0.00</text>
</g>
<g transform="translate(143.97 1301.8) rotate(-90)">
<text x="0" y="0" font-size="20.2" text-anchor="end" textLength="40.82" lengthAdjust="spacingAndGlyphs" >0.25</text>
</g>
<g transform="translate(181.85 1301.8) rotate(-90)">
<text x="0" y="0" font-size="20.2" text-anchor="end" textLength="40.82" lengthAdjust="spacingAndGlyphs" >0.50</text>
</g>
<g transform="translate(219.72 1301.8) rotate(-90)">
<text x="0" y="0" font-size="20.2" text-anchor="end" textLength="40.82" lengthAdjust="spacingAndGlyphs" >0.75</text>
</g>
<g transform="translate(257.6 1301.8) rotate(-90)">
<text x="0" y="0" font-size="20.2" text-anchor="end" textLength="40.82" lengthAdjust="spacingAndGlyphs" >1.00</text>
</g>
<g transform="translate(288.3 1301.8) rotate(-90)">
<text x="0" y="0" font-size="20.2" text-anchor="end" textLength="26.38" lengthAdjust="spacingAndGlyphs" >−5</text>
</g>
<g transform="translate(326.17 1301.8) rotate(-90)">
<text x="0" y="0" font-size="20.2" text-anchor="end" textLength="26.38" lengthAdjust="spacingAndGlyphs" >−4</text>
</g>
<g transform="translate(364.05 1301.8) rotate(-90)">
<text x="0" y="0" font-size="20.2" text-anchor="end" textLength="26.38" lengthAdjust="spacingAndGlyphs" >−3</text>
</g>
<g transform="translate(401.92 1301.8) rotate(-90)">
<text x="0" y="0" font-size="20.2" text-anchor="end" textLength="26.38" lengthAdjust="spacingAndGlyphs" >−2</text>
</g>
<g transform="translate(439.8 1301.8) rotate(-90)">
<text x="0" y="0" font-size="20.2" text-anchor="end" textLength="26.38" lengthAdjust="spacingAndGlyphs" >−1</text>
</g>
<g transform="translate(470.5 1301.8) rotate(-90)">
<text x="0" y="0" font-size="20.2" text-anchor="end" textLength="26.38" lengthAdjust="spacingAndGlyphs" >−4</text>
</g>
<g transform="translate(508.38 1301.8) rotate(-90)">
<text x="0" y="0" font-size="20.2" text-anchor="end" textLength="26.38" lengthAdjust="spacingAndGlyphs" >−3</text>
</g>
<g transform="translate(546.25 1301.8) rotate(-90)">
<text x="0" y="0" font-size="20.2" text-anchor="end" textLength="26.38" lengthAdjust="spacingAndGlyphs" >−2</text>
</g>
<g transform="translate(584.12 1301.8) rotate(-90)">
<text x="0" y="0" font-size="20.2" text-anchor="end" textLength="26.38" lengthAdjust="spacingAndGlyphs" >−1</text>
</g>
<g transform="translate(622 1301.8) rotate(-90)">
<text x="0" y="0" font-size="20.2" text-anchor="end" textLength="10.29" lengthAdjust="spacingAndGlyphs" >0</text>
</g>
<g transform="translate(652.7 1301.8) rotate(-90)">
<text x="0" y="0" font-size="20.2" text-anchor="end" textLength="38.59" lengthAdjust="spacingAndGlyphs" >−10</text>
</g>
<g transform="translate(721.56 1301.8) rotate(-90)">
<text x="0" y="0" font-size="20.2" text-anchor="end" textLength="26.38" lengthAdjust="spacingAndGlyphs" >−5</text>
</g>
<g transform="translate(790.43 1301.8) rotate(-90)">
<text x="0" y="0" font-size="20.2" text-anchor="end" textLength="10.29" lengthAdjust="spacingAndGlyphs" >0</text>
</g>
<g transform="translate(834.9 1301.8) rotate(-90)">
<text x="0" y="0" font-size="20.2" text-anchor="end" textLength="28.61" lengthAdjust="spacingAndGlyphs" >0.0</text>
</g>
<g transform="translate(872.77 1301.8) rotate(-90)">
<text x="0" y="0" font-size="20.2" text-anchor="end" textLength="28.61" lengthAdjust="spacingAndGlyphs" >0.5</text>
</g>
<g transform="translate(910.65 1301.8) rotate(-90)">
<text x="0" y="0" font-size="20.2" text-anchor="end" textLength="28.61" lengthAdjust="spacingAndGlyphs" >1.0</text>
</g>
<g transform="translate(948.52 1301.8) rotate(-90)">
<text x="0" y="0" font-size="20.2" text-anchor="end" textLength="28.61" lengthAdjust="spacingAndGlyphs" >1.5</text>
</g>
<g transform="translate(986.4 1301.8) rotate(-90)">
<text x="0" y="0" font-size="20.2" text-anchor="end" textLength="28.61" lengthAdjust="spacingAndGlyphs" >2.0</text>
</g>
<g transform="translate(1017.1 1301.8) rotate(-90)">
<text x="0" y="0" font-size="20.2" text-anchor="end" textLength="44.7" lengthAdjust="spacingAndGlyphs" >−1.0</text>
</g>
<g transform="translate(1054.97 1301.8) rotate(-90)">
<text x="0" y="0" font-size="20.2" text-anchor="end" textLength="44.7" lengthAdjust="spacingAndGlyphs" >−0.5</text>
</g>
<g transform="translate(1092.85 1301.8) rotate(-90)">
<text x="0" y="0" font-size="20.2" text-anchor="end" textLength="28.61" lengthAdjust="spacingAndGlyphs" >0.0</text>
</g>
<g transform="translate(1130.72 1301.8) rotate(-90)">
<text x="0" y="0" font-size="20.2" text-anchor="end" textLength="28.61" lengthAdjust="spacingAndGlyphs" >0.5</text>
</g>
<g transform="translate(1168.6 1301.8) rotate(-90)">
<text x="0" y="0" font-size="20.2" text-anchor="end" textLength="28.61" lengthAdjust="spacingAndGlyphs" >1.0</text>
</g>
<g transform="translate(1199.3 1301.8) rotate(-90)">
<text x="0" y="0" font-size="20.2" text-anchor="end" textLength="40.82" lengthAdjust="spacingAndGlyphs" >0.00</text>
</g>
<g transform="translate(1237.17 1301.8) rotate(-90)">
<text x="0" y="0" font-size="20.2" text-anchor="end" textLength="40.82" lengthAdjust="spacingAndGlyphs" >0.25</text>
</g>
<g transform="translate(1275.05 1301.8) rotate(-90)">
<text x="0" y="0" font-size="20.2" text-anchor="end" textLength="40.82" lengthAdjust="spacingAndGlyphs" >0.50</text>
</g>
<g transform="translate(1312.92 1301.8) rotate(-90)">
<text x="0" y="0" font-size="20.2" text-anchor="end" textLength="40.82" lengthAdjust="spacingAndGlyphs" >0.75</text>
</g>
<g transform="translate(1350.8 1301.8) rotate(-90)">
<text x="0" y="0" font-size="20.2" text-anchor="end" textLength="40.82" lengthAdjust="spacingAndGlyphs" >1.00</text>
</g>
<text x="175.35" y="1373" font-size="30" text-anchor="middle"><tspan font-style="italic">C</tspan><tspan font-style="italic" font-size="21" dy="4.8">f</tspan></text>
<text x="357.55" y="1373" font-size="30" text-anchor="middle"><tspan font-style="italic">H</tspan><tspan font-size="21" dy="4.8">2</tspan><tspan font-style="italic" dy="-4.8">O</tspan></text>
<text x="539.75" y="1373" font-size="30" text-anchor="middle"><tspan font-style="italic">CH</tspan><tspan font-size="21" dy="4.8">4</tspan></text>
<text x="721.95" y="1373" font-size="30" text-anchor="middle"><tspan font-style="italic">CO</tspan><tspan font-size="21" dy="4.8">2</tspan></text>
<text x="904.15" y="1373" font-size="30" text-anchor="middle"><tspan font-style="italic">g</tspan></text>
<text x="1086.35" y="1373" font-size="30" text-anchor="middle"><tspan font-style="italic">P</tspan><tspan font-size="21" dy="4.8">0</tspan></text>
<text x="1268.55" y="1373" font-size="30" text-anchor="middle"><tspan font-style="italic">A</tspan><tspan font-style="italic" font-size="21" dy="4.8">s</tspan></text>
<g transform="translate(22 196) rotate(-90)"><text x="0" y="0" font-size="30" text-anchor="middle"><tspan font-style="italic">C</tspan><tspan font-style="italic" font-size="21" dy="4.8">f</tspan></text></g>
<g transform="translate(22 366.8) rotate(-90)"><text x="0" y="0" font-size="30" text-anchor="middle"><tspan font-style="italic">H</tspan><tspan font-size="21" dy="4.8">2</tspan><tspan font-style="italic" dy="-4.8">O</tspan></text></g>
<g transform="translate(22 537.6) rotate(-90)"><text x="0" y="0" font-size="30" text-anchor="middle"><tspan font-style="italic">CH</tspan><tspan font-size="21" dy="4.8">4</tspan></text></g>
<g transform="translate(22 708.4) rotate(-90)"><text x="0" y="0" font-size="30" text-anchor="middle"><tspan font-style="italic">CO</tspan><tspan font-size="21" dy="4.8">2</tspan></text></g>
<g transform="translate(22 879.2) rotate(-90)"><text x="0" y="0" font-size="30" text-anchor="middle"><tspan font-style="italic">g</tspan></text></g>
<g transform="translate(22 1050) rotate(-90)"><text x="0" y="0" font-size="30" text-anchor="middle"><tspan font-style="italic">P</tspan><tspan font-size="21" dy="4.8">0</tspan></text></g>
<g transform="translate(22 1220.8) rotate(-90)"><text x="0" y="0" font-size="30" text-anchor="middle"><tspan font-style="italic">A</tspan><tspan font-style="italic" font-size="21" dy="4.8">s</tspan></text></g>
<g transform="translate(644.3 0) scale(1.143 1)"><text x="0" y="26.4" font-size="33" text-anchor="middle">1.1 <tspan font-style="italic">μm</tspan>, SNR = 20</text></g>
</g>
<rect x="266" y="132" width="601" height="52" rx="4" ry="4" fill="#fff" fill-opacity="0.8" stroke="#cccccc" stroke-width="1.1"/>
<rect x="277" y="146" width="59" height="21" fill="#f5a5b4"/>
<g font-family="Liberation Sans, sans-serif" fill="#000">
<text x="357.8" y="166" font-size="30" textLength="210.88" lengthAdjust="spacingAndGlyphs">68.27% region</text>
<text x="706.5" y="166.5" font-size="30" textLength="154.09" lengthAdjust="spacingAndGlyphs">True value</text>
</g>
<line x1="623" y1="156.1" x2="685.7" y2="156.1" stroke="#000" stroke-width="5"/>
<path d="M654.4 144.1 L651.44 153.22 L641.85 153.22 L649.6 158.86 L646.64 167.98 L654.4 162.34 L662.16 167.98 L659.2 158.86 L666.95 153.22 L657.36 153.22 Z" fill="#000"/>
<rect x="1110.8" y="187.5" width="39.2" height="559" fill="url(#cbg)" stroke="#000" stroke-width="1.1"/>
<g font-family="Liberation Sans, sans-serif" fill="#000" stroke="#000" stroke-width="0.25">
<line x1="1150" y1="746.5" x2="1154" y2="746.5" stroke="#000" stroke-width="1"/>
<text x="1159.5" y="753.7" font-size="20.2" text-anchor="start" textLength="28.61" lengthAdjust="spacingAndGlyphs" >0.0</text>
<line x1="1150" y1="606.75" x2="1154" y2="606.75" stroke="#000" stroke-width="1"/>
<text x="1159.5" y="613.95" font-size="20.2" text-anchor="start" textLength="28.61" lengthAdjust="spacingAndGlyphs" >0.2</text>
<line x1="1150" y1="467" x2="1154" y2="467" stroke="#000" stroke-width="1"/>
<text x="1159.5" y="474.2" font-size="20.2" text-anchor="start" textLength="28.61" lengthAdjust="spacingAndGlyphs" >0.5</text>
<line x1="1150" y1="327.25" x2="1154" y2="327.25" stroke="#000" stroke-width="1"/>
<text x="1159.5" y="334.45" font-size="20.2" text-anchor="start" textLength="28.61" lengthAdjust="spacingAndGlyphs" >0.8</text>
<line x1="1150" y1="187.5" x2="1154" y2="187.5" stroke="#000" stroke-width="1"/>
<text x="1159.5" y="194.7" font-size="20.2" text-anchor="start" textLength="28.61" lengthAdjust="spacingAndGlyphs" >1.0</text>
<g transform="translate(1218 465) rotate(-90)">
<text x="0" y="0" font-size="27.8" text-anchor="middle" textLength="359.99" lengthAdjust="spacingAndGlyphs">Normalized point density</text>
</g></g>
</svg></body></html>
